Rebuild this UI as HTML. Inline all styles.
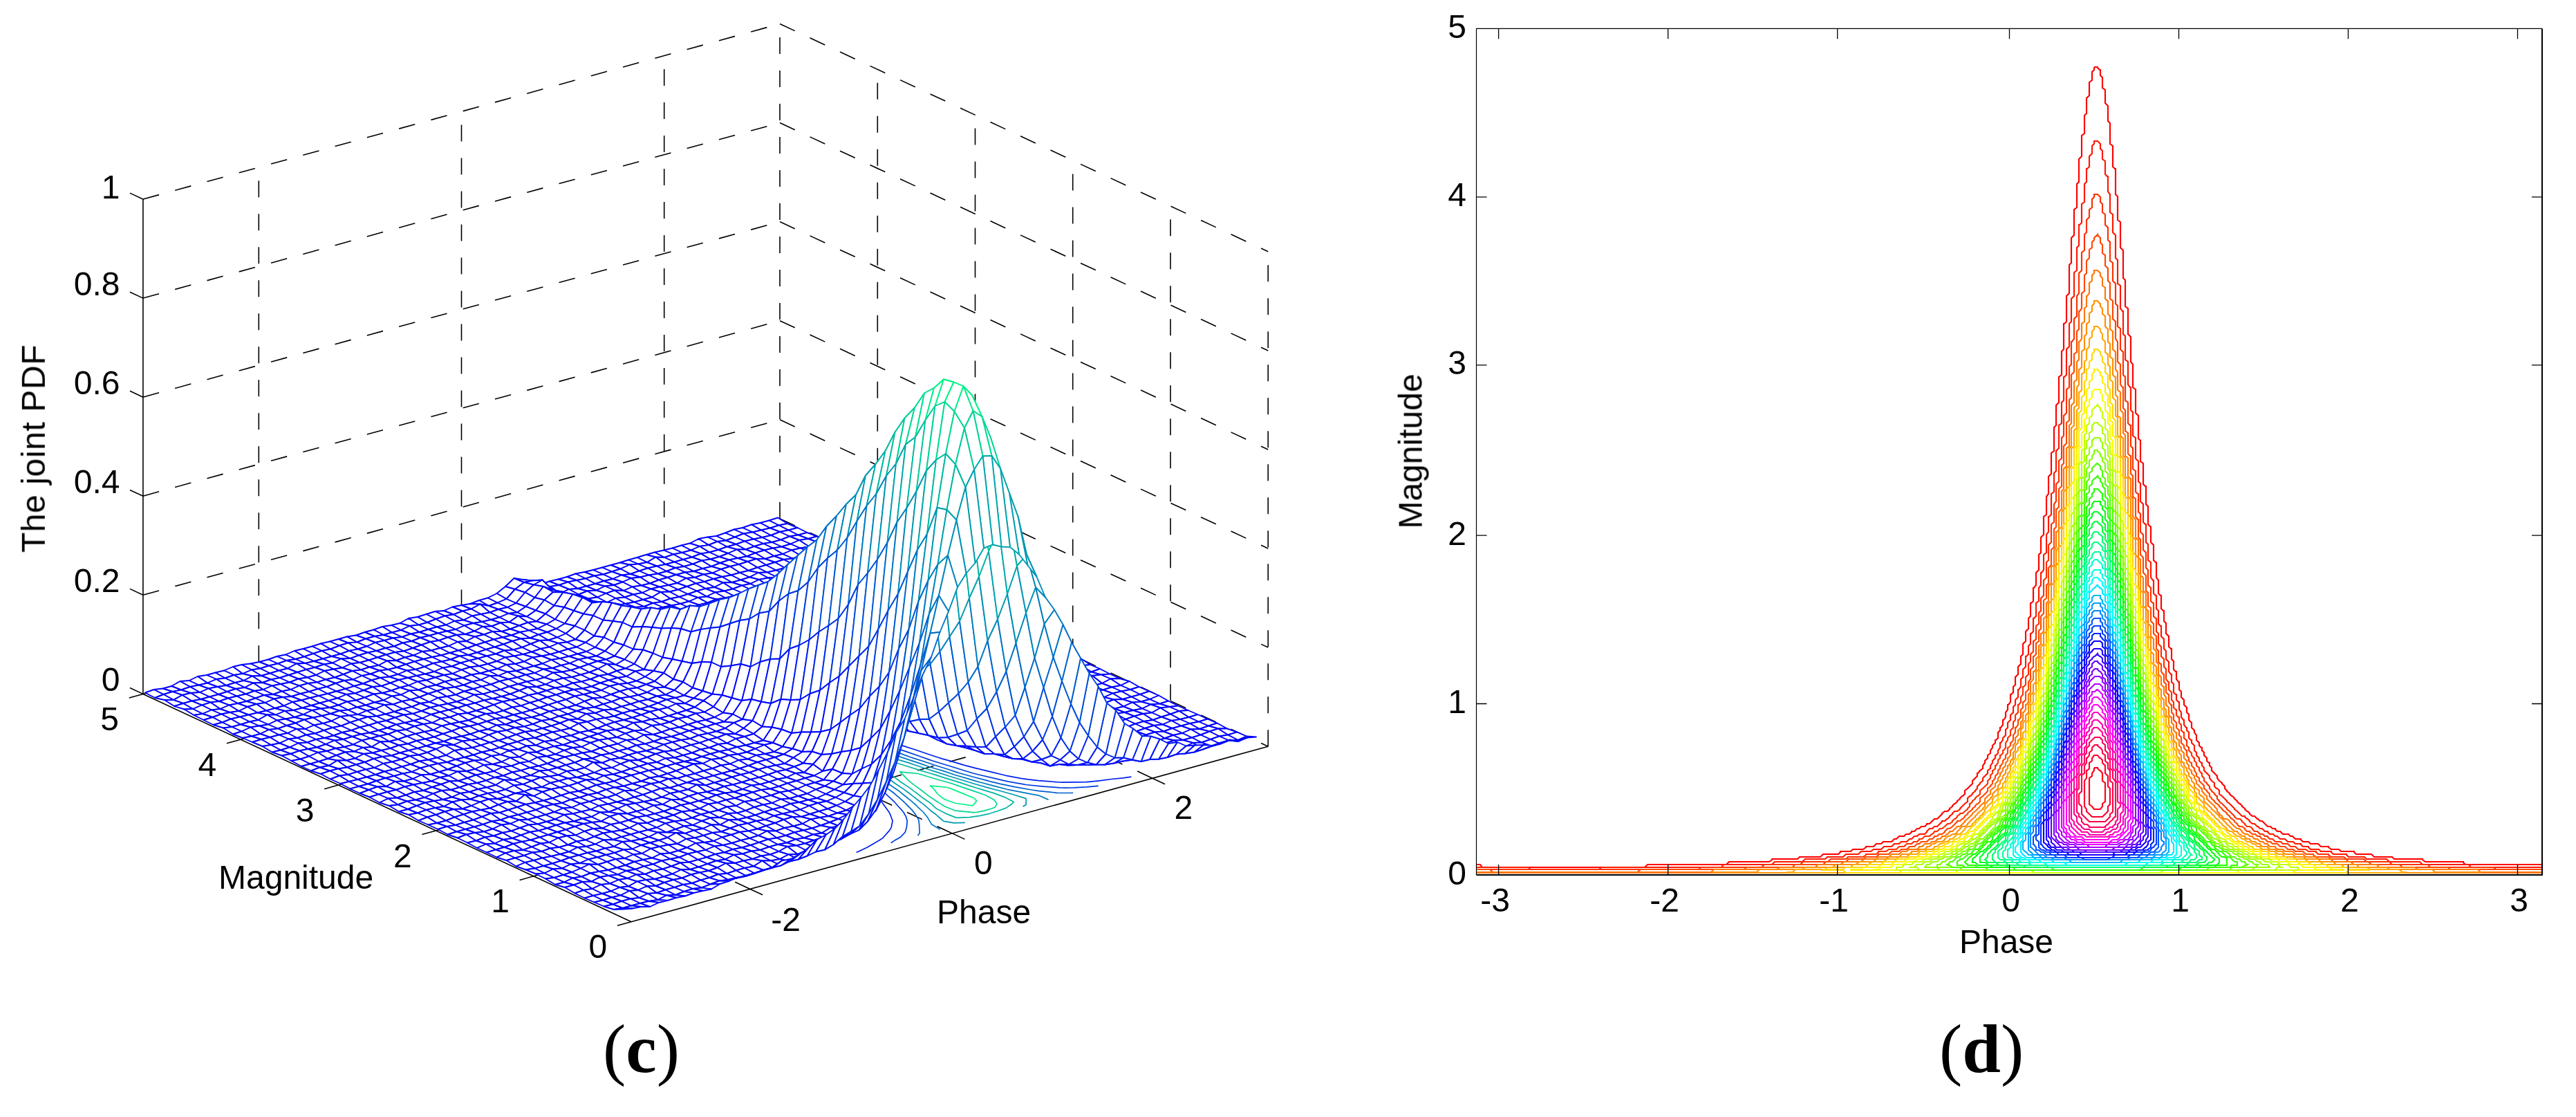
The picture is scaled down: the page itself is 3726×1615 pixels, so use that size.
<!DOCTYPE html>
<html><head><meta charset="utf-8"><title>Joint PDF</title><style>html,body{margin:0;padding:0;background:#fff}svg{display:block}</style></head><body>
<svg width="3726" height="1615" viewBox="0 0 3726 1615">
<rect width="3726" height="1615" fill="#fff"/>
<g fill="none" stroke="#000" stroke-width="1.6">
<g stroke-dasharray="24 24">
<path d="M206.9 860.3L1128 606.8"/>
<path d="M1128 606.8L1834.2 936.1"/>
<path d="M206.9 717.2L1128 463.7"/>
<path d="M1128 463.7L1834.2 793"/>
<path d="M206.9 574.2L1128 320.6"/>
<path d="M1128 320.6L1834.2 649.9"/>
<path d="M206.9 431.1L1128 177.6"/>
<path d="M1128 177.6L1834.2 506.9"/>
<path d="M206.9 288L1128 34.5"/>
<path d="M1128 34.5L1834.2 363.8"/>
<path d="M374.3 957.3L374.3 241.9"/>
<path d="M1085 1285.4L378.8 956.1"/>
<path d="M667.5 876.6L667.5 161.2"/>
<path d="M1377.3 1204.9L671.1 875.6"/>
<path d="M960.7 795.9L960.7 80.5"/>
<path d="M1666.9 1125.2L960.7 795.9"/>
<path d="M1128 749.9L1128 34.5"/>
<path d="M1693 1013.3L1693 297.9"/>
<path d="M771.9 1266.8L1693 1013.3"/>
<path d="M1551.7 947.5L1551.7 232.1"/>
<path d="M630.6 1201L1551.7 947.5"/>
<path d="M1410.5 881.6L1410.5 166.2"/>
<path d="M489.4 1135.1L1410.5 881.6"/>
<path d="M1269.3 815.7L1269.3 100.3"/>
<path d="M348.1 1069.3L1269.3 815.7"/>
<path d="M1834.2 1079.2L1834.2 363.8"/>
<path d="M206.9 1003.4L1128 749.9"/>
<path d="M1128 749.9L1834.2 1079.2"/>
</g>
<path d="M206.9 288L206.9 1003.4"/>
<path d="M206.9 1003.4L913.1 1332.7"/>
<path d="M913.1 1332.7L1834.2 1079.2"/>
<path d="M206.9 1003.4L187.9 994.5"/>
<path d="M206.9 860.3L187.9 851.4"/>
<path d="M206.9 717.2L187.9 708.4"/>
<path d="M206.9 574.2L187.9 565.3"/>
<path d="M206.9 431.1L187.9 422.2"/>
<path d="M206.9 288L187.9 279.1"/>
<path d="M913.1 1332.7L892.9 1338.3"/>
<path d="M771.9 1266.8L751.6 1272.4"/>
<path d="M630.6 1201L610.4 1206.6"/>
<path d="M489.4 1135.1L469.1 1140.7"/>
<path d="M348.1 1069.3L327.9 1074.8"/>
<path d="M206.9 1003.4L186.7 1009"/>
<path d="M1085 1285.4L1103.1 1293.8"/>
<path d="M1377.3 1204.9L1395.4 1213.4"/>
<path d="M1666.9 1125.2L1685 1133.7"/>
</g>
<g fill="none" stroke-width="1.7" stroke-linejoin="round">
<path d="M1636.3 1123.2L1624.4 1124.9L1607.5 1126.5L1592.1 1128.7L1575.2 1130.3L1571.1 1130.6L1556.4 1130.9L1536.6 1131.1L1531.9 1131L1512.6 1129.3L1502 1128.7L1487.1 1126.9L1476.4 1125.3L1455 1121.3L1453.8 1121L1433.7 1116.1L1413.3 1111.2L1412.9 1111.1L1394 1106.1L1375.9 1100.6L1362.2 1096.9L1357.1 1095.3L1340 1089.5L1323.2 1083.7L1305.4 1078.1L1293.6 1074.4L1288.2 1072.4L1272.1 1066.3L1255.8 1060.3L1239.4 1054.4L1223.6 1048.2L1205.7 1042.7L1204.7 1042.3L1190.6 1036.4L1174.7 1030.3L1159.1 1024.1L1143.3 1018L1127 1012L1111.7 1005.7L1094.9 999.9L1087.4 997.1L1079 993.8L1062.5 987.8L1047.1 981.6L1029.9 975.9L1014.8 969.6L998.4 963.6L983 957.4L980 956.4L958.1 953.7L948.8 951.3L954.5 954.7L964.1 962.6L975.8 969.8L986.4 977.4L999.6 984.2L1000.2 984.6L1010.9 991.6L1022.6 998.8L1034.8 1006L1047.7 1012.9L1060 1020L1072.2 1027.1L1085.8 1033.8L1087.2 1034.7L1096.6 1041.3L1108.8 1048.4L1121.7 1055.3L1132.7 1062.8L1145.6 1069.7L1158.5 1076.6L1163.3 1079.5L1169.5 1084.1L1181.3 1091.3L1192.8 1098.6L1204.7 1105.8L1215.9 1113.2L1217.6 1114.3L1225.9 1120.9L1236.9 1128.4L1248 1135.8L1256.3 1141.8L1258 1143.5L1266.8 1151.6L1275.3 1159.7L1276.1 1160.5L1281.8 1168.4L1286.2 1174.6L1287.5 1177.3L1290.9 1186.2L1291 1186.8L1289.5 1195L1288.4 1198L1285.1 1202.4L1279.2 1209L1276.9 1211.6L1271.8 1215L1262.8 1220.2L1253.6 1225.4L1243.7 1230.2L1238.6 1232.6" stroke="#0020ef"/>
<path d="M1588.7 1136.3L1588.2 1136.3L1571.4 1137.9L1553.4 1138.9L1540.6 1139.1L1532.9 1138.8L1509.3 1137.2L1509.2 1137.2L1483.2 1134.5L1481.9 1134.2L1458.9 1130.1L1448.8 1127.8L1438.4 1125.3L1417.5 1120.5L1407.5 1118L1398.5 1115.3L1380.8 1109.7L1362.8 1104.2L1348 1099.7L1344.9 1098.6L1328.3 1092.7L1311.3 1086.9L1294.4 1081.1L1276.6 1075.5L1274 1074.6L1260.3 1069.5L1244 1063.6L1227.4 1057.7L1212.1 1051.4L1195 1045.6L1179.4 1039.5L1175.4 1038.1L1162.2 1033.7L1145.4 1027.9L1128.6 1022L1112.2 1016.1L1095.7 1010.3L1095.2 1010.3L1073.6 1005.7L1062 1004L1066.7 1007.6L1076.9 1015.3L1088.1 1022.7L1097.4 1030L1098.1 1030.4L1110.5 1037.5L1121.5 1044.9L1133.8 1052L1145.3 1059.3L1157.5 1066.4L1165.1 1071L1169.5 1073.6L1181 1080.9L1193 1088.1L1204.7 1095.3L1216.3 1102.6L1225.8 1108.7L1227.6 1110L1238.5 1117.5L1249.8 1124.8L1260.1 1132.5L1269.1 1138.3L1271.2 1139.9L1281 1147.6L1289.7 1155.7L1293.3 1159L1297.6 1164L1305.3 1172.4L1307.3 1175L1310.7 1181.4L1312.2 1186.7L1311.8 1191.6L1311.4 1195.8L1309.4 1202.7L1308.7 1203.9L1302.4 1210.4L1293.3 1215.6L1288.8 1218.8" stroke="#003de1"/>
<path d="M1552.1 1146.3L1549.3 1146.5L1528.9 1146.3L1518.2 1145.2L1502.8 1143.6L1491.9 1142L1471.5 1138.4L1468.6 1137.9L1446.8 1133.4L1433.5 1130.2L1427.1 1128.4L1407.6 1123.3L1388.6 1118L1384.9 1116.9L1371.2 1112.3L1353.5 1106.8L1336.5 1101L1318.8 1095.4L1317.6 1095L1302.4 1089.4L1285.4 1083.6L1268.5 1077.8L1251.9 1071.9L1235.4 1066.1L1235.2 1066L1217.1 1060.5L1201.6 1054.3L1184.3 1048.6L1166.3 1043.1L1164.7 1042.5L1144.4 1038.6L1133 1037.1L1136.9 1040.7L1146.3 1048.6L1157.3 1056L1163.7 1060.9L1167.9 1063.6L1178.7 1071.1L1190.4 1078.3L1202.4 1085.5L1214.4 1092.7L1221 1097L1225.4 1100.1L1235.7 1107.7L1247.4 1115L1259.1 1122.2L1268.2 1128.5L1269.8 1129.8L1280.1 1137.4L1290.8 1145L1300.2 1152.8L1300.2 1152.8L1309.1 1160.9L1317.1 1169.1L1319.1 1171.1L1324.3 1177.6L1328.5 1184.9L1329 1186.8L1329.8 1194.9L1329.7 1197.1L1330.2 1204.5L1327.4 1208.2" stroke="#005dd0"/>
<path d="M1516.5 1156.1L1501.5 1149.8L1492.9 1148.4L1478.9 1145.6L1458.1 1141.6L1456.5 1141.2L1437 1136.1L1417.6 1131L1411.6 1129.4L1399.1 1125.6L1380.8 1120.2L1363.7 1114.4L1351.9 1111L1345.3 1109L1328.6 1103.1L1311.3 1097.4L1294.4 1091.6L1279.7 1086.7L1277.1 1085.9L1259.9 1080.1L1242.2 1074.5L1224.9 1068.8L1213.9 1065.5L1203.9 1064.1L1185.2 1061.5L1191.4 1067.6L1200.8 1075.5L1210.1 1082.5L1211.1 1083.1L1222.4 1090.5L1233.3 1097.9L1243.8 1105.5L1255.2 1112.9L1255.9 1113.3L1266.6 1120.2L1277.5 1127.7L1288 1135.2L1299 1142.7L1299.6 1143.1L1308.6 1150.5L1318.5 1158.3L1325.3 1164.5L1327 1166.4L1335.7 1174.5L1341.4 1181.5L1342.4 1183.1L1347.7 1192.1L1359.9 1199.3" stroke="#0079c2"/>
<path d="M1479.6 1166.3L1484.2 1163.2L1484.1 1154.6L1466.3 1149L1447.4 1143.8L1435.9 1140.7L1428 1138.6L1409.2 1133.3L1391.5 1127.7L1381.5 1124.7L1373.1 1122.3L1355.9 1116.6L1338 1111L1321.2 1105.2L1314.5 1102.9L1303.3 1099.6L1285.6 1094L1267.4 1088.5L1252.4 1083.4L1248.8 1083.2L1228.8 1081.9L1235.2 1086.9L1242.5 1095.4L1246.9 1099.7L1252 1103.3L1263.4 1110.6L1274.3 1118.1L1285.1 1125.6L1289.6 1129L1295.4 1133.2L1306.6 1140.6L1316.9 1148.3L1325.8 1155.3L1326.7 1156L1336.7 1163.7L1345.7 1171.7L1354.2 1178L1355.7 1179.5L1365 1187.4L1379.8 1189.9L1395.9 1189.3" stroke="#009ab2"/>
<path d="M1383.2 1182.4L1383.8 1182.4L1402.4 1181.6L1417.8 1179.4L1431.3 1176.3L1443.4 1172.5L1454.8 1168.4L1463.1 1162.8L1466.3 1159.5L1453.2 1152.6L1437.1 1146.6L1418.8 1141.1L1412.4 1139.2L1400.9 1135.6L1383.5 1129.9L1365.4 1124.4L1349.8 1119.4L1347.7 1118.8L1329.4 1113.4L1311.8 1107.7L1293.8 1102.2L1290.6 1101.2L1266.9 1099.6L1275.1 1107.4L1282.1 1115.9L1282.6 1116.4L1293.4 1123.3L1303.4 1131L1314.7 1138.4L1322.9 1144.6L1325 1146L1334.9 1153.8L1345.9 1161.2L1353.5 1168.3L1354.6 1169.3L1367.8 1176.1L1383.2 1182.4" stroke="#00b6a4"/>
<path d="M1412.6 1174.3L1423 1172.4L1435.4 1168.7L1439.3 1166.9L1442.1 1162.4L1438.3 1156.7L1425.7 1149.7L1408.8 1143.9L1391.8 1138.1L1384.2 1135.4L1374.7 1132.3L1355.9 1127L1337.8 1121.5L1327.7 1118.5L1315.2 1117.3L1301.6 1115.8L1305.9 1119.8L1313.7 1128.2L1321.7 1134.6L1323.8 1135.9L1334 1143.5L1343.8 1151.3L1355 1158.7L1360 1161.9L1366.5 1166L1382.1 1172.2L1382.1 1172.2L1407.8 1174.7L1412.6 1174.3" stroke="#00d794"/>
<path d="M1382.7 1161.5L1407 1164.9L1412.6 1158.1L1409.5 1154.2L1394.1 1147.9L1379 1141.6L1370.6 1138.5L1357.6 1137.1L1345.4 1136.2L1349.4 1139.3L1356.2 1147.9L1364 1154.3L1366.2 1155.6L1371 1157.5L1382.7 1161.5" stroke="#00f386"/>
</g>
<g fill="#fff" stroke-width="1.9" stroke-linejoin="round">
<g stroke="#0000ff">
<path d="M1126.5 759.5l12.5-2.5-14-8.5-12.5 4z"/>
<path d="M1114 763.5l12.5-4-14-7-13 3.5z"/>
<path d="M1101 766.5l13-3-14.5-7.5-12.5 2.5z"/>
<path d="M1088.5 769.5l12.5-3-14-8-13 4.5z"/>
<path d="M1075.5 771.5l13-2-14.5-6.5-12.5 2.5z"/>
<path d="M1063 776.5l12.5-5-14-6-12.5 5z"/>
<path d="M1050 781.5l13-5-14-6-13 4.5z"/>
<path d="M1037.5 783l12.5-1.5-14-6.5-12.5 1.5z"/>
<path d="M1025 788l12.5-5-14-6.5-13 2.5z"/>
<path d="M1012 790l13-2-14.5-9-12.5 6.5z"/>
<path d="M999.5 795.5l12.5-5.5-14-4.5-12.5 3z"/>
<path d="M986.5 799l13-3.5-14-7-13 4z"/>
<path d="M974 801.5l12.5-2.5-14-6.5-12.5 3z"/>
<path d="M961 806l13-4.5-14-6-13 3z"/>
<path d="M948.5 805.5l12.5 0.5-14-7.5-12.5 3.5z"/>
<path d="M936 813l12.5-7.5-14-3.5-13 4z"/>
<path d="M923 815.5l13-2.5-14.5-7-12.5 3.5z"/>
<path d="M910.5 816.5l12.5-1-14-6-12.5 4z"/>
<path d="M897.5 822.5l13-6-14-3-13 3.5z"/>
<path d="M885 826.5l12.5-4-14-5.5-12.5 3.5z"/>
<path d="M872.5 830.5l12.5-4-14-6-13 3.5z"/>
<path d="M859.5 832.5l13-2-14.5-6.5-12.5 3z"/>
<path d="M847 836.5l12.5-4-14-5.5-13 2.5z"/>
<path d="M834 839l13-2.5-14.5-7-12.5 4.5z"/>
<path d="M821.5 841.5l12.5-2.5-14-5-12.5 3.5z"/>
<path d="M808.5 846l13-4.5-14-4-13 3z"/>
<path d="M796 848l12.5-2-14-5.5-12.5 4.5z"/>
<path d="M783.5 851l12.5-3-14-3-13-4z"/>
</g>
<g stroke="#0008fb">
<path d="M770.5 839.5l13 11.5-14.5-10-12.5-3z"/>
<path d="M758 842l12.5-2.5-14-1.5-13-2z"/>
</g>
<g stroke="#0004fd">
<path d="M745 852l13-10-14.5-6-12.5 12z"/>
</g>
<g stroke="#0000ff">
<path d="M732.5 866l12.5-14-14-4-12.5 10z"/>
<path d="M719.5 871.5l13-5.5-14-8-13 6.5z"/>
<path d="M707 876l12.5-4.5-14-7-12.5 3.5z"/>
</g>
<g stroke="#0004fd">
<path d="M694.5 873.5l12.5 2.5-14-8-13 5z"/>
</g>
<g stroke="#0000ff">
<path d="M681.5 880.5l13-7-14.5-0.5-12.5 2z"/>
<path d="M669 883.5l12.5-3-14-5.5-13 2.5z"/>
<path d="M656 888.5l13-5-14.5-6-12.5 5.5z"/>
<path d="M643.5 890.5l12.5-2-14-5.5-12.5 1z"/>
<path d="M630.5 895l13-4.5-14-6.5-13 4z"/>
<path d="M618 900l12.5-5-14-7-12.5 4z"/>
<path d="M605.5 903.5l12.5-3.5-14-8-13 2z"/>
<path d="M592.5 905l13-1.5-14.5-9.5-12.5 7z"/>
<path d="M580 911l12.5-6-14-4-12.5 3z"/>
<path d="M567 914.5l13-3.5-14-7-13 2z"/>
<path d="M554.5 918l12.5-3.5-14-8.5-12.5 4.5z"/>
<path d="M542 920l12.5-2-14-7.5-13 3.5z"/>
<path d="M529 923.5l13-3.5-14.5-6-12.5 4.5z"/>
<path d="M516.5 928.5l12.5-5-14-5-13 2z"/>
<path d="M503.5 929.5l13-1-14.5-8-12.5 3.5z"/>
<path d="M491 933.5l12.5-4-14-5.5-12.5 3.5z"/>
<path d="M478 938.5l13-5-14-6-13 3z"/>
<path d="M465.5 941l12.5-2.5-14-8-12.5 4z"/>
<path d="M453 945l12.5-4-14-6.5-13 3.5z"/>
<path d="M440 949.5l13-4.5-14.5-7-12.5 3z"/>
<path d="M427.5 953l12.5-3.5-14-8.5-13 5.5z"/>
<path d="M414.5 955l13-2-14.5-6.5-12.5 2.5z"/>
<path d="M402 959.5l12.5-4.5-14-6-12.5 4.5z"/>
<path d="M389 962.5l13-3-14-6-13 3.5z"/>
<path d="M376.5 966.5l12.5-4-14-5.5-12.5 2.5z"/>
<path d="M364 968.5l12.5-2-14-7-13 1.5z"/>
<path d="M351 974l13-5.5-14.5-7.5-12.5 3z"/>
<path d="M338.5 976l12.5-2-14-10-13 5.5z"/>
<path d="M325.5 980.5l13-4.5-14.5-6.5-12.5 3z"/>
<path d="M313 982l12.5-1.5-14-8-12.5 3.5z"/>
<path d="M300 987.5l13-5.5-14-6-13 2z"/>
<path d="M287.5 990.5l12.5-3-14-9.5-12.5 6z"/>
<path d="M275 993l12.5-2.5-14-6.5-13 1z"/>
<path d="M262 997.5l13-4.5-14.5-8-12.5 7z"/>
<path d="M249.5 1000l12.5-2.5-14-5.5-12.5 3.5z"/>
<path d="M236.5 1004l13-4-14-4.5-13 1.5z"/>
<path d="M224 1009l12.5-5-14-7-12.5 4.5z"/>
<path d="M1140.5 766.5l13-3.5-14.5-6-12.5 2.5z"/>
<path d="M1128 769l12.5-2.5-14-7-12.5 4z"/>
<path d="M1115 774l13-5-14-5.5-13 3z"/>
<path d="M1102.5 777l12.5-3-14-7.5-12.5 3z"/>
<path d="M1090 779.5l12.5-2.5-14-7.5-13 2z"/>
<path d="M1077 782.5l13-3-14.5-8-12.5 5z"/>
<path d="M1064.5 787l12.5-4.5-14-6-13 5z"/>
<path d="M1051.5 790.5l13-3.5-14.5-5.5-12.5 1.5z"/>
<path d="M1039 795l12.5-4.5-14-7.5-12.5 5z"/>
<path d="M1026 798.5l13-3.5-14-7-13 2z"/>
<path d="M1013.5 800.5l12.5-2-14-8.5-12.5 5.5z"/>
<path d="M1001 805.5l12.5-5-14-5-13 3.5z"/>
<path d="M988 809l13-3.5-14.5-6.5-12.5 2.5z"/>
<path d="M975.5 812.5l12.5-3.5-14-7.5-13 4.5z"/>
<path d="M962.5 816l13-3.5-14.5-6.5-12.5-0.5z"/>
<path d="M950 818.5l12.5-2.5-14-10.5-12.5 7.5z"/>
<path d="M937 821.5l13-3-14-5.5-13 2.5z"/>
<path d="M924.5 825.5l12.5-4-14-6-12.5 1z"/>
<path d="M912 830l12.5-4.5-14-9-13 6z"/>
<path d="M899 831.5l13-1.5-14.5-7.5-12.5 4z"/>
<path d="M886.5 837l12.5-5.5-14-5-12.5 4z"/>
<path d="M873.5 840l13-3-14-6.5-13 2z"/>
<path d="M861 844l12.5-4-14-7.5-12.5 4z"/>
<path d="M848 847.5l13-3.5-14-7.5-13 2.5z"/>
<path d="M835.5 851l12.5-3.5-14-8.5-12.5 2.5z"/>
<path d="M823 852l12.5-1-14-9.5-13 4.5z"/>
<path d="M810 858l13-6-14.5-6-12.5 2z"/>
</g>
<g stroke="#0004fd">
<path d="M797.5 855.5l12.5 2.5-14-10-12.5 3z"/>
</g>
<g stroke="#000cf9">
<path d="M784.5 838.5l13 17-14-4.5-13-11.5z"/>
</g>
<g stroke="#0008fb">
<path d="M772 845.5l12.5-7-14 1-12.5 2.5z"/>
<path d="M759.5 856.5l12.5-11-14-3.5-13 10z"/>
</g>
<g stroke="#0000ff">
<path d="M746.5 872l13-15.5-14.5-4.5-12.5 14z"/>
<path d="M734 878l12.5-6-14-6-13 5.5z"/>
<path d="M721 881l13-3-14.5-6.5-12.5 4.5z"/>
<path d="M708.5 885.5l12.5-4.5-14-5-12.5-2.5z"/>
<path d="M695.5 888l13-2.5-14-12-13 7z"/>
<path d="M683 890.5l12.5-2.5-14-7.5-12.5 3z"/>
<path d="M670.5 896.5l12.5-6-14-7-13 5z"/>
<path d="M657.5 898l13-1.5-14.5-8-12.5 2z"/>
<path d="M645 903.5l12.5-5.5-14-7.5-13 4.5z"/>
<path d="M632 906.5l13-3-14.5-8.5-12.5 5z"/>
<path d="M619.5 910l12.5-3.5-14-6.5-12.5 3.5z"/>
<path d="M606.5 914l13-4-14-6.5-13 1.5z"/>
<path d="M594 916.5l12.5-2.5-14-9-12.5 6z"/>
<path d="M581.5 921l12.5-4.5-14-5.5-13 3.5z"/>
<path d="M568.5 922.5l13-1.5-14.5-6.5-12.5 3.5z"/>
<path d="M556 926l12.5-3.5-14-4.5-12.5 2z"/>
<path d="M543 929l13-3-14-6-13 3.5z"/>
<path d="M530.5 934.5l12.5-5.5-14-5.5-12.5 5z"/>
<path d="M517.5 938.5l13-4-14-6-13 1z"/>
<path d="M505 941l12.5-2.5-14-9-12.5 4z"/>
<path d="M492.5 945.5l12.5-4.5-14-7.5-13 5z"/>
<path d="M479.5 949l13-3.5-14.5-7-12.5 2.5z"/>
<path d="M467 952.5l12.5-3.5-14-8-12.5 4z"/>
<path d="M454 956l13-3.5-14-7.5-13 4.5z"/>
<path d="M441.5 959l12.5-3-14-6.5-12.5 3.5z"/>
<path d="M429 959.5l12.5-0.5-14-6-13 2z"/>
<path d="M416 966.5l13-7-14.5-4.5-12.5 4.5z"/>
<path d="M403.5 969.5l12.5-3-14-7-13 3z"/>
<path d="M390.5 973.5l13-4-14.5-7-12.5 4z"/>
<path d="M378 977l12.5-3.5-14-7-12.5 2z"/>
<path d="M365 977.5l13-0.5-14-8.5-13 5.5z"/>
<path d="M352.5 984l12.5-6.5-14-3.5-12.5 2z"/>
<path d="M340 987l12.5-3-14-8-13 4.5z"/>
<path d="M327 991l13-4-14.5-6.5-12.5 1.5z"/>
<path d="M314.5 993l12.5-2-14-9-13 5.5z"/>
<path d="M301.5 995.5l13-2.5-14.5-5.5-12.5 3z"/>
<path d="M289 1001l12.5-5.5-14-5-12.5 2.5z"/>
<path d="M276 1002l13-1-14-8-13 4.5z"/>
<path d="M263.5 1005l12.5-3-14-4.5-12.5 2.5z"/>
<path d="M251 1012l12.5-7-14-5-13 4z"/>
<path d="M238 1012l13 0-14.5-8-12.5 5z"/>
<path d="M1154.5 773.5l13-3.5-14-7-13 3.5z"/>
<path d="M1142 775.5l12.5-2-14-7-12.5 2.5z"/>
<path d="M1129.5 780.5l12.5-5-14-6.5-13 5z"/>
<path d="M1116.5 784l13-3.5-14.5-6.5-12.5 3z"/>
<path d="M1104 786l12.5-2-14-7-12.5 2.5z"/>
<path d="M1091 790l13-4-14-6.5-13 3z"/>
<path d="M1078.5 794.5l12.5-4.5-14-7.5-12.5 4.5z"/>
<path d="M1066 794.5l12.5 0-14-7.5-13 3.5z"/>
<path d="M1053 800l13-5.5-14.5-4-12.5 4.5z"/>
<path d="M1040.5 805l12.5-5-14-5-13 3.5z"/>
<path d="M1027.5 808.5l13-3.5-14.5-6.5-12.5 2z"/>
<path d="M1015 810.5l12.5-2-14-8-12.5 5z"/>
<path d="M1002 815.5l13-5-14-5-13 3.5z"/>
<path d="M989.5 819l12.5-3.5-14-6.5-12.5 3.5z"/>
<path d="M977 821l12.5-2-14-6.5-13 3.5z"/>
<path d="M964 826l13-5-14.5-5-12.5 2.5z"/>
<path d="M951.5 829.5l12.5-3.5-14-7.5-13 3z"/>
<path d="M938.5 831.5l13-2-14.5-8-12.5 4z"/>
<path d="M926 834.5l12.5-3-14-6-12.5 4.5z"/>
<path d="M913 836l13-1.5-14-4.5-13 1.5z"/>
<path d="M900.5 841.5l12.5-5.5-14-4.5-12.5 5.5z"/>
<path d="M888 846l12.5-4.5-14-4.5-13 3z"/>
<path d="M875 847.5l13-1.5-14.5-6-12.5 4z"/>
<path d="M862.5 853.5l12.5-6-14-3.5-13 3.5z"/>
<path d="M849.5 854.5l13-1-14.5-6-12.5 3.5z"/>
<path d="M837 859.5l12.5-5-14-3.5-12.5 1z"/>
<path d="M824 863.5l13-4-14-7.5-13 6z"/>
</g>
<g stroke="#0004fd">
<path d="M811.5 859l12.5 4.5-14-5.5-12.5-2.5z"/>
</g>
<g stroke="#0008fb">
<path d="M799 853l12.5 6-14-3.5-13-17z"/>
</g>
<g stroke="#000cf9">
<path d="M786 848l13 5-14.5-14.5-12.5 7z"/>
</g>
<g stroke="#0008fb">
<path d="M773.5 864l12.5-16-14-2.5-12.5 11z"/>
</g>
<g stroke="#0004fd">
<path d="M760.5 877l13-13-14-7.5-13 15.5z"/>
</g>
<g stroke="#0000ff">
<path d="M748 885.5l12.5-8.5-14-5-12.5 6z"/>
<path d="M735.5 887l12.5-1.5-14-7.5-13 3z"/>
<path d="M722.5 892.5l13-5.5-14.5-6-12.5 4.5z"/>
<path d="M710 896l12.5-3.5-14-7-13 2.5z"/>
<path d="M697 899l13-3-14.5-8-12.5 2.5z"/>
<path d="M684.5 901l12.5-2-14-8.5-12.5 6z"/>
<path d="M671.5 904.5l13-3.5-14-4.5-13 1.5z"/>
<path d="M659 910l12.5-5.5-14-6.5-12.5 5.5z"/>
<path d="M646.5 912.5l12.5-2.5-14-6.5-13 3z"/>
<path d="M633.5 915.5l13-3-14.5-6-12.5 3.5z"/>
<path d="M621 919l12.5-3.5-14-5.5-13 4z"/>
<path d="M608 922l13-3-14.5-5-12.5 2.5z"/>
<path d="M595.5 927l12.5-5-14-5.5-12.5 4.5z"/>
<path d="M582.5 929.5l13-2.5-14-6-13 1.5z"/>
<path d="M570 934.5l12.5-5-14-7-12.5 3.5z"/>
<path d="M557.5 937l12.5-2.5-14-8.5-13 3z"/>
<path d="M544.5 941l13-4-14.5-8-12.5 5.5z"/>
<path d="M532 943.5l12.5-2.5-14-6.5-13 4z"/>
<path d="M519 947.5l13-4-14.5-5-12.5 2.5z"/>
<path d="M506.5 952l12.5-4.5-14-6.5-12.5 4.5z"/>
<path d="M493.5 952.5l13-0.5-14-6.5-13 3.5z"/>
<path d="M481 958.5l12.5-6-14-3.5-12.5 3.5z"/>
<path d="M468.5 960.5l12.5-2-14-6-13 3.5z"/>
<path d="M455.5 965l13-4.5-14.5-4.5-12.5 3z"/>
<path d="M443 968l12.5-3-14-6-12.5 0.5z"/>
<path d="M430 972l13-4-14-8.5-13 7z"/>
<path d="M417.5 976l12.5-4-14-5.5-12.5 3z"/>
<path d="M404.5 980l13-4-14-6.5-13 4z"/>
<path d="M392 982.5l12.5-2.5-14-6.5-12.5 3.5z"/>
<path d="M379.5 987l12.5-4.5-14-5.5-13 0.5z"/>
<path d="M366.5 987.5l13-0.5-14.5-9.5-12.5 6.5z"/>
<path d="M354 994l12.5-6.5-14-3.5-12.5 3z"/>
<path d="M341 996l13-2-14-7-13 4z"/>
<path d="M328.5 1000l12.5-4-14-5-12.5 2z"/>
<path d="M316 1004l12.5-4-14-7-13 2.5z"/>
<path d="M303 1007.5l13-3.5-14.5-8.5-12.5 5.5z"/>
<path d="M290.5 1011l12.5-3.5-14-6.5-13 1z"/>
<path d="M277.5 1013.5l13-2.5-14.5-9-12.5 3z"/>
<path d="M265 1017l12.5-3.5-14-8.5-12.5 7z"/>
<path d="M252 1021l13-4-14-5-13 0z"/>
<path d="M1169 779l12.5-3.5-14-5.5-13 3.5z"/>
<path d="M1156 781l13-2-14.5-5.5-12.5 2z"/>
<path d="M1143.5 786.5l12.5-5.5-14-5.5-12.5 5z"/>
<path d="M1130.5 790.5l13-4-14-6-13 3.5z"/>
<path d="M1118 792.5l12.5-2-14-6.5-12.5 2z"/>
<path d="M1105.5 795.5l12.5-3-14-6.5-13 4z"/>
<path d="M1092.5 799.5l13-4-14.5-5.5-12.5 4.5z"/>
<path d="M1080 804.5l12.5-5-14-5-12.5 0z"/>
<path d="M1067 807l13-2.5-14-10-13 5.5z"/>
<path d="M1054.5 809.5l12.5-2.5-14-7-12.5 5z"/>
<path d="M1041.5 814l13-4.5-14-4.5-13 3.5z"/>
<path d="M1029 819l12.5-5-14-5.5-12.5 2z"/>
<path d="M1016.5 822l12.5-3-14-8.5-13 5z"/>
<path d="M1003.5 826l13-4-14.5-6.5-12.5 3.5z"/>
<path d="M991 827.5l12.5-1.5-14-7-12.5 2z"/>
<path d="M978 831l13-3.5-14-6.5-13 5z"/>
<path d="M965.5 835l12.5-4-14-5-12.5 3.5z"/>
<path d="M953 838.5l12.5-3.5-14-5.5-13 2z"/>
<path d="M940 843.5l13-5-14.5-7-12.5 3z"/>
<path d="M927.5 846.5l12.5-3-14-9-13 1.5z"/>
<path d="M914.5 848.5l13-2-14.5-10.5-12.5 5.5z"/>
<path d="M902 854l12.5-5.5-14-7-12.5 4.5z"/>
<path d="M889 853.5l13 0.5-14-8-13 1.5z"/>
<path d="M876.5 858l12.5-4.5-14-6-12.5 6z"/>
<path d="M864 863.5l12.5-5.5-14-4.5-13 1z"/>
<path d="M851 865.5l13-2-14.5-9-12.5 5z"/>
<path d="M838.5 869.5l12.5-4-14-6-13 4z"/>
</g>
<g stroke="#0004fd">
<path d="M825.5 863.5l13 6-14.5-6-12.5-4.5z"/>
</g>
<g stroke="#0008fb">
<path d="M813 855.5l12.5 8-14-4.5-12.5-6z"/>
</g>
<g stroke="#000cf9">
<path d="M800 856l13-0.5-14-2.5-13-5z"/>
</g>
<g stroke="#0008fb">
<path d="M787.5 867.5l12.5-11.5-14-8-12.5 16z"/>
</g>
<g stroke="#0004fd">
<path d="M775 882.5l12.5-15-14-3.5-13 13z"/>
</g>
<g stroke="#0000ff">
<path d="M762 891.5l13-9-14.5-5.5-12.5 8.5z"/>
</g>
<g stroke="#0004fd">
<path d="M749.5 890.5l12.5 1-14-6-12.5 1.5z"/>
</g>
<g stroke="#0000ff">
<path d="M736.5 899.5l13-9-14-3.5-13 5.5z"/>
<path d="M724 900.5l12.5-1-14-7-12.5 3.5z"/>
<path d="M711 905.5l13-5-14-4.5-13 3z"/>
<path d="M698.5 906l12.5-0.5-14-6.5-12.5 2z"/>
<path d="M686 912.5l12.5-6.5-14-5-13 3.5z"/>
<path d="M673 917l13-4.5-14.5-8-12.5 5.5z"/>
<path d="M660.5 918l12.5-1-14-7-12.5 2.5z"/>
<path d="M647.5 921.5l13-3.5-14-5.5-13 3z"/>
<path d="M635 926l12.5-4.5-14-6-12.5 3.5z"/>
<path d="M622.5 928l12.5-2-14-7-13 3z"/>
<path d="M609.5 932.5l13-4.5-14.5-6-12.5 5z"/>
<path d="M597 937l12.5-4.5-14-5.5-13 2.5z"/>
<path d="M584 941.5l13-4.5-14.5-7.5-12.5 5z"/>
<path d="M571.5 943l12.5-1.5-14-7-12.5 2.5z"/>
<path d="M558.5 946.5l13-3.5-14-6-13 4z"/>
<path d="M546 950.5l12.5-4-14-5.5-12.5 2.5z"/>
<path d="M533.5 954.5l12.5-4-14-7-13 4z"/>
<path d="M520.5 958l13-3.5-14.5-7-12.5 4.5z"/>
<path d="M508 959.5l12.5-1.5-14-6-13 0.5z"/>
<path d="M495 965.5l13-6-14.5-7-12.5 6z"/>
<path d="M482.5 967.5l12.5-2-14-7-12.5 2z"/>
<path d="M469.5 970l13-2.5-14-7-13 4.5z"/>
<path d="M457 976l12.5-6-14-5-12.5 3z"/>
<path d="M444.5 979.5l12.5-3.5-14-8-13 4z"/>
<path d="M431.5 981.5l13-2-14.5-7.5-12.5 4z"/>
<path d="M419 986.5l12.5-5-14-5.5-13 4z"/>
<path d="M406 989l13-2.5-14.5-6.5-12.5 2.5z"/>
<path d="M393.5 991.5l12.5-2.5-14-6.5-12.5 4.5z"/>
<path d="M380.5 997l13-5.5-14-4.5-13 0.5z"/>
<path d="M368 999l12.5-2-14-9.5-12.5 6.5z"/>
<path d="M355.5 1003.5l12.5-4.5-14-5-13 2z"/>
<path d="M342.5 1006.5l13-3-14.5-7.5-12.5 4z"/>
<path d="M330 1009.5l12.5-3-14-6.5-12.5 4z"/>
<path d="M317 1014l13-4.5-14-5.5-13 3.5z"/>
<path d="M304.5 1015.5l12.5-1.5-14-6.5-12.5 3.5z"/>
<path d="M292 1019.5l12.5-4-14-4.5-13 2.5z"/>
<path d="M279 1025l13-5.5-14.5-6-12.5 3.5z"/>
<path d="M266.5 1025.5l12.5-0.5-14-8-13 4z"/>
<path d="M1183 784l12.5-2-14-6.5-12.5 3.5z"/>
<path d="M1170.5 790.5l12.5-6.5-14-5-13 2z"/>
<path d="M1157.5 792.5l13-2-14.5-9.5-12.5 5.5z"/>
<path d="M1145 795.5l12.5-3-14-6-13 4z"/>
<path d="M1132 801l13-5.5-14.5-5-12.5 2z"/>
<path d="M1119.5 804l12.5-3-14-8.5-12.5 3z"/>
<path d="M1106.5 808l13-4-14-8.5-13 4z"/>
<path d="M1094 808l12.5 0-14-8.5-12.5 5z"/>
<path d="M1081.5 812l12.5-4-14-3.5-13 2.5z"/>
<path d="M1068.5 816l13-4-14.5-5-12.5 2.5z"/>
<path d="M1056 819l12.5-3-14-6.5-13 4.5z"/>
<path d="M1043 823l13-4-14.5-5-12.5 5z"/>
<path d="M1030.5 828.5l12.5-5.5-14-4-12.5 3z"/>
<path d="M1017.5 830.5l13-2-14-6.5-13 4z"/>
<path d="M1005 835l12.5-4.5-14-4.5-12.5 1.5z"/>
<path d="M992.5 836l12.5-1-14-7.5-13 3.5z"/>
<path d="M979.5 843l13-7-14.5-5-12.5 4z"/>
<path d="M967 846l12.5-3-14-8-12.5 3.5z"/>
<path d="M954 848.5l13-2.5-14-7.5-13 5z"/>
<path d="M941.5 851.5l12.5-3-14-5-12.5 3z"/>
<path d="M929 857l12.5-5.5-14-5-13 2z"/>
<path d="M916 859.5l13-2.5-14.5-8.5-12.5 5.5z"/>
<path d="M903.5 863.5l12.5-4-14-5.5-13-0.5z"/>
<path d="M890.5 865l13-1.5-14.5-10-12.5 4.5z"/>
<path d="M878 871l12.5-6-14-7-12.5 5.5z"/>
<path d="M865 872.5l13-1.5-14-7.5-13 2z"/>
<path d="M852.5 875l12.5-2.5-14-7-12.5 4z"/>
</g>
<g stroke="#0004fd">
<path d="M840 870.5l12.5 4.5-14-5.5-13-6z"/>
</g>
<g stroke="#000cf9">
<path d="M827 859.5l13 11-14.5-7-12.5-8z"/>
<path d="M814.5 856.5l12.5 3-14-4-13 0.5z"/>
</g>
<g stroke="#0008fb">
<path d="M801.5 875.5l13-19-14.5-0.5-12.5 11.5z"/>
</g>
<g stroke="#0004fd">
<path d="M789 887.5l12.5-12-14-8-12.5 15z"/>
</g>
<g stroke="#0000ff">
<path d="M776 898.5l13-11-14-5-13 9z"/>
<path d="M763.5 900l12.5-1.5-14-7-12.5-1z"/>
<path d="M751 904.5l12.5-4.5-14-9.5-13 9z"/>
<path d="M738 909.5l13-5-14.5-5-12.5 1z"/>
<path d="M725.5 913l12.5-3.5-14-9-13 5z"/>
<path d="M712.5 913l13 0-14.5-7.5-12.5 0.5z"/>
<path d="M700 917.5l12.5-4.5-14-7-12.5 6.5z"/>
<path d="M687 920.5l13-3-14-5-13 4.5z"/>
<path d="M674.5 927l12.5-6.5-14-3.5-12.5 1z"/>
<path d="M662 928l12.5-1-14-9-13 3.5z"/>
<path d="M649 934l13-6-14.5-6.5-12.5 4.5z"/>
<path d="M636.5 937l12.5-3-14-8-12.5 2z"/>
<path d="M623.5 940.5l13-3.5-14-9-13 4.5z"/>
<path d="M611 942l12.5-1.5-14-8-12.5 4.5z"/>
<path d="M598 947.5l13-5.5-14-5-13 4.5z"/>
<path d="M585.5 950.5l12.5-3-14-6-12.5 1.5z"/>
<path d="M573 955l12.5-4.5-14-7.5-13 3.5z"/>
<path d="M560 955.5l13-0.5-14.5-8.5-12.5 4z"/>
<path d="M547.5 962l12.5-6.5-14-5-12.5 4z"/>
<path d="M534.5 964.5l13-2.5-14-7.5-13 3.5z"/>
<path d="M522 968.5l12.5-4-14-6.5-12.5 1.5z"/>
<path d="M509.5 970l12.5-1.5-14-9-13 6z"/>
<path d="M496.5 975l13-5-14.5-4.5-12.5 2z"/>
<path d="M484 979.5l12.5-4.5-14-7.5-13 2.5z"/>
<path d="M471 982.5l13-3-14.5-9.5-12.5 6z"/>
<path d="M458.5 986.5l12.5-4-14-6.5-12.5 3.5z"/>
<path d="M445.5 988l13-1.5-14-7-13 2z"/>
<path d="M433 991.5l12.5-3.5-14-6.5-12.5 5z"/>
<path d="M420.5 997l12.5-5.5-14-5-13 2.5z"/>
<path d="M407.5 999.5l13-2.5-14.5-8-12.5 2.5z"/>
<path d="M395 1004l12.5-4.5-14-8-13 5.5z"/>
<path d="M382 1005l13-1-14.5-7-12.5 2z"/>
<path d="M369.5 1009.5l12.5-4.5-14-6-12.5 4.5z"/>
<path d="M356.5 1014l13-4.5-14-6-13 3z"/>
<path d="M344 1017l12.5-3-14-7.5-12.5 3z"/>
<path d="M331.5 1019.5l12.5-2.5-14-7.5-13 4.5z"/>
<path d="M318.5 1025l13-5.5-14.5-5.5-12.5 1.5z"/>
<path d="M306 1026.5l12.5-1.5-14-9.5-12.5 4z"/>
<path d="M293 1032l13-5.5-14-7-13 5.5z"/>
<path d="M280.5 1034l12.5-2-14-7-12.5 0.5z"/>
<path d="M1197 792.5l13-3.5-14.5-7-12.5 2z"/>
<path d="M1184.5 797l12.5-4.5-14-8.5-12.5 6.5z"/>
<path d="M1171.5 798.5l13-1.5-14-6.5-13 2z"/>
<path d="M1159 804l12.5-5.5-14-6-12.5 3z"/>
<path d="M1146.5 807.5l12.5-3.5-14-8.5-13 5.5z"/>
<path d="M1133.5 809l13-1.5-14.5-6.5-12.5 3z"/>
<path d="M1121 813l12.5-4-14-5-13 4z"/>
<path d="M1108 817l13-4-14.5-5-12.5 0z"/>
<path d="M1095.5 820.5l12.5-3.5-14-9-12.5 4z"/>
<path d="M1082.5 825l13-4.5-14-8.5-13 4z"/>
<path d="M1070 828l12.5-3-14-9-12.5 3z"/>
<path d="M1057.5 831.5l12.5-3.5-14-9-13 4z"/>
<path d="M1044.5 834l13-2.5-14.5-8.5-12.5 5.5z"/>
<path d="M1032 837l12.5-3-14-5.5-13 2z"/>
<path d="M1019 841l13-4-14.5-6.5-12.5 4.5z"/>
<path d="M1006.5 843.5l12.5-2.5-14-6-12.5 1z"/>
<path d="M993.5 848l13-4.5-14-7.5-13 7z"/>
<path d="M981 852.5l12.5-4.5-14-5-12.5 3z"/>
<path d="M968.5 855.5l12.5-3-14-6.5-13 2.5z"/>
<path d="M955.5 856l13-0.5-14.5-7-12.5 3z"/>
<path d="M943 863.5l12.5-7.5-14-4.5-12.5 5.5z"/>
<path d="M930 867l13-3.5-14-6.5-13 2.5z"/>
<path d="M917.5 870.5l12.5-3.5-14-7.5-12.5 4z"/>
<path d="M904.5 873l13-2.5-14-7-13 1.5z"/>
<path d="M892 875.5l12.5-2.5-14-8-12.5 6z"/>
<path d="M879.5 878l12.5-2.5-14-4.5-13 1.5z"/>
</g>
<g stroke="#0004fd">
<path d="M866.5 878.5l13-0.5-14.5-5.5-12.5 2.5z"/>
<path d="M854 875l12.5 3.5-14-3.5-12.5-4.5z"/>
</g>
<g stroke="#000cf9">
<path d="M841 862.5l13 12.5-14-4.5-13-11z"/>
</g>
<g stroke="#0010f7">
<path d="M828.5 859l12.5 3.5-14-3-12.5-3z"/>
</g>
<g stroke="#0008fb">
<path d="M816 878l12.5-19-14-2.5-13 19z"/>
</g>
<g stroke="#0004fd">
<path d="M803 895.5l13-17.5-14.5-2.5-12.5 12z"/>
</g>
<g stroke="#0000ff">
<path d="M790.5 902.5l12.5-7-14-8-13 11z"/>
<path d="M777.5 909l13-6.5-14.5-4-12.5 1.5z"/>
<path d="M765 911.5l12.5-2.5-14-9-12.5 4.5z"/>
<path d="M752 914l13-2.5-14-7-13 5z"/>
<path d="M739.5 918.5l12.5-4.5-14-4.5-12.5 3.5z"/>
<path d="M727 921.5l12.5-3-14-5.5-13 0z"/>
<path d="M714 924.5l13-3-14.5-8.5-12.5 4.5z"/>
<path d="M701.5 928.5l12.5-4-14-7-13 3z"/>
<path d="M688.5 932.5l13-4-14.5-8-12.5 6.5z"/>
<path d="M676 937l12.5-4.5-14-5.5-12.5 1z"/>
<path d="M663 940.5l13-3.5-14-9-13 6z"/>
<path d="M650.5 944l12.5-3.5-14-6.5-12.5 3z"/>
<path d="M638 947.5l12.5-3.5-14-7-13 3.5z"/>
<path d="M625 950l13-2.5-14.5-7-12.5 1.5z"/>
<path d="M612.5 953l12.5-3-14-8-13 5.5z"/>
<path d="M599.5 956.5l13-3.5-14.5-5.5-12.5 3z"/>
<path d="M587 960.5l12.5-4-14-6-12.5 4.5z"/>
<path d="M574 965l13-4.5-14-5.5-13 0.5z"/>
<path d="M561.5 968l12.5-3-14-9.5-12.5 6.5z"/>
<path d="M549 969.5l12.5-1.5-14-6-13 2.5z"/>
<path d="M536 974.5l13-5-14.5-5-12.5 4z"/>
<path d="M523.5 977l12.5-2.5-14-6-12.5 1.5z"/>
<path d="M510.5 982.5l13-5.5-14-7-13 5z"/>
<path d="M498 984l12.5-1.5-14-7.5-12.5 4.5z"/>
<path d="M485.5 988l12.5-4-14-4.5-13 3z"/>
<path d="M472.5 993l13-5-14.5-5.5-12.5 4z"/>
<path d="M460 996l12.5-3-14-6.5-13 1.5z"/>
<path d="M447 1000l13-4-14.5-8-12.5 3.5z"/>
<path d="M434.5 1003l12.5-3-14-8.5-12.5 5.5z"/>
<path d="M421.5 1007l13-4-14-6-13 2.5z"/>
<path d="M409 1008l12.5-1-14-7.5-12.5 4.5z"/>
<path d="M396.5 1010.5l12.5-2.5-14-4-13 1z"/>
<path d="M383.5 1016l13-5.5-14.5-5.5-12.5 4.5z"/>
<path d="M371 1018l12.5-2-14-6.5-13 4.5z"/>
<path d="M358 1022l13-4-14.5-4-12.5 3z"/>
<path d="M345.5 1028l12.5-6-14-5-12.5 2.5z"/>
<path d="M332.5 1030l13-2-14-8.5-13 5.5z"/>
<path d="M320 1032.5l12.5-2.5-14-5-12.5 1.5z"/>
<path d="M307.5 1037l12.5-4.5-14-6-13 5.5z"/>
<path d="M294.5 1041l13-4-14.5-5-12.5 2z"/>
<path d="M1211 799l13-4-14-6-13 3.5z"/>
<path d="M1198.5 800l12.5-1-14-6.5-12.5 4.5z"/>
<path d="M1186 805l12.5-5-14-3-13 1.5z"/>
<path d="M1173 809l13-4-14.5-6.5-12.5 5.5z"/>
<path d="M1160.5 812.5l12.5-3.5-14-5-12.5 3.5z"/>
<path d="M1147.5 816l13-3.5-14-5-13 1.5z"/>
<path d="M1135 821l12.5-5-14-7-12.5 4z"/>
<path d="M1122.5 824.5l12.5-3.5-14-8-13 4z"/>
<path d="M1109.5 827.5l13-3-14.5-7.5-12.5 3.5z"/>
<path d="M1097 828l12.5-0.5-14-7-13 4.5z"/>
<path d="M1084 834.5l13-6.5-14.5-3-12.5 3z"/>
<path d="M1071.5 838.5l12.5-4-14-6.5-12.5 3.5z"/>
<path d="M1058.5 842l13-3.5-14-7-13 2.5z"/>
<path d="M1046 842.5l12.5-0.5-14-8-12.5 3z"/>
<path d="M1033.5 849l12.5-6.5-14-5.5-13 4z"/>
<path d="M1020.5 851l13-2-14.5-8-12.5 2.5z"/>
<path d="M1008 854.5l12.5-3.5-14-7.5-13 4.5z"/>
<path d="M995 859l13-4.5-14.5-6.5-12.5 4.5z"/>
<path d="M982.5 863l12.5-4-14-6.5-12.5 3z"/>
<path d="M969.5 865.5l13-2.5-14-7.5-13 0.5z"/>
<path d="M957 870l12.5-4.5-14-9.5-12.5 7.5z"/>
<path d="M944.5 872l12.5-2-14-6.5-13 3.5z"/>
<path d="M931.5 877l13-5-14.5-5-12.5 3.5z"/>
<path d="M919 878l12.5-1-14-6.5-13 2.5z"/>
<path d="M906 884l13-6-14.5-5-12.5 2.5z"/>
<path d="M893.5 885.5l12.5-1.5-14-8.5-12.5 2.5z"/>
<path d="M880.5 886.5l13-1-14-7.5-13 0.5z"/>
</g>
<g stroke="#0004fd">
<path d="M868 884l12.5 2.5-14-8-12.5-3.5z"/>
</g>
<g stroke="#000cf9">
<path d="M855.5 869l12.5 15-14-9-13-12.5z"/>
</g>
<g stroke="#0010f7">
<path d="M842.5 864l13 5-14.5-6.5-12.5-3.5z"/>
</g>
<g stroke="#0008fb">
<path d="M830 883l12.5-19-14-5-12.5 19z"/>
</g>
<g stroke="#0004fd">
<path d="M817 901.5l13-18.5-14-5-13 17.5z"/>
</g>
<g stroke="#0000ff">
<path d="M804.5 909l12.5-7.5-14-6-12.5 7z"/>
<path d="M791.5 914l13-5-14-6.5-13 6.5z"/>
<path d="M779 917.5l12.5-3.5-14-5-12.5 2.5z"/>
<path d="M766.5 922.5l12.5-5-14-6-13 2.5z"/>
<path d="M753.5 923.5l13-1-14.5-8.5-12.5 4.5z"/>
<path d="M741 927l12.5-3.5-14-5-12.5 3z"/>
<path d="M728 931.5l13-4.5-14-5.5-13 3z"/>
<path d="M715.5 935.5l12.5-4-14-7-12.5 4z"/>
<path d="M703 939l12.5-3.5-14-7-13 4z"/>
<path d="M690 943.5l13-4.5-14.5-6.5-12.5 4.5z"/>
<path d="M677.5 947l12.5-3.5-14-6.5-13 3.5z"/>
<path d="M664.5 948.5l13-1.5-14.5-6.5-12.5 3.5z"/>
<path d="M652 953.5l12.5-5-14-4.5-12.5 3.5z"/>
<path d="M639 956.5l13-3-14-6-13 2.5z"/>
<path d="M626.5 959l12.5-2.5-14-6.5-12.5 3z"/>
<path d="M614 964l12.5-5-14-6-13 3.5z"/>
<path d="M601 968l13-4-14.5-7.5-12.5 4z"/>
<path d="M588.5 969.5l12.5-1.5-14-7.5-13 4.5z"/>
<path d="M575.5 975l13-5.5-14.5-4.5-12.5 3z"/>
<path d="M563 978.5l12.5-3.5-14-7-12.5 1.5z"/>
<path d="M550 980l13-1.5-14-9-13 5z"/>
<path d="M537.5 983.5l12.5-3.5-14-5.5-12.5 2.5z"/>
<path d="M525 988.5l12.5-5-14-6.5-13 5.5z"/>
<path d="M512 992l13-3.5-14.5-6-12.5 1.5z"/>
<path d="M499.5 996l12.5-4-14-8-12.5 4z"/>
<path d="M486.5 999.5l13-3.5-14-8-13 5z"/>
<path d="M474 1003l12.5-3.5-14-6.5-12.5 3z"/>
<path d="M461 1006l13-3-14-7-13 4z"/>
<path d="M448.5 1009l12.5-3-14-6-12.5 3z"/>
<path d="M436 1012.5l12.5-3.5-14-6-13 4z"/>
<path d="M423 1015l13-2.5-14.5-5.5-12.5 1z"/>
<path d="M410.5 1020.5l12.5-5.5-14-7-12.5 2.5z"/>
<path d="M397.5 1024l13-3.5-14-10-13 5.5z"/>
<path d="M385 1027.5l12.5-3.5-14-8-12.5 2z"/>
<path d="M372.5 1030.5l12.5-3-14-9.5-13 4z"/>
<path d="M359.5 1033.5l13-3-14.5-8.5-12.5 6z"/>
<path d="M347 1036.5l12.5-3-14-5.5-13 2z"/>
<path d="M334 1039.5l13-3-14.5-6.5-12.5 2.5z"/>
<path d="M321.5 1044.5l12.5-5-14-7-12.5 4.5z"/>
<path d="M308.5 1048l13-3.5-14-7.5-13 4z"/>
<path d="M1225.5 804l12.5-1.5-14-7.5-13 4z"/>
<path d="M1212.5 807l13-3-14.5-5-12.5 1z"/>
<path d="M1200 813.5l12.5-6.5-14-7-12.5 5z"/>
<path d="M1187 816l13-2.5-14-8.5-13 4z"/>
<path d="M1174.5 819l12.5-3-14-7-12.5 3.5z"/>
<path d="M1162 822l12.5-3-14-6.5-13 3.5z"/>
<path d="M1149 827.5l13-5.5-14.5-6-12.5 5z"/>
<path d="M1136.5 830.5l12.5-3-14-6.5-12.5 3.5z"/>
<path d="M1123.5 834.5l13-4-14-6-13 3z"/>
<path d="M1111 835.5l12.5-1-14-7-12.5 0.5z"/>
<path d="M1098 838l13-2.5-14-7.5-13 6.5z"/>
<path d="M1085.5 844l12.5-6-14-3.5-12.5 4z"/>
<path d="M1073 846.5l12.5-2.5-14-5.5-13 3.5z"/>
<path d="M1060 851.5l13-5-14.5-4.5-12.5 0.5z"/>
<path d="M1047.5 854.5l12.5-3-14-9-12.5 6.5z"/>
<path d="M1034.5 856.5l13-2-14-5.5-13 2z"/>
<path d="M1022 862.5l12.5-6-14-5.5-12.5 3.5z"/>
<path d="M1009.5 864l12.5-1.5-14-8-13 4.5z"/>
<path d="M996.5 869.5l13-5.5-14.5-5-12.5 4z"/>
<path d="M984 873l12.5-3.5-14-6.5-13 2.5z"/>
<path d="M971 875.5l13-2.5-14.5-7.5-12.5 4.5z"/>
<path d="M958.5 878l12.5-2.5-14-5.5-12.5 2z"/>
<path d="M945.5 882l13-4-14-6-13 5z"/>
<path d="M933 887l12.5-5-14-5-12.5 1z"/>
<path d="M920.5 889l12.5-2-14-9-13 6z"/>
<path d="M907.5 892l13-3-14.5-5-12.5 1.5z"/>
</g>
<g stroke="#0004fd">
<path d="M895 893l12.5-1-14-6.5-13 1z"/>
</g>
<g stroke="#0008fb">
<path d="M882 885l13 8-14.5-6.5-12.5-2.5z"/>
</g>
<g stroke="#0010f7">
<path d="M869.5 870.5l12.5 14.5-14-1-12.5-15z"/>
<path d="M856.5 871.5l13-1-14-1.5-13-5z"/>
</g>
<g stroke="#000cf9">
<path d="M844 887.5l12.5-16-14-7.5-12.5 19z"/>
</g>
<g stroke="#0004fd">
<path d="M831.5 905l12.5-17.5-14-4.5-13 18.5z"/>
</g>
<g stroke="#0000ff">
<path d="M818.5 916l13-11-14.5-3.5-12.5 7.5z"/>
<path d="M806 921.5l12.5-5.5-14-7-13 5z"/>
<path d="M793 925.5l13-4-14.5-7.5-12.5 3.5z"/>
<path d="M780.5 926l12.5-0.5-14-8-12.5 5z"/>
<path d="M767.5 931l13-5-14-3.5-13 1z"/>
<path d="M755 936l12.5-5-14-7.5-12.5 3.5z"/>
<path d="M742.5 939.5l12.5-3.5-14-9-13 4.5z"/>
<path d="M729.5 940.5l13-1-14.5-8-12.5 4z"/>
<path d="M717 945.5l12.5-5-14-5-12.5 3.5z"/>
<path d="M704 948.5l13-3-14-6.5-13 4.5z"/>
<path d="M691.5 952l12.5-3.5-14-5-12.5 3.5z"/>
<path d="M679 955l12.5-3-14-5-13 1.5z"/>
<path d="M666 958.5l13-3.5-14.5-6.5-12.5 5z"/>
<path d="M653.5 963.5l12.5-5-14-5-13 3z"/>
<path d="M640.5 965.5l13-2-14.5-7-12.5 2.5z"/>
<path d="M628 971l12.5-5.5-14-6.5-12.5 5z"/>
<path d="M615 974.5l13-3.5-14-7-13 4z"/>
<path d="M602.5 977l12.5-2.5-14-6.5-12.5 1.5z"/>
<path d="M590 980l12.5-3-14-7.5-13 5.5z"/>
<path d="M577 983l13-3-14.5-5-12.5 3.5z"/>
<path d="M564.5 987.5l12.5-4.5-14-4.5-13 1.5z"/>
<path d="M551.5 992l13-4.5-14.5-7.5-12.5 3.5z"/>
<path d="M539 993l12.5-1-14-8.5-12.5 5z"/>
<path d="M526 998l13-5-14-4.5-13 3.5z"/>
<path d="M513.5 1002.5l12.5-4.5-14-6-12.5 4z"/>
<path d="M501 1004l12.5-1.5-14-6.5-13 3.5z"/>
<path d="M488 1009.5l13-5.5-14.5-4.5-12.5 3.5z"/>
<path d="M475.5 1013l12.5-3.5-14-6.5-13 3z"/>
<path d="M462.5 1016.5l13-3.5-14.5-7-12.5 3z"/>
<path d="M450 1020l12.5-3.5-14-7.5-12.5 3.5z"/>
<path d="M437 1023.5l13-3.5-14-7.5-13 2.5z"/>
<path d="M424.5 1027l12.5-3.5-14-8.5-12.5 5.5z"/>
<path d="M412 1028l12.5-1-14-6.5-13 3.5z"/>
<path d="M399 1033.5l13-5.5-14.5-4-12.5 3.5z"/>
<path d="M386.5 1033.5l12.5 0-14-6-12.5 3z"/>
<path d="M373.5 1041l13-7.5-14-3-13 3z"/>
<path d="M361 1043.5l12.5-2.5-14-7.5-12.5 3z"/>
<path d="M348 1047.5l13-4-14-7-13 3z"/>
<path d="M335.5 1051l12.5-3.5-14-8-12.5 5z"/>
<path d="M323 1052.5l12.5-1.5-14-6.5-13 3.5z"/>
<path d="M1239.5 811l12.5-1.5-14-7-12.5 1.5z"/>
<path d="M1227 815.5l12.5-4.5-14-7-13 3z"/>
<path d="M1214 820l13-4.5-14.5-8.5-12.5 6.5z"/>
<path d="M1201.5 823l12.5-3-14-6.5-13 2.5z"/>
<path d="M1188.5 827l13-4-14.5-7-12.5 3z"/>
<path d="M1176 830.5l12.5-3.5-14-8-12.5 3z"/>
<path d="M1163 833.5l13-3-14-8.5-13 5.5z"/>
<path d="M1150.5 836l12.5-2.5-14-6-12.5 3z"/>
<path d="M1138 839.5l12.5-3.5-14-5.5-13 4z"/>
<path d="M1125 844l13-4.5-14.5-5-12.5 1z"/>
<path d="M1112.5 848l12.5-4-14-8.5-13 2.5z"/>
<path d="M1099.5 851.5l13-3.5-14.5-10-12.5 6z"/>
<path d="M1087 853l12.5-1.5-14-7.5-12.5 2.5z"/>
<path d="M1074 857.5l13-4.5-14-6.5-13 5z"/>
<path d="M1061.5 861.5l12.5-4-14-6-12.5 3z"/>
<path d="M1049 864.5l12.5-3-14-7-13 2z"/>
<path d="M1036 866.5l13-2-14.5-8-12.5 6z"/>
<path d="M1023.5 871.5l12.5-5-14-4-12.5 1.5z"/>
<path d="M1010.5 874.5l13-3-14-7.5-13 5.5z"/>
<path d="M998 879l12.5-4.5-14-5-12.5 3.5z"/>
<path d="M985.5 881.5l12.5-2.5-14-6-13 2.5z"/>
<path d="M972.5 883.5l13-2-14.5-6-12.5 2.5z"/>
<path d="M960 889.5l12.5-6-14-5.5-13 4z"/>
<path d="M947 891.5l13-2-14.5-7.5-12.5 5z"/>
<path d="M934.5 895l12.5-3.5-14-4.5-12.5 2z"/>
<path d="M921.5 899l13-4-14-6-13 3z"/>
</g>
<g stroke="#0004fd">
<path d="M909 899.5l12.5-0.5-14-7-12.5 1z"/>
</g>
<g stroke="#0008fb">
<path d="M896.5 890l12.5 9.5-14-6.5-13-8z"/>
</g>
<g stroke="#0010f7">
<path d="M883.5 876l13 14-14.5-5-12.5-14.5z"/>
</g>
<g stroke="#0014f5">
<path d="M871 870l12.5 6-14-5.5-13 1z"/>
</g>
<g stroke="#000cf9">
<path d="M858 890l13-20-14.5 1.5-12.5 16z"/>
</g>
<g stroke="#0004fd">
<path d="M845.5 911l12.5-21-14-2.5-12.5 17.5z"/>
</g>
<g stroke="#0000ff">
<path d="M832.5 924.5l13-13.5-14-6-13 11z"/>
<path d="M820 928.5l12.5-4-14-8.5-12.5 5.5z"/>
<path d="M807.5 930l12.5-1.5-14-7-13 4z"/>
<path d="M794.5 935.5l13-5.5-14.5-4.5-12.5 0.5z"/>
<path d="M782 938l12.5-2.5-14-9.5-13 5z"/>
<path d="M769 942.5l13-4.5-14.5-7-12.5 5z"/>
<path d="M756.5 946l12.5-3.5-14-6.5-12.5 3.5z"/>
<path d="M743.5 948.5l13-2.5-14-6.5-13 1z"/>
<path d="M731 950.5l12.5-2-14-8-12.5 5z"/>
<path d="M718.5 956l12.5-5.5-14-5-13 3z"/>
<path d="M705.5 960l13-4-14.5-7.5-12.5 3.5z"/>
<path d="M693 963l12.5-3-14-8-12.5 3z"/>
<path d="M680 964.5l13-1.5-14-8-13 3.5z"/>
<path d="M667.5 968.5l12.5-4-14-6-12.5 5z"/>
<path d="M654.5 974l13-5.5-14-5-13 2z"/>
<path d="M642 976l12.5-2-14-8.5-12.5 5.5z"/>
<path d="M629.5 979.5l12.5-3.5-14-5-13 3.5z"/>
<path d="M616.5 983.5l13-4-14.5-5-12.5 2.5z"/>
<path d="M604 985.5l12.5-2-14-6.5-12.5 3z"/>
<path d="M591 991l13-5.5-14-5.5-13 3z"/>
<path d="M578.5 994l12.5-3-14-8-12.5 4.5z"/>
<path d="M566 998.5l12.5-4.5-14-6.5-13 4.5z"/>
<path d="M553 1002l13-3.5-14.5-6.5-12.5 1z"/>
<path d="M540.5 1003.5l12.5-1.5-14-9-13 5z"/>
<path d="M527.5 1008.5l13-5-14.5-5.5-12.5 4.5z"/>
<path d="M515 1012.5l12.5-4-14-6-12.5 1.5z"/>
<path d="M502 1014.5l13-2-14-8.5-13 5.5z"/>
<path d="M489.5 1019.5l12.5-5-14-5-12.5 3.5z"/>
<path d="M477 1023l12.5-3.5-14-6.5-13 3.5z"/>
<path d="M464 1024.5l13-1.5-14.5-6.5-12.5 3.5z"/>
<path d="M451.5 1027l12.5-2.5-14-4.5-13 3.5z"/>
<path d="M438.5 1033l13-6-14.5-3.5-12.5 3.5z"/>
<path d="M426 1037l12.5-4-14-6-12.5 1z"/>
<path d="M413 1039.5l13-2.5-14-9-13 5.5z"/>
<path d="M400.5 1041.5l12.5-2-14-6-12.5 0z"/>
<path d="M388 1047.5l12.5-6-14-8-13 7.5z"/>
<path d="M375 1049.5l13-2-14.5-6.5-12.5 2.5z"/>
<path d="M362.5 1051.5l12.5-2-14-6-13 4z"/>
<path d="M349.5 1057.5l13-6-14.5-4-12.5 3.5z"/>
<path d="M337 1061.5l12.5-4-14-6.5-12.5 1.5z"/>
<path d="M1253.5 818.5l13-2-14.5-7-12.5 1.5z"/>
<path d="M1241 823l12.5-4.5-14-7.5-12.5 4.5z"/>
<path d="M1228 826.5l13-3.5-14-7.5-13 4.5z"/>
<path d="M1215.5 829.5l12.5-3-14-6.5-12.5 3z"/>
<path d="M1203 834l12.5-4.5-14-6.5-13 4z"/>
<path d="M1190 836l13-2-14.5-7-12.5 3.5z"/>
<path d="M1177.5 840l12.5-4-14-5.5-13 3z"/>
<path d="M1164.5 843.5l13-3.5-14.5-6.5-12.5 2.5z"/>
<path d="M1152 846.5l12.5-3-14-7.5-12.5 3.5z"/>
<path d="M1139 850l13-3.5-14-7-13 4.5z"/>
<path d="M1126.5 854.5l12.5-4.5-14-6-12.5 4z"/>
<path d="M1114 857l12.5-2.5-14-6.5-13 3.5z"/>
<path d="M1101 860l13-3-14.5-5.5-12.5 1.5z"/>
<path d="M1088.5 864.5l12.5-4.5-14-7-13 4.5z"/>
<path d="M1075.5 865.5l13-1-14.5-7-12.5 4z"/>
<path d="M1063 872.5l12.5-7-14-4-12.5 3z"/>
<path d="M1050 875l13-2.5-14-8-13 2z"/>
<path d="M1037.5 879.5l12.5-4.5-14-8.5-12.5 5z"/>
<path d="M1025 881.5l12.5-2-14-8-13 3z"/>
<path d="M1012 883.5l13-2-14.5-7-12.5 4.5z"/>
<path d="M999.5 886.5l12.5-3-14-4.5-12.5 2.5z"/>
<path d="M986.5 891.5l13-5-14-5-13 2z"/>
<path d="M974 895.5l12.5-4-14-8-12.5 6z"/>
<path d="M961 897l13-1.5-14-6-13 2z"/>
<path d="M948.5 903l12.5-6-14-5.5-12.5 3.5z"/>
<path d="M936 905l12.5-2-14-8-13 4z"/>
<path d="M923 906.5l13-1.5-14.5-6-12.5 0.5z"/>
</g>
<g stroke="#0008fb">
<path d="M910.5 894l12.5 12.5-14-7-12.5-9.5z"/>
</g>
<g stroke="#0014f5">
<path d="M897.5 874l13 20-14-4-13-14z"/>
<path d="M885 871.5l12.5 2.5-14 2-12.5-6z"/>
</g>
<g stroke="#000cf9">
<path d="M872.5 896.5l12.5-25-14-1.5-13 20z"/>
</g>
<g stroke="#0004fd">
<path d="M859.5 919.5l13-23-14.5-6.5-12.5 21z"/>
</g>
<g stroke="#0000ff">
<path d="M847 929l12.5-9.5-14-8.5-13 13.5z"/>
<path d="M834 935.5l13-6.5-14.5-4.5-12.5 4z"/>
<path d="M821.5 938.5l12.5-3-14-7-12.5 1.5z"/>
<path d="M808.5 942.5l13-4-14-8.5-13 5.5z"/>
<path d="M796 946l12.5-3.5-14-7-12.5 2.5z"/>
<path d="M783.5 948.5l12.5-2.5-14-8-13 4.5z"/>
<path d="M770.5 950.5l13-2-14.5-6-12.5 3.5z"/>
<path d="M758 956.5l12.5-6-14-4.5-13 2.5z"/>
<path d="M745 960l13-3.5-14.5-8-12.5 2z"/>
<path d="M732.5 961l12.5-1-14-9.5-12.5 5.5z"/>
<path d="M719.5 967l13-6-14-5-13 4z"/>
<path d="M707 970l12.5-3-14-7-12.5 3z"/>
<path d="M694.5 973.5l12.5-3.5-14-7-13 1.5z"/>
<path d="M681.5 975.5l13-2-14.5-9-12.5 4z"/>
<path d="M669 980l12.5-4.5-14-7-13 5.5z"/>
<path d="M656 982.5l13-2.5-14.5-6-12.5 2z"/>
<path d="M643.5 985.5l12.5-3-14-6.5-12.5 3.5z"/>
<path d="M630.5 990.5l13-5-14-6-13 4z"/>
<path d="M618 993l12.5-2.5-14-7-12.5 2z"/>
<path d="M605.5 997.5l12.5-4.5-14-7.5-13 5.5z"/>
<path d="M592.5 998.5l13-1-14.5-6.5-12.5 3z"/>
<path d="M580 1004.5l12.5-6-14-4.5-12.5 4.5z"/>
<path d="M567 1006.5l13-2-14-6-13 3.5z"/>
<path d="M554.5 1012.5l12.5-6-14-4.5-12.5 1.5z"/>
<path d="M541.5 1015.5l13-3-14-9-13 5z"/>
<path d="M529 1019.5l12.5-4-14-7-12.5 4z"/>
<path d="M516.5 1022.5l12.5-3-14-7-13 2z"/>
<path d="M503.5 1026.5l13-4-14.5-8-12.5 5z"/>
<path d="M491 1027.5l12.5-1-14-7-12.5 3.5z"/>
<path d="M478 1032l13-4.5-14-4.5-13 1.5z"/>
<path d="M465.5 1035l12.5-3-14-7.5-12.5 2.5z"/>
<path d="M453 1037.5l12.5-2.5-14-8-13 6z"/>
<path d="M440 1040.5l13-3-14.5-4.5-12.5 4z"/>
<path d="M427.5 1045.5l12.5-5-14-3.5-13 2.5z"/>
<path d="M414.5 1049l13-3.5-14.5-6-12.5 2z"/>
<path d="M402 1053.5l12.5-4.5-14-7.5-12.5 6z"/>
<path d="M389 1055l13-1.5-14-6-13 2z"/>
<path d="M376.5 1061l12.5-6-14-5.5-12.5 2z"/>
<path d="M364 1064.5l12.5-3.5-14-9.5-13 6z"/>
<path d="M351 1067l13-2.5-14.5-7-12.5 4z"/>
<path d="M1267.5 824l13-4-14-3.5-13 2z"/>
<path d="M1255 825.5l12.5-1.5-14-5.5-12.5 4.5z"/>
<path d="M1242.5 833.5l12.5-8-14-2.5-13 3.5z"/>
<path d="M1229.5 833.5l13 0-14.5-7-12.5 3z"/>
<path d="M1217 839.5l12.5-6-14-4-12.5 4.5z"/>
<path d="M1204 843.5l13-4-14-5.5-13 2z"/>
<path d="M1191.5 847l12.5-3.5-14-7.5-12.5 4z"/>
<path d="M1179 851l12.5-4-14-7-13 3.5z"/>
<path d="M1166 852l13-1-14.5-7.5-12.5 3z"/>
<path d="M1153.5 856.5l12.5-4.5-14-5.5-13 3.5z"/>
<path d="M1140.5 860l13-3.5-14.5-6.5-12.5 4.5z"/>
</g>
<g stroke="#0004fd">
<path d="M1128 860l12.5 0-14-5.5-12.5 2.5z"/>
</g>
<g stroke="#0000ff">
<path d="M1115 868l13-8-14-3-13 3z"/>
<path d="M1102.5 869.5l12.5-1.5-14-8-12.5 4.5z"/>
<path d="M1090 874.5l12.5-5-14-5-13 1z"/>
<path d="M1077 877l13-2.5-14.5-9-12.5 7z"/>
<path d="M1064.5 880.5l12.5-3.5-14-4.5-13 2.5z"/>
<path d="M1051.5 882l13-1.5-14.5-5.5-12.5 4.5z"/>
<path d="M1039 888l12.5-6-14-2.5-12.5 2z"/>
<path d="M1026 893l13-5-14-6.5-13 2z"/>
<path d="M1013.5 895.5l12.5-2.5-14-9.5-12.5 3z"/>
<path d="M1001 899l12.5-3.5-14-9-13 5z"/>
<path d="M988 901.5l13-2.5-14.5-7.5-12.5 4z"/>
<path d="M975.5 907l12.5-5.5-14-6-13 1.5z"/>
<path d="M962.5 910.5l13-3.5-14.5-10-12.5 6z"/>
<path d="M950 912l12.5-1.5-14-7.5-12.5 2z"/>
<path d="M937 913l13-1-14-7-13 1.5z"/>
</g>
<g stroke="#0008fb">
<path d="M924.5 899.5l12.5 13.5-14-6.5-12.5-12.5z"/>
</g>
<g stroke="#0014f5">
<path d="M912 880.5l12.5 19-14-5.5-13-20z"/>
</g>
<g stroke="#0018f3">
<path d="M899 875.5l13 5-14.5-6.5-12.5-2.5z"/>
</g>
<g stroke="#0010f7">
<path d="M886.5 898l12.5-22.5-14-4-12.5 25z"/>
</g>
<g stroke="#0004fd">
<path d="M873.5 921.5l13-23.5-14-1.5-13 23z"/>
</g>
<g stroke="#0000ff">
<path d="M861 936l12.5-14.5-14-2-12.5 9.5z"/>
<path d="M848 942l13-6-14-7-13 6.5z"/>
<path d="M835.5 945.5l12.5-3.5-14-6.5-12.5 3z"/>
<path d="M823 949l12.5-3.5-14-7-13 4z"/>
<path d="M810 952l13-3-14.5-6.5-12.5 3.5z"/>
<path d="M797.5 954l12.5-2-14-6-12.5 2.5z"/>
<path d="M784.5 959.5l13-5.5-14-5.5-13 2z"/>
<path d="M772 963l12.5-3.5-14-9-12.5 6z"/>
<path d="M759.5 966.5l12.5-3.5-14-6.5-13 3.5z"/>
<path d="M746.5 970l13-3.5-14.5-6.5-12.5 1z"/>
<path d="M734 971.5l12.5-1.5-14-9-13 6z"/>
<path d="M721 977l13-5.5-14.5-4.5-12.5 3z"/>
<path d="M708.5 977l12.5 0-14-7-12.5 3.5z"/>
<path d="M695.5 983l13-6-14-3.5-13 2z"/>
<path d="M683 985.5l12.5-2.5-14-7.5-12.5 4.5z"/>
<path d="M670.5 990.5l12.5-5-14-5.5-13 2.5z"/>
<path d="M657.5 993.5l13-3-14.5-8-12.5 3z"/>
<path d="M645 995l12.5-1.5-14-8-13 5z"/>
<path d="M632 999l13-4-14.5-4.5-12.5 2.5z"/>
<path d="M619.5 1003l12.5-4-14-6-12.5 4.5z"/>
<path d="M606.5 1008l13-5-14-5.5-13 1z"/>
<path d="M594 1011.5l12.5-3.5-14-9.5-12.5 6z"/>
<path d="M581.5 1014l12.5-2.5-14-7-13 2z"/>
<path d="M568.5 1018.5l13-4.5-14.5-7.5-12.5 6z"/>
<path d="M556 1019l12.5-0.5-14-6-13 3z"/>
<path d="M543 1025l13-6-14.5-3.5-12.5 4z"/>
<path d="M530.5 1027.5l12.5-2.5-14-5.5-12.5 3z"/>
<path d="M517.5 1033l13-5.5-14-5-13 4z"/>
<path d="M505 1034.5l12.5-1.5-14-6.5-12.5 1z"/>
<path d="M492.5 1036l12.5-1.5-14-7-13 4.5z"/>
<path d="M479.5 1042.5l13-6.5-14.5-4-12.5 3z"/>
<path d="M467 1046l12.5-3.5-14-7.5-12.5 2.5z"/>
<path d="M454 1048.5l13-2.5-14-8.5-13 3z"/>
<path d="M441.5 1054l12.5-5.5-14-8-12.5 5z"/>
<path d="M429 1054l12.5 0-14-8.5-13 3.5z"/>
<path d="M416 1060l13-6-14.5-5-12.5 4.5z"/>
<path d="M403.5 1062.5l12.5-2.5-14-6.5-13 1.5z"/>
<path d="M390.5 1066l13-3.5-14.5-7.5-12.5 6z"/>
<path d="M378 1069l12.5-3-14-5-12.5 3.5z"/>
<path d="M365 1073l13-4-14-4.5-13 2.5z"/>
<path d="M1282 833l12.5-5-14-8-13 4z"/>
<path d="M1269 836.5l13-3.5-14.5-9-12.5 1.5z"/>
<path d="M1256.5 839l12.5-2.5-14-11-12.5 8z"/>
<path d="M1243.5 842l13-3-14-5.5-13 0z"/>
<path d="M1231 846l12.5-4-14-8.5-12.5 6z"/>
<path d="M1218.5 848.5l12.5-2.5-14-6.5-13 4z"/>
<path d="M1205.5 852l13-3.5-14.5-5-12.5 3.5z"/>
<path d="M1193 857l12.5-5-14-5-12.5 4z"/>
<path d="M1180 858.5l13-1.5-14-6-13 1z"/>
<path d="M1167.5 862l12.5-3.5-14-6.5-12.5 4.5z"/>
<path d="M1154.5 868l13-6-14-5.5-13 3.5z"/>
<path d="M1142 869.5l12.5-1.5-14-8-12.5 0z"/>
<path d="M1129.5 875l12.5-5.5-14-9.5-13 8z"/>
<path d="M1116.5 875.5l13-0.5-14.5-7-12.5 1.5z"/>
<path d="M1104 882l12.5-6.5-14-6-12.5 5z"/>
<path d="M1091 884.5l13-2.5-14-7.5-13 2.5z"/>
<path d="M1078.5 885.5l12.5-1-14-7.5-12.5 3.5z"/>
<path d="M1066 892l12.5-6.5-14-5-13 1.5z"/>
<path d="M1053 894l13-2-14.5-10-12.5 6z"/>
<path d="M1040.5 897l12.5-3-14-6-13 5z"/>
<path d="M1027.5 901l13-4-14.5-4-12.5 2.5z"/>
<path d="M1015 904l12.5-3-14-5.5-12.5 3.5z"/>
<path d="M1002 908.5l13-4.5-14-5-13 2.5z"/>
<path d="M989.5 913.5l12.5-5-14-7-12.5 5.5z"/>
<path d="M977 915l12.5-1.5-14-6.5-13 3.5z"/>
<path d="M964 918.5l13-3.5-14.5-4.5-12.5 1.5z"/>
<path d="M951.5 920.5l12.5-2-14-6.5-13 1z"/>
</g>
<g stroke="#0008fb">
<path d="M938.5 905.5l13 15-14.5-7.5-12.5-13.5z"/>
</g>
<g stroke="#0014f5">
<path d="M926 883l12.5 22.5-14-6-12.5-19z"/>
</g>
<g stroke="#0018f3">
<path d="M913 877.5l13 5.5-14-2.5-13-5z"/>
</g>
<g stroke="#0010f7">
<path d="M900.5 900l12.5-22.5-14-2-12.5 22.5z"/>
</g>
<g stroke="#0004fd">
<path d="M888 928.5l12.5-28.5-14-2-13 23.5z"/>
</g>
<g stroke="#0000ff">
<path d="M875 941.5l13-13-14.5-7-12.5 14.5z"/>
<path d="M862.5 948.5l12.5-7-14-5.5-13 6z"/>
<path d="M849.5 951l13-2.5-14.5-6.5-12.5 3.5z"/>
<path d="M837 953.5l12.5-2.5-14-5.5-12.5 3.5z"/>
<path d="M824 959l13-5.5-14-4.5-13 3z"/>
<path d="M811.5 962l12.5-3-14-7-12.5 2z"/>
<path d="M799 966l12.5-4-14-8-13 5.5z"/>
<path d="M786 967.5l13-1.5-14.5-6.5-12.5 3.5z"/>
<path d="M773.5 973l12.5-5.5-14-4.5-12.5 3.5z"/>
<path d="M760.5 975.5l13-2.5-14-6.5-13 3.5z"/>
<path d="M748 979.5l12.5-4-14-5.5-12.5 1.5z"/>
<path d="M735.5 982l12.5-2.5-14-8-13 5.5z"/>
<path d="M722.5 985l13-3-14.5-5-12.5 0z"/>
<path d="M710 989.5l12.5-4.5-14-8-13 6z"/>
<path d="M697 992.5l13-3-14.5-6.5-12.5 2.5z"/>
<path d="M684.5 996l12.5-3.5-14-7-12.5 5z"/>
<path d="M671.5 999.5l13-3.5-14-5.5-13 3z"/>
<path d="M659 1004.5l12.5-5-14-6-12.5 1.5z"/>
<path d="M646.5 1007l12.5-2.5-14-9.5-13 4z"/>
<path d="M633.5 1009l13-2-14.5-8-12.5 4z"/>
<path d="M621 1015l12.5-6-14-6-13 5z"/>
<path d="M608 1017l13-2-14.5-7-12.5 3.5z"/>
<path d="M595.5 1022l12.5-5-14-5.5-12.5 2.5z"/>
<path d="M582.5 1025l13-3-14-8-13 4.5z"/>
<path d="M570 1029l12.5-4-14-6.5-12.5 0.5z"/>
<path d="M557.5 1032.5l12.5-3.5-14-10-13 6z"/>
<path d="M544.5 1035.5l13-3-14.5-7.5-12.5 2.5z"/>
<path d="M532 1036.5l12.5-1-14-8-13 5.5z"/>
<path d="M519 1040.5l13-4-14.5-3.5-12.5 1.5z"/>
<path d="M506.5 1044.5l12.5-4-14-6-12.5 1.5z"/>
<path d="M493.5 1049.5l13-5-14-8.5-13 6.5z"/>
<path d="M481 1052l12.5-2.5-14-7-12.5 3.5z"/>
<path d="M468.5 1056l12.5-4-14-6-13 2.5z"/>
<path d="M455.5 1060.5l13-4.5-14.5-7.5-12.5 5.5z"/>
<path d="M443 1062.5l12.5-2-14-6.5-12.5 0z"/>
<path d="M430 1067l13-4.5-14-8.5-13 6z"/>
<path d="M417.5 1068.5l12.5-1.5-14-7-12.5 2.5z"/>
<path d="M404.5 1074.5l13-6-14-6-13 3.5z"/>
<path d="M392 1077l12.5-2.5-14-8.5-12.5 3z"/>
<path d="M379.5 1079l12.5-2-14-8-13 4z"/>
<path d="M1296 838.5l12.5-5-14-5.5-12.5 5z"/>
<path d="M1283.5 842.5l12.5-4-14-5.5-13 3.5z"/>
<path d="M1270.5 846.5l13-4-14.5-6-12.5 2.5z"/>
<path d="M1258 848l12.5-1.5-14-7.5-13 3z"/>
<path d="M1245 853l13-5-14.5-6-12.5 4z"/>
<path d="M1232.5 857l12.5-4-14-7-12.5 2.5z"/>
<path d="M1219.5 858.5l13-1.5-14-8.5-13 3.5z"/>
<path d="M1207 864l12.5-5.5-14-6.5-12.5 5z"/>
<path d="M1194.5 864.5l12.5-0.5-14-7-13 1.5z"/>
<path d="M1181.5 871l13-6.5-14.5-6-12.5 3.5z"/>
<path d="M1169 874.5l12.5-3.5-14-9-13 6z"/>
<path d="M1156 876.5l13-2-14.5-6.5-12.5 1.5z"/>
<path d="M1143.5 880l12.5-3.5-14-7-12.5 5.5z"/>
<path d="M1130.5 885l13-5-14-5-13 0.5z"/>
<path d="M1118 887.5l12.5-2.5-14-9.5-12.5 6.5z"/>
<path d="M1105.5 889.5l12.5-2-14-5.5-13 2.5z"/>
<path d="M1092.5 892.5l13-3-14.5-5-12.5 1z"/>
<path d="M1080 899l12.5-6.5-14-7-12.5 6.5z"/>
<path d="M1067 902l13-3-14-7-13 2z"/>
<path d="M1054.5 905l12.5-3-14-8-12.5 3z"/>
<path d="M1041.5 909.5l13-4.5-14-8-13 4z"/>
<path d="M1029 910l12.5-0.5-14-8.5-12.5 3z"/>
<path d="M1016.5 915.5l12.5-5.5-14-6-13 4.5z"/>
<path d="M1003.5 919l13-3.5-14.5-7-12.5 5z"/>
<path d="M991 923.5l12.5-4.5-14-5.5-12.5 1.5z"/>
<path d="M978 926l13-2.5-14-8.5-13 3.5z"/>
</g>
<g stroke="#0004fd">
<path d="M965.5 923.5l12.5 2.5-14-7.5-12.5 2z"/>
</g>
<g stroke="#000cf9">
<path d="M953 908.5l12.5 15-14-3-13-15z"/>
</g>
<g stroke="#0018f3">
<path d="M940 882l13 26.5-14.5-3-12.5-22.5z"/>
<path d="M927.5 880.5l12.5 1.5-14 1-13-5.5z"/>
</g>
<g stroke="#0010f7">
<path d="M914.5 906.5l13-26-14.5-3-12.5 22.5z"/>
</g>
<g stroke="#0008fb">
<path d="M902 932.5l12.5-26-14-6.5-12.5 28.5z"/>
</g>
<g stroke="#0000ff">
<path d="M889 948.5l13-16-14-4-13 13z"/>
<path d="M876.5 953.5l12.5-5-14-7-12.5 7z"/>
<path d="M864 956l12.5-2.5-14-5-13 2.5z"/>
<path d="M851 960.5l13-4.5-14.5-5-12.5 2.5z"/>
<path d="M838.5 965l12.5-4.5-14-7-13 5.5z"/>
<path d="M825.5 969l13-4-14.5-6-12.5 3z"/>
<path d="M813 971.5l12.5-2.5-14-7-12.5 4z"/>
<path d="M800 972.5l13-1-14-5.5-13 1.5z"/>
<path d="M787.5 979.5l12.5-7-14-5-12.5 5.5z"/>
<path d="M775 983l12.5-3.5-14-6.5-13 2.5z"/>
<path d="M762 985.5l13-2.5-14.5-7.5-12.5 4z"/>
<path d="M749.5 989l12.5-3.5-14-6-12.5 2.5z"/>
<path d="M736.5 992.5l13-3.5-14-7-13 3z"/>
<path d="M724 997l12.5-4.5-14-7.5-12.5 4.5z"/>
<path d="M711 1000l13-3-14-7.5-13 3z"/>
<path d="M698.5 1003.5l12.5-3.5-14-7.5-12.5 3.5z"/>
<path d="M686 1004.5l12.5-1-14-7.5-13 3.5z"/>
<path d="M673 1010.5l13-6-14.5-5-12.5 5z"/>
<path d="M660.5 1014.5l12.5-4-14-6-12.5 2.5z"/>
<path d="M647.5 1017.5l13-3-14-7.5-13 2z"/>
<path d="M635 1020l12.5-2.5-14-8.5-12.5 6z"/>
<path d="M622.5 1023l12.5-3-14-5-13 2z"/>
<path d="M609.5 1028l13-5-14.5-6-12.5 5z"/>
<path d="M597 1032l12.5-4-14-6-13 3z"/>
<path d="M584 1033.5l13-1.5-14.5-7-12.5 4z"/>
<path d="M571.5 1037.5l12.5-4-14-4.5-12.5 3.5z"/>
<path d="M558.5 1042l13-4.5-14-5-13 3z"/>
<path d="M546 1044.5l12.5-2.5-14-6.5-12.5 1z"/>
<path d="M533.5 1048.5l12.5-4-14-8-13 4z"/>
<path d="M520.5 1051.5l13-3-14.5-8-12.5 4z"/>
<path d="M508 1056l12.5-4.5-14-7-13 5z"/>
<path d="M495 1059l13-3-14.5-6.5-12.5 2.5z"/>
<path d="M482.5 1063.5l12.5-4.5-14-7-12.5 4z"/>
<path d="M469.5 1067l13-3.5-14-7.5-13 4.5z"/>
<path d="M457 1069l12.5-2-14-6.5-12.5 2z"/>
<path d="M444.5 1073.5l12.5-4.5-14-6.5-13 4.5z"/>
<path d="M431.5 1074.5l13-1-14.5-6.5-12.5 1.5z"/>
<path d="M419 1080.5l12.5-6-14-6-13 6z"/>
<path d="M406 1084.5l13-4-14.5-6-12.5 2.5z"/>
<path d="M393.5 1087.5l12.5-3-14-7.5-12.5 2z"/>
<path d="M1310 846l13-3.5-14.5-9-12.5 5z"/>
<path d="M1297.5 849.5l12.5-3.5-14-7.5-12.5 4z"/>
<path d="M1284.5 852l13-2.5-14-7-13 4z"/>
<path d="M1272 854.5l12.5-2.5-14-5.5-12.5 1.5z"/>
<path d="M1259.5 856.5l12.5-2-14-6.5-13 5z"/>
<path d="M1246.5 862.5l13-6-14.5-3.5-12.5 4z"/>
<path d="M1234 866.5l12.5-4-14-5.5-13 1.5z"/>
<path d="M1221 870.5l13-4-14.5-8-12.5 5.5z"/>
<path d="M1208.5 873.5l12.5-3-14-6.5-12.5 0.5z"/>
<path d="M1195.5 877.5l13-4-14-9-13 6.5z"/>
<path d="M1183 881l12.5-3.5-14-6.5-12.5 3.5z"/>
<path d="M1170.5 884l12.5-3-14-6.5-13 2z"/>
<path d="M1157.5 885.5l13-1.5-14.5-7.5-12.5 3.5z"/>
<path d="M1145 890.5l12.5-5-14-5.5-13 5z"/>
<path d="M1132 894l13-3.5-14.5-5.5-12.5 2.5z"/>
<path d="M1119.5 894.5l12.5-0.5-14-6.5-12.5 2z"/>
<path d="M1106.5 901.5l13-7-14-5-13 3z"/>
<path d="M1094 905.5l12.5-4-14-9-12.5 6.5z"/>
<path d="M1081.5 909l12.5-3.5-14-6.5-13 3z"/>
<path d="M1068.5 912.5l13-3.5-14.5-7-12.5 3z"/>
<path d="M1056 913.5l12.5-1-14-7.5-13 4.5z"/>
<path d="M1043 919.5l13-6-14.5-4-12.5 0.5z"/>
<path d="M1030.5 921.5l12.5-2-14-9.5-12.5 5.5z"/>
<path d="M1017.5 925.5l13-4-14-6-13 3.5z"/>
<path d="M1005 928.5l12.5-3-14-6.5-12.5 4.5z"/>
<path d="M992.5 930.5l12.5-2-14-5-13 2.5z"/>
</g>
<g stroke="#0004fd">
<path d="M979.5 930.5l13 0-14.5-4.5-12.5-2.5z"/>
</g>
<g stroke="#000cf9">
<path d="M967 914.5l12.5 16-14-7-12.5-15z"/>
</g>
<g stroke="#0018f3">
<path d="M954 885.5l13 29-14-6-13-26.5z"/>
</g>
<g stroke="#001cf1">
<path d="M941.5 878.5l12.5 7-14-3.5-12.5-1.5z"/>
</g>
<g stroke="#0014f5">
<path d="M929 906l12.5-27.5-14 2-13 26z"/>
</g>
<g stroke="#0008fb">
<path d="M916 938.5l13-32.5-14.5 0.5-12.5 26z"/>
</g>
<g stroke="#0004fd">
<path d="M903.5 953.5l12.5-15-14-6-13 16z"/>
</g>
<g stroke="#0000ff">
<path d="M890.5 961l13-7.5-14.5-5-12.5 5z"/>
</g>
<g stroke="#0004fd">
<path d="M878 960l12.5 1-14-7.5-12.5 2.5z"/>
</g>
<g stroke="#0000ff">
<path d="M865 967l13-7-14-4-13 4.5z"/>
<path d="M852.5 972l12.5-5-14-6.5-12.5 4.5z"/>
<path d="M840 975.5l12.5-3.5-14-7-13 4z"/>
<path d="M827 979l13-3.5-14.5-6.5-12.5 2.5z"/>
<path d="M814.5 980.5l12.5-1.5-14-7.5-13 1z"/>
<path d="M801.5 984l13-3.5-14.5-8-12.5 7z"/>
<path d="M789 989.5l12.5-5.5-14-4.5-12.5 3.5z"/>
<path d="M776 993l13-3.5-14-6.5-13 2.5z"/>
<path d="M763.5 993.5l12.5-0.5-14-7.5-12.5 3.5z"/>
<path d="M751 998.5l12.5-5-14-4.5-13 3.5z"/>
<path d="M738 1003.5l13-5-14.5-6-12.5 4.5z"/>
<path d="M725.5 1007l12.5-3.5-14-6.5-13 3z"/>
<path d="M712.5 1010l13-3-14.5-7-12.5 3.5z"/>
<path d="M700 1012.5l12.5-2.5-14-6.5-12.5 1z"/>
<path d="M687 1016.5l13-4-14-8-13 6z"/>
<path d="M674.5 1019.5l12.5-3-14-6-12.5 4z"/>
<path d="M662 1023.5l12.5-4-14-5-13 3z"/>
<path d="M649 1026.5l13-3-14.5-6-12.5 2.5z"/>
<path d="M636.5 1029.5l12.5-3-14-6.5-12.5 3z"/>
<path d="M623.5 1033l13-3.5-14-6.5-13 5z"/>
<path d="M611 1038.5l12.5-5.5-14-5-12.5 4z"/>
<path d="M598 1042l13-3.5-14-6.5-13 1.5z"/>
<path d="M585.5 1045l12.5-3-14-8.5-12.5 4z"/>
<path d="M573 1047.5l12.5-2.5-14-7.5-13 4.5z"/>
<path d="M560 1052.5l13-5-14.5-5.5-12.5 2.5z"/>
<path d="M547.5 1056l12.5-3.5-14-8-12.5 4z"/>
<path d="M534.5 1059.5l13-3.5-14-7.5-13 3z"/>
<path d="M522 1061.5l12.5-2-14-8-12.5 4.5z"/>
<path d="M509.5 1065l12.5-3.5-14-5.5-13 3z"/>
<path d="M496.5 1069l13-4-14.5-6-12.5 4.5z"/>
<path d="M484 1070.5l12.5-1.5-14-5.5-13 3.5z"/>
<path d="M471 1076l13-5.5-14.5-3.5-12.5 2z"/>
<path d="M458.5 1080.5l12.5-4.5-14-7-12.5 4.5z"/>
<path d="M445.5 1083l13-2.5-14-7-13 1z"/>
<path d="M433 1085.5l12.5-2.5-14-8.5-12.5 6z"/>
<path d="M420.5 1090l12.5-4.5-14-5-13 4z"/>
<path d="M407.5 1092.5l13-2.5-14.5-5.5-12.5 3z"/>
<path d="M1324 853l13-5.5-14-5-13 3.5z"/>
<path d="M1311.5 856.5l12.5-3.5-14-7-12.5 3.5z"/>
<path d="M1299 858.5l12.5-2-14-7-13 2.5z"/>
<path d="M1286 863.5l13-5-14.5-6.5-12.5 2.5z"/>
<path d="M1273.5 866l12.5-2.5-14-9-12.5 2z"/>
<path d="M1260.5 868l13-2-14-9.5-13 6z"/>
<path d="M1248 870.5l12.5-2.5-14-5.5-12.5 4z"/>
<path d="M1235 877l13-6.5-14-4-13 4z"/>
<path d="M1222.5 880.5l12.5-3.5-14-6.5-12.5 3z"/>
<path d="M1210 882.5l12.5-2-14-7-13 4z"/>
<path d="M1197 887.5l13-5-14.5-5-12.5 3.5z"/>
<path d="M1184.5 891l12.5-3.5-14-6.5-12.5 3z"/>
<path d="M1171.5 894.5l13-3.5-14-7-13 1.5z"/>
<path d="M1159 896l12.5-1.5-14-9-12.5 5z"/>
<path d="M1146.5 901.5l12.5-5.5-14-5.5-13 3.5z"/>
<path d="M1133.5 901.5l13 0-14.5-7.5-12.5 0.5z"/>
<path d="M1121 905l12.5-3.5-14-7-13 7z"/>
<path d="M1108 910.5l13-5.5-14.5-3.5-12.5 4z"/>
<path d="M1095.5 914.5l12.5-4-14-5-12.5 3.5z"/>
<path d="M1082.5 915.5l13-1-14-5.5-13 3.5z"/>
<path d="M1070 921.5l12.5-6-14-3-12.5 1z"/>
<path d="M1057.5 923.5l12.5-2-14-8-13 6z"/>
<path d="M1044.5 929.5l13-6-14.5-4-12.5 2z"/>
<path d="M1032 933l12.5-3.5-14-8-13 4z"/>
<path d="M1019 935.5l13-2.5-14.5-7.5-12.5 3z"/>
<path d="M1006.5 936l12.5-0.5-14-7-12.5 2z"/>
</g>
<g stroke="#0004fd">
<path d="M993.5 936.5l13-0.5-14-5.5-13 0z"/>
</g>
<g stroke="#000cf9">
<path d="M981 915.5l12.5 21-14-6-12.5-16z"/>
</g>
<g stroke="#001cf1">
<path d="M968.5 888l12.5 27.5-14-1-13-29z"/>
</g>
<g stroke="#0020ef">
<path d="M955.5 881l13 7-14.5-2.5-12.5-7z"/>
</g>
<g stroke="#0014f5">
<path d="M943 907l12.5-26-14-2.5-12.5 27.5z"/>
</g>
<g stroke="#0008fb">
<path d="M930 939.5l13-32.5-14-1-13 32.5z"/>
</g>
<g stroke="#0004fd">
<path d="M917.5 960l12.5-20.5-14-1-12.5 15z"/>
</g>
<g stroke="#0000ff">
<path d="M904.5 966.5l13-6.5-14-6.5-13 7.5z"/>
<path d="M892 970l12.5-3.5-14-5.5-12.5-1z"/>
<path d="M879.5 975l12.5-5-14-10-13 7z"/>
<path d="M866.5 977l13-2-14.5-8-12.5 5z"/>
<path d="M854 982l12.5-5-14-5-12.5 3.5z"/>
<path d="M841 985.5l13-3.5-14-6.5-13 3.5z"/>
<path d="M828.5 987.5l12.5-2-14-6.5-12.5 1.5z"/>
<path d="M816 992.5l12.5-5-14-7-13 3.5z"/>
<path d="M803 994.5l13-2-14.5-8.5-12.5 5.5z"/>
<path d="M790.5 998.5l12.5-4-14-5-13 3.5z"/>
<path d="M777.5 1002.5l13-4-14.5-5.5-12.5 0.5z"/>
<path d="M765 1005l12.5-2.5-14-9-12.5 5z"/>
<path d="M752 1009.5l13-4.5-14-6.5-13 5z"/>
<path d="M739.5 1012l12.5-2.5-14-6-12.5 3.5z"/>
<path d="M727 1014.5l12.5-2.5-14-5-13 3z"/>
<path d="M714 1019l13-4.5-14.5-4.5-12.5 2.5z"/>
<path d="M701.5 1023.5l12.5-4.5-14-6.5-13 4z"/>
<path d="M688.5 1027.5l13-4-14.5-7-12.5 3z"/>
<path d="M676 1031l12.5-3.5-14-8-12.5 4z"/>
<path d="M663 1032.5l13-1.5-14-7.5-13 3z"/>
<path d="M650.5 1037l12.5-4.5-14-6-12.5 3z"/>
<path d="M638 1039l12.5-2-14-7.5-13 3.5z"/>
<path d="M625 1045l13-6-14.5-6-12.5 5.5z"/>
<path d="M612.5 1047l12.5-2-14-6.5-13 3.5z"/>
<path d="M599.5 1050l13-3-14.5-5-12.5 3z"/>
<path d="M587 1055l12.5-5-14-5-12.5 2.5z"/>
<path d="M574 1056.5l13-1.5-14-7.5-13 5z"/>
<path d="M561.5 1061.5l12.5-5-14-4-12.5 3.5z"/>
<path d="M549 1064l12.5-2.5-14-5.5-13 3.5z"/>
<path d="M536 1067.5l13-3.5-14.5-4.5-12.5 2z"/>
<path d="M523.5 1070.5l12.5-3-14-6-12.5 3.5z"/>
<path d="M510.5 1076.5l13-6-14-5.5-13 4z"/>
<path d="M498 1080l12.5-3.5-14-7.5-12.5 1.5z"/>
<path d="M485.5 1082l12.5-2-14-9.5-13 5.5z"/>
<path d="M472.5 1086l13-4-14.5-6-12.5 4.5z"/>
<path d="M460 1088l12.5-2-14-5.5-13 2.5z"/>
<path d="M447 1093.5l13-5.5-14.5-5-12.5 2.5z"/>
<path d="M434.5 1097.5l12.5-4-14-8-12.5 4.5z"/>
<path d="M421.5 1100l13-2.5-14-7.5-13 2.5z"/>
<path d="M1338.5 858l12.5-2-14-8.5-13 5.5z"/>
<path d="M1325.5 862.5l13-4.5-14.5-5-12.5 3.5z"/>
<path d="M1313 866l12.5-3.5-14-6-12.5 2z"/>
<path d="M1300 869l13-3-14-7.5-13 5z"/>
<path d="M1287.5 873.5l12.5-4.5-14-5.5-12.5 2.5z"/>
<path d="M1275 875.5l12.5-2-14-7.5-13 2z"/>
<path d="M1262 879.5l13-4-14.5-7.5-12.5 2.5z"/>
<path d="M1249.5 880l12.5-0.5-14-9-13 6.5z"/>
<path d="M1236.5 886.5l13-6.5-14.5-3-12.5 3.5z"/>
<path d="M1224 888l12.5-1.5-14-6-12.5 2z"/>
<path d="M1211 892.5l13-4.5-14-5.5-13 5z"/>
<path d="M1198.5 897l12.5-4.5-14-5-12.5 3.5z"/>
<path d="M1186 899l12.5-2-14-6-13 3.5z"/>
<path d="M1173 903.5l13-4.5-14.5-4.5-12.5 1.5z"/>
<path d="M1160.5 907l12.5-3.5-14-7.5-12.5 5.5z"/>
<path d="M1147.5 911l13-4-14-5.5-13 0z"/>
<path d="M1135 915.5l12.5-4.5-14-9.5-12.5 3.5z"/>
<path d="M1122.5 919l12.5-3.5-14-10.5-13 5.5z"/>
<path d="M1109.5 920.5l13-1.5-14.5-8.5-12.5 4z"/>
<path d="M1097 924.5l12.5-4-14-6-13 1z"/>
<path d="M1084 929.5l13-5-14.5-9-12.5 6z"/>
<path d="M1071.5 933l12.5-3.5-14-8-12.5 2z"/>
<path d="M1058.5 934l13-1-14-9.5-13 6z"/>
<path d="M1046 938.5l12.5-4.5-14-4.5-12.5 3.5z"/>
<path d="M1033.5 941l12.5-2.5-14-5.5-13 2.5z"/>
<path d="M1020.5 944.5l13-3.5-14.5-5.5-12.5 0.5z"/>
</g>
<g stroke="#0004fd">
<path d="M1008 939l12.5 5.5-14-8.5-13 0.5z"/>
</g>
<g stroke="#0010f7">
<path d="M995 917.5l13 21.5-14.5-2.5-12.5-21z"/>
</g>
<g stroke="#0020ef">
<path d="M982.5 884l12.5 33.5-14-2-12.5-27.5z"/>
</g>
<g stroke="#0024ed">
<path d="M969.5 877.5l13 6.5-14 4-13-7z"/>
</g>
<g stroke="#0018f3">
<path d="M957 908.5l12.5-31-14 3.5-12.5 26z"/>
</g>
<g stroke="#0008fb">
<path d="M944.5 944.5l12.5-36-14-1.5-13 32.5z"/>
</g>
<g stroke="#0000ff">
<path d="M931.5 968l13-23.5-14.5-5-12.5 20.5z"/>
<path d="M919 970.5l12.5-2.5-14-8-13 6.5z"/>
<path d="M906 978l13-7.5-14.5-4-12.5 3.5z"/>
<path d="M893.5 980l12.5-2-14-8-12.5 5z"/>
<path d="M880.5 983.5l13-3.5-14-5-13 2z"/>
<path d="M868 987.5l12.5-4-14-6.5-12.5 5z"/>
<path d="M855.5 992.5l12.5-5-14-5.5-13 3.5z"/>
<path d="M842.5 995.5l13-3-14.5-7-12.5 2z"/>
<path d="M830 997l12.5-1.5-14-8-12.5 5z"/>
<path d="M817 1000.5l13-3.5-14-4.5-13 2z"/>
<path d="M804.5 1004.5l12.5-4-14-6-12.5 4z"/>
<path d="M791.5 1008l13-3.5-14-6-13 4z"/>
<path d="M779 1012.5l12.5-4.5-14-5.5-12.5 2.5z"/>
<path d="M766.5 1016l12.5-3.5-14-7.5-13 4.5z"/>
<path d="M753.5 1020.5l13-4.5-14.5-6.5-12.5 2.5z"/>
<path d="M741 1022.5l12.5-2-14-8.5-12.5 2.5z"/>
<path d="M728 1027.5l13-5-14-8-13 4.5z"/>
<path d="M715.5 1031l12.5-3.5-14-8.5-12.5 4.5z"/>
<path d="M703 1032l12.5-1-14-7.5-13 4z"/>
<path d="M690 1036.5l13-4.5-14.5-4.5-12.5 3.5z"/>
<path d="M677.5 1041.5l12.5-5-14-5.5-13 1.5z"/>
<path d="M664.5 1044l13-2.5-14.5-9-12.5 4.5z"/>
<path d="M652 1046.5l12.5-2.5-14-7-12.5 2z"/>
<path d="M639 1049.5l13-3-14-7.5-13 6z"/>
<path d="M626.5 1055.5l12.5-6-14-4.5-12.5 2z"/>
<path d="M614 1058l12.5-2.5-14-8.5-13 3z"/>
<path d="M601 1061l13-3-14.5-8-12.5 5z"/>
<path d="M588.5 1064.5l12.5-3.5-14-6-13 1.5z"/>
<path d="M575.5 1069l13-4.5-14.5-8-12.5 5z"/>
<path d="M563 1072l12.5-3-14-7.5-12.5 2.5z"/>
<path d="M550 1072.5l13-0.5-14-8-13 3.5z"/>
<path d="M537.5 1080l12.5-7.5-14-5-12.5 3z"/>
<path d="M525 1081l12.5-1-14-9.5-13 6z"/>
<path d="M512 1086.5l13-5.5-14.5-4.5-12.5 3.5z"/>
<path d="M499.5 1087.5l12.5-1-14-6.5-12.5 2z"/>
<path d="M486.5 1092l13-4.5-14-5.5-13 4z"/>
<path d="M474 1097l12.5-5-14-6-12.5 2z"/>
<path d="M461 1101l13-4-14-9-13 5.5z"/>
<path d="M448.5 1104.5l12.5-3.5-14-7.5-12.5 4z"/>
<path d="M436 1108l12.5-3.5-14-7-13 2.5z"/>
<path d="M1352.5 865.5l12.5-5.5-14-4-12.5 2z"/>
<path d="M1340 869.5l12.5-4-14-7.5-13 4.5z"/>
<path d="M1327 871l13-1.5-14.5-7-12.5 3.5z"/>
<path d="M1314.5 876.5l12.5-5.5-14-5-13 3z"/>
<path d="M1301.5 876.5l13 0-14.5-7.5-12.5 4.5z"/>
<path d="M1289 882.5l12.5-6-14-3-12.5 2z"/>
<path d="M1276 885.5l13-3-14-7-13 4z"/>
<path d="M1263.5 888.5l12.5-3-14-6-12.5 0.5z"/>
<path d="M1251 893l12.5-4.5-14-8.5-13 6.5z"/>
<path d="M1238 895l13-2-14.5-6.5-12.5 1.5z"/>
<path d="M1225.5 898.5l12.5-3.5-14-7-13 4.5z"/>
<path d="M1212.5 903.5l13-5-14.5-6-12.5 4.5z"/>
<path d="M1200 906.5l12.5-3-14-6.5-12.5 2z"/>
<path d="M1187 909l13-2.5-14-7.5-13 4.5z"/>
<path d="M1174.5 911.5l12.5-2.5-14-5.5-12.5 3.5z"/>
<path d="M1162 917.5l12.5-6-14-4.5-13 4z"/>
<path d="M1149 921l13-3.5-14.5-6.5-12.5 4.5z"/>
<path d="M1136.5 923l12.5-2-14-5.5-12.5 3.5z"/>
<path d="M1123.5 927l13-4-14-4-13 1.5z"/>
<path d="M1111 931l12.5-4-14-6.5-12.5 4z"/>
<path d="M1098 934.5l13-3.5-14-6.5-13 5z"/>
<path d="M1085.5 938.5l12.5-4-14-5-12.5 3.5z"/>
<path d="M1073 943l12.5-4.5-14-5.5-13 1z"/>
<path d="M1060 945.5l13-2.5-14.5-9-12.5 4.5z"/>
<path d="M1047.5 948.5l12.5-3-14-7-12.5 2.5z"/>
<path d="M1034.5 950l13-1.5-14-7.5-13 3.5z"/>
</g>
<g stroke="#0004fd">
<path d="M1022 945.5l12.5 4.5-14-5.5-12.5-5.5z"/>
</g>
<g stroke="#0010f7">
<path d="M1009.5 919l12.5 26.5-14-6.5-13-21.5z"/>
</g>
<g stroke="#0020ef">
<path d="M996.5 887.5l13 31.5-14.5-1.5-12.5-33.5z"/>
</g>
<g stroke="#0024ed">
<path d="M984 881l12.5 6.5-14-3.5-13-6.5z"/>
</g>
<g stroke="#001cf1">
<path d="M971 908l13-27-14.5-3.5-12.5 31z"/>
</g>
<g stroke="#000cf9">
<path d="M958.5 950.5l12.5-42.5-14 0.5-12.5 36z"/>
</g>
<g stroke="#0004fd">
<path d="M945.5 970l13-19.5-14-6-13 23.5z"/>
</g>
<g stroke="#0000ff">
<path d="M933 978.5l12.5-8.5-14-2-12.5 2.5z"/>
<path d="M920.5 984.5l12.5-6-14-8-13 7.5z"/>
<path d="M907.5 988l13-3.5-14.5-6.5-12.5 2z"/>
<path d="M895 989l12.5-1-14-8-13 3.5z"/>
<path d="M882 992l13-3-14.5-5.5-12.5 4z"/>
<path d="M869.5 998l12.5-6-14-4.5-12.5 5z"/>
<path d="M856.5 1001l13-3-14-5.5-13 3z"/>
<path d="M844 1004l12.5-3-14-5.5-12.5 1.5z"/>
<path d="M831.5 1006.5l12.5-2.5-14-7-13 3.5z"/>
<path d="M818.5 1011.5l13-5-14.5-6-12.5 4z"/>
<path d="M806 1015l12.5-3.5-14-7-13 3.5z"/>
<path d="M793 1019l13-4-14.5-7-12.5 4.5z"/>
<path d="M780.5 1023l12.5-4-14-6.5-12.5 3.5z"/>
<path d="M767.5 1027l13-4-14-7-13 4.5z"/>
<path d="M755 1030.5l12.5-3.5-14-6.5-12.5 2z"/>
<path d="M742.5 1033.5l12.5-3-14-8-13 5z"/>
<path d="M729.5 1037.5l13-4-14.5-6-12.5 3.5z"/>
<path d="M717 1039l12.5-1.5-14-6.5-12.5 1z"/>
<path d="M704 1043l13-4-14-7-13 4.5z"/>
<path d="M691.5 1047l12.5-4-14-6.5-12.5 5z"/>
<path d="M679 1050l12.5-3-14-5.5-13 2.5z"/>
<path d="M666 1052l13-2-14.5-6-12.5 2.5z"/>
<path d="M653.5 1057l12.5-5-14-5.5-13 3z"/>
<path d="M640.5 1061l13-4-14.5-7.5-12.5 6z"/>
<path d="M628 1065.5l12.5-4.5-14-5.5-12.5 2.5z"/>
<path d="M615 1068.5l13-3-14-7.5-13 3z"/>
<path d="M602.5 1071l12.5-2.5-14-7.5-12.5 3.5z"/>
<path d="M590 1075.5l12.5-4.5-14-6.5-13 4.5z"/>
<path d="M577 1077.5l13-2-14.5-6.5-12.5 3z"/>
<path d="M564.5 1082l12.5-4.5-14-5.5-13 0.5z"/>
<path d="M551.5 1085l13-3-14.5-9.5-12.5 7.5z"/>
<path d="M539 1088.5l12.5-3.5-14-5-12.5 1z"/>
<path d="M526 1090l13-1.5-14-7.5-13 5.5z"/>
<path d="M513.5 1096.5l12.5-6.5-14-3.5-12.5 1z"/>
<path d="M501 1099.5l12.5-3-14-9-13 4.5z"/>
<path d="M488 1099.5l13 0-14.5-7.5-12.5 5z"/>
<path d="M475.5 1107l12.5-7.5-14-2.5-13 4z"/>
<path d="M462.5 1109.5l13-2.5-14.5-6-12.5 3.5z"/>
<path d="M450 1114.5l12.5-5-14-5-12.5 3.5z"/>
<path d="M1366.5 872.5l13-5-14.5-7.5-12.5 5.5z"/>
<path d="M1354 876l12.5-3.5-14-7-12.5 4z"/>
<path d="M1341 879.5l13-3.5-14-6.5-13 1.5z"/>
<path d="M1328.5 879.5l12.5 0-14-8.5-12.5 5.5z"/>
<path d="M1316 882l12.5-2.5-14-3-13 0z"/>
<path d="M1303 890l13-8-14.5-5.5-12.5 6z"/>
<path d="M1290.5 892l12.5-2-14-7.5-13 3z"/>
<path d="M1277.5 895.5l13-3.5-14.5-6.5-12.5 3z"/>
<path d="M1265 898l12.5-2.5-14-7-12.5 4.5z"/>
<path d="M1252 903.5l13-5.5-14-5-13 2z"/>
<path d="M1239.5 907l12.5-3.5-14-8.5-12.5 3.5z"/>
<path d="M1227 909l12.5-2-14-8.5-13 5z"/>
<path d="M1214 914l13-5-14.5-5.5-12.5 3z"/>
<path d="M1201.5 914l12.5 0-14-7.5-13 2.5z"/>
<path d="M1188.5 920l13-6-14.5-5-12.5 2.5z"/>
<path d="M1176 923.5l12.5-3.5-14-8.5-12.5 6z"/>
<path d="M1163 928l13-4.5-14-6-13 3.5z"/>
<path d="M1150.5 931.5l12.5-3.5-14-7-12.5 2z"/>
<path d="M1138 935l12.5-3.5-14-8.5-13 4z"/>
<path d="M1125 937l13-2-14.5-8-12.5 4z"/>
<path d="M1112.5 941l12.5-4-14-6-13 3.5z"/>
<path d="M1099.5 944.5l13-3.5-14.5-6.5-12.5 4z"/>
<path d="M1087 949.5l12.5-5-14-6-12.5 4.5z"/>
<path d="M1074 951.5l13-2-14-6.5-13 2.5z"/>
<path d="M1061.5 955.5l12.5-4-14-6-12.5 3z"/>
</g>
<g stroke="#0004fd">
<path d="M1049 954.5l12.5 1-14-7-13 1.5z"/>
</g>
<g stroke="#0008fb">
<path d="M1036 949l13 5.5-14.5-4.5-12.5-4.5z"/>
</g>
<g stroke="#0010f7">
<path d="M1023.5 925l12.5 24-14-3.5-12.5-26.5z"/>
</g>
<g stroke="#0024ed">
<path d="M1010.5 885l13 40-14-6-13-31.5z"/>
</g>
<g stroke="#0028eb">
<path d="M998 875.5l12.5 9.5-14 2.5-12.5-6.5z"/>
</g>
<g stroke="#001cf1">
<path d="M985 909l13-33.5-14 5.5-13 27z"/>
</g>
<g stroke="#000cf9">
<path d="M972.5 953l12.5-44-14-1-12.5 42.5z"/>
</g>
<g stroke="#0004fd">
<path d="M960 973l12.5-20-14-2.5-13 19.5z"/>
</g>
<g stroke="#0000ff">
<path d="M947 985l13-12-14.5-3-12.5 8.5z"/>
<path d="M934.5 989.5l12.5-4.5-14-6.5-12.5 6z"/>
<path d="M921.5 994.5l13-5-14-5-13 3.5z"/>
<path d="M909 996l12.5-1.5-14-6.5-12.5 1z"/>
<path d="M896.5 999.5l12.5-3.5-14-7-13 3z"/>
<path d="M883.5 1004l13-4.5-14.5-7.5-12.5 6z"/>
<path d="M871 1008.5l12.5-4.5-14-6-13 3z"/>
<path d="M858 1009.5l13-1-14.5-7.5-12.5 3z"/>
<path d="M845.5 1014l12.5-4.5-14-5.5-12.5 2.5z"/>
<path d="M832.5 1019.5l13-5.5-14-7.5-13 5z"/>
<path d="M820 1023l12.5-3.5-14-8-12.5 3.5z"/>
<path d="M807.5 1026l12.5-3-14-8-13 4z"/>
<path d="M794.5 1028.5l13-2.5-14.5-7-12.5 4z"/>
<path d="M782 1033.5l12.5-5-14-5.5-13 4z"/>
<path d="M769 1037l13-3.5-14.5-6.5-12.5 3.5z"/>
<path d="M756.5 1039l12.5-2-14-6.5-12.5 3z"/>
<path d="M743.5 1043l13-4-14-5.5-13 4z"/>
<path d="M731 1047.5l12.5-4.5-14-5.5-12.5 1.5z"/>
<path d="M718.5 1048.5l12.5-1-14-8.5-13 4z"/>
<path d="M705.5 1054.5l13-6-14.5-5.5-12.5 4z"/>
<path d="M693 1057l12.5-2.5-14-7.5-12.5 3z"/>
<path d="M680 1061.5l13-4.5-14-7-13 2z"/>
<path d="M667.5 1064.5l12.5-3-14-9.5-12.5 5z"/>
<path d="M654.5 1067l13-2.5-14-7.5-13 4z"/>
<path d="M642 1072l12.5-5-14-6-12.5 4.5z"/>
<path d="M629.5 1074.5l12.5-2.5-14-6.5-13 3z"/>
<path d="M616.5 1078.5l13-4-14.5-6-12.5 2.5z"/>
<path d="M604 1082l12.5-3.5-14-7.5-12.5 4.5z"/>
<path d="M591 1085l13-3-14-6.5-13 2z"/>
<path d="M578.5 1088.5l12.5-3.5-14-7.5-12.5 4.5z"/>
<path d="M566 1092.5l12.5-4-14-6.5-13 3z"/>
<path d="M553 1094l13-1.5-14.5-7.5-12.5 3.5z"/>
<path d="M540.5 1097l12.5-3-14-5.5-13 1.5z"/>
<path d="M527.5 1102l13-5-14.5-7-12.5 6.5z"/>
<path d="M515 1105.5l12.5-3.5-14-5.5-12.5 3z"/>
<path d="M502 1109.5l13-4-14-6-13 0z"/>
<path d="M489.5 1111.5l12.5-2-14-10-12.5 7.5z"/>
<path d="M477 1114.5l12.5-3-14-4.5-13 2.5z"/>
<path d="M464 1119l13-4.5-14.5-5-12.5 5z"/>
<path d="M1380.5 878.5l13-3-14-8-13 5z"/>
<path d="M1368 881.5l12.5-3-14-6-12.5 3.5z"/>
<path d="M1355.5 885.5l12.5-4-14-5.5-13 3.5z"/>
<path d="M1342.5 888l13-2.5-14.5-6-12.5 0z"/>
<path d="M1330 892.5l12.5-4.5-14-8.5-12.5 2.5z"/>
<path d="M1317 896l13-3.5-14-10.5-13 8z"/>
<path d="M1304.5 898l12.5-2-14-6-12.5 2z"/>
<path d="M1291.5 903.5l13-5.5-14-6-13 3.5z"/>
<path d="M1279 907l12.5-3.5-14-8-12.5 2.5z"/>
<path d="M1266.5 910l12.5-3-14-9-13 5.5z"/>
<path d="M1253.5 914l13-4-14.5-6.5-12.5 3.5z"/>
<path d="M1241 915l12.5-1-14-7-12.5 2z"/>
<path d="M1228 920l13-5-14-6-13 5z"/>
<path d="M1215.5 923.5l12.5-3.5-14-6-12.5 0z"/>
<path d="M1203 927.5l12.5-4-14-9.5-13 6z"/>
<path d="M1190 930l13-2.5-14.5-7.5-12.5 3.5z"/>
<path d="M1177.5 934l12.5-4-14-6.5-13 4.5z"/>
<path d="M1164.5 935.5l13-1.5-14.5-6-12.5 3.5z"/>
<path d="M1152 941l12.5-5.5-14-4-12.5 3.5z"/>
<path d="M1139 944l13-3-14-6-13 2z"/>
<path d="M1126.5 946l12.5-2-14-7-12.5 4z"/>
<path d="M1114 952.5l12.5-6.5-14-5-13 3.5z"/>
<path d="M1101 956l13-3.5-14.5-8-12.5 5z"/>
<path d="M1088.5 956.5l12.5-0.5-14-6.5-13 2z"/>
<path d="M1075.5 963l13-6.5-14.5-5-12.5 4z"/>
<path d="M1063 962l12.5 1-14-7.5-12.5-1z"/>
</g>
<g stroke="#0008fb">
<path d="M1050 952.5l13 9.5-14-7.5-13-5.5z"/>
</g>
<g stroke="#0014f5">
<path d="M1037.5 926.5l12.5 26-14-3.5-12.5-24z"/>
</g>
<g stroke="#0024ed">
<path d="M1025 889.5l12.5 37-14-1.5-13-40z"/>
</g>
<g stroke="#002de9">
<path d="M1012 877l13 12.5-14.5-4.5-12.5-9.5z"/>
</g>
<g stroke="#001cf1">
<path d="M999.5 913.5l12.5-36.5-14-1.5-13 33.5z"/>
</g>
<g stroke="#000cf9">
<path d="M986.5 956l13-42.5-14.5-4.5-12.5 44z"/>
</g>
<g stroke="#0004fd">
<path d="M974 982l12.5-26-14-3-12.5 20z"/>
</g>
<g stroke="#0000ff">
<path d="M961 993.5l13-11.5-14-9-13 12z"/>
<path d="M948.5 994.5l12.5-1-14-8.5-12.5 4.5z"/>
<path d="M936 1001l12.5-6.5-14-5-13 5z"/>
<path d="M923 1005l13-4-14.5-6.5-12.5 1.5z"/>
<path d="M910.5 1007.5l12.5-2.5-14-9-12.5 3.5z"/>
<path d="M897.5 1009.5l13-2-14-8-13 4.5z"/>
<path d="M885 1014.5l12.5-5-14-5.5-12.5 4.5z"/>
<path d="M872.5 1018l12.5-3.5-14-6-13 1z"/>
<path d="M859.5 1022.5l13-4.5-14.5-8.5-12.5 4.5z"/>
<path d="M847 1024l12.5-1.5-14-8.5-13 5.5z"/>
<path d="M834 1028l13-4-14.5-4.5-12.5 3.5z"/>
<path d="M821.5 1032.5l12.5-4.5-14-5-12.5 3z"/>
<path d="M808.5 1035.5l13-3-14-6.5-13 2.5z"/>
<path d="M796 1040l12.5-4.5-14-7-12.5 5z"/>
<path d="M783.5 1042l12.5-2-14-6.5-13 3.5z"/>
<path d="M770.5 1047l13-5-14.5-5-12.5 2z"/>
<path d="M758 1050.5l12.5-3.5-14-8-13 4z"/>
<path d="M745 1052l13-1.5-14.5-7.5-12.5 4.5z"/>
<path d="M732.5 1056l12.5-4-14-4.5-12.5 1z"/>
<path d="M719.5 1058l13-2-14-7.5-13 6z"/>
<path d="M707 1062.5l12.5-4.5-14-3.5-12.5 2.5z"/>
<path d="M694.5 1068l12.5-5.5-14-5.5-13 4.5z"/>
<path d="M681.5 1070l13-2-14.5-6.5-12.5 3z"/>
<path d="M669 1071.5l12.5-1.5-14-5.5-13 2.5z"/>
<path d="M656 1077l13-5.5-14.5-4.5-12.5 5z"/>
<path d="M643.5 1077.5l12.5-0.5-14-5-12.5 2.5z"/>
<path d="M630.5 1083l13-5.5-14-3-13 4z"/>
<path d="M618 1088l12.5-5-14-4.5-12.5 3.5z"/>
<path d="M605.5 1091.5l12.5-3.5-14-6-13 3z"/>
<path d="M592.5 1093l13-1.5-14.5-6.5-12.5 3.5z"/>
<path d="M580 1098l12.5-5-14-4.5-12.5 4z"/>
<path d="M567 1101.5l13-3.5-14-5.5-13 1.5z"/>
<path d="M554.5 1104l12.5-2.5-14-7.5-12.5 3z"/>
<path d="M541.5 1110l13-6-14-7-13 5z"/>
<path d="M529 1112.5l12.5-2.5-14-8-12.5 3.5z"/>
<path d="M516.5 1116l12.5-3.5-14-7-13 4z"/>
<path d="M503.5 1120l13-4-14.5-6.5-12.5 2z"/>
<path d="M491 1121.5l12.5-1.5-14-8.5-12.5 3z"/>
<path d="M478 1126.5l13-5-14-7-13 4.5z"/>
<path d="M1395 885.5l12.5-5.5-14-4.5-13 3z"/>
<path d="M1382 887.5l13-2-14.5-7-12.5 3z"/>
<path d="M1369.5 891.5l12.5-4-14-6-12.5 4z"/>
<path d="M1356.5 894.5l13-3-14-6-13 2.5z"/>
<path d="M1344 898l12.5-3.5-14-6.5-12.5 4.5z"/>
<path d="M1331.5 901l12.5-3-14-5.5-13 3.5z"/>
<path d="M1318.5 905l13-4-14.5-5-12.5 2z"/>
<path d="M1306 909l12.5-4-14-7-13 5.5z"/>
<path d="M1293 912.5l13-3.5-14.5-5.5-12.5 3.5z"/>
<path d="M1280.5 916l12.5-3.5-14-5.5-12.5 3z"/>
<path d="M1267.5 920l13-4-14-6-13 4z"/>
<path d="M1255 922.5l12.5-2.5-14-6-12.5 1z"/>
<path d="M1242.5 925l12.5-2.5-14-7.5-13 5z"/>
<path d="M1229.5 929.5l13-4.5-14.5-5-12.5 3.5z"/>
<path d="M1217 934.5l12.5-5-14-6-12.5 4z"/>
<path d="M1204 934.5l13 0-14-7-13 2.5z"/>
<path d="M1191.5 940l12.5-5.5-14-4.5-12.5 4z"/>
<path d="M1179 941.5l12.5-1.5-14-6-13 1.5z"/>
<path d="M1166 948.5l13-7-14.5-6-12.5 5.5z"/>
<path d="M1153.5 951.5l12.5-3-14-7.5-13 3z"/>
<path d="M1140.5 955.5l13-4-14.5-7.5-12.5 2z"/>
<path d="M1128 958.5l12.5-3-14-9.5-12.5 6.5z"/>
<path d="M1115 962l13-3.5-14-6-13 3.5z"/>
<path d="M1102.5 965l12.5-3-14-6-12.5 0.5z"/>
<path d="M1090 966l12.5-1-14-8.5-13 6.5z"/>
</g>
<g stroke="#0004fd">
<path d="M1077 967.5l13-1.5-14.5-3-12.5-1z"/>
</g>
<g stroke="#0008fb">
<path d="M1064.5 956.5l12.5 11-14-5.5-13-9.5z"/>
</g>
<g stroke="#0018f3">
<path d="M1051.5 925l13 31.5-14.5-4-12.5-26z"/>
</g>
<g stroke="#002de9">
<path d="M1039 883.5l12.5 41.5-14 1.5-12.5-37z"/>
</g>
<g stroke="#0031e7">
<path d="M1026 872.5l13 11-14 6-13-12.5z"/>
</g>
<g stroke="#0020ef">
<path d="M1013.5 910l12.5-37.5-14 4.5-12.5 36.5z"/>
</g>
<g stroke="#0010f7">
<path d="M1001 959l12.5-49-14 3.5-13 42.5z"/>
</g>
<g stroke="#0004fd">
<path d="M988 986l13-27-14.5-3-12.5 26z"/>
</g>
<g stroke="#0000ff">
<path d="M975.5 998l12.5-12-14-4-13 11.5z"/>
<path d="M962.5 1004.5l13-6.5-14.5-4.5-12.5 1z"/>
<path d="M950 1006.5l12.5-2-14-10-12.5 6.5z"/>
<path d="M937 1011.5l13-5-14-5.5-13 4z"/>
<path d="M924.5 1014l12.5-2.5-14-6.5-12.5 2.5z"/>
<path d="M912 1018l12.5-4-14-6.5-13 2z"/>
<path d="M899 1021.5l13-3.5-14.5-8.5-12.5 5z"/>
<path d="M886.5 1025.5l12.5-4-14-7-12.5 3.5z"/>
<path d="M873.5 1026.5l13-1-14-7.5-13 4.5z"/>
<path d="M861 1031l12.5-4.5-14-4-12.5 1.5z"/>
<path d="M848 1032l13-1-14-7-13 4z"/>
<path d="M835.5 1039.5l12.5-7.5-14-4-12.5 4.5z"/>
<path d="M823 1040.5l12.5-1-14-7-13 3z"/>
<path d="M810 1045.5l13-5-14.5-5-12.5 4.5z"/>
<path d="M797.5 1049.5l12.5-4-14-5.5-12.5 2z"/>
<path d="M784.5 1053l13-3.5-14-7.5-13 5z"/>
<path d="M772 1056.5l12.5-3.5-14-6-12.5 3.5z"/>
<path d="M759.5 1058l12.5-1.5-14-6-13 1.5z"/>
<path d="M746.5 1062l13-4-14.5-6-12.5 4z"/>
<path d="M734 1066.5l12.5-4.5-14-6-13 2z"/>
<path d="M721 1070.5l13-4-14.5-8.5-12.5 4.5z"/>
<path d="M708.5 1073.5l12.5-3-14-8-12.5 5.5z"/>
<path d="M695.5 1077.5l13-4-14-5.5-13 2z"/>
<path d="M683 1081l12.5-3.5-14-7.5-12.5 1.5z"/>
<path d="M670.5 1083l12.5-2-14-9.5-13 5.5z"/>
<path d="M657.5 1085l13-2-14.5-6-12.5 0.5z"/>
<path d="M645 1092l12.5-7-14-7.5-13 5.5z"/>
<path d="M632 1095.5l13-3.5-14.5-9-12.5 5z"/>
<path d="M619.5 1098.5l12.5-3-14-7.5-12.5 3.5z"/>
<path d="M606.5 1100.5l13-2-14-7-13 1.5z"/>
<path d="M594 1105l12.5-4.5-14-7.5-12.5 5z"/>
<path d="M581.5 1108.5l12.5-3.5-14-7-13 3.5z"/>
<path d="M568.5 1112.5l13-4-14.5-7-12.5 2.5z"/>
<path d="M556 1115.5l12.5-3-14-8.5-13 6z"/>
<path d="M543 1120l13-4.5-14.5-5.5-12.5 2.5z"/>
<path d="M530.5 1123.5l12.5-3.5-14-7.5-12.5 3.5z"/>
<path d="M517.5 1127l13-3.5-14-7.5-13 4z"/>
<path d="M505 1130l12.5-3-14-7-12.5 1.5z"/>
<path d="M492.5 1133l12.5-3-14-8.5-13 5z"/>
<path d="M1409 889.5l12.5-2-14-7.5-12.5 5.5z"/>
<path d="M1396.5 894l12.5-4.5-14-4-13 2z"/>
<path d="M1383.5 897l13-3-14.5-6.5-12.5 4z"/>
<path d="M1371 901.5l12.5-4.5-14-5.5-13 3z"/>
<path d="M1358 906.5l13-5-14.5-7-12.5 3.5z"/>
<path d="M1345.5 909l12.5-2.5-14-8.5-12.5 3z"/>
<path d="M1332.5 913l13-4-14-8-13 4z"/>
<path d="M1320 917l12.5-4-14-8-12.5 4z"/>
<path d="M1307.5 917.5l12.5-0.5-14-8-13 3.5z"/>
<path d="M1294.5 922.5l13-5-14.5-5-12.5 3.5z"/>
<path d="M1282 927.5l12.5-5-14-6.5-13 4z"/>
<path d="M1269 928l13-0.5-14.5-7.5-12.5 2.5z"/>
<path d="M1256.5 931.5l12.5-3.5-14-5.5-12.5 2.5z"/>
<path d="M1243.5 934.5l13-3-14-6.5-13 4.5z"/>
<path d="M1231 941.5l12.5-7-14-5-12.5 5z"/>
<path d="M1218.5 944l12.5-2.5-14-7-13 0z"/>
<path d="M1205.5 946l13-2-14.5-9.5-12.5 5.5z"/>
<path d="M1193 951.5l12.5-5.5-14-6-12.5 1.5z"/>
<path d="M1180 955l13-3.5-14-10-13 7z"/>
<path d="M1167.5 958.5l12.5-3.5-14-6.5-12.5 3z"/>
<path d="M1154.5 961.5l13-3-14-7-13 4z"/>
<path d="M1142 963l12.5-1.5-14-6-12.5 3z"/>
<path d="M1129.5 968l12.5-5-14-4.5-13 3.5z"/>
<path d="M1116.5 972.5l13-4.5-14.5-6-12.5 3z"/>
<path d="M1104 973l12.5-0.5-14-7.5-12.5 1z"/>
</g>
<g stroke="#0004fd">
<path d="M1091 973l13 0-14-7-13 1.5z"/>
</g>
<g stroke="#000cf9">
<path d="M1078.5 958l12.5 15-14-5.5-12.5-11z"/>
</g>
<g stroke="#0018f3">
<path d="M1066 929l12.5 29-14-1.5-13-31.5z"/>
</g>
<g stroke="#0031e7">
<path d="M1053 880l13 49-14.5-4-12.5-41.5z"/>
</g>
<g stroke="#0035e5">
<path d="M1040.5 867l12.5 13-14 3.5-13-11z"/>
</g>
<g stroke="#0024ed">
<path d="M1027.5 908l13-41-14.5 5.5-12.5 37.5z"/>
</g>
<g stroke="#0014f5">
<path d="M1015 957l12.5-49-14 2-12.5 49z"/>
</g>
<g stroke="#0004fd">
<path d="M1002 994.5l13-37.5-14 2-13 27z"/>
</g>
<g stroke="#0000ff">
<path d="M989.5 1005.5l12.5-11-14-8.5-12.5 12z"/>
<path d="M977 1009l12.5-3.5-14-7.5-13 6.5z"/>
<path d="M964 1011.5l13-2.5-14.5-4.5-12.5 2z"/>
<path d="M951.5 1016.5l12.5-5-14-5-13 5z"/>
<path d="M938.5 1021.5l13-5-14.5-5-12.5 2.5z"/>
<path d="M926 1025l12.5-3.5-14-7.5-12.5 4z"/>
<path d="M913 1027.5l13-2.5-14-7-13 3.5z"/>
<path d="M900.5 1031l12.5-3.5-14-6-12.5 4z"/>
<path d="M888 1035.5l12.5-4.5-14-5.5-13 1z"/>
<path d="M875 1038l13-2.5-14.5-9-12.5 4.5z"/>
<path d="M862.5 1040l12.5-2-14-7-13 1z"/>
<path d="M849.5 1043.5l13-3.5-14.5-8-12.5 7.5z"/>
<path d="M837 1046l12.5-2.5-14-4-12.5 1z"/>
<path d="M824 1053l13-7-14-5.5-13 5z"/>
<path d="M811.5 1056l12.5-3-14-7.5-12.5 4z"/>
<path d="M799 1058.5l12.5-2.5-14-6.5-13 3.5z"/>
<path d="M786 1062.5l13-4-14.5-5.5-12.5 3.5z"/>
<path d="M773.5 1067l12.5-4.5-14-6-12.5 1.5z"/>
<path d="M760.5 1068.5l13-1.5-14-9-13 4z"/>
<path d="M748 1072.5l12.5-4-14-6.5-12.5 4.5z"/>
<path d="M735 1076l13-3.5-14-6-13 4z"/>
<path d="M722.5 1081l12.5-5-14-5.5-12.5 3z"/>
<path d="M710 1084.5l12.5-3.5-14-7.5-13 4z"/>
<path d="M697 1087.5l13-3-14.5-7-12.5 3.5z"/>
<path d="M684.5 1091.5l12.5-4-14-6.5-12.5 2z"/>
<path d="M671.5 1095l13-3.5-14-8.5-13 2z"/>
<path d="M659 1098l12.5-3-14-10-12.5 7z"/>
<path d="M646.5 1102l12.5-4-14-6-13 3.5z"/>
<path d="M633.5 1104l13-2-14.5-6.5-12.5 3z"/>
<path d="M621 1107l12.5-3-14-5.5-13 2z"/>
<path d="M608 1110.5l13-3.5-14.5-6.5-12.5 4.5z"/>
<path d="M595.5 1116l12.5-5.5-14-5.5-12.5 3.5z"/>
<path d="M582.5 1118.5l13-2.5-14-7.5-13 4z"/>
<path d="M570 1122l12.5-3.5-14-6-12.5 3z"/>
<path d="M557.5 1125l12.5-3-14-6.5-13 4.5z"/>
<path d="M544.5 1129l13-4-14.5-5-12.5 3.5z"/>
<path d="M532 1133.5l12.5-4.5-14-5.5-13 3.5z"/>
<path d="M519 1137l13-3.5-14.5-6.5-12.5 3z"/>
<path d="M506.5 1140.5l12.5-3.5-14-7-12.5 3z"/>
<path d="M1423 898.5l13-3-14.5-8-12.5 2z"/>
<path d="M1410.5 901.5l12.5-3-14-9-12.5 4.5z"/>
<path d="M1397.5 906l13-4.5-14-7.5-13 3z"/>
<path d="M1385 908.5l12.5-2.5-14-9-12.5 4.5z"/>
<path d="M1372.5 912l12.5-3.5-14-7-13 5z"/>
<path d="M1359.5 915.5l13-3.5-14.5-5.5-12.5 2.5z"/>
<path d="M1347 920l12.5-4.5-14-6.5-13 4z"/>
<path d="M1334 923.5l13-3.5-14.5-7-12.5 4z"/>
<path d="M1321.5 927l12.5-3.5-14-6.5-12.5 0.5z"/>
<path d="M1308.5 928.5l13-1.5-14-9.5-13 5z"/>
<path d="M1296 933l12.5-4.5-14-6-12.5 5z"/>
<path d="M1283.5 937.5l12.5-4.5-14-5.5-13 0.5z"/>
<path d="M1270.5 940.5l13-3-14.5-9.5-12.5 3.5z"/>
<path d="M1258 942.5l12.5-2-14-9-13 3z"/>
<path d="M1245 946.5l13-4-14.5-8-12.5 7z"/>
<path d="M1232.5 950.5l12.5-4-14-5-12.5 2.5z"/>
<path d="M1219.5 953l13-2.5-14-6.5-13 2z"/>
<path d="M1207 957.5l12.5-4.5-14-7-12.5 5.5z"/>
<path d="M1194.5 962l12.5-4.5-14-6-13 3.5z"/>
<path d="M1181.5 965l13-3-14.5-7-12.5 3.5z"/>
<path d="M1169 966.5l12.5-1.5-14-6.5-13 3z"/>
<path d="M1156 969l13-2.5-14.5-5-12.5 1.5z"/>
<path d="M1143.5 974.5l12.5-5.5-14-6-12.5 5z"/>
<path d="M1130.5 975.5l13-1-14-6.5-13 4.5z"/>
<path d="M1118 981.5l12.5-6-14-3-12.5 0.5z"/>
<path d="M1105.5 982.5l12.5-1-14-8.5-13 0z"/>
</g>
<g stroke="#0008fb">
<path d="M1092.5 966.5l13 16-14.5-9.5-12.5-15z"/>
</g>
<g stroke="#001cf1">
<path d="M1080 926l12.5 40.5-14-8.5-12.5-29z"/>
</g>
<g stroke="#0035e5">
<path d="M1067 873l13 53-14 3-13-49z"/>
</g>
<g stroke="#0039e3">
<path d="M1054.5 864l12.5 9-14 7-12.5-13z"/>
</g>
<g stroke="#0028eb">
<path d="M1041.5 906.5l13-42.5-14 3-13 41z"/>
</g>
<g stroke="#0014f5">
<path d="M1029 957.5l12.5-51-14 1.5-12.5 49z"/>
</g>
<g stroke="#0004fd">
<path d="M1016.5 999l12.5-41.5-14-0.5-13 37.5z"/>
<path d="M1003.5 1009.5l13-10.5-14.5-4.5-12.5 11z"/>
</g>
<g stroke="#0000ff">
<path d="M991 1017l12.5-7.5-14-4-12.5 3.5z"/>
<path d="M978 1017.5l13-0.5-14-8-13 2.5z"/>
<path d="M965.5 1023l12.5-5.5-14-6-12.5 5z"/>
<path d="M953 1026l12.5-3-14-6.5-13 5z"/>
<path d="M940 1029l13-3-14.5-4.5-12.5 3.5z"/>
<path d="M927.5 1033.5l12.5-4.5-14-4-13 2.5z"/>
<path d="M914.5 1037.5l13-4-14.5-6-12.5 3.5z"/>
<path d="M902 1041l12.5-3.5-14-6.5-12.5 4.5z"/>
<path d="M889 1044l13-3-14-5.5-13 2.5z"/>
<path d="M876.5 1048l12.5-4-14-6-12.5 2z"/>
<path d="M864 1053l12.5-5-14-8-13 3.5z"/>
<path d="M851 1056.5l13-3.5-14.5-9.5-12.5 2.5z"/>
<path d="M838.5 1059l12.5-2.5-14-10.5-13 7z"/>
<path d="M825.5 1063.5l13-4.5-14.5-6-12.5 3z"/>
<path d="M813 1065.5l12.5-2-14-7.5-12.5 2.5z"/>
<path d="M800 1070.5l13-5-14-7-13 4z"/>
<path d="M787.5 1072l12.5-1.5-14-8-12.5 4.5z"/>
<path d="M775 1077.5l12.5-5.5-14-5-13 1.5z"/>
<path d="M762 1078.5l13-1-14.5-9-12.5 4z"/>
<path d="M749.5 1083.5l12.5-5-14-6-13 3.5z"/>
<path d="M736.5 1085l13-1.5-14.5-7.5-12.5 5z"/>
<path d="M724 1091l12.5-6-14-4-12.5 3.5z"/>
<path d="M711 1093l13-2-14-6.5-13 3z"/>
<path d="M698.5 1098.5l12.5-5.5-14-5.5-12.5 4z"/>
<path d="M686 1099.5l12.5-1-14-7-13 3.5z"/>
<path d="M673 1103l13-3.5-14.5-4.5-12.5 3z"/>
<path d="M660.5 1107.5l12.5-4.5-14-5-12.5 4z"/>
<path d="M647.5 1112.5l13-5-14-5.5-13 2z"/>
<path d="M635 1116l12.5-3.5-14-8.5-12.5 3z"/>
<path d="M622.5 1119.5l12.5-3.5-14-9-13 3.5z"/>
<path d="M609.5 1120.5l13-1-14.5-9-12.5 5.5z"/>
<path d="M597 1126l12.5-5.5-14-4.5-13 2.5z"/>
<path d="M584 1129.5l13-3.5-14.5-7.5-12.5 3.5z"/>
<path d="M571.5 1130l12.5-0.5-14-7.5-12.5 3z"/>
<path d="M558.5 1137l13-7-14-5-13 4z"/>
<path d="M546 1137.5l12.5-0.5-14-8-12.5 4.5z"/>
<path d="M533.5 1142l12.5-4.5-14-4-13 3.5z"/>
<path d="M520.5 1147l13-5-14.5-5-12.5 3.5z"/>
<path d="M1437 905.5l13-4-14-6-13 3z"/>
<path d="M1424.5 909l12.5-3.5-14-7-12.5 3z"/>
<path d="M1412 911.5l12.5-2.5-14-7.5-13 4.5z"/>
<path d="M1399 916l13-4.5-14.5-5.5-12.5 2.5z"/>
<path d="M1386.5 917.5l12.5-1.5-14-7.5-12.5 3.5z"/>
<path d="M1373.5 922l13-4.5-14-5.5-13 3.5z"/>
<path d="M1361 925.5l12.5-3.5-14-6.5-12.5 4.5z"/>
<path d="M1348 930l13-4.5-14-5.5-13 3.5z"/>
<path d="M1335.5 933.5l12.5-3.5-14-6.5-12.5 3.5z"/>
<path d="M1323 934l12.5-0.5-14-6.5-13 1.5z"/>
<path d="M1310 938.5l13-4.5-14.5-5.5-12.5 4.5z"/>
<path d="M1297.5 944l12.5-5.5-14-5.5-12.5 4.5z"/>
<path d="M1284.5 947.5l13-3.5-14-6.5-13 3z"/>
<path d="M1272 951l12.5-3.5-14-7-12.5 2z"/>
<path d="M1259.5 953.5l12.5-2.5-14-8.5-13 4z"/>
<path d="M1246.5 955l13-1.5-14.5-7-12.5 4z"/>
<path d="M1234 961l12.5-6-14-4.5-13 2.5z"/>
<path d="M1221 964.5l13-3.5-14.5-8-12.5 4.5z"/>
<path d="M1208.5 967l12.5-2.5-14-7-12.5 4.5z"/>
<path d="M1195.5 970l13-3-14-5-13 3z"/>
<path d="M1183 975.5l12.5-5.5-14-5-12.5 1.5z"/>
<path d="M1170.5 978l12.5-2.5-14-9-13 2.5z"/>
<path d="M1157.5 982l13-4-14.5-9-12.5 5.5z"/>
<path d="M1145 986l12.5-4-14-7.5-13 1z"/>
<path d="M1132 986.5l13-0.5-14.5-10.5-12.5 6z"/>
</g>
<g stroke="#0004fd">
<path d="M1119.5 982l12.5 4.5-14-5-12.5 1z"/>
</g>
<g stroke="#000cf9">
<path d="M1106.5 969.5l13 12.5-14 0.5-13-16z"/>
</g>
<g stroke="#0020ef">
<path d="M1094 925l12.5 44.5-14-3-12.5-40.5z"/>
</g>
<g stroke="#0039e3">
<path d="M1081.5 869.5l12.5 55.5-14 1-13-53z"/>
</g>
<g stroke="#0041df">
<path d="M1068.5 858.5l13 11-14.5 3.5-12.5-9z"/>
</g>
<g stroke="#002de9">
<path d="M1056 901.5l12.5-43-14 5.5-13 42.5z"/>
</g>
<g stroke="#0014f5">
<path d="M1043 964l13-62.5-14.5 5-12.5 51z"/>
</g>
<g stroke="#0008fb">
<path d="M1030.5 1003.5l12.5-39.5-14-6.5-12.5 41.5z"/>
</g>
<g stroke="#0004fd">
<path d="M1017.5 1013l13-9.5-14-4.5-13 10.5z"/>
</g>
<g stroke="#0000ff">
<path d="M1005 1022.5l12.5-9.5-14-3.5-12.5 7.5z"/>
<path d="M992.5 1027l12.5-4.5-14-5.5-13 0.5z"/>
<path d="M979.5 1031l13-4-14.5-9.5-12.5 5.5z"/>
<path d="M967 1035l12.5-4-14-8-12.5 3z"/>
<path d="M954 1038.5l13-3.5-14-9-13 3z"/>
<path d="M941.5 1040l12.5-1.5-14-9.5-12.5 4.5z"/>
<path d="M929 1043.5l12.5-3.5-14-6.5-13 4z"/>
<path d="M916 1045l13-1.5-14.5-6-12.5 3.5z"/>
<path d="M903.5 1051.5l12.5-6.5-14-4-13 3z"/>
<path d="M890.5 1055l13-3.5-14.5-7.5-12.5 4z"/>
<path d="M878 1056.5l12.5-1.5-14-7-12.5 5z"/>
<path d="M865 1061l13-4.5-14-3.5-13 3.5z"/>
<path d="M852.5 1065l12.5-4-14-4.5-12.5 2.5z"/>
<path d="M840 1069.5l12.5-4.5-14-6-13 4.5z"/>
<path d="M827 1072.5l13-3-14.5-6-12.5 2z"/>
<path d="M814.5 1077l12.5-4.5-14-7-13 5z"/>
<path d="M801.5 1079l13-2-14.5-6.5-12.5 1.5z"/>
<path d="M789 1082.5l12.5-3.5-14-7-12.5 5.5z"/>
<path d="M776 1087.5l13-5-14-5-13 1z"/>
<path d="M763.5 1088l12.5-0.5-14-9-12.5 5z"/>
<path d="M751 1094.5l12.5-6.5-14-4.5-13 1.5z"/>
<path d="M738 1095.5l13-1-14.5-9.5-12.5 6z"/>
<path d="M725.5 1101.5l12.5-6-14-4.5-13 2z"/>
<path d="M712.5 1105l13-3.5-14.5-8.5-12.5 5.5z"/>
<path d="M700 1106l12.5-1-14-6.5-12.5 1z"/>
<path d="M687 1112l13-6-14-6.5-13 3.5z"/>
<path d="M674.5 1115l12.5-3-14-9-12.5 4.5z"/>
<path d="M662 1115.5l12.5-0.5-14-7.5-13 5z"/>
<path d="M649 1121.5l13-6-14.5-3-12.5 3.5z"/>
<path d="M636.5 1124l12.5-2.5-14-5.5-12.5 3.5z"/>
<path d="M623.5 1129.5l13-5.5-14-4.5-13 1z"/>
<path d="M611 1132l12.5-2.5-14-9-12.5 5.5z"/>
<path d="M598 1134.5l13-2.5-14-6-13 3.5z"/>
<path d="M585.5 1137.5l12.5-3-14-5-12.5 0.5z"/>
<path d="M573 1142l12.5-4.5-14-7.5-13 7z"/>
<path d="M560 1145l13-3-14.5-5-12.5 0.5z"/>
<path d="M547.5 1148.5l12.5-3.5-14-7.5-12.5 4.5z"/>
<path d="M534.5 1152.5l13-4-14-6.5-13 5z"/>
<path d="M1451.5 911l12.5-4-14-5.5-13 4z"/>
<path d="M1438.5 914l13-3-14.5-5.5-12.5 3.5z"/>
<path d="M1426 919l12.5-5-14-5-12.5 2.5z"/>
<path d="M1413 920l13-1-14-7.5-13 4.5z"/>
<path d="M1400.5 925.5l12.5-5.5-14-4-12.5 1.5z"/>
<path d="M1388 929.5l12.5-4-14-8-13 4.5z"/>
<path d="M1375 931.5l13-2-14.5-7.5-12.5 3.5z"/>
<path d="M1362.5 936.5l12.5-5-14-6-13 4.5z"/>
<path d="M1349.5 937l13-0.5-14.5-6.5-12.5 3.5z"/>
<path d="M1337 943.5l12.5-6.5-14-3.5-12.5 0.5z"/>
<path d="M1324 945l13-1.5-14-9.5-13 4.5z"/>
<path d="M1311.5 949.5l12.5-4.5-14-6.5-12.5 5.5z"/>
<path d="M1299 953l12.5-3.5-14-5.5-13 3.5z"/>
<path d="M1286 956l13-3-14.5-5.5-12.5 3.5z"/>
<path d="M1273.5 961l12.5-5-14-5-12.5 2.5z"/>
<path d="M1260.5 964.5l13-3.5-14-7.5-13 1.5z"/>
<path d="M1248 967.5l12.5-3-14-9.5-12.5 6z"/>
<path d="M1235 970.5l13-3-14-6.5-13 3.5z"/>
<path d="M1222.5 972.5l12.5-2-14-6-12.5 2.5z"/>
<path d="M1210 977l12.5-4.5-14-5.5-13 3z"/>
<path d="M1197 979l13-2-14.5-7-12.5 5.5z"/>
<path d="M1184.5 984.5l12.5-5.5-14-3.5-12.5 2.5z"/>
<path d="M1171.5 989l13-4.5-14-6.5-13 4z"/>
<path d="M1159 991.5l12.5-2.5-14-7-12.5 4z"/>
<path d="M1146.5 992.5l12.5-1-14-5.5-13 0.5z"/>
</g>
<g stroke="#0004fd">
<path d="M1133.5 988.5l13 4-14.5-6-12.5-4.5z"/>
</g>
<g stroke="#000cf9">
<path d="M1121 970l12.5 18.5-14-6.5-13-12.5z"/>
</g>
<g stroke="#0024ed">
<path d="M1108 920.5l13 49.5-14.5-0.5-12.5-44.5z"/>
</g>
<g stroke="#003de1">
<path d="M1095.5 867.5l12.5 53-14 4.5-12.5-55.5z"/>
</g>
<g stroke="#0045dd">
<path d="M1082.5 851.5l13 16-14 2-13-11z"/>
</g>
<g stroke="#0035e5">
<path d="M1070 897l12.5-45.5-14 7-12.5 43z"/>
</g>
<g stroke="#0018f3">
<path d="M1057.5 962.5l12.5-65.5-14 4.5-13 62.5z"/>
</g>
<g stroke="#0008fb">
<path d="M1044.5 1005l13-42.5-14.5 1.5-12.5 39.5z"/>
</g>
<g stroke="#0004fd">
<path d="M1032 1022l12.5-17-14-1.5-13 9.5z"/>
</g>
<g stroke="#0000ff">
<path d="M1019 1029.5l13-7.5-14.5-9-12.5 9.5z"/>
<path d="M1006.5 1031.5l12.5-2-14-7-12.5 4.5z"/>
<path d="M993.5 1036.5l13-5-14-4.5-13 4z"/>
<path d="M981 1039l12.5-2.5-14-5.5-12.5 4z"/>
<path d="M968.5 1044l12.5-5-14-4-13 3.5z"/>
<path d="M955.5 1047.5l13-3.5-14.5-5.5-12.5 1.5z"/>
<path d="M943 1049l12.5-1.5-14-7.5-12.5 3.5z"/>
<path d="M930 1055.5l13-6.5-14-5.5-13 1.5z"/>
<path d="M917.5 1056.5l12.5-1-14-10.5-12.5 6.5z"/>
<path d="M904.5 1060.5l13-4-14-5-13 3.5z"/>
<path d="M892 1066l12.5-5.5-14-5.5-12.5 1.5z"/>
<path d="M879.5 1068l12.5-2-14-9.5-13 4.5z"/>
<path d="M866.5 1070l13-2-14.5-7-12.5 4z"/>
<path d="M854 1074l12.5-4-14-5-12.5 4.5z"/>
<path d="M841 1080l13-6-14-4.5-13 3z"/>
<path d="M828.5 1081l12.5-1-14-7.5-12.5 4.5z"/>
<path d="M816 1085l12.5-4-14-4-13 2z"/>
<path d="M803 1090.5l13-5.5-14.5-6-12.5 3.5z"/>
<path d="M790.5 1093.5l12.5-3-14-8-13 5z"/>
<path d="M777.5 1095l13-1.5-14.5-6-12.5 0.5z"/>
<path d="M765 1101l12.5-6-14-7-12.5 6.5z"/>
<path d="M752 1103l13-2-14-6.5-13 1z"/>
<path d="M739.5 1107.5l12.5-4.5-14-7.5-12.5 6z"/>
<path d="M727 1109l12.5-1.5-14-6-13 3.5z"/>
<path d="M714 1115l13-6-14.5-4-12.5 1z"/>
<path d="M701.5 1118l12.5-3-14-9-13 6z"/>
<path d="M688.5 1120.5l13-2.5-14.5-6-12.5 3z"/>
<path d="M676 1125l12.5-4.5-14-5.5-12.5 0.5z"/>
<path d="M663 1129l13-4-14-9.5-13 6z"/>
<path d="M650.5 1129.5l12.5-0.5-14-7.5-12.5 2.5z"/>
<path d="M638 1134l12.5-4.5-14-5.5-13 5.5z"/>
<path d="M625 1138l13-4-14.5-4.5-12.5 2.5z"/>
<path d="M612.5 1143l12.5-5-14-6-13 2.5z"/>
<path d="M599.5 1145l13-2-14.5-8.5-12.5 3z"/>
<path d="M587 1149.5l12.5-4.5-14-7.5-12.5 4.5z"/>
<path d="M574 1153.5l13-4-14-7.5-13 3z"/>
<path d="M561.5 1154.5l12.5-1-14-8.5-12.5 3.5z"/>
<path d="M549 1160.5l12.5-6-14-6-13 4z"/>
<path d="M1465.5 918.5l12.5-3.5-14-8-12.5 4z"/>
<path d="M1453 922l12.5-3.5-14-7.5-13 3z"/>
<path d="M1440 925.5l13-3.5-14.5-8-12.5 5z"/>
<path d="M1427.5 927.5l12.5-2-14-6.5-13 1z"/>
<path d="M1414.5 930l13-2.5-14.5-7.5-12.5 5.5z"/>
<path d="M1402 935.5l12.5-5.5-14-4.5-12.5 4z"/>
<path d="M1389 938.5l13-3-14-6-13 2z"/>
<path d="M1376.5 942.5l12.5-4-14-7-12.5 5z"/>
<path d="M1364 945.5l12.5-3-14-6-13 0.5z"/>
<path d="M1351 949.5l13-4-14.5-8.5-12.5 6.5z"/>
<path d="M1338.5 953l12.5-3.5-14-6-13 1.5z"/>
<path d="M1325.5 954l13-1-14.5-8-12.5 4.5z"/>
<path d="M1313 959.5l12.5-5.5-14-4.5-12.5 3.5z"/>
<path d="M1300 964l13-4.5-14-6.5-13 3z"/>
<path d="M1287.5 964.5l12.5-0.5-14-8-12.5 5z"/>
<path d="M1275 971l12.5-6.5-14-3.5-13 3.5z"/>
<path d="M1262 974.5l13-3.5-14.5-6.5-12.5 3z"/>
<path d="M1249.5 977.5l12.5-3-14-7-13 3z"/>
<path d="M1236.5 980.5l13-3-14.5-7-12.5 2z"/>
<path d="M1224 984.5l12.5-4-14-8-12.5 4.5z"/>
<path d="M1211 986l13-1.5-14-7.5-13 2z"/>
<path d="M1198.5 990l12.5-4-14-7-12.5 5.5z"/>
<path d="M1186 995.5l12.5-5.5-14-5.5-13 4.5z"/>
<path d="M1173 999l13-3.5-14.5-6.5-12.5 2.5z"/>
<path d="M1160.5 1000.5l12.5-1.5-14-7.5-12.5 1z"/>
</g>
<g stroke="#0004fd">
<path d="M1147.5 996l13 4.5-14-8-13-4z"/>
</g>
<g stroke="#0010f7">
<path d="M1135 971.5l12.5 24.5-14-7.5-12.5-18.5z"/>
</g>
<g stroke="#0028eb">
<path d="M1122.5 922.5l12.5 49-14-1.5-13-49.5z"/>
</g>
<g stroke="#0041df">
<path d="M1109.5 860l13 62.5-14.5-2-12.5-53z"/>
</g>
<g stroke="#0049db">
<path d="M1097 846l12.5 14-14 7.5-13-16z"/>
</g>
<g stroke="#0039e3">
<path d="M1084 895l13-49-14.5 5.5-12.5 45.5z"/>
</g>
<g stroke="#001cf1">
<path d="M1071.5 960l12.5-65-14 2-12.5 65.5z"/>
</g>
<g stroke="#0008fb">
<path d="M1058.5 1009l13-49-14 2.5-13 42.5z"/>
</g>
<g stroke="#0000ff">
<path d="M1046 1030.5l12.5-21.5-14-4-12.5 17z"/>
<path d="M1033.5 1037l12.5-6.5-14-8.5-13 7.5z"/>
<path d="M1020.5 1041l13-4-14.5-7.5-12.5 2z"/>
<path d="M1008 1043.5l12.5-2.5-14-9.5-13 5z"/>
<path d="M995 1047.5l13-4-14.5-7-12.5 2.5z"/>
<path d="M982.5 1051.5l12.5-4-14-8.5-12.5 5z"/>
<path d="M969.5 1054l13-2.5-14-7.5-13 3.5z"/>
<path d="M957 1058.5l12.5-4.5-14-6.5-12.5 1.5z"/>
<path d="M944.5 1062l12.5-3.5-14-9.5-13 6.5z"/>
<path d="M931.5 1062.5l13-0.5-14.5-6.5-12.5 1z"/>
<path d="M919 1069l12.5-6.5-14-6-13 4z"/>
<path d="M906 1070l13-1-14.5-8.5-12.5 5.5z"/>
<path d="M893.5 1075.5l12.5-5.5-14-4-12.5 2z"/>
<path d="M880.5 1078.5l13-3-14-7.5-13 2z"/>
<path d="M868 1081.5l12.5-3-14-8.5-12.5 4z"/>
<path d="M855.5 1086.5l12.5-5-14-7.5-13 6z"/>
<path d="M842.5 1088.5l13-2-14.5-6.5-12.5 1z"/>
<path d="M830 1091.5l12.5-3-14-7.5-12.5 4z"/>
<path d="M817 1094.5l13-3-14-6.5-13 5.5z"/>
<path d="M804.5 1099l12.5-4.5-14-4-12.5 3z"/>
<path d="M791.5 1104l13-5-14-5.5-13 1.5z"/>
<path d="M779 1107.5l12.5-3.5-14-9-12.5 6z"/>
<path d="M766.5 1110l12.5-2.5-14-6.5-13 2z"/>
<path d="M753.5 1114l13-4-14.5-7-12.5 4.5z"/>
<path d="M741 1116.5l12.5-2.5-14-6.5-12.5 1.5z"/>
<path d="M728 1121.5l13-5-14-7.5-13 6z"/>
<path d="M715.5 1124l12.5-2.5-14-6.5-12.5 3z"/>
<path d="M703 1128.5l12.5-4.5-14-6-13 2.5z"/>
<path d="M690 1132l13-3.5-14.5-8-12.5 4.5z"/>
<path d="M677.5 1134l12.5-2-14-7-13 4z"/>
<path d="M664.5 1138.5l13-4.5-14.5-5-12.5 0.5z"/>
<path d="M652 1142l12.5-3.5-14-9-12.5 4.5z"/>
<path d="M639 1143l13-1-14-8-13 4z"/>
<path d="M626.5 1147.5l12.5-4.5-14-5-12.5 5z"/>
<path d="M614 1153l12.5-5.5-14-4.5-13 2z"/>
<path d="M601 1156.5l13-3.5-14.5-8-12.5 4.5z"/>
<path d="M588.5 1158.5l12.5-2-14-7-13 4z"/>
<path d="M575.5 1163.5l13-5-14.5-5-12.5 1z"/>
<path d="M563 1165l12.5-1.5-14-9-12.5 6z"/>
<path d="M1479.5 925l13-3.5-14.5-6.5-12.5 3.5z"/>
<path d="M1467 926.5l12.5-1.5-14-6.5-12.5 3.5z"/>
<path d="M1454 931l13-4.5-14-4.5-13 3.5z"/>
<path d="M1441.5 934l12.5-3-14-5.5-12.5 2z"/>
<path d="M1428.5 938.5l13-4.5-14-6.5-13 2.5z"/>
<path d="M1416 938.5l12.5 0-14-8.5-12.5 5.5z"/>
<path d="M1403.5 942.5l12.5-4-14-3-13 3z"/>
<path d="M1390.5 949.5l13-7-14.5-4-12.5 4z"/>
<path d="M1378 952l12.5-2.5-14-7-12.5 3z"/>
<path d="M1365 956.5l13-4.5-14-6.5-13 4z"/>
<path d="M1352.5 958.5l12.5-2-14-7-12.5 3.5z"/>
<path d="M1340 962.5l12.5-4-14-5.5-13 1z"/>
<path d="M1327 967l13-4.5-14.5-8.5-12.5 5.5z"/>
<path d="M1314.5 970.5l12.5-3.5-14-7.5-13 4.5z"/>
<path d="M1301.5 974l13-3.5-14.5-6.5-12.5 0.5z"/>
<path d="M1289 977.5l12.5-3.5-14-9.5-12.5 6.5z"/>
<path d="M1276 981l13-3.5-14-6.5-13 3.5z"/>
<path d="M1263.5 984l12.5-3-14-6.5-12.5 3z"/>
<path d="M1251 987.5l12.5-3.5-14-6.5-13 3z"/>
<path d="M1238 989l13-1.5-14.5-7-12.5 4z"/>
<path d="M1225.5 994l12.5-5-14-4.5-13 1.5z"/>
<path d="M1212.5 998.5l13-4.5-14.5-8-12.5 4z"/>
<path d="M1200 1000.5l12.5-2-14-8.5-12.5 5.5z"/>
<path d="M1187 1005l13-4.5-14-5-13 3.5z"/>
<path d="M1174.5 1006.5l12.5-1.5-14-6-12.5 1.5z"/>
</g>
<g stroke="#0004fd">
<path d="M1162 1000.5l12.5 6-14-6-13-4.5z"/>
</g>
<g stroke="#0014f5">
<path d="M1149 971.5l13 29-14.5-4.5-12.5-24.5z"/>
</g>
<g stroke="#002de9">
<path d="M1136.5 916l12.5 55.5-14 0-12.5-49z"/>
</g>
<g stroke="#0049db">
<path d="M1123.5 855.5l13 60.5-14 6.5-13-62.5z"/>
</g>
<g stroke="#0051d7">
<path d="M1111 841l12.5 14.5-14 4.5-12.5-14z"/>
</g>
<g stroke="#003de1">
<path d="M1098 886.5l13-45.5-14 5-13 49z"/>
</g>
<g stroke="#001cf1">
<path d="M1085.5 964l12.5-77.5-14 8.5-12.5 65z"/>
</g>
<g stroke="#000cf9">
<path d="M1073 1013l12.5-49-14-4-13 49z"/>
</g>
<g stroke="#0004fd">
<path d="M1060 1032.5l13-19.5-14.5-4-12.5 21.5z"/>
</g>
<g stroke="#0000ff">
<path d="M1047.5 1043.5l12.5-11-14-2-12.5 6.5z"/>
<path d="M1034.5 1046.5l13-3-14-6.5-13 4z"/>
<path d="M1022 1050.5l12.5-4-14-5.5-12.5 2.5z"/>
<path d="M1009.5 1053.5l12.5-3-14-7-13 4z"/>
<path d="M996.5 1056.5l13-3-14.5-6-12.5 4z"/>
<path d="M984 1061l12.5-4.5-14-5-13 2.5z"/>
<path d="M971 1065l13-4-14.5-7-12.5 4.5z"/>
<path d="M958.5 1067l12.5-2-14-6.5-12.5 3.5z"/>
<path d="M945.5 1072l13-5-14-5-13 0.5z"/>
<path d="M933 1075.5l12.5-3.5-14-9.5-12.5 6.5z"/>
<path d="M920.5 1077.5l12.5-2-14-6.5-13 1z"/>
<path d="M907.5 1082.5l13-5-14.5-7.5-12.5 5.5z"/>
<path d="M895 1085.5l12.5-3-14-7-13 3z"/>
<path d="M882 1089.5l13-4-14.5-7-12.5 3z"/>
<path d="M869.5 1091.5l12.5-2-14-8-12.5 5z"/>
<path d="M856.5 1096.5l13-5-14-5-13 2z"/>
<path d="M844 1097.5l12.5-1-14-8-12.5 3z"/>
<path d="M831.5 1102.5l12.5-5-14-6-13 3z"/>
<path d="M818.5 1106l13-3.5-14.5-8-12.5 4.5z"/>
<path d="M806 1110l12.5-4-14-7-13 5z"/>
<path d="M793 1113.5l13-3.5-14.5-6-12.5 3.5z"/>
<path d="M780.5 1114.5l12.5-1-14-6-12.5 2.5z"/>
<path d="M767.5 1121l13-6.5-14-4.5-13 4z"/>
<path d="M755 1124l12.5-3-14-7-12.5 2.5z"/>
<path d="M742.5 1128l12.5-4-14-7.5-13 5z"/>
<path d="M729.5 1127.5l13 0.5-14.5-6.5-12.5 2.5z"/>
<path d="M717 1135l12.5-7.5-14-3.5-12.5 4.5z"/>
<path d="M704 1138.5l13-3.5-14-6.5-13 3.5z"/>
<path d="M691.5 1141l12.5-2.5-14-6.5-12.5 2z"/>
<path d="M679 1145l12.5-4-14-7-13 4.5z"/>
<path d="M666 1147l13-2-14.5-6.5-12.5 3.5z"/>
<path d="M653.5 1152.5l12.5-5.5-14-5-13 1z"/>
<path d="M640.5 1156l13-3.5-14.5-9.5-12.5 4.5z"/>
<path d="M628 1158l12.5-2-14-8.5-12.5 5.5z"/>
<path d="M615 1160.5l13-2.5-14-5-13 3.5z"/>
<path d="M602.5 1165l12.5-4.5-14-4-12.5 2z"/>
<path d="M590 1170l12.5-5-14-6.5-13 5z"/>
<path d="M577 1173.5l13-3.5-14.5-6.5-12.5 1.5z"/>
<path d="M1493.5 932l13-3.5-14-7-13 3.5z"/>
<path d="M1481 934.5l12.5-2.5-14-7-12.5 1.5z"/>
<path d="M1468.5 937.5l12.5-3-14-8-13 4.5z"/>
<path d="M1455.5 942.5l13-5-14.5-6.5-12.5 3z"/>
<path d="M1443 944.5l12.5-2-14-8.5-13 4.5z"/>
<path d="M1430 948.5l13-4-14.5-6-12.5 0z"/>
<path d="M1417.5 951.5l12.5-3-14-10-12.5 4z"/>
<path d="M1404.5 953l13-1.5-14-9-13 7z"/>
<path d="M1392 959l12.5-6-14-3.5-12.5 2.5z"/>
<path d="M1379.5 961.5l12.5-2.5-14-7-13 4.5z"/>
<path d="M1366.5 966l13-4.5-14.5-5-12.5 2z"/>
<path d="M1354 967.5l12.5-1.5-14-7.5-12.5 4z"/>
<path d="M1341 974l13-6.5-14-5-13 4.5z"/>
<path d="M1328.5 977.5l12.5-3.5-14-7-12.5 3.5z"/>
<path d="M1316 978l12.5-0.5-14-7-13 3.5z"/>
<path d="M1303 980.5l13-2.5-14.5-4-12.5 3.5z"/>
<path d="M1290.5 985.5l12.5-5-14-3-13 3.5z"/>
<path d="M1277.5 991.5l13-6-14.5-4.5-12.5 3z"/>
<path d="M1265 994.5l12.5-3-14-7.5-12.5 3.5z"/>
<path d="M1252 994.5l13 0-14-7-13 1.5z"/>
<path d="M1239.5 1000.5l12.5-6-14-5.5-12.5 5z"/>
<path d="M1227 1005l12.5-4.5-14-6.5-13 4.5z"/>
<path d="M1214 1007.5l13-2.5-14.5-6.5-12.5 2z"/>
<path d="M1201.5 1009.5l12.5-2-14-7-13 4.5z"/>
<path d="M1188.5 1013l13-3.5-14.5-4.5-12.5 1.5z"/>
</g>
<g stroke="#0008fb">
<path d="M1176 1005l12.5 8-14-6.5-12.5-6z"/>
</g>
<g stroke="#0014f5">
<path d="M1163 972l13 33-14-4.5-13-29z"/>
</g>
<g stroke="#0031e7">
<path d="M1150.5 911.5l12.5 60.5-14-0.5-12.5-55.5z"/>
</g>
<g stroke="#004dd9">
<path d="M1138 844.5l12.5 67-14 4.5-13-60.5z"/>
</g>
<g stroke="#0055d4">
<path d="M1125 830l13 14.5-14.5 11-12.5-14.5z"/>
</g>
<g stroke="#0041df">
<path d="M1112.5 884l12.5-54-14 11-13 45.5z"/>
</g>
<g stroke="#0024ed">
<path d="M1099.5 957l13-73-14.5 2.5-12.5 77.5z"/>
</g>
<g stroke="#000cf9">
<path d="M1087 1011l12.5-54-14 7-12.5 49z"/>
</g>
<g stroke="#0004fd">
<path d="M1074 1040l13-29-14 2-13 19.5z"/>
<path d="M1061.5 1045l12.5-5-14-7.5-12.5 11z"/>
</g>
<g stroke="#0000ff">
<path d="M1049 1053l12.5-8-14-1.5-13 3z"/>
<path d="M1036 1057.5l13-4.5-14.5-6.5-12.5 4z"/>
<path d="M1023.5 1060.5l12.5-3-14-7-12.5 3z"/>
<path d="M1010.5 1063l13-2.5-14-7-13 3z"/>
<path d="M998 1068l12.5-5-14-6.5-12.5 4.5z"/>
<path d="M985 1070l13-2-14-7-13 4z"/>
<path d="M972.5 1073l12.5-3-14-5-12.5 2z"/>
<path d="M960 1076.5l12.5-3.5-14-6-13 5z"/>
<path d="M947 1082l13-5.5-14.5-4.5-12.5 3.5z"/>
<path d="M934.5 1085.5l12.5-3.5-14-6.5-12.5 2z"/>
<path d="M921.5 1088l13-2.5-14-8-13 5z"/>
<path d="M909 1091.5l12.5-3.5-14-5.5-12.5 3z"/>
<path d="M896.5 1096l12.5-4.5-14-6-13 4z"/>
<path d="M883.5 1098l13-2-14.5-6.5-12.5 2z"/>
<path d="M871 1103l12.5-5-14-6.5-13 5z"/>
</g>
<g stroke="#0004fd">
<path d="M858 1102l13 1-14.5-6.5-12.5 1z"/>
</g>
<g stroke="#0000ff">
<path d="M845.5 1110l12.5-8-14-4.5-12.5 5z"/>
<path d="M832.5 1113.5l13-3.5-14-7.5-13 3.5z"/>
<path d="M820 1115l12.5-1.5-14-7.5-12.5 4z"/>
<path d="M807.5 1120.5l12.5-5.5-14-5-13 3.5z"/>
<path d="M794.5 1122.5l13-2-14.5-7-12.5 1z"/>
<path d="M782 1124l12.5-1.5-14-8-13 6.5z"/>
<path d="M769 1129l13-5-14.5-3-12.5 3z"/>
<path d="M756.5 1134l12.5-5-14-5-12.5 4z"/>
<path d="M743.5 1135.5l13-1.5-14-6-13-0.5z"/>
<path d="M731 1141.5l12.5-6-14-8-12.5 7.5z"/>
<path d="M718.5 1145l12.5-3.5-14-6.5-13 3.5z"/>
<path d="M705.5 1147l13-2-14.5-6.5-12.5 2.5z"/>
<path d="M693 1150.5l12.5-3.5-14-6-12.5 4z"/>
<path d="M680 1155.5l13-5-14-5.5-13 2z"/>
<path d="M667.5 1156.5l12.5-1-14-8.5-12.5 5.5z"/>
<path d="M654.5 1159.5l13-3-14-4-13 3.5z"/>
<path d="M642 1166l12.5-6.5-14-3.5-12.5 2z"/>
<path d="M629.5 1168l12.5-2-14-8-13 2.5z"/>
<path d="M616.5 1171l13-3-14.5-7.5-12.5 4.5z"/>
<path d="M604 1175.5l12.5-4.5-14-6-12.5 5z"/>
<path d="M591 1178l13-2.5-14-5.5-13 3.5z"/>
<path d="M1508 936l12.5-1-14-6.5-13 3.5z"/>
<path d="M1495 942l13-6-14.5-4-12.5 2.5z"/>
<path d="M1482.5 943.5l12.5-1.5-14-7.5-12.5 3z"/>
<path d="M1469.5 947l13-3.5-14-6-13 5z"/>
<path d="M1457 952.5l12.5-5.5-14-4.5-12.5 2z"/>
<path d="M1444.5 954l12.5-1.5-14-8-13 4z"/>
<path d="M1431.5 959l13-5-14.5-5.5-12.5 3z"/>
<path d="M1419 961l12.5-2-14-7.5-13 1.5z"/>
<path d="M1406 966l13-5-14.5-8-12.5 6z"/>
<path d="M1393.5 967.5l12.5-1.5-14-7-12.5 2.5z"/>
<path d="M1380.5 972.5l13-5-14-6-13 4.5z"/>
<path d="M1368 975l12.5-2.5-14-6.5-12.5 1.5z"/>
<path d="M1355.5 980.5l12.5-5.5-14-7.5-13 6.5z"/>
<path d="M1342.5 981l13-0.5-14.5-6.5-12.5 3.5z"/>
<path d="M1330 986.5l12.5-5.5-14-3.5-12.5 0.5z"/>
<path d="M1317 991l13-4.5-14-8.5-13 2.5z"/>
<path d="M1304.5 994l12.5-3-14-10.5-12.5 5z"/>
<path d="M1291.5 997.5l13-3.5-14-8.5-13 6z"/>
<path d="M1279 1000.5l12.5-3-14-6-12.5 3z"/>
<path d="M1266.5 1002l12.5-1.5-14-6-13 0z"/>
<path d="M1253.5 1007l13-5-14.5-7.5-12.5 6z"/>
<path d="M1241 1009.5l12.5-2.5-14-6.5-12.5 4.5z"/>
<path d="M1228 1014l13-4.5-14-4.5-13 2.5z"/>
<path d="M1215.5 1018l12.5-4-14-6.5-12.5 2z"/>
<path d="M1203 1018.5l12.5-0.5-14-8.5-13 3.5z"/>
</g>
<g stroke="#0008fb">
<path d="M1190 1009.5l13 9-14.5-5.5-12.5-8z"/>
</g>
<g stroke="#0018f3">
<path d="M1177.5 973l12.5 36.5-14-4.5-13-33z"/>
</g>
<g stroke="#0039e3">
<path d="M1164.5 903.5l13 69.5-14.5-1-12.5-60.5z"/>
</g>
<g stroke="#0055d4">
<path d="M1152 835l12.5 68.5-14 8-12.5-67z"/>
</g>
<g stroke="#005dd0">
<path d="M1139 816.5l13 18.5-14 9.5-13-14.5z"/>
</g>
<g stroke="#0049db">
<path d="M1126.5 869l12.5-52.5-14 13.5-12.5 54z"/>
</g>
<g stroke="#0028eb">
<path d="M1114 953l12.5-84-14 15-13 73z"/>
</g>
<g stroke="#0010f7">
<path d="M1101 1014.5l13-61.5-14.5 4-12.5 54z"/>
</g>
<g stroke="#0004fd">
<path d="M1088.5 1042l12.5-27.5-14-3.5-13 29z"/>
<path d="M1075.5 1053l13-11-14.5-2-12.5 5z"/>
</g>
<g stroke="#0000ff">
<path d="M1063 1061l12.5-8-14-8-12.5 8z"/>
<path d="M1050 1061.5l13-0.5-14-8-13 4.5z"/>
<path d="M1037.5 1066.5l12.5-5-14-4-12.5 3z"/>
<path d="M1025 1069.5l12.5-3-14-6-13 2.5z"/>
<path d="M1012 1074l13-4.5-14.5-6.5-12.5 5z"/>
<path d="M999.5 1077l12.5-3-14-6-13 2z"/>
<path d="M986.5 1081l13-4-14.5-7-12.5 3z"/>
<path d="M974 1085l12.5-4-14-8-12.5 3.5z"/>
<path d="M961 1086.5l13-1.5-14-8.5-13 5.5z"/>
<path d="M948.5 1090l12.5-3.5-14-4.5-12.5 3.5z"/>
<path d="M936 1095l12.5-5-14-4.5-13 2.5z"/>
<path d="M923 1099l13-4-14.5-7-12.5 3.5z"/>
<path d="M910.5 1099.5l12.5-0.5-14-7.5-12.5 4.5z"/>
<path d="M897.5 1104.5l13-5-14-3.5-13 2z"/>
<path d="M885 1110l12.5-5.5-14-6.5-12.5 5z"/>
<path d="M872.5 1111.5l12.5-1.5-14-7-13-1z"/>
<path d="M859.5 1117l13-5.5-14.5-9.5-12.5 8z"/>
<path d="M847 1120.5l12.5-3.5-14-7-13 3.5z"/>
<path d="M834 1124l13-3.5-14.5-7-12.5 1.5z"/>
<path d="M821.5 1125.5l12.5-1.5-14-9-12.5 5.5z"/>
<path d="M808.5 1129l13-3.5-14-5-13 2z"/>
<path d="M796 1132l12.5-3-14-6.5-12.5 1.5z"/>
<path d="M783.5 1138l12.5-6-14-8-13 5z"/>
<path d="M770.5 1140l13-2-14.5-9-12.5 5z"/>
<path d="M758 1144.5l12.5-4.5-14-6-13 1.5z"/>
<path d="M745 1147l13-2.5-14.5-9-12.5 6z"/>
<path d="M732.5 1152l12.5-5-14-5.5-12.5 3.5z"/>
<path d="M719.5 1155l13-3-14-7-13 2z"/>
<path d="M707 1155.5l12.5-0.5-14-8-12.5 3.5z"/>
<path d="M694.5 1159.5l12.5-4-14-5-13 5z"/>
<path d="M681.5 1165l13-5.5-14.5-4-12.5 1z"/>
<path d="M669 1169.5l12.5-4.5-14-8.5-13 3z"/>
<path d="M656 1170l13-0.5-14.5-10-12.5 6.5z"/>
<path d="M643.5 1173.5l12.5-3.5-14-4-12.5 2z"/>
<path d="M630.5 1178l13-4.5-14-5.5-13 3z"/>
<path d="M618 1181.5l12.5-3.5-14-7-12.5 4.5z"/>
<path d="M605.5 1186.5l12.5-5-14-6-13 2.5z"/>
<path d="M1522 942l12.5-3-14-4-12.5 1z"/>
<path d="M1509.5 948.5l12.5-6.5-14-6-13 6z"/>
<path d="M1496.5 952l13-3.5-14.5-6.5-12.5 1.5z"/>
<path d="M1484 954l12.5-2-14-8.5-13 3.5z"/>
<path d="M1471 958l13-4-14.5-7-12.5 5.5z"/>
<path d="M1458.5 962.5l12.5-4.5-14-5.5-12.5 1.5z"/>
<path d="M1445.5 964l13-1.5-14-8.5-13 5z"/>
<path d="M1433 968l12.5-4-14-5-12.5 2z"/>
<path d="M1420.5 972.5l12.5-4.5-14-7-13 5z"/>
<path d="M1407.5 974.5l13-2-14.5-6.5-12.5 1.5z"/>
<path d="M1395 978.5l12.5-4-14-7-13 5z"/>
<path d="M1382 982l13-3.5-14.5-6-12.5 2.5z"/>
<path d="M1369.5 987l12.5-5-14-7-12.5 5.5z"/>
<path d="M1356.5 988.5l13-1.5-14-6.5-13 0.5z"/>
<path d="M1344 994l12.5-5.5-14-7.5-12.5 5.5z"/>
<path d="M1331.5 997l12.5-3-14-7.5-13 4.5z"/>
<path d="M1318.5 999.5l13-2.5-14.5-6-12.5 3z"/>
<path d="M1306 1003l12.5-3.5-14-5.5-13 3.5z"/>
<path d="M1293 1007l13-4-14.5-5.5-12.5 3z"/>
<path d="M1280.5 1011l12.5-4-14-6.5-12.5 1.5z"/>
<path d="M1267.5 1012.5l13-1.5-14-9-13 5z"/>
<path d="M1255 1018.5l12.5-6-14-5.5-12.5 2.5z"/>
<path d="M1242.5 1020.5l12.5-2-14-9-13 4.5z"/>
<path d="M1229.5 1021.5l13-1-14.5-6.5-12.5 4z"/>
</g>
<g stroke="#0004fd">
<path d="M1217 1021l12.5 0.5-14-3.5-12.5 0.5z"/>
</g>
<g stroke="#0008fb">
<path d="M1204 1014l13 7-14-2.5-13-9z"/>
</g>
<g stroke="#001cf1">
<path d="M1191.5 970.5l12.5 43.5-14-4.5-12.5-36.5z"/>
</g>
<g stroke="#003de1">
<path d="M1178.5 892l13 78.5-14 2.5-13-69.5z"/>
</g>
<g stroke="#005dd0">
<path d="M1166 827l12.5 65-14 11.5-12.5-68.5z"/>
</g>
<g stroke="#0069ca">
<path d="M1153.5 803.5l12.5 23.5-14 8-13-18.5z"/>
</g>
<g stroke="#0051d7">
<path d="M1140.5 858.5l13-55-14.5 13-12.5 52.5z"/>
</g>
<g stroke="#002de9">
<path d="M1128 952.5l12.5-94-14 10.5-12.5 84z"/>
</g>
<g stroke="#0010f7">
<path d="M1115 1017l13-64.5-14 0.5-13 61.5z"/>
</g>
<g stroke="#0004fd">
<path d="M1102.5 1050.5l12.5-33.5-14-2.5-12.5 27.5z"/>
</g>
<g stroke="#0000ff">
<path d="M1090 1061l12.5-10.5-14-8.5-13 11z"/>
<path d="M1077 1065l13-4-14.5-8-12.5 8z"/>
<path d="M1064.5 1068l12.5-3-14-4-13 0.5z"/>
<path d="M1051.5 1074.5l13-6.5-14.5-6.5-12.5 5z"/>
<path d="M1039 1076l12.5-1.5-14-8-12.5 3z"/>
<path d="M1026 1081l13-5-14-6.5-13 4.5z"/>
<path d="M1013.5 1083.5l12.5-2.5-14-7-12.5 3z"/>
<path d="M1001 1088.5l12.5-5-14-6.5-13 4z"/>
<path d="M988 1092l13-3.5-14.5-7.5-12.5 4z"/>
<path d="M975.5 1095.5l12.5-3.5-14-7-13 1.5z"/>
<path d="M962.5 1096.5l13-1-14.5-9-12.5 3.5z"/>
<path d="M950 1102l12.5-5.5-14-6.5-12.5 5z"/>
<path d="M937 1104l13-2-14-7-13 4z"/>
<path d="M924.5 1108l12.5-4-14-5-12.5 0.5z"/>
<path d="M912 1111.5l12.5-3.5-14-8.5-13 5z"/>
<path d="M899 1116l13-4.5-14.5-7-12.5 5.5z"/>
<path d="M886.5 1119.5l12.5-3.5-14-6-12.5 1.5z"/>
<path d="M873.5 1121.5l13-2-14-8-13 5.5z"/>
<path d="M861 1127l12.5-5.5-14-4.5-12.5 3.5z"/>
<path d="M848 1127.5l13-0.5-14-6.5-13 3.5z"/>
<path d="M835.5 1132l12.5-4.5-14-3.5-12.5 1.5z"/>
<path d="M823 1136l12.5-4-14-6.5-13 3.5z"/>
<path d="M810 1138.5l13-2.5-14.5-7-12.5 3z"/>
<path d="M797.5 1141l12.5-2.5-14-6.5-12.5 6z"/>
<path d="M784.5 1145l13-4-14-3-13 2z"/>
<path d="M772 1151l12.5-6-14-5-12.5 4.5z"/>
</g>
<g stroke="#0004fd">
<path d="M759.5 1149l12.5 2-14-6.5-13 2.5z"/>
</g>
<g stroke="#0000ff">
<path d="M746.5 1158.5l13-9.5-14.5-2-12.5 5z"/>
<path d="M734 1159l12.5-0.5-14-6.5-13 3z"/>
<path d="M721 1163.5l13-4.5-14.5-4-12.5 0.5z"/>
<path d="M708.5 1168.5l12.5-5-14-8-12.5 4z"/>
<path d="M695.5 1171l13-2.5-14-9-13 5.5z"/>
<path d="M683 1173.5l12.5-2.5-14-6-12.5 4.5z"/>
<path d="M670.5 1177.5l12.5-4-14-4-13 0.5z"/>
<path d="M657.5 1181.5l13-4-14.5-7.5-12.5 3.5z"/>
<path d="M645 1186.5l12.5-5-14-8-13 4.5z"/>
<path d="M632 1190l13-3.5-14.5-8.5-12.5 3.5z"/>
<path d="M619.5 1192.5l12.5-2.5-14-8.5-12.5 5z"/>
<path d="M1536 950.5l13-5.5-14.5-6-12.5 3z"/>
<path d="M1523.5 955l12.5-4.5-14-8.5-12.5 6.5z"/>
<path d="M1510.5 954.5l13 0.5-14-6.5-13 3.5z"/>
<path d="M1498 962l12.5-7.5-14-2.5-12.5 2z"/>
<path d="M1485 963.5l13-1.5-14-8-13 4z"/>
<path d="M1472.5 969l12.5-5.5-14-5.5-12.5 4.5z"/>
<path d="M1460 971l12.5-2-14-6.5-13 1.5z"/>
<path d="M1447 974.5l13-3.5-14.5-7-12.5 4z"/>
<path d="M1434.5 978.5l12.5-4-14-6.5-12.5 4.5z"/>
<path d="M1421.5 982l13-3.5-14-6-13 2z"/>
<path d="M1409 986l12.5-4-14-7.5-12.5 4z"/>
<path d="M1396.5 989l12.5-3-14-7.5-13 3.5z"/>
<path d="M1383.5 993.5l13-4.5-14.5-7-12.5 5z"/>
<path d="M1371 995.5l12.5-2-14-6.5-13 1.5z"/>
<path d="M1358 998.5l13-3-14.5-7-12.5 5.5z"/>
<path d="M1345.5 1003l12.5-4.5-14-4.5-12.5 3z"/>
<path d="M1332.5 1005.5l13-2.5-14-6-13 2.5z"/>
<path d="M1320 1011l12.5-5.5-14-6-12.5 3.5z"/>
<path d="M1307.5 1013.5l12.5-2.5-14-8-13 4z"/>
<path d="M1294.5 1015l13-1.5-14.5-6.5-12.5 4z"/>
<path d="M1282 1019.5l12.5-4.5-14-4-13 1.5z"/>
<path d="M1269 1023.5l13-4-14.5-7-12.5 6z"/>
<path d="M1256.5 1025l12.5-1.5-14-5-12.5 2z"/>
<path d="M1243.5 1030l13-5-14-4.5-13 1z"/>
</g>
<g stroke="#0004fd">
<path d="M1231 1028.5l12.5 1.5-14-8.5-12.5-0.5z"/>
</g>
<g stroke="#000cf9">
<path d="M1218.5 1009l12.5 19.5-14-7.5-13-7z"/>
</g>
<g stroke="#0020ef">
<path d="M1205.5 971l13 38-14.5 5-12.5-43.5z"/>
</g>
<g stroke="#0045dd">
<path d="M1193 889l12.5 82-14-0.5-13-78.5z"/>
</g>
<g stroke="#0065cc">
<path d="M1180 807.5l13 81.5-14.5 3-12.5-65z"/>
</g>
<g stroke="#0071c6">
<path d="M1167.5 791l12.5 16.5-14 19.5-12.5-23.5z"/>
</g>
<g stroke="#0055d4">
<path d="M1154.5 854l13-63-14 12.5-13 55z"/>
</g>
<g stroke="#0035e5">
<path d="M1142 938l12.5-84-14 4.5-12.5 94z"/>
</g>
<g stroke="#0018f3">
<path d="M1129.5 1011l12.5-73-14 14.5-13 64.5z"/>
</g>
<g stroke="#0008fb">
<path d="M1116.5 1051.5l13-40.5-14.5 6-12.5 33.5z"/>
</g>
<g stroke="#0000ff">
<path d="M1104 1070.5l12.5-19-14-1-12.5 10.5z"/>
<path d="M1091 1074l13-3.5-14-9.5-13 4z"/>
<path d="M1078.5 1077.5l12.5-3.5-14-9-12.5 3z"/>
<path d="M1066 1080l12.5-2.5-14-9.5-13 6.5z"/>
<path d="M1053 1084l13-4-14.5-5.5-12.5 1.5z"/>
<path d="M1040.5 1086.5l12.5-2.5-14-8-13 5z"/>
<path d="M1027.5 1090l13-3.5-14.5-5.5-12.5 2.5z"/>
<path d="M1015 1094l12.5-4-14-6.5-12.5 5z"/>
<path d="M1002 1098.5l13-4.5-14-5.5-13 3.5z"/>
<path d="M989.5 1101l12.5-2.5-14-6.5-12.5 3.5z"/>
<path d="M977 1104l12.5-3-14-5.5-13 1z"/>
<path d="M964 1107.5l13-3.5-14.5-7.5-12.5 5.5z"/>
<path d="M951.5 1112l12.5-4.5-14-5.5-13 2z"/>
<path d="M938.5 1114l13-2-14.5-8-12.5 4z"/>
<path d="M926 1117.5l12.5-3.5-14-6-12.5 3.5z"/>
<path d="M913 1121l13-3.5-14-6-13 4.5z"/>
<path d="M900.5 1124.5l12.5-3.5-14-5-12.5 3.5z"/>
<path d="M888 1129.5l12.5-5-14-5-13 2z"/>
<path d="M875 1132.5l13-3-14.5-8-12.5 5.5z"/>
<path d="M862.5 1135l12.5-2.5-14-5.5-13 0.5z"/>
<path d="M849.5 1140l13-5-14.5-7.5-12.5 4.5z"/>
<path d="M837 1144l12.5-4-14-8-12.5 4z"/>
<path d="M824 1146l13-2-14-8-13 2.5z"/>
<path d="M811.5 1150l12.5-4-14-7.5-12.5 2.5z"/>
<path d="M799 1154l12.5-4-14-9-13 4z"/>
<path d="M786 1157.5l13-3.5-14.5-9-12.5 6z"/>
<path d="M773.5 1160.5l12.5-3-14-6.5-12.5-2z"/>
<path d="M760.5 1163l13-2.5-14-11.5-13 9.5z"/>
<path d="M748 1167l12.5-4-14-4.5-12.5 0.5z"/>
<path d="M735 1171l13-4-14-8-13 4.5z"/>
<path d="M722.5 1175l12.5-4-14-7.5-12.5 5z"/>
<path d="M710 1176l12.5-1-14-6.5-13 2.5z"/>
<path d="M697 1181l13-5-14.5-5-12.5 2.5z"/>
<path d="M684.5 1185.5l12.5-4.5-14-7.5-12.5 4z"/>
<path d="M671.5 1189l13-3.5-14-8-13 4z"/>
<path d="M659 1193l12.5-4-14-7.5-12.5 5z"/>
<path d="M646.5 1195l12.5-2-14-6.5-13 3.5z"/>
<path d="M633.5 1199l13-4-14.5-5-12.5 2.5z"/>
<path d="M1550 958l13-6-14-7-13 5.5z"/>
<path d="M1537.5 959l12.5-1-14-7.5-12.5 4.5z"/>
<path d="M1525 965l12.5-6-14-4-13-0.5z"/>
<path d="M1512 968l13-3-14.5-10.5-12.5 7.5z"/>
<path d="M1499.5 972l12.5-4-14-6-13 1.5z"/>
<path d="M1486.5 975.5l13-3.5-14.5-8.5-12.5 5.5z"/>
<path d="M1474 978l12.5-2.5-14-6.5-12.5 2z"/>
<path d="M1461 982.5l13-4.5-14-7-13 3.5z"/>
<path d="M1448.5 985l12.5-2.5-14-8-12.5 4z"/>
<path d="M1436 988l12.5-3-14-6.5-13 3.5z"/>
<path d="M1423 993l13-5-14.5-6-12.5 4z"/>
<path d="M1410.5 996l12.5-3-14-7-12.5 3z"/>
<path d="M1397.5 1000l13-4-14-7-13 4.5z"/>
<path d="M1385 1003.5l12.5-3.5-14-6.5-12.5 2z"/>
<path d="M1372 1005l13-1.5-14-8-13 3z"/>
<path d="M1359.5 1010.5l12.5-5.5-14-6.5-12.5 4.5z"/>
<path d="M1347 1012l12.5-1.5-14-7.5-13 2.5z"/>
<path d="M1334 1016.5l13-4.5-14.5-6.5-12.5 5.5z"/>
<path d="M1321.5 1018.5l12.5-2-14-5.5-12.5 2.5z"/>
<path d="M1308.5 1023.5l13-5-14-5-13 1.5z"/>
<path d="M1296 1028l12.5-4.5-14-8.5-12.5 4.5z"/>
<path d="M1283.5 1031l12.5-3-14-8.5-13 4z"/>
<path d="M1270.5 1034.5l13-3.5-14.5-7.5-12.5 1.5z"/>
<path d="M1258 1035l12.5-0.5-14-9.5-13 5z"/>
</g>
<g stroke="#0004fd">
<path d="M1245 1032l13 3-14.5-5-12.5-1.5z"/>
</g>
<g stroke="#0010f7">
<path d="M1232.5 1011l12.5 21-14-3.5-12.5-19.5z"/>
</g>
<g stroke="#0024ed">
<path d="M1219.5 961.5l13 49.5-14-2-13-38z"/>
</g>
<g stroke="#004dd9">
<path d="M1207 873l12.5 88.5-14 9.5-12.5-82z"/>
</g>
<g stroke="#006dc8">
<path d="M1194.5 795l12.5 78-14 16-13-81.5z"/>
</g>
<g stroke="#0075c4">
<path d="M1181.5 780.5l13 14.5-14.5 12.5-12.5-16.5z"/>
</g>
<g stroke="#005dd0">
<path d="M1169 841.5l12.5-61-14 10.5-13 63z"/>
</g>
<g stroke="#0039e3">
<path d="M1156 933l13-91.5-14.5 12.5-12.5 84z"/>
</g>
<g stroke="#0018f3">
<path d="M1143.5 1012l12.5-79-14 5-12.5 73z"/>
</g>
<g stroke="#0008fb">
<path d="M1130.5 1054.5l13-42.5-14-1-13 40.5z"/>
</g>
<g stroke="#0000ff">
<path d="M1118 1074l12.5-19.5-14-3-12.5 19z"/>
<path d="M1105.5 1077l12.5-3-14-3.5-13 3.5z"/>
<path d="M1092.5 1082.5l13-5.5-14.5-3-12.5 3.5z"/>
<path d="M1080 1087.5l12.5-5-14-5-12.5 2.5z"/>
<path d="M1067 1090.5l13-3-14-7.5-13 4z"/>
<path d="M1054.5 1092l12.5-1.5-14-6.5-12.5 2.5z"/>
<path d="M1041.5 1096.5l13-4.5-14-5.5-13 3.5z"/>
<path d="M1029 1098l12.5-1.5-14-6.5-12.5 4z"/>
<path d="M1016.5 1104l12.5-6-14-4-13 4.5z"/>
<path d="M1003.5 1104.5l13-0.5-14.5-5.5-12.5 2.5z"/>
<path d="M991 1109.5l12.5-5-14-3.5-12.5 3z"/>
<path d="M978 1114.5l13-5-14-5.5-13 3.5z"/>
<path d="M965.5 1118.5l12.5-4-14-7-12.5 4.5z"/>
<path d="M953 1122.5l12.5-4-14-6.5-13 2z"/>
<path d="M940 1124.5l13-2-14.5-8.5-12.5 3.5z"/>
<path d="M927.5 1129.5l12.5-5-14-7-13 3.5z"/>
<path d="M914.5 1133l13-3.5-14.5-8.5-12.5 3.5z"/>
<path d="M902 1136.5l12.5-3.5-14-8.5-12.5 5z"/>
<path d="M889 1138.5l13-2-14-7-13 3z"/>
<path d="M876.5 1141.5l12.5-3-14-6-12.5 2.5z"/>
<path d="M864 1146.5l12.5-5-14-6.5-13 5z"/>
<path d="M851 1149l13-2.5-14.5-6.5-12.5 4z"/>
<path d="M838.5 1153l12.5-4-14-5-13 2z"/>
<path d="M825.5 1156l13-3-14.5-7-12.5 4z"/>
<path d="M813 1161l12.5-5-14-6-12.5 4z"/>
<path d="M800 1163l13-2-14-7-13 3.5z"/>
<path d="M787.5 1166l12.5-3-14-5.5-12.5 3z"/>
<path d="M775 1171l12.5-5-14-5.5-13 2.5z"/>
<path d="M762 1174.5l13-3.5-14.5-8-12.5 4z"/>
<path d="M749.5 1178l12.5-3.5-14-7.5-13 4z"/>
<path d="M736.5 1181l13-3-14.5-7-12.5 4z"/>
<path d="M724 1185.5l12.5-4.5-14-6-12.5 1z"/>
<path d="M711 1187.5l13-2-14-9.5-13 5z"/>
<path d="M698.5 1192l12.5-4.5-14-6.5-12.5 4.5z"/>
<path d="M686 1195.5l12.5-3.5-14-6.5-13 3.5z"/>
<path d="M673 1199l13-3.5-14.5-6.5-12.5 4z"/>
<path d="M660.5 1202.5l12.5-3.5-14-6-12.5 2z"/>
<path d="M647.5 1206.5l13-4-14-7.5-13 4z"/>
<path d="M1564.5 962.5l12.5-1.5-14-9-13 6z"/>
<path d="M1551.5 965.5l13-3-14.5-4.5-12.5 1z"/>
<path d="M1539 968.5l12.5-3-14-6.5-12.5 6z"/>
<path d="M1526 975l13-6.5-14-3.5-13 3z"/>
<path d="M1513.5 978l12.5-3-14-7-12.5 4z"/>
<path d="M1501 979.5l12.5-1.5-14-6-13 3.5z"/>
<path d="M1488 985l13-5.5-14.5-4-12.5 2.5z"/>
<path d="M1475.5 988.5l12.5-3.5-14-7-13 4.5z"/>
<path d="M1462.5 992l13-3.5-14.5-6-12.5 2.5z"/>
<path d="M1450 992.5l12.5-0.5-14-7-12.5 3z"/>
<path d="M1437 999l13-6.5-14-4.5-13 5z"/>
<path d="M1424.5 1001.5l12.5-2.5-14-6-12.5 3z"/>
<path d="M1412 1005.5l12.5-4-14-5.5-13 4z"/>
<path d="M1399 1010l13-4.5-14.5-5.5-12.5 3.5z"/>
<path d="M1386.5 1013.5l12.5-3.5-14-6.5-13 1.5z"/>
<path d="M1373.5 1017l13-3.5-14.5-8.5-12.5 5.5z"/>
<path d="M1361 1017.5l12.5-0.5-14-6.5-12.5 1.5z"/>
<path d="M1348 1024l13-6.5-14-5.5-13 4.5z"/>
<path d="M1335.5 1027.5l12.5-3.5-14-7.5-12.5 2z"/>
<path d="M1323 1028l12.5-0.5-14-9-13 5z"/>
<path d="M1310 1033.5l13-5.5-14.5-4.5-12.5 4.5z"/>
<path d="M1297.5 1038l12.5-4.5-14-5.5-12.5 3z"/>
</g>
<g stroke="#0004fd">
<path d="M1284.5 1037l13 1-14-7-13 3.5z"/>
</g>
<g stroke="#0000ff">
<path d="M1272 1043l12.5-6-14-2.5-12.5 0.5z"/>
</g>
<g stroke="#0004fd">
<path d="M1259.5 1037l12.5 6-14-8-13-3z"/>
</g>
<g stroke="#0010f7">
<path d="M1246.5 1016l13 21-14.5-5-12.5-21z"/>
</g>
<g stroke="#0028eb">
<path d="M1234 956.5l12.5 59.5-14-5-13-49.5z"/>
</g>
<g stroke="#0051d7">
<path d="M1221 873l13 83.5-14.5 5-12.5-88.5z"/>
</g>
<g stroke="#0075c4">
<path d="M1208.5 787.5l12.5 85.5-14 0-12.5-78z"/>
</g>
<g stroke="#0082be">
<path d="M1195.5 761l13 26.5-14 7.5-13-14.5z"/>
</g>
<g stroke="#0069ca">
<path d="M1183 821l12.5-60-14 19.5-12.5 61z"/>
</g>
<g stroke="#0041df">
<path d="M1170.5 925l12.5-104-14 20.5-13 91.5z"/>
</g>
<g stroke="#001cf1">
<path d="M1157.5 1011.5l13-86.5-14.5 8-12.5 79z"/>
</g>
<g stroke="#0008fb">
<path d="M1145 1060l12.5-48.5-14 0.5-13 42.5z"/>
</g>
<g stroke="#0000ff">
<path d="M1132 1079.5l13-19.5-14.5-5.5-12.5 19.5z"/>
<path d="M1119.5 1087l12.5-7.5-14-5.5-12.5 3z"/>
<path d="M1106.5 1090l13-3-14-10-13 5.5z"/>
<path d="M1094 1092l12.5-2-14-7.5-12.5 5z"/>
<path d="M1081.5 1097.5l12.5-5.5-14-4.5-13 3z"/>
<path d="M1068.5 1099l13-1.5-14.5-7-12.5 1.5z"/>
<path d="M1056 1104.5l12.5-5.5-14-7-13 4.5z"/>
<path d="M1043 1106.5l13-2-14.5-8-12.5 1.5z"/>
<path d="M1030.5 1111l12.5-4.5-14-8.5-12.5 6z"/>
<path d="M1017.5 1114.5l13-3.5-14-7-13 0.5z"/>
<path d="M1005 1118.5l12.5-4-14-10-12.5 5z"/>
<path d="M992.5 1121.5l12.5-3-14-9-13 5z"/>
<path d="M979.5 1125.5l13-4-14.5-7-12.5 4z"/>
<path d="M967 1126l12.5-0.5-14-7-12.5 4z"/>
<path d="M954 1131l13-5-14-3.5-13 2z"/>
<path d="M941.5 1133l12.5-2-14-6.5-12.5 5z"/>
<path d="M928.5 1137.5l13-4.5-14-3.5-13 3.5z"/>
<path d="M916 1143l12.5-5.5-14-4.5-12.5 3.5z"/>
<path d="M903.5 1143l12.5 0-14-6.5-13 2z"/>
<path d="M890.5 1149l13-6-14.5-4.5-12.5 3z"/>
<path d="M878 1153l12.5-4-14-7.5-12.5 5z"/>
<path d="M865 1155l13-2-14-6.5-13 2.5z"/>
<path d="M852.5 1159l12.5-4-14-6-12.5 4z"/>
<path d="M840 1162l12.5-3-14-6-13 3z"/>
<path d="M827 1167.5l13-5.5-14.5-6-12.5 5z"/>
<path d="M814.5 1168.5l12.5-1-14-6.5-13 2z"/>
<path d="M801.5 1174l13-5.5-14.5-5.5-12.5 3z"/>
<path d="M789 1178l12.5-4-14-8-12.5 5z"/>
<path d="M776 1181.5l13-3.5-14-7-13 3.5z"/>
<path d="M763.5 1185l12.5-3.5-14-7-12.5 3.5z"/>
<path d="M751 1185.5l12.5-0.5-14-7-13 3z"/>
<path d="M738 1191l13-5.5-14.5-4.5-12.5 4.5z"/>
<path d="M725.5 1192.5l12.5-1.5-14-5.5-13 2z"/>
<path d="M712.5 1198.5l13-6-14.5-5-12.5 4.5z"/>
<path d="M700 1202.5l12.5-4-14-6.5-12.5 3.5z"/>
<path d="M687 1204l13-1.5-14-7-13 3.5z"/>
<path d="M674.5 1206.5l12.5-2.5-14-5-12.5 3.5z"/>
<path d="M662 1211.5l12.5-5-14-4-13 4z"/>
<path d="M1578.5 971.5l12.5-4.5-14-6-12.5 1.5z"/>
<path d="M1566 974l12.5-2.5-14-9-13 3z"/>
<path d="M1553 978.5l13-4.5-14.5-8.5-12.5 3z"/>
<path d="M1540.5 980.5l12.5-2-14-10-13 6.5z"/>
<path d="M1527.5 983.5l13-3-14.5-5.5-12.5 3z"/>
<path d="M1515 989l12.5-5.5-14-5.5-12.5 1.5z"/>
<path d="M1502 989.5l13-0.5-14-9.5-13 5.5z"/>
<path d="M1489.5 996l12.5-6.5-14-4.5-12.5 3.5z"/>
<path d="M1477 998l12.5-2-14-7.5-13 3.5z"/>
<path d="M1464 1001.5l13-3.5-14.5-6-12.5 0.5z"/>
<path d="M1451.5 1006.5l12.5-5-14-9-13 6.5z"/>
<path d="M1438.5 1009.5l13-3-14.5-7.5-12.5 2.5z"/>
<path d="M1426 1012l12.5-2.5-14-8-12.5 4z"/>
<path d="M1413 1016l13-4-14-6.5-13 4.5z"/>
<path d="M1400.5 1018.5l12.5-2.5-14-6-12.5 3.5z"/>
<path d="M1388 1022.5l12.5-4-14-5-13 3.5z"/>
<path d="M1375 1026l13-3.5-14.5-5.5-12.5 0.5z"/>
<path d="M1362.5 1030l12.5-4-14-8.5-13 6.5z"/>
<path d="M1349.5 1032.5l13-2.5-14.5-6-12.5 3.5z"/>
<path d="M1337 1036l12.5-3.5-14-5-12.5 0.5z"/>
<path d="M1324 1041l13-5-14-8-13 5.5z"/>
<path d="M1311.5 1043.5l12.5-2.5-14-7.5-12.5 4.5z"/>
<path d="M1299 1047.5l12.5-4-14-5.5-13-1z"/>
</g>
<g stroke="#0004fd">
<path d="M1286 1046l13 1.5-14.5-10.5-12.5 6z"/>
</g>
<g stroke="#0008fb">
<path d="M1273.5 1041l12.5 5-14-3-12.5-6z"/>
</g>
<g stroke="#0014f5">
<path d="M1260.5 1012l13 29-14-4-13-21z"/>
</g>
<g stroke="#0031e7">
<path d="M1248 952l12.5 60-14 4-12.5-59.5z"/>
</g>
<g stroke="#005dd0">
<path d="M1235 851.5l13 100.5-14 4.5-13-83.5z"/>
</g>
<g stroke="#0082be">
<path d="M1222.5 766.5l12.5 85-14 21.5-12.5-85.5z"/>
</g>
<g stroke="#008aba">
<path d="M1210 746l12.5 20.5-14 21-13-26.5z"/>
</g>
<g stroke="#0071c6">
<path d="M1197 807l13-61-14.5 15-12.5 60z"/>
</g>
<g stroke="#0045dd">
<path d="M1184.5 913.5l12.5-106.5-14 14-12.5 104z"/>
</g>
<g stroke="#0020ef">
<path d="M1171.5 1003l13-89.5-14 11.5-13 86.5z"/>
</g>
<g stroke="#000cf9">
<path d="M1159 1058.5l12.5-55.5-14 8.5-12.5 48.5z"/>
</g>
<g stroke="#0004fd">
<path d="M1146.5 1082.5l12.5-24-14 1.5-13 19.5z"/>
</g>
<g stroke="#0000ff">
<path d="M1133.5 1090.5l13-8-14.5-3-12.5 7.5z"/>
<path d="M1121 1095l12.5-4.5-14-3.5-13 3z"/>
<path d="M1108 1098.5l13-3.5-14.5-5-12.5 2z"/>
<path d="M1095.5 1102l12.5-3.5-14-6.5-12.5 5.5z"/>
<path d="M1082.5 1107l13-5-14-4.5-13 1.5z"/>
<path d="M1070 1111l12.5-4-14-8-12.5 5.5z"/>
<path d="M1057.5 1114.5l12.5-3.5-14-6.5-13 2z"/>
<path d="M1044.5 1118l13-3.5-14.5-8-12.5 4.5z"/>
<path d="M1032 1121.5l12.5-3.5-14-7-13 3.5z"/>
<path d="M1019 1125l13-3.5-14.5-7-12.5 4z"/>
<path d="M1006.5 1127.5l12.5-2.5-14-6.5-12.5 3z"/>
<path d="M993.5 1131.5l13-4-14-6-13 4z"/>
<path d="M981 1135.5l12.5-4-14-6-12.5 0.5z"/>
<path d="M968.5 1139l12.5-3.5-14-9.5-13 5z"/>
<path d="M955.5 1140l13-1-14.5-8-12.5 2z"/>
<path d="M943 1144.5l12.5-4.5-14-7-13 4.5z"/>
<path d="M930 1149l13-4.5-14.5-7-12.5 5.5z"/>
<path d="M917.5 1152.5l12.5-3.5-14-6-12.5 0z"/>
<path d="M904.5 1156.5l13-4-14-9.5-13 6z"/>
<path d="M892 1159.5l12.5-3-14-7.5-12.5 4z"/>
<path d="M879.5 1162.5l12.5-3-14-6.5-13 2z"/>
<path d="M866.5 1165l13-2.5-14.5-7.5-12.5 4z"/>
<path d="M854 1170.5l12.5-5.5-14-6-12.5 3z"/>
<path d="M841 1173.5l13-3-14-8.5-13 5.5z"/>
<path d="M828.5 1176.5l12.5-3-14-6-12.5 1z"/>
<path d="M816 1178l12.5-1.5-14-8-13 5.5z"/>
<path d="M803 1184.5l13-6.5-14.5-4-12.5 4z"/>
<path d="M790.5 1188l12.5-3.5-14-6.5-13 3.5z"/>
<path d="M777.5 1191.5l13-3.5-14.5-6.5-12.5 3.5z"/>
<path d="M765 1192.5l12.5-1-14-6.5-12.5 0.5z"/>
<path d="M752 1197l13-4.5-14-7-13 5.5z"/>
<path d="M739.5 1201.5l12.5-4.5-14-6-12.5 1.5z"/>
<path d="M727 1204l12.5-2.5-14-9-13 6z"/>
<path d="M714 1208.5l13-4.5-14.5-5.5-12.5 4z"/>
<path d="M701.5 1210.5l12.5-2-14-6-13 1.5z"/>
<path d="M688.5 1215.5l13-5-14.5-6.5-12.5 2.5z"/>
<path d="M676 1218.5l12.5-3-14-9-12.5 5z"/>
<path d="M1592.5 975.5l13-1-14.5-7.5-12.5 4.5z"/>
</g>
<g stroke="#0004fd">
<path d="M1580 977l12.5-1.5-14-4-12.5 2.5z"/>
</g>
<g stroke="#0000ff">
<path d="M1567 982.5l13-5.5-14-3-13 4.5z"/>
<path d="M1554.5 986.5l12.5-4-14-4-12.5 2z"/>
<path d="M1541.5 991.5l13-5-14-6-13 3z"/>
<path d="M1529 995.5l12.5-4-14-8-12.5 5.5z"/>
<path d="M1516.5 997.5l12.5-2-14-6.5-13 0.5z"/>
<path d="M1503.5 1001l13-3.5-14.5-8-12.5 6.5z"/>
<path d="M1491 1003.5l12.5-2.5-14-5-12.5 2z"/>
<path d="M1478 1009.5l13-6-14-5.5-13 3.5z"/>
<path d="M1465.5 1012l12.5-2.5-14-8-12.5 5z"/>
<path d="M1453 1016.5l12.5-4.5-14-5.5-13 3z"/>
<path d="M1440 1020l13-3.5-14.5-7-12.5 2.5z"/>
<path d="M1427.5 1020l12.5 0-14-8-13 4z"/>
<path d="M1414.5 1027l13-7-14.5-4-12.5 2.5z"/>
<path d="M1402 1030l12.5-3-14-8.5-12.5 4z"/>
<path d="M1389 1033l13-3-14-7.5-13 3.5z"/>
<path d="M1376.5 1035l12.5-2-14-7-12.5 4z"/>
<path d="M1364 1039.5l12.5-4.5-14-5-13 2.5z"/>
<path d="M1351 1043.5l13-4-14.5-7-12.5 3.5z"/>
<path d="M1338.5 1048l12.5-4.5-14-7.5-13 5z"/>
<path d="M1325.5 1050.5l13-2.5-14.5-7-12.5 2.5z"/>
<path d="M1313 1052.5l12.5-2-14-7-12.5 4z"/>
</g>
<g stroke="#0004fd">
<path d="M1300 1053l13-0.5-14-5-13-1.5z"/>
</g>
<g stroke="#0008fb">
<path d="M1287.5 1044l12.5 9-14-7-12.5-5z"/>
</g>
<g stroke="#0018f3">
<path d="M1275 1009l12.5 35-14-3-13-29z"/>
</g>
<g stroke="#0035e5">
<path d="M1262 940.5l13 68.5-14.5 3-12.5-60z"/>
</g>
<g stroke="#0065cc">
<path d="M1249.5 837l12.5 103.5-14 11.5-13-100.5z"/>
</g>
<g stroke="#008aba">
<path d="M1236.5 750.5l13 86.5-14.5 14.5-12.5-85z"/>
</g>
<g stroke="#0096b4">
<path d="M1224 729l12.5 21.5-14 16-12.5-20.5z"/>
</g>
<g stroke="#0079c2">
<path d="M1211 795.5l13-66.5-14 17-13 61z"/>
</g>
<g stroke="#004dd9">
<path d="M1198.5 904.5l12.5-109-14 11.5-12.5 106.5z"/>
</g>
<g stroke="#0028eb">
<path d="M1186 998l12.5-93.5-14 9-13 89.5z"/>
</g>
<g stroke="#0010f7">
<path d="M1173 1058.5l13-60.5-14.5 5-12.5 55.5z"/>
</g>
<g stroke="#0004fd">
<path d="M1160.5 1087l12.5-28.5-14 0-12.5 24z"/>
<path d="M1147.5 1095.5l13-8.5-14-4.5-13 8z"/>
</g>
<g stroke="#0000ff">
<path d="M1135 1104l12.5-8.5-14-5-12.5 4.5z"/>
<path d="M1122 1106.5l13-2.5-14-9-13 3.5z"/>
<path d="M1109.5 1109l12.5-2.5-14-8-12.5 3.5z"/>
<path d="M1097 1112.5l12.5-3.5-14-7-13 5z"/>
<path d="M1084 1117l13-4.5-14.5-5.5-12.5 4z"/>
<path d="M1071.5 1120l12.5-3-14-6-12.5 3.5z"/>
<path d="M1058.5 1123.5l13-3.5-14-5.5-13 3.5z"/>
<path d="M1046 1128l12.5-4.5-14-5.5-12.5 3.5z"/>
<path d="M1033.5 1131.5l12.5-3.5-14-6.5-13 3.5z"/>
<path d="M1020.5 1135.5l13-4-14.5-6.5-12.5 2.5z"/>
<path d="M1008 1134.5l12.5 1-14-8-13 4z"/>
<path d="M995 1141.5l13-7-14.5-3-12.5 4z"/>
<path d="M982.5 1144.5l12.5-3-14-6-12.5 3.5z"/>
<path d="M969.5 1147l13-2.5-14-5.5-13 1z"/>
<path d="M957 1152.5l12.5-5.5-14-7-12.5 4.5z"/>
<path d="M944.5 1156.5l12.5-4-14-8-13 4.5z"/>
<path d="M931.5 1159l13-2.5-14.5-7.5-12.5 3.5z"/>
<path d="M919 1161.5l12.5-2.5-14-6.5-13 4z"/>
<path d="M906 1163.5l13-2-14.5-5-12.5 3z"/>
<path d="M893.5 1169l12.5-5.5-14-4-12.5 3z"/>
<path d="M880.5 1174l13-5-14-6.5-13 2.5z"/>
<path d="M868 1174.5l12.5-0.5-14-9-12.5 5.5z"/>
<path d="M855.5 1181l12.5-6.5-14-4-13 3z"/>
<path d="M842.5 1183.5l13-2.5-14.5-7.5-12.5 3z"/>
<path d="M830 1187.5l12.5-4-14-7-12.5 1.5z"/>
<path d="M817 1189.5l13-2-14-9.5-13 6.5z"/>
<path d="M804.5 1193l12.5-3.5-14-5-12.5 3.5z"/>
<path d="M791.5 1197.5l13-4.5-14-5-13 3.5z"/>
<path d="M779 1201l12.5-3.5-14-6-12.5 1z"/>
<path d="M766.5 1203l12.5-2-14-8.5-13 4.5z"/>
<path d="M753.5 1207.5l13-4.5-14.5-6-12.5 4.5z"/>
<path d="M741 1212l12.5-4.5-14-6-12.5 2.5z"/>
<path d="M728 1214l13-2-14-8-13 4.5z"/>
<path d="M715.5 1219.5l12.5-5.5-14-5.5-12.5 2z"/>
<path d="M703 1220.5l12.5-1-14-9-13 5z"/>
<path d="M690 1226l13-5.5-14.5-5-12.5 3z"/>
<path d="M1606.5 981.5l13-0.5-14-6.5-13 1z"/>
<path d="M1594 988l12.5-6.5-14-6-12.5 1.5z"/>
<path d="M1581.5 991.5l12.5-3.5-14-11-13 5.5z"/>
<path d="M1568.5 995l13-3.5-14.5-9-12.5 4z"/>
<path d="M1556 998l12.5-3-14-8.5-13 5z"/>
<path d="M1543 1001.5l13-3.5-14.5-6.5-12.5 4z"/>
<path d="M1530.5 1003l12.5-1.5-14-6-12.5 2z"/>
<path d="M1517.5 1009l13-6-14-5.5-13 3.5z"/>
<path d="M1505 1009.5l12.5-0.5-14-8-12.5 2.5z"/>
<path d="M1492.5 1014.5l12.5-5-14-6-13 6z"/>
<path d="M1479.5 1019l13-4.5-14.5-5-12.5 2.5z"/>
<path d="M1467 1023l12.5-4-14-7-12.5 4.5z"/>
<path d="M1454 1026l13-3-14-6.5-13 3.5z"/>
<path d="M1441.5 1029.5l12.5-3.5-14-6-12.5 0z"/>
<path d="M1428.5 1031l13-1.5-14-9.5-13 7z"/>
<path d="M1416 1037l12.5-6-14-4-12.5 3z"/>
<path d="M1403.5 1038.5l12.5-1.5-14-7-13 3z"/>
<path d="M1390.5 1043.5l13-5-14.5-5.5-12.5 2z"/>
<path d="M1378 1043.5l12.5 0-14-8.5-12.5 4.5z"/>
<path d="M1365 1049l13-5.5-14-4-13 4z"/>
<path d="M1352.5 1054.5l12.5-5.5-14-5.5-12.5 4.5z"/>
<path d="M1340 1058l12.5-3.5-14-6.5-13 2.5z"/>
<path d="M1327 1058l13 0-14.5-7.5-12.5 2z"/>
</g>
<g stroke="#0004fd">
<path d="M1314.5 1057l12.5 1-14-5.5-13 0.5z"/>
</g>
<g stroke="#000cf9">
<path d="M1301.5 1041l13 16-14.5-4-12.5-9z"/>
</g>
<g stroke="#001cf1">
<path d="M1289 1005l12.5 36-14 3-12.5-35z"/>
</g>
<g stroke="#003de1">
<path d="M1276 930l13 75-14 4-13-68.5z"/>
</g>
<g stroke="#006dc8">
<path d="M1263.5 820l12.5 110-14 10.5-12.5-103.5z"/>
</g>
<g stroke="#0096b4">
<path d="M1251 727.5l12.5 92.5-14 17-13-86.5z"/>
</g>
<g stroke="#009eb0">
<path d="M1238 715.5l13 12-14.5 23-12.5-21.5z"/>
</g>
<g stroke="#0086bc">
<path d="M1225.5 777.5l12.5-62-14 13.5-13 66.5z"/>
</g>
<g stroke="#0055d4">
<path d="M1212.5 894.5l13-117-14.5 18-12.5 109z"/>
</g>
<g stroke="#0031e7">
<path d="M1200 987l12.5-92.5-14 10-12.5 93.5z"/>
</g>
<g stroke="#0010f7">
<path d="M1187 1058l13-71-14 11-13 60.5z"/>
</g>
<g stroke="#0008fb">
<path d="M1174.5 1086.5l12.5-28.5-14 0.5-12.5 28.5z"/>
</g>
<g stroke="#0000ff">
<path d="M1162 1103.5l12.5-17-14 0.5-13 8.5z"/>
<path d="M1149 1108.5l13-5-14.5-8-12.5 8.5z"/>
<path d="M1136.5 1113l12.5-4.5-14-4.5-13 2.5z"/>
<path d="M1123.5 1115.5l13-2.5-14.5-6.5-12.5 2.5z"/>
<path d="M1111 1120l12.5-4.5-14-6.5-12.5 3.5z"/>
<path d="M1098 1124l13-4-14-7.5-13 4.5z"/>
<path d="M1085.5 1127l12.5-3-14-7-12.5 3z"/>
<path d="M1073 1131l12.5-4-14-7-13 3.5z"/>
<path d="M1060 1134.5l13-3.5-14.5-7.5-12.5 4.5z"/>
<path d="M1047.5 1137l12.5-2.5-14-6.5-12.5 3.5z"/>
<path d="M1034.5 1142l13-5-14-5.5-13 4z"/>
<path d="M1022 1145l12.5-3-14-6.5-12.5-1z"/>
<path d="M1009.5 1147l12.5-2-14-10.5-13 7z"/>
<path d="M996.5 1151l13-4-14.5-5.5-12.5 3z"/>
<path d="M984 1156l12.5-5-14-6.5-13 2.5z"/>
<path d="M971 1156l13 0-14.5-9-12.5 5.5z"/>
<path d="M958.5 1163l12.5-7-14-3.5-12.5 4z"/>
<path d="M945.5 1164.5l13-1.5-14-6.5-13 2.5z"/>
<path d="M933 1170l12.5-5.5-14-5.5-12.5 2.5z"/>
<path d="M920.5 1173l12.5-3-14-8.5-13 2z"/>
<path d="M907.5 1176.5l13-3.5-14.5-9.5-12.5 5.5z"/>
<path d="M895 1176.5l12.5 0-14-7.5-13 5z"/>
<path d="M882 1180.5l13-4-14.5-2.5-12.5 0.5z"/>
<path d="M869.5 1187.5l12.5-7-14-6-12.5 6.5z"/>
<path d="M856.5 1189l13-1.5-14-6.5-13 2.5z"/>
<path d="M844 1191l12.5-2-14-5.5-12.5 4z"/>
<path d="M831.5 1195l12.5-4-14-3.5-13 2z"/>
<path d="M818.5 1199.5l13-4.5-14.5-5.5-12.5 3.5z"/>
<path d="M806 1203l12.5-3.5-14-6.5-13 4.5z"/>
<path d="M793 1207l13-4-14.5-5.5-12.5 3.5z"/>
<path d="M780.5 1210.5l12.5-3.5-14-6-12.5 2z"/>
<path d="M767.5 1214.5l13-4-14-7.5-13 4.5z"/>
<path d="M755 1217l12.5-2.5-14-7-12.5 4.5z"/>
<path d="M742.5 1220l12.5-3-14-5-13 2z"/>
<path d="M729.5 1225l13-5-14.5-6-12.5 5.5z"/>
<path d="M717 1228.5l12.5-3.5-14-5.5-12.5 1z"/>
<path d="M704 1232.5l13-4-14-8-13 5.5z"/>
<path d="M1621 991l12.5-6-14-4-13 0.5z"/>
<path d="M1608 993.5l13-2.5-14.5-9.5-12.5 6.5z"/>
<path d="M1595.5 997.5l12.5-4-14-5.5-12.5 3.5z"/>
<path d="M1582.5 1000l13-2.5-14-6-13 3.5z"/>
<path d="M1570 1004l12.5-4-14-5-12.5 3z"/>
<path d="M1557.5 1005.5l12.5-1.5-14-6-13 3.5z"/>
<path d="M1544.5 1011l13-5.5-14.5-4-12.5 1.5z"/>
<path d="M1532 1014.5l12.5-3.5-14-8-13 6z"/>
<path d="M1519 1018.5l13-4-14.5-5.5-12.5 0.5z"/>
<path d="M1506.5 1022l12.5-3.5-14-9-12.5 5z"/>
<path d="M1493.5 1024.5l13-2.5-14-7.5-13 4.5z"/>
<path d="M1481 1029l12.5-4.5-14-5.5-12.5 4z"/>
<path d="M1468.5 1030l12.5-1-14-6-13 3z"/>
<path d="M1455.5 1035l13-5-14.5-4-12.5 3.5z"/>
<path d="M1443 1036.5l12.5-1.5-14-5.5-13 1.5z"/>
<path d="M1430 1043.5l13-7-14.5-5.5-12.5 6z"/>
<path d="M1417.5 1047l12.5-3.5-14-6.5-12.5 1.5z"/>
<path d="M1404.5 1050l13-3-14-8.5-13 5z"/>
<path d="M1392 1054l12.5-4-14-6.5-12.5 0z"/>
<path d="M1379.5 1055l12.5-1-14-10.5-13 5.5z"/>
<path d="M1366.5 1060l13-5-14.5-6-12.5 5.5z"/>
<path d="M1354 1063.5l12.5-3.5-14-5.5-12.5 3.5z"/>
</g>
<g stroke="#0004fd">
<path d="M1341 1062l13 1.5-14-5.5-13 0z"/>
<path d="M1328.5 1060l12.5 2-14-4-12.5-1z"/>
</g>
<g stroke="#000cf9">
<path d="M1316 1043l12.5 17-14-3-13-16z"/>
</g>
<g stroke="#0020ef">
<path d="M1303 998.5l13 44.5-14.5-2-12.5-36z"/>
</g>
<g stroke="#0049db">
<path d="M1290.5 910l12.5 88.5-14 6.5-13-75z"/>
</g>
<g stroke="#0079c2">
<path d="M1277.5 803.5l13 106.5-14.5 20-12.5-110z"/>
</g>
<g stroke="#00a2ae">
<path d="M1265 713l12.5 90.5-14 16.5-12.5-92.5z"/>
</g>
<g stroke="#00aea8">
<path d="M1252 687.5l13 25.5-14 14.5-13-12z"/>
</g>
<g stroke="#0092b6">
<path d="M1239.5 753.5l12.5-66-14 28-12.5 62z"/>
</g>
<g stroke="#0061ce">
<path d="M1227 874l12.5-120.5-14 24-13 117z"/>
</g>
<g stroke="#0035e5">
<path d="M1214 977.5l13-103.5-14.5 20.5-12.5 92.5z"/>
</g>
<g stroke="#0014f5">
<path d="M1201.5 1054.5l12.5-77-14 9.5-13 71z"/>
</g>
<g stroke="#0008fb">
<path d="M1188.5 1091l13-36.5-14.5 3.5-12.5 28.5z"/>
</g>
<g stroke="#0004fd">
<path d="M1176 1105l12.5-14-14-4.5-12.5 17z"/>
</g>
<g stroke="#0000ff">
<path d="M1163 1117l13-12-14-1.5-13 5z"/>
<path d="M1150.5 1118l12.5-1-14-8.5-12.5 4.5z"/>
<path d="M1138 1124l12.5-6-14-5-13 2.5z"/>
<path d="M1125 1126.5l13-2.5-14.5-8.5-12.5 4.5z"/>
<path d="M1112.5 1130.5l12.5-4-14-6.5-13 4z"/>
<path d="M1099.5 1134l13-3.5-14.5-6.5-12.5 3z"/>
<path d="M1087 1135.5l12.5-1.5-14-7-12.5 4z"/>
<path d="M1074 1141l13-5.5-14-4.5-13 3.5z"/>
<path d="M1061.5 1145l12.5-4-14-6.5-12.5 2.5z"/>
<path d="M1049 1146.5l12.5-1.5-14-8-13 5z"/>
<path d="M1036 1149.5l13-3-14.5-4.5-12.5 3z"/>
<path d="M1023.5 1154.5l12.5-5-14-4.5-12.5 2z"/>
<path d="M1010.5 1158l13-3.5-14-7.5-13 4z"/>
<path d="M998 1161.5l12.5-3.5-14-7-12.5 5z"/>
<path d="M985 1164l13-2.5-14-5.5-13 0z"/>
<path d="M972.5 1168.5l12.5-4.5-14-8-12.5 7z"/>
<path d="M960 1173l12.5-4.5-14-5.5-13 1.5z"/>
<path d="M947 1176.5l13-3.5-14.5-8.5-12.5 5.5z"/>
<path d="M934.5 1179.5l12.5-3-14-6.5-12.5 3z"/>
<path d="M921.5 1181.5l13-2-14-6.5-13 3.5z"/>
<path d="M909 1186l12.5-4.5-14-5-12.5 0z"/>
<path d="M896.5 1189.5l12.5-3.5-14-9.5-13 4z"/>
<path d="M883.5 1192l13-2.5-14.5-9-12.5 7z"/>
<path d="M871 1197.5l12.5-5.5-14-4.5-13 1.5z"/>
<path d="M858 1198l13-0.5-14.5-8.5-12.5 2z"/>
<path d="M845.5 1202l12.5-4-14-7-12.5 4z"/>
<path d="M832.5 1207.5l13-5.5-14-7-13 4.5z"/>
<path d="M820 1208.5l12.5-1-14-8-12.5 3.5z"/>
<path d="M807.5 1211.5l12.5-3-14-5.5-13 4z"/>
<path d="M794.5 1218l13-6.5-14.5-4.5-12.5 3.5z"/>
<path d="M782 1219.5l12.5-1.5-14-7.5-13 4z"/>
<path d="M769 1224.5l13-5-14.5-5-12.5 2.5z"/>
<path d="M756.5 1229l12.5-4.5-14-7.5-12.5 3z"/>
<path d="M743.5 1230l13-1-14-9-13 5z"/>
<path d="M731 1233.5l12.5-3.5-14-5-12.5 3.5z"/>
<path d="M718.5 1239.5l12.5-6-14-5-13 4z"/>
<path d="M1635 997l12.5-4-14-8-12.5 6z"/>
<path d="M1622 999.5l13-2.5-14-6-13 2.5z"/>
<path d="M1609.5 1002.5l12.5-3-14-6-12.5 4z"/>
<path d="M1597 1008l12.5-5.5-14-5-13 2.5z"/>
<path d="M1584 1011.5l13-3.5-14.5-8-12.5 4z"/>
<path d="M1571.5 1014l12.5-2.5-14-7.5-12.5 1.5z"/>
<path d="M1558.5 1017l13-3-14-8.5-13 5.5z"/>
<path d="M1546 1020l12.5-3-14-6-12.5 3.5z"/>
<path d="M1533.5 1024.5l12.5-4.5-14-5.5-13 4z"/>
<path d="M1520.5 1029l13-4.5-14.5-6-12.5 3.5z"/>
<path d="M1508 1030.5l12.5-1.5-14-7-13 2.5z"/>
<path d="M1495 1036l13-5.5-14.5-6-12.5 4.5z"/>
<path d="M1482.5 1036l12.5 0-14-7-12.5 1z"/>
<path d="M1469.5 1043l13-7-14-6-13 5z"/>
<path d="M1457 1046.5l12.5-3.5-14-8-12.5 1.5z"/>
<path d="M1444.5 1048.5l12.5-2-14-10-13 7z"/>
<path d="M1431.5 1050l13-1.5-14.5-5-12.5 3.5z"/>
<path d="M1419 1055l12.5-5-14-3-13 3z"/>
<path d="M1406 1059l13-4-14.5-5-12.5 4z"/>
<path d="M1393.5 1064l12.5-5-14-5-12.5 1z"/>
<path d="M1380.5 1066.5l13-2.5-14-9-13 5z"/>
<path d="M1368 1071l12.5-4.5-14-6.5-12.5 3.5z"/>
</g>
<g stroke="#0004fd">
<path d="M1355.5 1069.5l12.5 1.5-14-7.5-13-1.5z"/>
</g>
<g stroke="#0008fb">
<path d="M1342.5 1063l13 6.5-14.5-7.5-12.5-2z"/>
</g>
<g stroke="#0010f7">
<path d="M1330 1040l12.5 23-14-3-12.5-17z"/>
</g>
<g stroke="#0028eb">
<path d="M1317 987l13 53-14 3-13-44.5z"/>
</g>
<g stroke="#0055d4">
<path d="M1304.5 893l12.5 94-14 11.5-12.5-88.5z"/>
</g>
<g stroke="#0086bc">
<path d="M1291.5 782.5l13 110.5-14 17-13-106.5z"/>
</g>
<g stroke="#00aea8">
<path d="M1279 687l12.5 95.5-14 21-12.5-90.5z"/>
</g>
<g stroke="#00b6a4">
<path d="M1266.5 671l12.5 16-14 26-13-25.5z"/>
</g>
<g stroke="#009eb0">
<path d="M1253.5 731.5l13-60.5-14.5 16.5-12.5 66z"/>
</g>
<g stroke="#006dc8">
<path d="M1241 845.5l12.5-114-14 22-12.5 120.5z"/>
</g>
<g stroke="#003de1">
<path d="M1228 963l13-117.5-14 28.5-13 103.5z"/>
</g>
<g stroke="#001cf1">
<path d="M1215.5 1044.5l12.5-81.5-14 14.5-12.5 77z"/>
</g>
<g stroke="#000cf9">
<path d="M1203 1090l12.5-45.5-14 10-13 36.5z"/>
</g>
<g stroke="#0004fd">
<path d="M1190 1115l13-25-14.5 1-12.5 14z"/>
</g>
<g stroke="#0000ff">
<path d="M1177.5 1121.5l12.5-6.5-14-10-13 12z"/>
<path d="M1164.5 1125l13-3.5-14.5-4.5-12.5 1z"/>
<path d="M1152 1129l12.5-4-14-7-12.5 6z"/>
<path d="M1139 1132.5l13-3.5-14-5-13 2.5z"/>
<path d="M1126.5 1137l12.5-4.5-14-6-12.5 4z"/>
<path d="M1114 1140.5l12.5-3.5-14-6.5-13 3.5z"/>
<path d="M1101 1142l13-1.5-14.5-6.5-12.5 1.5z"/>
<path d="M1088.5 1145.5l12.5-3.5-14-6.5-13 5.5z"/>
<path d="M1075.5 1149.5l13-4-14.5-4.5-12.5 4z"/>
<path d="M1063 1154l12.5-4.5-14-4.5-12.5 1.5z"/>
<path d="M1050 1156.5l13-2.5-14-7.5-13 3z"/>
<path d="M1037.5 1160.5l12.5-4-14-7-12.5 5z"/>
<path d="M1025 1162.5l12.5-2-14-6-13 3.5z"/>
<path d="M1012 1169l13-6.5-14.5-4.5-12.5 3.5z"/>
<path d="M999.5 1172l12.5-3-14-7.5-13 2.5z"/>
<path d="M986.5 1173.5l13-1.5-14.5-8-12.5 4.5z"/>
<path d="M974 1178.5l12.5-5-14-5-12.5 4.5z"/>
<path d="M961 1182.5l13-4-14-5.5-13 3.5z"/>
<path d="M948.5 1185.5l12.5-3-14-6-12.5 3z"/>
<path d="M936 1190l12.5-4.5-14-6-13 2z"/>
<path d="M923 1190.5l13-0.5-14.5-8.5-12.5 4.5z"/>
<path d="M910.5 1197l12.5-6.5-14-4.5-12.5 3.5z"/>
<path d="M897.5 1200.5l13-3.5-14-7.5-13 2.5z"/>
<path d="M885 1202.5l12.5-2-14-8.5-12.5 5.5z"/>
<path d="M872.5 1204.5l12.5-2-14-5-13 0.5z"/>
<path d="M859.5 1209.5l13-5-14.5-6.5-12.5 4z"/>
<path d="M847 1214.5l12.5-5-14-7.5-13 5.5z"/>
<path d="M834 1216.5l13-2-14.5-7-12.5 1z"/>
<path d="M821.5 1221.5l12.5-5-14-8-12.5 3z"/>
<path d="M808.5 1225l13-3.5-14-10-13 6.5z"/>
<path d="M796 1226.5l12.5-1.5-14-7-12.5 1.5z"/>
<path d="M783.5 1231l12.5-4.5-14-7-13 5z"/>
<path d="M770.5 1232.5l13-1.5-14.5-6.5-12.5 4.5z"/>
<path d="M758 1237l12.5-4.5-14-3.5-13 1z"/>
<path d="M745 1240.5l13-3.5-14.5-7-12.5 3.5z"/>
<path d="M732.5 1244l12.5-3.5-14-7-12.5 6z"/>
<path d="M1649 1004l13-4.5-14.5-6.5-12.5 4z"/>
<path d="M1636.5 1007.5l12.5-3.5-14-7-13 2.5z"/>
<path d="M1623.5 1011l13-3.5-14.5-8-12.5 3z"/>
<path d="M1611 1011.5l12.5-0.5-14-8.5-12.5 5.5z"/>
<path d="M1598 1016.5l13-5-14-3.5-13 3.5z"/>
<path d="M1585.5 1021.5l12.5-5-14-5-12.5 2.5z"/>
<path d="M1573 1023l12.5-1.5-14-7.5-13 3z"/>
<path d="M1560 1027.5l13-4.5-14.5-6-12.5 3z"/>
<path d="M1547.5 1031.5l12.5-4-14-7.5-12.5 4.5z"/>
<path d="M1534.5 1035.5l13-4-14-7-13 4.5z"/>
<path d="M1522 1039l12.5-3.5-14-6.5-12.5 1.5z"/>
<path d="M1509.5 1038.5l12.5 0.5-14-8.5-13 5.5z"/>
<path d="M1496.5 1046l13-7.5-14.5-2.5-12.5 0z"/>
<path d="M1484 1047.5l12.5-1.5-14-10-13 7z"/>
<path d="M1471 1051.5l13-4-14.5-4.5-12.5 3.5z"/>
<path d="M1458.5 1054.5l12.5-3-14-5-12.5 2z"/>
<path d="M1445.5 1060l13-5.5-14-6-13 1.5z"/>
<path d="M1433 1063.5l12.5-3.5-14-10-12.5 5z"/>
<path d="M1420.5 1067l12.5-3.5-14-8.5-13 4z"/>
<path d="M1407.5 1070l13-3-14.5-8-12.5 5z"/>
<path d="M1395 1073l12.5-3-14-6-13 2.5z"/>
<path d="M1382 1073.5l13-0.5-14.5-6.5-12.5 4.5z"/>
</g>
<g stroke="#0004fd">
<path d="M1369.5 1075.5l12.5-2-14-2.5-12.5-1.5z"/>
</g>
<g stroke="#0008fb">
<path d="M1356.5 1066.5l13 9-14-6-13-6.5z"/>
</g>
<g stroke="#0014f5">
<path d="M1344 1039.5l12.5 27-14-3.5-12.5-23z"/>
</g>
<g stroke="#0035e5">
<path d="M1331.5 971l12.5 68.5-14 0.5-13-53z"/>
</g>
<g stroke="#005dd0">
<path d="M1318.5 879.5l13 91.5-14.5 16-12.5-94z"/>
</g>
<g stroke="#0092b6">
<path d="M1306 760l12.5 119.5-14 13.5-13-110.5z"/>
</g>
<g stroke="#00baa2">
<path d="M1293 668.5l13 91.5-14.5 22.5-12.5-95.5z"/>
</g>
<g stroke="#00c29e">
<path d="M1280.5 652l12.5 16.5-14 18.5-12.5-16z"/>
</g>
<g stroke="#00aaaa">
<path d="M1267.5 714l13-62-14 19-13 60.5z"/>
</g>
<g stroke="#0079c2">
<path d="M1255 828.5l12.5-114.5-14 17.5-12.5 114z"/>
</g>
<g stroke="#0049db">
<path d="M1242.5 948.5l12.5-120-14 17-13 117.5z"/>
</g>
<g stroke="#0024ed">
<path d="M1229.5 1034l13-85.5-14.5 14.5-12.5 81.5z"/>
</g>
<g stroke="#0010f7">
<path d="M1217 1087l12.5-53-14 10.5-12.5 45.5z"/>
</g>
<g stroke="#0008fb">
<path d="M1204 1112l13-25-14 3-13 25z"/>
</g>
<g stroke="#0000ff">
<path d="M1191.5 1127.5l12.5-15.5-14 3-12.5 6.5z"/>
<path d="M1178.5 1131.5l13-4-14-6-13 3.5z"/>
<path d="M1166 1135l12.5-3.5-14-6.5-12.5 4z"/>
<path d="M1153.5 1140.5l12.5-5.5-14-6-13 3.5z"/>
<path d="M1140.5 1143.5l13-3-14.5-8-12.5 4.5z"/>
<path d="M1128 1145.5l12.5-2-14-6.5-12.5 3.5z"/>
<path d="M1115 1150l13-4.5-14-5-13 1.5z"/>
<path d="M1102.5 1153l12.5-3-14-8-12.5 3.5z"/>
<path d="M1090 1157l12.5-4-14-7.5-13 4z"/>
<path d="M1077 1159l13-2-14.5-7.5-12.5 4.5z"/>
<path d="M1064.5 1165l12.5-6-14-5-13 2.5z"/>
<path d="M1051.5 1166.5l13-1.5-14.5-8.5-12.5 4z"/>
<path d="M1039 1171.5l12.5-5-14-6-12.5 2z"/>
<path d="M1026 1174.5l13-3-14-9-13 6.5z"/>
<path d="M1013.5 1177.5l12.5-3-14-5.5-12.5 3z"/>
<path d="M1001 1182.5l12.5-5-14-5.5-13 1.5z"/>
<path d="M988 1186l13-3.5-14.5-9-12.5 5z"/>
<path d="M975.5 1187.5l12.5-1.5-14-7.5-13 4z"/>
<path d="M962.5 1190.5l13-3-14.5-5-12.5 3z"/>
<path d="M950 1196.5l12.5-6-14-5-12.5 4.5z"/>
<path d="M937 1200l13-3.5-14-6.5-13 0.5z"/>
<path d="M924.5 1203l12.5-3-14-9.5-12.5 6.5z"/>
<path d="M912 1206.5l12.5-3.5-14-6-13 3.5z"/>
<path d="M899 1210l13-3.5-14.5-6-12.5 2z"/>
<path d="M886.5 1214l12.5-4-14-7.5-12.5 2z"/>
<path d="M873.5 1214.5l13-0.5-14-9.5-13 5z"/>
<path d="M861 1220.5l12.5-6-14-5-12.5 5z"/>
<path d="M848 1224l13-3.5-14-6-13 2z"/>
<path d="M835.5 1225l12.5-1-14-7.5-12.5 5z"/>
<path d="M823 1231.5l12.5-6.5-14-3.5-13 3.5z"/>
<path d="M810 1235l13-3.5-14.5-6.5-12.5 1.5z"/>
<path d="M797.5 1238l12.5-3-14-8.5-12.5 4.5z"/>
<path d="M784.5 1240.5l13-2.5-14-7-13 1.5z"/>
<path d="M772 1244l12.5-3.5-14-8-12.5 4.5z"/>
<path d="M759.5 1247l12.5-3-14-7-13 3.5z"/>
<path d="M746.5 1252.5l13-5.5-14.5-6.5-12.5 3.5z"/>
<path d="M1663 1011l13-5.5-14-6-13 4.5z"/>
<path d="M1650.5 1014.5l12.5-3.5-14-7-12.5 3.5z"/>
<path d="M1638 1015.5l12.5-1-14-7-13 3.5z"/>
<path d="M1625 1021.5l13-6-14.5-4.5-12.5 0.5z"/>
<path d="M1612.5 1024.5l12.5-3-14-10-13 5z"/>
<path d="M1599.5 1027.5l13-3-14.5-8-12.5 5z"/>
<path d="M1587 1030.5l12.5-3-14-6-12.5 1.5z"/>
<path d="M1574 1034l13-3.5-14-7.5-13 4.5z"/>
<path d="M1561.5 1039l12.5-5-14-6.5-12.5 4z"/>
<path d="M1549 1040l12.5-1-14-7.5-13 4z"/>
<path d="M1536 1044.5l13-4.5-14.5-4.5-12.5 3.5z"/>
<path d="M1523.5 1049l12.5-4.5-14-5.5-12.5-0.5z"/>
<path d="M1510.5 1050.5l13-1.5-14-10.5-13 7.5z"/>
<path d="M1498 1055.5l12.5-5-14-4.5-12.5 1.5z"/>
<path d="M1485 1058l13-2.5-14-8-13 4z"/>
<path d="M1472.5 1062.5l12.5-4.5-14-6.5-12.5 3z"/>
<path d="M1460 1066l12.5-3.5-14-8-13 5.5z"/>
<path d="M1447 1069.5l13-3.5-14.5-6-12.5 3.5z"/>
<path d="M1434.5 1072.5l12.5-3-14-6-12.5 3.5z"/>
<path d="M1421.5 1075.5l13-3-14-5.5-13 3z"/>
</g>
<g stroke="#0004fd">
<path d="M1409 1076l12.5-0.5-14-5.5-12.5 3z"/>
</g>
<g stroke="#0000ff">
<path d="M1396.5 1081l12.5-5-14-3-13 0.5z"/>
</g>
<g stroke="#0004fd">
<path d="M1383.5 1078l13 3-14.5-7.5-12.5 2z"/>
</g>
<g stroke="#000cf9">
<path d="M1371 1066l12.5 12-14-2.5-13-9z"/>
</g>
<g stroke="#001cf1">
<path d="M1358 1029l13 37-14.5 0.5-12.5-27z"/>
</g>
<g stroke="#003de1">
<path d="M1345.5 960l12.5 69-14 10.5-12.5-68.5z"/>
</g>
<g stroke="#0069ca">
<path d="M1332.5 855.5l13 104.5-14 11-13-91.5z"/>
</g>
<g stroke="#009eb0">
<path d="M1320 736l12.5 119.5-14 24-12.5-119.5z"/>
</g>
<g stroke="#00c69c">
<path d="M1307.5 646.5l12.5 89.5-14 24-13-91.5z"/>
</g>
<g stroke="#00ce98">
<path d="M1294.5 625l13 21.5-14.5 22-12.5-16.5z"/>
</g>
<g stroke="#00b6a4">
<path d="M1282 688l12.5-63-14 27-13 62z"/>
</g>
<g stroke="#0086bc">
<path d="M1269 809l13-121-14.5 26-12.5 114.5z"/>
</g>
<g stroke="#0051d7">
<path d="M1256.5 934.5l12.5-125.5-14 19.5-12.5 120z"/>
</g>
<g stroke="#002de9">
<path d="M1243.5 1024.5l13-90-14 14-13 85.5z"/>
</g>
<g stroke="#0014f5">
<path d="M1231 1085l12.5-60.5-14 9.5-12.5 53z"/>
</g>
<g stroke="#0008fb">
<path d="M1218.5 1118l12.5-33-14 2-13 25z"/>
</g>
<g stroke="#0004fd">
<path d="M1205.5 1129.5l13-11.5-14.5-6-12.5 15.5z"/>
</g>
<g stroke="#0000ff">
<path d="M1193 1136.5l12.5-7-14-2-13 4z"/>
<path d="M1180 1141.5l13-5-14.5-5-12.5 3.5z"/>
<path d="M1167.5 1147.5l12.5-6-14-6.5-12.5 5.5z"/>
<path d="M1154.5 1151l13-3.5-14-7-13 3z"/>
<path d="M1142 1154.5l12.5-3.5-14-7.5-12.5 2z"/>
<path d="M1129.5 1155.5l12.5-1-14-9-13 4.5z"/>
<path d="M1116.5 1161l13-5.5-14.5-5.5-12.5 3z"/>
<path d="M1104 1163.5l12.5-2.5-14-8-12.5 4z"/>
<path d="M1091 1167l13-3.5-14-6.5-13 2z"/>
<path d="M1078.5 1172l12.5-5-14-8-12.5 6z"/>
<path d="M1066 1175.5l12.5-3.5-14-7-13 1.5z"/>
<path d="M1053 1176l13-0.5-14.5-9-12.5 5z"/>
<path d="M1040.5 1182l12.5-6-14-4.5-13 3z"/>
<path d="M1027.5 1182.5l13-0.5-14.5-7.5-12.5 3z"/>
<path d="M1015 1187l12.5-4.5-14-5-12.5 5z"/>
<path d="M1002 1193l13-6-14-4.5-13 3.5z"/>
<path d="M989.5 1194.5l12.5-1.5-14-7-12.5 1.5z"/>
<path d="M977 1199l12.5-4.5-14-7-13 3z"/>
<path d="M964 1203.5l13-4.5-14.5-8.5-12.5 6z"/>
<path d="M951.5 1203.5l12.5 0-14-7-13 3.5z"/>
<path d="M938.5 1210l13-6.5-14.5-3.5-12.5 3z"/>
<path d="M926 1213.5l12.5-3.5-14-7-12.5 3.5z"/>
<path d="M913 1216l13-2.5-14-7-13 3.5z"/>
<path d="M900.5 1217l12.5-1-14-6-12.5 4z"/>
<path d="M888 1224l12.5-7-14-3-13 0.5z"/>
<path d="M875 1226.5l13-2.5-14.5-9.5-12.5 6z"/>
<path d="M862.5 1230.5l12.5-4-14-6-13 3.5z"/>
<path d="M849.5 1233l13-2.5-14.5-6.5-12.5 1z"/>
<path d="M837 1236.5l12.5-3.5-14-8-12.5 6.5z"/>
<path d="M824 1240l13-3.5-14-5-13 3.5z"/>
<path d="M811.5 1244.5l12.5-4.5-14-5-12.5 3z"/>
<path d="M799 1248.5l12.5-4-14-6.5-13 2.5z"/>
<path d="M786 1252l13-3.5-14.5-8-12.5 3.5z"/>
<path d="M773.5 1255.5l12.5-3.5-14-8-12.5 3z"/>
<path d="M760.5 1257.5l13-2-14-8.5-13 5.5z"/>
<path d="M1677.5 1017.5l12.5-4-14-8-13 5.5z"/>
<path d="M1664.5 1018.5l13-1-14.5-6.5-12.5 3.5z"/>
<path d="M1652 1024.5l12.5-6-14-4-12.5 1z"/>
<path d="M1639 1027l13-2.5-14-9-13 6z"/>
<path d="M1626.5 1030l12.5-3-14-5.5-12.5 3z"/>
<path d="M1614 1032l12.5-2-14-5.5-13 3z"/>
<path d="M1601 1038.5l13-6.5-14.5-4.5-12.5 3z"/>
<path d="M1588.5 1039l12.5-0.5-14-8-13 3.5z"/>
<path d="M1575.5 1044l13-5-14.5-5-12.5 5z"/>
<path d="M1563 1049l12.5-5-14-5-12.5 1z"/>
<path d="M1550 1051l13-2-14-9-13 4.5z"/>
<path d="M1537.5 1054.5l12.5-3.5-14-6.5-12.5 4.5z"/>
<path d="M1525 1057.5l12.5-3-14-5.5-13 1.5z"/>
<path d="M1512 1062l13-4.5-14.5-7-12.5 5z"/>
<path d="M1499.5 1065l12.5-3-14-6.5-13 2.5z"/>
<path d="M1486.5 1069.5l13-4.5-14.5-7-12.5 4.5z"/>
<path d="M1474 1071.5l12.5-2-14-7-12.5 3.5z"/>
<path d="M1461 1074.5l13-3-14-5.5-13 3.5z"/>
<path d="M1448.5 1079l12.5-4.5-14-5-12.5 3z"/>
<path d="M1436 1082l12.5-3-14-6.5-13 3z"/>
<path d="M1423 1085l13-3-14.5-6.5-12.5 0.5z"/>
</g>
<g stroke="#0004fd">
<path d="M1410.5 1085l12.5 0-14-9-12.5 5z"/>
</g>
<g stroke="#0008fb">
<path d="M1397.5 1078.5l13 6.5-14-4-13-3z"/>
</g>
<g stroke="#0010f7">
<path d="M1385 1061.5l12.5 17-14-0.5-12.5-12z"/>
</g>
<g stroke="#0024ed">
<path d="M1372 1016l13 45.5-14 4.5-13-37z"/>
</g>
<g stroke="#0045dd">
<path d="M1359.5 942l12.5 74-14 13-12.5-69z"/>
</g>
<g stroke="#0071c6">
<path d="M1347 837l12.5 105-14 18-13-104.5z"/>
</g>
<g stroke="#00aaaa">
<path d="M1334 716.5l13 120.5-14.5 18.5-12.5-119.5z"/>
</g>
<g stroke="#00ce98">
<path d="M1321.5 628l12.5 88.5-14 19.5-12.5-89.5z"/>
</g>
<g stroke="#00db92">
<path d="M1308.5 604.5l13 23.5-14 18.5-13-21.5z"/>
</g>
<g stroke="#00bea0">
<path d="M1296 670.5l12.5-66-14 20.5-12.5 63z"/>
</g>
<g stroke="#0092b6">
<path d="M1283.5 784.5l12.5-114-14 17.5-13 121z"/>
</g>
<g stroke="#005dd0">
<path d="M1270.5 909.5l13-125-14.5 24.5-12.5 125.5z"/>
</g>
<g stroke="#0035e5">
<path d="M1258 1006.5l12.5-97-14 25-13 90z"/>
</g>
<g stroke="#0018f3">
<path d="M1245 1081l13-74.5-14.5 18-12.5 60.5z"/>
</g>
<g stroke="#0008fb">
<path d="M1232.5 1119l12.5-38-14 4-12.5 33z"/>
</g>
<g stroke="#0004fd">
<path d="M1219.5 1134.5l13-15.5-14-1-13 11.5z"/>
<path d="M1207 1141.5l12.5-7-14-5-12.5 7z"/>
</g>
<g stroke="#0000ff">
<path d="M1194.5 1148l12.5-6.5-14-5-13 5z"/>
<path d="M1181.5 1154l13-6-14.5-6.5-12.5 6z"/>
<path d="M1169 1156.5l12.5-2.5-14-6.5-13 3.5z"/>
<path d="M1156 1160l13-3.5-14.5-5.5-12.5 3.5z"/>
<path d="M1143.5 1162l12.5-2-14-5.5-12.5 1z"/>
<path d="M1130.5 1167l13-5-14-6.5-13 5.5z"/>
<path d="M1118 1170l12.5-3-14-6-12.5 2.5z"/>
<path d="M1105.5 1174l12.5-4-14-6.5-13 3.5z"/>
<path d="M1092.5 1178.5l13-4.5-14.5-7-12.5 5z"/>
<path d="M1080 1182l12.5-3.5-14-6.5-12.5 3.5z"/>
<path d="M1067 1185l13-3-14-6.5-13 0.5z"/>
<path d="M1054.5 1185.5l12.5-0.5-14-9-12.5 6z"/>
<path d="M1041.5 1192.5l13-7-14-3.5-13 0.5z"/>
<path d="M1029 1192.5l12.5 0-14-10-12.5 4.5z"/>
<path d="M1016.5 1198l12.5-5.5-14-5.5-13 6z"/>
<path d="M1003.5 1200.5l13-2.5-14.5-5-12.5 1.5z"/>
<path d="M991 1205l12.5-4.5-14-6-12.5 4.5z"/>
</g>
<g stroke="#0004fd">
<path d="M978 1204l13 1-14-6-13 4.5z"/>
</g>
<g stroke="#0000ff">
<path d="M965.5 1211l12.5-7-14-0.5-12.5 0z"/>
<path d="M953 1215l12.5-4-14-7.5-13 6.5z"/>
<path d="M940 1218.5l13-3.5-14.5-5-12.5 3.5z"/>
<path d="M927.5 1222l12.5-3.5-14-5-13 2.5z"/>
<path d="M914.5 1227.5l13-5.5-14.5-6-12.5 1z"/>
<path d="M902 1228.5l12.5-1-14-10.5-12.5 7z"/>
<path d="M889 1233l13-4.5-14-4.5-13 2.5z"/>
<path d="M876.5 1236l12.5-3-14-6.5-12.5 4z"/>
<path d="M864 1239.5l12.5-3.5-14-5.5-13 2.5z"/>
<path d="M851 1242.5l13-3-14.5-6.5-12.5 3.5z"/>
<path d="M838.5 1248l12.5-5.5-14-6-13 3.5z"/>
<path d="M825.5 1249.5l13-1.5-14.5-8-12.5 4.5z"/>
<path d="M813 1255.5l12.5-6-14-5-12.5 4z"/>
<path d="M800 1256.5l13-1-14-7-13 3.5z"/>
<path d="M787.5 1262.5l12.5-6-14-4.5-12.5 3.5z"/>
<path d="M775 1263.5l12.5-1-14-7-13 2z"/>
<path d="M1691.5 1022l12.5-1.5-14-7-12.5 4z"/>
<path d="M1678.5 1023.5l13-1.5-14-4.5-13 1z"/>
<path d="M1666 1030.5l12.5-7-14-5-12.5 6z"/>
<path d="M1653.5 1032l12.5-1.5-14-6-13 2.5z"/>
<path d="M1640.5 1035.5l13-3.5-14.5-5-12.5 3z"/>
<path d="M1628 1040l12.5-4.5-14-5.5-12.5 2z"/>
<path d="M1615 1045l13-5-14-8-13 6.5z"/>
<path d="M1602.5 1046.5l12.5-1.5-14-6.5-12.5 0.5z"/>
<path d="M1590 1051l12.5-4.5-14-7.5-13 5z"/>
<path d="M1577 1055.5l13-4.5-14.5-7-12.5 5z"/>
<path d="M1564.5 1058.5l12.5-3-14-6.5-13 2z"/>
<path d="M1551.5 1061.5l13-3-14.5-7.5-12.5 3.5z"/>
<path d="M1539 1066l12.5-4.5-14-7-12.5 3z"/>
<path d="M1526 1069.5l13-3.5-14-8.5-13 4.5z"/>
<path d="M1513.5 1070l12.5-0.5-14-7.5-12.5 3z"/>
<path d="M1501 1074.5l12.5-4.5-14-5-13 4.5z"/>
<path d="M1488 1079.5l13-5-14.5-5-12.5 2z"/>
<path d="M1475.5 1083.5l12.5-4-14-8-13 3z"/>
<path d="M1462.5 1086l13-2.5-14.5-9-12.5 4.5z"/>
<path d="M1450 1088l12.5-2-14-7-12.5 3z"/>
</g>
<g stroke="#0004fd">
<path d="M1437 1088l13 0-14-6-13 3z"/>
<path d="M1424.5 1090l12.5-2-14-3-12.5 0z"/>
</g>
<g stroke="#0008fb">
<path d="M1412 1080l12.5 10-14-5-13-6.5z"/>
</g>
<g stroke="#0014f5">
<path d="M1399 1056l13 24-14.5-1.5-12.5-17z"/>
</g>
<g stroke="#002de9">
<path d="M1386.5 1002.5l12.5 53.5-14 5.5-13-45.5z"/>
</g>
<g stroke="#0051d7">
<path d="M1373.5 920.5l13 82-14.5 13.5-12.5-74z"/>
</g>
<g stroke="#0086bc">
<path d="M1361 803l12.5 117.5-14 21.5-12.5-105z"/>
</g>
<g stroke="#00b6a4">
<path d="M1348 693l13 110-14 34-13-120.5z"/>
</g>
<g stroke="#00db92">
<path d="M1335.5 605l12.5 88-14 23.5-12.5-88.5z"/>
</g>
<g stroke="#00e38e">
<path d="M1323 589.5l12.5 15.5-14 23-13-23.5z"/>
</g>
<g stroke="#00ce98">
<path d="M1310 642.5l13-53-14.5 15-12.5 66z"/>
</g>
<g stroke="#00a2ae">
<path d="M1297.5 755l12.5-112.5-14 28-12.5 114z"/>
</g>
<g stroke="#006dc8">
<path d="M1284.5 883l13-128-14 29.5-13 125z"/>
</g>
<g stroke="#003de1">
<path d="M1272 992.5l12.5-109.5-14 26.5-12.5 97z"/>
</g>
<g stroke="#0020ef">
<path d="M1259.5 1067.5l12.5-75-14 14-13 74.5z"/>
</g>
<g stroke="#0010f7">
<path d="M1246.5 1111.5l13-44-14.5 13.5-12.5 38z"/>
</g>
<g stroke="#0008fb">
<path d="M1234 1133l12.5-21.5-14 7.5-13 15.5z"/>
</g>
<g stroke="#0004fd">
<path d="M1221 1146l13-13-14.5 1.5-12.5 7z"/>
</g>
<g stroke="#0000ff">
<path d="M1208.5 1153l12.5-7-14-4.5-12.5 6.5z"/>
<path d="M1195.5 1158.5l13-5.5-14-5-13 6z"/>
<path d="M1183 1161l12.5-2.5-14-4.5-12.5 2.5z"/>
<path d="M1170.5 1165l12.5-4-14-4.5-13 3.5z"/>
<path d="M1157.5 1170.5l13-5.5-14.5-5-12.5 2z"/>
<path d="M1145 1173.5l12.5-3-14-8.5-13 5z"/>
<path d="M1132 1176.5l13-3-14.5-6.5-12.5 3z"/>
<path d="M1119.5 1179.5l12.5-3-14-6.5-12.5 4z"/>
<path d="M1106.5 1185l13-5.5-14-5.5-13 4.5z"/>
<path d="M1094 1187l12.5-2-14-6.5-12.5 3.5z"/>
<path d="M1081.5 1190.5l12.5-3.5-14-5-13 3z"/>
<path d="M1068.5 1193l13-2.5-14.5-5.5-12.5 0.5z"/>
<path d="M1056 1197.5l12.5-4.5-14-7.5-13 7z"/>
<path d="M1043 1202.5l13-5-14.5-5-12.5 0z"/>
<path d="M1030.5 1204l12.5-1.5-14-10-12.5 5.5z"/>
<path d="M1017.5 1208l13-4-14-6-13 2.5z"/>
<path d="M1005 1211.5l12.5-3.5-14-7.5-12.5 4.5z"/>
<path d="M992.5 1213l12.5-1.5-14-6.5-13-1z"/>
<path d="M979.5 1220l13-7-14.5-9-12.5 7z"/>
<path d="M967 1221.5l12.5-1.5-14-9-12.5 4z"/>
<path d="M954 1224l13-2.5-14-6.5-13 3.5z"/>
<path d="M941.5 1227l12.5-3-14-5.5-12.5 3.5z"/>
<path d="M928.5 1234l13-7-14-5-13 5.5z"/>
<path d="M916 1235.5l12.5-1.5-14-6.5-12.5 1z"/>
<path d="M903.5 1241l12.5-5.5-14-7-13 4.5z"/>
<path d="M890.5 1242l13-1-14.5-8-12.5 3z"/>
<path d="M878 1246l12.5-4-14-6-12.5 3.5z"/>
<path d="M865 1250l13-4-14-6.5-13 3z"/>
</g>
<g stroke="#0004fd">
<path d="M852.5 1249.5l12.5 0.5-14-7.5-12.5 5.5z"/>
</g>
<g stroke="#0000ff">
<path d="M840 1255.5l12.5-6-14-1.5-13 1.5z"/>
<path d="M827 1261l13-5.5-14.5-6-12.5 6z"/>
<path d="M814.5 1265l12.5-4-14-5.5-13 1z"/>
<path d="M801.5 1269l13-4-14.5-8.5-12.5 6z"/>
<path d="M789 1270.5l12.5-1.5-14-6.5-12.5 1z"/>
<path d="M1705.5 1028l13-1-14.5-6.5-12.5 1.5z"/>
<path d="M1693 1032.5l12.5-4.5-14-6-13 1.5z"/>
<path d="M1680 1036.5l13-4-14.5-9-12.5 7z"/>
<path d="M1667.5 1041l12.5-4.5-14-6-12.5 1.5z"/>
<path d="M1654.5 1043l13-2-14-9-13 3.5z"/>
<path d="M1642 1046.5l12.5-3.5-14-7.5-12.5 4.5z"/>
<path d="M1629.5 1051.5l12.5-5-14-6.5-13 5z"/>
<path d="M1616.5 1055l13-3.5-14.5-6.5-12.5 1.5z"/>
<path d="M1604 1056.5l12.5-1.5-14-8.5-12.5 4.5z"/>
<path d="M1591 1059.5l13-3-14-5.5-13 4.5z"/>
<path d="M1578.5 1063l12.5-3.5-14-4-12.5 3z"/>
<path d="M1565.5 1068l13-5-14-4.5-13 3z"/>
<path d="M1553 1072.5l12.5-4.5-14-6.5-12.5 4.5z"/>
<path d="M1540.5 1076l12.5-3.5-14-6.5-13 3.5z"/>
<path d="M1527.5 1076.5l13-0.5-14.5-6.5-12.5 0.5z"/>
<path d="M1515 1081.5l12.5-5-14-6.5-12.5 4.5z"/>
<path d="M1502 1086.5l13-5-14-7-13 5z"/>
<path d="M1489.5 1088l12.5-1.5-14-7-12.5 4z"/>
<path d="M1477 1092.5l12.5-4.5-14-4.5-13 2.5z"/>
<path d="M1464 1094l13-1.5-14.5-6.5-12.5 2z"/>
</g>
<g stroke="#0004fd">
<path d="M1451.5 1093.5l12.5 0.5-14-6-13 0z"/>
<path d="M1438.5 1090l13 3.5-14.5-5.5-12.5 2z"/>
</g>
<g stroke="#000cf9">
<path d="M1426 1080l12.5 10-14 0-12.5-10z"/>
</g>
<g stroke="#0020ef">
<path d="M1413 1039l13 41-14 0-13-24z"/>
</g>
<g stroke="#0039e3">
<path d="M1400.5 986l12.5 53-14 17-12.5-53.5z"/>
</g>
<g stroke="#005dd0">
<path d="M1388 898l12.5 88-14 16.5-13-82z"/>
</g>
<g stroke="#0092b6">
<path d="M1375 782.5l13 115.5-14.5 22.5-12.5-117.5z"/>
</g>
<g stroke="#00c29e">
<path d="M1362.5 667.5l12.5 115-14 20.5-13-110z"/>
</g>
<g stroke="#00e78c">
<path d="M1349.5 586l13 81.5-14.5 25.5-12.5-88z"/>
</g>
<g stroke="#00ef88">
<path d="M1337 568.5l12.5 17.5-14 19-12.5-15.5z"/>
</g>
<g stroke="#00d794">
<path d="M1324 632l13-63.5-14 21-13 53z"/>
</g>
<g stroke="#00aaaa">
<path d="M1311.5 734.5l12.5-102.5-14 10.5-12.5 112.5z"/>
</g>
<g stroke="#0079c2">
<path d="M1299 858.5l12.5-124-14 20.5-13 128z"/>
</g>
<g stroke="#0049db">
<path d="M1286 972l13-113.5-14.5 24.5-12.5 109.5z"/>
</g>
<g stroke="#0028eb">
<path d="M1273.5 1053.5l12.5-81.5-14 20.5-12.5 75z"/>
</g>
<g stroke="#0014f5">
<path d="M1260.5 1105l13-51.5-14 14-13 44z"/>
</g>
<g stroke="#000cf9">
<path d="M1248 1132.5l12.5-27.5-14 6.5-12.5 21.5z"/>
</g>
<g stroke="#0004fd">
<path d="M1235 1150.5l13-18-14 0.5-13 13z"/>
<path d="M1222.5 1159l12.5-8.5-14-4.5-12.5 7z"/>
</g>
<g stroke="#0000ff">
<path d="M1210 1164.5l12.5-5.5-14-6-13 5.5z"/>
<path d="M1197 1169.5l13-5-14.5-6-12.5 2.5z"/>
<path d="M1184.5 1173l12.5-3.5-14-8.5-12.5 4z"/>
<path d="M1171.5 1177l13-4-14-8-13 5.5z"/>
<path d="M1159 1181l12.5-4-14-6.5-12.5 3z"/>
<path d="M1146.5 1181l12.5 0-14-7.5-13 3z"/>
<path d="M1133.5 1185l13-4-14.5-4.5-12.5 3z"/>
<path d="M1121 1190l12.5-5-14-5.5-13 5.5z"/>
<path d="M1108 1194l13-4-14.5-5-12.5 2z"/>
<path d="M1095.5 1198.5l12.5-4.5-14-7-12.5 3.5z"/>
<path d="M1082.5 1201.5l13-3-14-8-13 2.5z"/>
<path d="M1070 1203l12.5-1.5-14-8.5-12.5 4.5z"/>
<path d="M1057.5 1207l12.5-4-14-5.5-13 5z"/>
<path d="M1044.5 1210.5l13-3.5-14.5-4.5-12.5 1.5z"/>
<path d="M1032 1216l12.5-5.5-14-6.5-13 4z"/>
<path d="M1019 1218l13-2-14.5-8-12.5 3.5z"/>
<path d="M1006.5 1219l12.5-1-14-6.5-12.5 1.5z"/>
<path d="M993.5 1225.5l13-6.5-14-6-13 7z"/>
<path d="M981 1230l12.5-4.5-14-5.5-12.5 1.5z"/>
<path d="M968.5 1233.5l12.5-3.5-14-8.5-13 2.5z"/>
<path d="M955.5 1234.5l13-1-14.5-9.5-12.5 3z"/>
<path d="M943 1240.5l12.5-6-14-7.5-13 7z"/>
<path d="M930 1243l13-2.5-14.5-6.5-12.5 1.5z"/>
<path d="M917.5 1246l12.5-3-14-7.5-12.5 5.5z"/>
<path d="M904.5 1251l13-5-14-5-13 1z"/>
<path d="M892 1254.5l12.5-3.5-14-9-12.5 4z"/>
<path d="M879.5 1258l12.5-3.5-14-8.5-13 4z"/>
<path d="M866.5 1260l13-2-14.5-8-12.5-0.5z"/>
<path d="M854 1262.5l12.5-2.5-14-10.5-12.5 6z"/>
<path d="M841 1267.5l13-5-14-7-13 5.5z"/>
<path d="M828.5 1269.5l12.5-2-14-6.5-12.5 4z"/>
<path d="M816 1275.5l12.5-6-14-4.5-13 4z"/>
<path d="M803 1279l13-3.5-14.5-6.5-12.5 1.5z"/>
<path d="M1719.5 1037l13-4-14-6-13 1z"/>
<path d="M1707 1040l12.5-3-14-9-12.5 4.5z"/>
<path d="M1694.5 1042l12.5-2-14-7.5-13 4z"/>
<path d="M1681.5 1047.5l13-5.5-14.5-5.5-12.5 4.5z"/>
<path d="M1669 1049l12.5-1.5-14-6.5-13 2z"/>
<path d="M1656 1053l13-4-14.5-6-12.5 3.5z"/>
<path d="M1643.5 1057.5l12.5-4.5-14-6.5-12.5 5z"/>
<path d="M1630.5 1060l13-2.5-14-6-13 3.5z"/>
<path d="M1618 1065l12.5-5-14-5-12.5 1.5z"/>
<path d="M1605.5 1065l12.5 0-14-8.5-13 3z"/>
<path d="M1592.5 1072l13-7-14.5-5.5-12.5 3.5z"/>
<path d="M1580 1073.5l12.5-1.5-14-9-13 5z"/>
<path d="M1567 1079l13-5.5-14.5-5.5-12.5 4.5z"/>
<path d="M1554.5 1081l12.5-2-14-6.5-12.5 3.5z"/>
<path d="M1541.5 1083.5l13-2.5-14-5-13 0.5z"/>
<path d="M1529 1089.5l12.5-6-14-7-12.5 5z"/>
<path d="M1516.5 1092.5l12.5-3-14-8-13 5z"/>
<path d="M1503.5 1093l13-0.5-14.5-6-12.5 1.5z"/>
<path d="M1491 1099.5l12.5-6.5-14-5-12.5 4.5z"/>
</g>
<g stroke="#0004fd">
<path d="M1478 1097.5l13 2-14-7-13 1.5z"/>
<path d="M1465.5 1097l12.5 0.5-14-3.5-12.5-0.5z"/>
</g>
<g stroke="#0008fb">
<path d="M1453 1091l12.5 6-14-3.5-13-3.5z"/>
</g>
<g stroke="#0014f5">
<path d="M1440 1065l13 26-14.5-1-12.5-10z"/>
</g>
<g stroke="#0028eb">
<path d="M1427.5 1024l12.5 41-14 15-13-41z"/>
</g>
<g stroke="#0045dd">
<path d="M1414.5 963.5l13 60.5-14.5 15-12.5-53z"/>
</g>
<g stroke="#006dc8">
<path d="M1402 864.5l12.5 99-14 22.5-12.5-88z"/>
</g>
<g stroke="#00a2ae">
<path d="M1389 748.5l13 116-14 33.5-13-115.5z"/>
</g>
<g stroke="#00ce98">
<path d="M1376.5 642l12.5 106.5-14 34-12.5-115z"/>
</g>
<g stroke="#00f386">
<path d="M1364 568.5l12.5 73.5-14 25.5-13-81.5z"/>
</g>
<g stroke="#00f784">
<path d="M1351 561l13 7.5-14.5 17.5-12.5-17.5z"/>
</g>
<g stroke="#00e38e">
<path d="M1338.5 607.5l12.5-46.5-14 7.5-13 63.5z"/>
</g>
<g stroke="#00baa2">
<path d="M1325.5 710.5l13-103-14.5 24.5-12.5 102.5z"/>
</g>
<g stroke="#008aba">
<path d="M1313 826.5l12.5-116-14 24-12.5 124z"/>
</g>
<g stroke="#005dd0">
<path d="M1300 938l13-111.5-14 32-13 113.5z"/>
</g>
<g stroke="#0035e5">
<path d="M1287.5 1028l12.5-90-14 34-12.5 81.5z"/>
</g>
<g stroke="#001cf1">
<path d="M1275 1091l12.5-63-14 25.5-13 51.5z"/>
</g>
<g stroke="#000cf9">
<path d="M1262 1131.5l13-40.5-14.5 14-12.5 27.5z"/>
</g>
<g stroke="#0004fd">
<path d="M1249.5 1153l12.5-21.5-14 1-13 18z"/>
<path d="M1236.5 1164.5l13-11.5-14.5-2.5-12.5 8.5z"/>
</g>
<g stroke="#0000ff">
<path d="M1224 1171.5l12.5-7-14-5.5-12.5 5.5z"/>
<path d="M1211 1175.5l13-4-14-7-13 5z"/>
<path d="M1198.5 1180l12.5-4.5-14-6-12.5 3.5z"/>
<path d="M1186 1182l12.5-2-14-7-13 4z"/>
<path d="M1173 1184.5l13-2.5-14.5-5-12.5 4z"/>
<path d="M1160.5 1191l12.5-6.5-14-3.5-12.5 0z"/>
<path d="M1147.5 1194.5l13-3.5-14-10-13 4z"/>
<path d="M1135 1197l12.5-2.5-14-9.5-12.5 5z"/>
<path d="M1122 1201.5l13-4.5-14-7-13 4z"/>
<path d="M1109.5 1201.5l12.5 0-14-7.5-12.5 4.5z"/>
<path d="M1097 1208l12.5-6.5-14-3-13 3z"/>
<path d="M1084 1212l13-4-14.5-6.5-12.5 1.5z"/>
<path d="M1071.5 1215l12.5-3-14-9-12.5 4z"/>
<path d="M1058.5 1219l13-4-14-8-13 3.5z"/>
<path d="M1046 1222l12.5-3-14-8.5-12.5 5.5z"/>
<path d="M1033.5 1223.5l12.5-1.5-14-6-13 2z"/>
<path d="M1020.5 1229l13-5.5-14.5-5.5-12.5 1z"/>
<path d="M1008 1231.5l12.5-2.5-14-10-13 6.5z"/>
<path d="M995 1234.5l13-3-14.5-6-12.5 4.5z"/>
<path d="M982.5 1239.5l12.5-5-14-4.5-12.5 3.5z"/>
<path d="M969.5 1242l13-2.5-14-6-13 1z"/>
<path d="M957 1244.5l12.5-2.5-14-7.5-12.5 6z"/>
<path d="M944.5 1249.5l12.5-5-14-4-13 2.5z"/>
<path d="M931.5 1252.5l13-3-14.5-6.5-12.5 3z"/>
<path d="M919 1257l12.5-4.5-14-6.5-13 5z"/>
<path d="M906 1259l13-2-14.5-6-12.5 3.5z"/>
<path d="M893.5 1264.5l12.5-5.5-14-4.5-12.5 3.5z"/>
<path d="M880.5 1266l13-1.5-14-6.5-13 2z"/>
<path d="M868 1268l12.5-2-14-6-12.5 2.5z"/>
<path d="M855.5 1274.5l12.5-6.5-14-5.5-13 5z"/>
<path d="M842.5 1275l13-0.5-14.5-7-12.5 2z"/>
<path d="M830 1279.5l12.5-4.5-14-5.5-12.5 6z"/>
<path d="M817 1283l13-3.5-14-4-13 3.5z"/>
<path d="M1734 1043.5l12.5-4-14-6.5-13 4z"/>
<path d="M1721 1046l13-2.5-14.5-6.5-12.5 3z"/>
<path d="M1708.5 1049.5l12.5-3.5-14-6-12.5 2z"/>
<path d="M1695.5 1053l13-3.5-14-7.5-13 5.5z"/>
<path d="M1683 1057.5l12.5-4.5-14-5.5-12.5 1.5z"/>
<path d="M1670.5 1058.5l12.5-1-14-8.5-13 4z"/>
<path d="M1657.5 1062.5l13-4-14.5-5.5-12.5 4.5z"/>
<path d="M1645 1068l12.5-5.5-14-5-13 2.5z"/>
<path d="M1632 1068.5l13-0.5-14.5-8-12.5 5z"/>
<path d="M1619.5 1073l12.5-4.5-14-3.5-12.5 0z"/>
<path d="M1606.5 1078.5l13-5.5-14-8-13 7z"/>
<path d="M1594 1082l12.5-3.5-14-6.5-12.5 1.5z"/>
<path d="M1581.5 1085.5l12.5-3.5-14-8.5-13 5.5z"/>
<path d="M1568.5 1088.5l13-3-14.5-6.5-12.5 2z"/>
<path d="M1556 1092.5l12.5-4-14-7.5-13 2.5z"/>
<path d="M1543 1095l13-2.5-14.5-9-12.5 6z"/>
<path d="M1530.5 1096.5l12.5-1.5-14-5.5-12.5 3z"/>
<path d="M1517.5 1101l13-4.5-14-4-13 0.5z"/>
<path d="M1505 1103l12.5-2-14-8-12.5 6.5z"/>
</g>
<g stroke="#0004fd">
<path d="M1492.5 1101.5l12.5 1.5-14-3.5-13-2z"/>
</g>
<g stroke="#0008fb">
<path d="M1479.5 1097l13 4.5-14.5-4-12.5-0.5z"/>
</g>
<g stroke="#0010f7">
<path d="M1467 1079.5l12.5 17.5-14 0-12.5-6z"/>
</g>
<g stroke="#001cf1">
<path d="M1454 1051l13 28.5-14 11.5-13-26z"/>
</g>
<g stroke="#0035e5">
<path d="M1441.5 1000l12.5 51-14 14-12.5-41z"/>
</g>
<g stroke="#0055d4">
<path d="M1428.5 926l13 74-14 24-13-60.5z"/>
</g>
<g stroke="#007dc0">
<path d="M1416 833.5l12.5 92.5-14 37.5-12.5-99z"/>
</g>
<g stroke="#00aea8">
<path d="M1403.5 725l12.5 108.5-14 31-13-116z"/>
</g>
<g stroke="#00db92">
<path d="M1390.5 628.5l13 96.5-14.5 23.5-12.5-106.5z"/>
</g>
<g stroke="#00f784">
<path d="M1378 564l12.5 64.5-14 13.5-12.5-73.5z"/>
</g>
<g stroke="#00ff80">
<path d="M1365 548.5l13 15.5-14 4.5-13-7.5z"/>
</g>
<g stroke="#00ef88">
<path d="M1352.5 587l12.5-38.5-14 12.5-12.5 46.5z"/>
</g>
<g stroke="#00ca9a">
<path d="M1340 680.5l12.5-93.5-14 20.5-13 103z"/>
</g>
<g stroke="#009ab2">
<path d="M1327 795l13-114.5-14.5 30-12.5 116z"/>
</g>
<g stroke="#0069ca">
<path d="M1314.5 910l12.5-115-14 31.5-13 111.5z"/>
</g>
<g stroke="#0045dd">
<path d="M1301.5 998.5l13-88.5-14.5 28-12.5 90z"/>
</g>
<g stroke="#0028eb">
<path d="M1289 1070l12.5-71.5-14 29.5-12.5 63z"/>
</g>
<g stroke="#0014f5">
<path d="M1276 1118.5l13-48.5-14 21-13 40.5z"/>
</g>
<g stroke="#000cf9">
<path d="M1263.5 1149l12.5-30.5-14 13-12.5 21.5z"/>
</g>
<g stroke="#0004fd">
<path d="M1251 1164l12.5-15-14 4-13 11.5z"/>
<path d="M1238 1173l13-9-14.5 0.5-12.5 7z"/>
<path d="M1225.5 1177.5l12.5-4.5-14-1.5-13 4z"/>
</g>
<g stroke="#0000ff">
<path d="M1212.5 1184l13-6.5-14.5-2-12.5 4.5z"/>
<path d="M1200 1189l12.5-5-14-4-12.5 2z"/>
<path d="M1187 1193.5l13-4.5-14-7-13 2.5z"/>
<path d="M1174.5 1197.5l12.5-4-14-9-12.5 6.5z"/>
<path d="M1162 1200.5l12.5-3-14-6.5-13 3.5z"/>
<path d="M1149 1203.5l13-3-14.5-6-12.5 2.5z"/>
<path d="M1136.5 1208l12.5-4.5-14-6.5-13 4.5z"/>
<path d="M1123.5 1211.5l13-3.5-14.5-6.5-12.5 0z"/>
<path d="M1111 1213.5l12.5-2-14-10-12.5 6.5z"/>
<path d="M1098 1218l13-4.5-14-5.5-13 4z"/>
<path d="M1085.5 1222l12.5-4-14-6-12.5 3z"/>
<path d="M1073 1225.5l12.5-3.5-14-7-13 4z"/>
<path d="M1060 1228l13-2.5-14.5-6.5-12.5 3z"/>
<path d="M1047.5 1232.5l12.5-4.5-14-6-12.5 1.5z"/>
<path d="M1034.5 1235l13-2.5-14-9-13 5.5z"/>
<path d="M1022 1239.5l12.5-4.5-14-6-12.5 2.5z"/>
<path d="M1009.5 1243l12.5-3.5-14-8-13 3z"/>
<path d="M996.5 1246.5l13-3.5-14.5-8.5-12.5 5z"/>
<path d="M984 1247.5l12.5-1-14-7-13 2.5z"/>
<path d="M971 1252.5l13-5-14.5-5.5-12.5 2.5z"/>
<path d="M958.5 1256.5l12.5-4-14-8-12.5 5z"/>
<path d="M945.5 1259l13-2.5-14-7-13 3z"/>
<path d="M933 1264l12.5-5-14-6.5-12.5 4.5z"/>
<path d="M920.5 1264.5l12.5-0.5-14-7-13 2z"/>
<path d="M907.5 1270l13-5.5-14.5-5.5-12.5 5.5z"/>
<path d="M895 1272l12.5-2-14-5.5-13 1.5z"/>
<path d="M882 1277.5l13-5.5-14.5-6-12.5 2z"/>
<path d="M869.5 1279l12.5-1.5-14-9.5-12.5 6.5z"/>
<path d="M856.5 1285l13-6-14-4.5-13 0.5z"/>
<path d="M844 1287l12.5-2-14-10-12.5 4.5z"/>
<path d="M831.5 1291.5l12.5-4.5-14-7.5-13 3.5z"/>
<path d="M1748 1049.5l12.5-4-14-6-12.5 4z"/>
<path d="M1735 1054l13-4.5-14-6-13 2.5z"/>
<path d="M1722.5 1054.5l12.5-0.5-14-8-12.5 3.5z"/>
<path d="M1710 1060l12.5-5.5-14-5-13 3.5z"/>
<path d="M1697 1063l13-3-14.5-7-12.5 4.5z"/>
<path d="M1684.5 1067.5l12.5-4.5-14-5.5-12.5 1z"/>
<path d="M1671.5 1071.5l13-4-14-9-13 4z"/>
<path d="M1659 1075l12.5-3.5-14-9-12.5 5.5z"/>
<path d="M1646.5 1077l12.5-2-14-7-13 0.5z"/>
<path d="M1633.5 1080.5l13-3.5-14.5-8.5-12.5 4.5z"/>
<path d="M1621 1083l12.5-2.5-14-7.5-13 5.5z"/>
<path d="M1608 1087.5l13-4.5-14.5-4.5-12.5 3.5z"/>
<path d="M1595.5 1091l12.5-3.5-14-5.5-12.5 3.5z"/>
<path d="M1582.5 1096l13-5-14-5.5-13 3z"/>
<path d="M1570 1098l12.5-2-14-7.5-12.5 4z"/>
<path d="M1557.5 1100.5l12.5-2.5-14-5.5-13 2.5z"/>
<path d="M1544.5 1106.5l13-6-14.5-5.5-12.5 1.5z"/>
</g>
<g stroke="#0004fd">
<path d="M1532 1105l12.5 1.5-14-10-13 4.5z"/>
<path d="M1519 1107.5l13-2.5-14.5-4-12.5 2z"/>
</g>
<g stroke="#0008fb">
<path d="M1506.5 1098l12.5 9.5-14-4.5-12.5-1.5z"/>
</g>
<g stroke="#0010f7">
<path d="M1493.5 1086l13 12-14 3.5-13-4.5z"/>
</g>
<g stroke="#0018f3">
<path d="M1481 1065l12.5 21-14 11-12.5-17.5z"/>
</g>
<g stroke="#0028eb">
<path d="M1468.5 1034l12.5 31-14 14.5-13-28.5z"/>
</g>
<g stroke="#0045dd">
<path d="M1455.5 970.5l13 63.5-14.5 17-12.5-51z"/>
</g>
<g stroke="#0065cc">
<path d="M1443 895l12.5 75.5-14 29.5-13-74z"/>
</g>
<g stroke="#0092b6">
<path d="M1430 797l13 98-14.5 31-12.5-92.5z"/>
</g>
<g stroke="#00baa2">
<path d="M1417.5 701.5l12.5 95.5-14 36.5-12.5-108.5z"/>
</g>
<g stroke="#00e38e">
<path d="M1404.5 615l13 86.5-14 23.5-13-96.5z"/>
</g>
<g stroke="#00f784">
<path d="M1392 568l12.5 47-14 13.5-12.5-64.5z"/>
</g>
<g stroke="#00ff80">
<path d="M1379.5 552.5l12.5 15.5-14-4-13-15.5z"/>
</g>
<g stroke="#00f386">
<path d="M1366.5 581l13-28.5-14.5-4-12.5 38.5z"/>
</g>
<g stroke="#00d296">
<path d="M1354 665l12.5-84-14 6-12.5 93.5z"/>
</g>
<g stroke="#00a6ac">
<path d="M1341 772l13-107-14 15.5-13 114.5z"/>
</g>
<g stroke="#007dc0">
<path d="M1328.5 869.5l12.5-97.5-14 23-12.5 115z"/>
</g>
<g stroke="#0055d4">
<path d="M1315.5 965l13-95.5-14 40.5-13 88.5z"/>
</g>
<g stroke="#0039e3">
<path d="M1303 1043l12.5-78-14 33.5-12.5 71.5z"/>
</g>
<g stroke="#0020ef">
<path d="M1290.5 1097l12.5-54-14 27-13 48.5z"/>
</g>
<g stroke="#0014f5">
<path d="M1277.5 1137l13-40-14.5 21.5-12.5 30.5z"/>
</g>
<g stroke="#0008fb">
<path d="M1265 1164l12.5-27-14 12-12.5 15z"/>
</g>
<g stroke="#0004fd">
<path d="M1252 1177l13-13-14 0-13 9z"/>
<path d="M1239.5 1182.5l12.5-5.5-14-4-12.5 4.5z"/>
<path d="M1227 1189l12.5-6.5-14-5-13 6.5z"/>
</g>
<g stroke="#0000ff">
<path d="M1214 1194.5l13-5.5-14.5-5-12.5 5z"/>
<path d="M1201.5 1196.5l12.5-2-14-5.5-13 4.5z"/>
<path d="M1188.5 1204.5l13-8-14.5-3-12.5 4z"/>
<path d="M1176 1206.5l12.5-2-14-7-12.5 3z"/>
<path d="M1163 1211.5l13-5-14-6-13 3z"/>
<path d="M1150.5 1213.5l12.5-2-14-8-12.5 4.5z"/>
<path d="M1138 1218.5l12.5-5-14-5.5-13 3.5z"/>
<path d="M1125 1221l13-2.5-14.5-7-12.5 2z"/>
<path d="M1112.5 1224.5l12.5-3.5-14-7.5-13 4.5z"/>
<path d="M1099.5 1229l13-4.5-14.5-6.5-12.5 4z"/>
<path d="M1087 1230.5l12.5-1.5-14-7-12.5 3.5z"/>
<path d="M1074 1234.5l13-4-14-5-13 2.5z"/>
<path d="M1061.5 1236l12.5-1.5-14-6.5-12.5 4.5z"/>
<path d="M1049 1242.5l12.5-6.5-14-3.5-13 2.5z"/>
<path d="M1036 1244.5l13-2-14.5-7.5-12.5 4.5z"/>
<path d="M1023.5 1249l12.5-4.5-14-5-12.5 3.5z"/>
<path d="M1010.5 1253.5l13-4.5-14-6-13 3.5z"/>
<path d="M998 1257l12.5-3.5-14-7-12.5 1z"/>
<path d="M985 1257.5l13-0.5-14-9.5-13 5z"/>
<path d="M972.5 1263.5l12.5-6-14-5-12.5 4z"/>
<path d="M960 1267.5l12.5-4-14-7-13 2.5z"/>
<path d="M947 1271l13-3.5-14.5-8.5-12.5 5z"/>
<path d="M934.5 1272l12.5-1-14-7-12.5 0.5z"/>
<path d="M921.5 1274.5l13-2.5-14-7.5-13 5.5z"/>
<path d="M909 1281.5l12.5-7-14-4.5-12.5 2z"/>
<path d="M896.5 1283l12.5-1.5-14-9.5-13 5.5z"/>
<path d="M883.5 1288.5l13-5.5-14.5-5.5-12.5 1.5z"/>
<path d="M871 1292l12.5-3.5-14-9.5-13 6z"/>
<path d="M858 1295l13-3-14.5-7-12.5 2z"/>
<path d="M845.5 1298.5l12.5-3.5-14-8-12.5 4.5z"/>
<path d="M1762 1053.5l13 0-14.5-8-12.5 4z"/>
<path d="M1749.5 1057.5l12.5-4-14-4-13 4.5z"/>
<path d="M1736.5 1062.5l13-5-14.5-3.5-12.5 0.5z"/>
<path d="M1724 1066.5l12.5-4-14-8-12.5 5.5z"/>
<path d="M1711 1070l13-3.5-14-6.5-13 3z"/>
<path d="M1698.5 1070.5l12.5-0.5-14-7-12.5 4.5z"/>
<path d="M1686 1074.5l12.5-4-14-3-13 4z"/>
<path d="M1673 1081.5l13-7-14.5-3-12.5 3.5z"/>
<path d="M1660.5 1083l12.5-1.5-14-6.5-12.5 2z"/>
<path d="M1647.5 1087.5l13-4.5-14-6-13 3.5z"/>
<path d="M1635 1090.5l12.5-3-14-7-12.5 2.5z"/>
<path d="M1622 1095l13-4.5-14-7.5-13 4.5z"/>
<path d="M1609.5 1097.5l12.5-2.5-14-7.5-12.5 3.5z"/>
<path d="M1597 1102.5l12.5-5-14-6.5-13 5z"/>
<path d="M1584 1102.5l13 0-14.5-6.5-12.5 2z"/>
<path d="M1571.5 1106l12.5-3.5-14-4.5-12.5 2.5z"/>
</g>
<g stroke="#0004fd">
<path d="M1558.5 1106l13 0-14-5.5-13 6z"/>
<path d="M1546 1105l12.5 1-14 0.5-12.5-1.5z"/>
</g>
<g stroke="#0008fb">
<path d="M1533.5 1098.5l12.5 6.5-14 0-13 2.5z"/>
</g>
<g stroke="#000cf9">
<path d="M1520.5 1092.5l13 6-14.5 9-12.5-9.5z"/>
</g>
<g stroke="#0018f3">
<path d="M1508 1069.5l12.5 23-14 5.5-13-12z"/>
</g>
<g stroke="#0024ed">
<path d="M1495 1043l13 26.5-14.5 16.5-12.5-21z"/>
</g>
<g stroke="#003de1">
<path d="M1482.5 993.5l12.5 49.5-14 22-12.5-31z"/>
</g>
<g stroke="#0059d2">
<path d="M1469.5 929.5l13 64-14 40.5-13-63.5z"/>
</g>
<g stroke="#0079c2">
<path d="M1457 858.5l12.5 71-14 41-12.5-75.5z"/>
</g>
<g stroke="#00a2ae">
<path d="M1444.5 762.5l12.5 96-14 36.5-13-98z"/>
</g>
<g stroke="#00c69c">
<path d="M1431.5 682.5l13 80-14.5 34.5-12.5-95.5z"/>
</g>
<g stroke="#00e78c">
<path d="M1419 610l12.5 72.5-14 19-13-86.5z"/>
</g>
<g stroke="#00f784">
<path d="M1406 571.5l13 38.5-14.5 5-12.5-47z"/>
</g>
<g stroke="#00ff80">
<path d="M1393.5 558.5l12.5 13-14-3.5-12.5-15.5z"/>
</g>
<g stroke="#00f386">
<path d="M1380.5 595l13-36.5-14-6-13 28.5z"/>
</g>
<g stroke="#00db92">
<path d="M1368 656l12.5-61-14-14-12.5 84z"/>
</g>
<g stroke="#00baa2">
<path d="M1355.5 734l12.5-78-14 9-13 107z"/>
</g>
<g stroke="#008eb8">
<path d="M1342.5 839.5l13-105.5-14.5 38-12.5 97.5z"/>
</g>
<g stroke="#0069ca">
<path d="M1330 929.5l12.5-90-14 30-13 95.5z"/>
</g>
<g stroke="#0049db">
<path d="M1317 1006l13-76.5-14.5 35.5-12.5 78z"/>
</g>
<g stroke="#0031e7">
<path d="M1304.5 1070l12.5-64-14 37-12.5 54z"/>
</g>
<g stroke="#0020ef">
<path d="M1291.5 1113l13-43-14 27-13 40z"/>
</g>
<g stroke="#0010f7">
<path d="M1279 1147.5l12.5-34.5-14 24-12.5 27z"/>
</g>
<g stroke="#0008fb">
<path d="M1266.5 1172.5l12.5-25-14 16.5-13 13z"/>
<path d="M1253.5 1179.5l13-7-14.5 4.5-12.5 5.5z"/>
</g>
<g stroke="#0004fd">
<path d="M1241 1192l12.5-12.5-14 3-12.5 6.5z"/>
<path d="M1228 1197.5l13-5.5-14-3-13 5.5z"/>
<path d="M1215.5 1201.5l12.5-4-14-3-12.5 2z"/>
</g>
<g stroke="#0000ff">
<path d="M1203 1208l12.5-6.5-14-5-13 8z"/>
<path d="M1190 1210.5l13-2.5-14.5-3.5-12.5 2z"/>
<path d="M1177.5 1215l12.5-4.5-14-4-13 5z"/>
<path d="M1164.5 1219.5l13-4.5-14.5-3.5-12.5 2z"/>
<path d="M1152 1222.5l12.5-3-14-6-12.5 5z"/>
<path d="M1139 1224l13-1.5-14-4-13 2.5z"/>
<path d="M1126.5 1231l12.5-7-14-3-12.5 3.5z"/>
<path d="M1114 1235.5l12.5-4.5-14-6.5-13 4.5z"/>
<path d="M1101 1237.5l13-2-14.5-6.5-12.5 1.5z"/>
<path d="M1088.5 1242l12.5-4.5-14-7-13 4z"/>
<path d="M1075.5 1244.5l13-2.5-14.5-7.5-12.5 1.5z"/>
<path d="M1063 1248l12.5-3.5-14-8.5-12.5 6.5z"/>
</g>
<g stroke="#0004fd">
<path d="M1050 1248l13 0-14-5.5-13 2z"/>
</g>
<g stroke="#0000ff">
<path d="M1037.5 1254.5l12.5-6.5-14-3.5-12.5 4.5z"/>
<path d="M1025 1259l12.5-4.5-14-5.5-13 4.5z"/>
<path d="M1012 1261.5l13-2.5-14.5-5.5-12.5 3.5z"/>
<path d="M999.5 1264.5l12.5-3-14-4.5-13 0.5z"/>
<path d="M986.5 1269.5l13-5-14.5-7-12.5 6z"/>
<path d="M974 1272l12.5-2.5-14-6-12.5 4z"/>
<path d="M961 1276l13-4-14-4.5-13 3.5z"/>
<path d="M948.5 1281l12.5-5-14-5-12.5 1z"/>
<path d="M936 1281l12.5 0-14-9-13 2.5z"/>
<path d="M923 1287l13-6-14.5-6.5-12.5 7z"/>
<path d="M910.5 1288l12.5-1-14-5.5-12.5 1.5z"/>
<path d="M897.5 1294.5l13-6.5-14-5-13 5.5z"/>
<path d="M885 1297.5l12.5-3-14-6-12.5 3.5z"/>
<path d="M872 1301.5l13-4-14-5.5-13 3z"/>
<path d="M859.5 1304.5l12.5-3-14-6.5-12.5 3.5z"/>
<path d="M1776 1062.5l13-4-14-5-13 0z"/>
<path d="M1763.5 1064.5l12.5-2-14-9-12.5 4z"/>
<path d="M1751 1069l12.5-4.5-14-7-13 5z"/>
<path d="M1738 1073.5l13-4.5-14.5-6.5-12.5 4z"/>
<path d="M1725.5 1074l12.5-0.5-14-7-13 3.5z"/>
<path d="M1712.5 1080.5l13-6.5-14.5-4-12.5 0.5z"/>
<path d="M1700 1081l12.5-0.5-14-10-12.5 4z"/>
<path d="M1687 1087.5l13-6.5-14-6.5-13 7z"/>
<path d="M1674.5 1090.5l12.5-3-14-6-12.5 1.5z"/>
<path d="M1662 1093l12.5-2.5-14-7.5-13 4.5z"/>
<path d="M1649 1097l13-4-14.5-5.5-12.5 3z"/>
<path d="M1636.5 1098.5l12.5-1.5-14-6.5-13 4.5z"/>
</g>
<g stroke="#0004fd">
<path d="M1623.5 1100.5l13-2-14.5-3.5-12.5 2.5z"/>
<path d="M1611 1103.5l12.5-3-14-3-12.5 5z"/>
<path d="M1598 1105.5l13-2-14-1-13 0z"/>
<path d="M1585.5 1105.5l12.5 0-14-3-12.5 3.5z"/>
</g>
<g stroke="#0008fb">
<path d="M1573 1102.5l12.5 3-14 0.5-13 0z"/>
</g>
<g stroke="#000cf9">
<path d="M1560 1097l13 5.5-14.5 3.5-12.5-1z"/>
</g>
<g stroke="#0010f7">
<path d="M1547.5 1086l12.5 11-14 8-12.5-6.5z"/>
</g>
<g stroke="#001cf1">
<path d="M1534.5 1066.5l13 19.5-14 12.5-13-6z"/>
</g>
<g stroke="#0028eb">
<path d="M1522 1035.5l12.5 31-14 26-12.5-23z"/>
</g>
<g stroke="#003de1">
<path d="M1509.5 994l12.5 41.5-14 34-13-26.5z"/>
</g>
<g stroke="#0051d7">
<path d="M1496.5 951l13 43-14.5 49-12.5-49.5z"/>
</g>
<g stroke="#006dc8">
<path d="M1484 886l12.5 65-14 42.5-13-64z"/>
</g>
<g stroke="#008eb8">
<path d="M1471 818l13 68-14.5 43.5-12.5-71z"/>
</g>
<g stroke="#00aaaa">
<path d="M1458.5 748l12.5 70-14 40.5-12.5-96z"/>
</g>
<g stroke="#00c69c">
<path d="M1445.5 688l13 60-14 14.5-13-80z"/>
</g>
<g stroke="#00df90">
<path d="M1433 633l12.5 55-14-5.5-12.5-72.5z"/>
</g>
<g stroke="#00ef88">
<path d="M1420.5 602.5l12.5 30.5-14-23-13-38.5z"/>
</g>
<g stroke="#00f386">
<path d="M1407.5 594l13 8.5-14.5-31-12.5-13z"/>
</g>
<g stroke="#00eb8a">
<path d="M1395 619l12.5-25-14-35.5-13 36.5z"/>
</g>
<g stroke="#00d794">
<path d="M1382 671.5l13-52.5-14.5-24-12.5 61z"/>
</g>
<g stroke="#00baa2">
<path d="M1369.5 737l12.5-65.5-14-15.5-12.5 78z"/>
</g>
<g stroke="#009ab2">
<path d="M1356.5 816l13-79-14-3-13 105.5z"/>
</g>
<g stroke="#007dc0">
<path d="M1344 887.5l12.5-71.5-14 23.5-12.5 90z"/>
</g>
<g stroke="#0061ce">
<path d="M1331.5 961.5l12.5-74-14 42-13 76.5z"/>
</g>
<g stroke="#0049db">
<path d="M1318.5 1022l13-60.5-14.5 44.5-12.5 64z"/>
</g>
<g stroke="#0035e5">
<path d="M1306 1071.5l12.5-49.5-14 48-13 43z"/>
</g>
<g stroke="#0024ed">
<path d="M1293 1115l13-43.5-14.5 41.5-12.5 34.5z"/>
</g>
<g stroke="#0018f3">
<path d="M1280.5 1145l12.5-30-14 32.5-12.5 25z"/>
</g>
<g stroke="#0010f7">
<path d="M1267.5 1170l13-25-14 27.5-13 7z"/>
</g>
<g stroke="#0008fb">
<path d="M1255 1187.5l12.5-17.5-14 9.5-12.5 12.5z"/>
</g>
<g stroke="#0004fd">
<path d="M1242.5 1200l12.5-12.5-14 4.5-13 5.5z"/>
<path d="M1229.5 1206l13-6-14.5-2.5-12.5 4z"/>
</g>
<g stroke="#0000ff">
<path d="M1217 1213l12.5-7-14-4.5-12.5 6.5z"/>
<path d="M1204 1218l13-5-14-5-13 2.5z"/>
<path d="M1191.5 1223l12.5-5-14-7.5-12.5 4.5z"/>
<path d="M1178.5 1225l13-2-14-8-13 4.5z"/>
<path d="M1166 1229.5l12.5-4.5-14-5.5-12.5 3z"/>
<path d="M1153.5 1235l12.5-5.5-14-7-13 1.5z"/>
<path d="M1140.5 1235.5l13-0.5-14.5-11-12.5 7z"/>
<path d="M1128 1242l12.5-6.5-14-4.5-12.5 4.5z"/>
<path d="M1115 1244.5l13-2.5-14-6.5-13 2z"/>
</g>
<g stroke="#0004fd">
<path d="M1102.5 1244.5l12.5 0-14-7-12.5 4.5z"/>
</g>
<g stroke="#0000ff">
<path d="M1090 1252.5l12.5-8-14-2.5-13 2.5z"/>
<path d="M1077 1255l13-2.5-14.5-8-12.5 3.5z"/>
<path d="M1064.5 1258.5l12.5-3.5-14-7-13 0z"/>
<path d="M1051.5 1263l13-4.5-14.5-10.5-12.5 6.5z"/>
<path d="M1039 1264l12.5-1-14-8.5-12.5 4.5z"/>
<path d="M1026 1269l13-5-14-5-13 2.5z"/>
<path d="M1013.5 1272.5l12.5-3.5-14-7.5-12.5 3z"/>
<path d="M1001 1277l12.5-4.5-14-8-13 5z"/>
<path d="M988 1279l13-2-14.5-7.5-12.5 2.5z"/>
<path d="M975.5 1283l12.5-4-14-7-13 4z"/>
<path d="M962.5 1286.5l13-3.5-14.5-7-12.5 5z"/>
<path d="M950 1291l12.5-4.5-14-5.5-12.5 0z"/>
<path d="M937 1292l13-1-14-10-13 6z"/>
<path d="M924.5 1298l12.5-6-14-5-12.5 1z"/>
<path d="M912 1299.5l12.5-1.5-14-10-13 6.5z"/>
<path d="M899 1303l13-3.5-14.5-5-12.5 3z"/>
<path d="M886.5 1307.5l12.5-4.5-14-5.5-13 4z"/>
<path d="M873.5 1310.5l13-3-14.5-6-12.5 3z"/>
<path d="M1790.5 1070l12.5-5.5-14-6-13 4z"/>
<path d="M1777.5 1070.5l13-0.5-14.5-7.5-12.5 2z"/>
<path d="M1765 1075.5l12.5-5-14-6-12.5 4.5z"/>
<path d="M1752 1079l13-3.5-14-6.5-13 4.5z"/>
<path d="M1739.5 1083.5l12.5-4.5-14-5.5-12.5 0.5z"/>
<path d="M1727 1087.5l12.5-4-14-9.5-13 6.5z"/>
<path d="M1714 1089.5l13-2-14.5-7-12.5 0.5z"/>
<path d="M1701.5 1090.5l12.5-1-14-8.5-13 6.5z"/>
<path d="M1688.5 1095l13-4.5-14.5-3-12.5 3z"/>
<path d="M1676 1097.5l12.5-2.5-14-4.5-12.5 2.5z"/>
</g>
<g stroke="#0004fd">
<path d="M1663 1098l13-0.5-14-4.5-13 4z"/>
<path d="M1650.5 1101l12.5-3-14-1-12.5 1.5z"/>
<path d="M1638 1098.5l12.5 2.5-14-2.5-13 2z"/>
</g>
<g stroke="#0008fb">
<path d="M1625 1095.5l13 3-14.5 2-12.5 3z"/>
</g>
<g stroke="#000cf9">
<path d="M1612.5 1095.5l12.5 0-14 8-13 2z"/>
<path d="M1599.5 1090l13 5.5-14.5 10-12.5 0z"/>
</g>
<g stroke="#0014f5">
<path d="M1587 1080l12.5 10-14 15.5-12.5-3z"/>
</g>
<g stroke="#001cf1">
<path d="M1574 1063.5l13 16.5-14 22.5-13-5.5z"/>
</g>
<g stroke="#0024ed">
<path d="M1561.5 1044.5l12.5 19-14 33.5-12.5-11z"/>
</g>
<g stroke="#0035e5">
<path d="M1549 1017.5l12.5 27-14 41.5-13-19.5z"/>
</g>
<g stroke="#0041df">
<path d="M1536 984.5l13 33-14.5 49-12.5-31z"/>
</g>
<g stroke="#0051d7">
<path d="M1523.5 950l12.5 34.5-14 51-12.5-41.5z"/>
</g>
<g stroke="#0069ca">
<path d="M1510.5 902l13 48-14 44-13-43z"/>
</g>
<g stroke="#0082be">
<path d="M1498 849l12.5 53-14 49-12.5-65z"/>
</g>
<g stroke="#0096b4">
<path d="M1485 802l13 47-14 37-13-68z"/>
</g>
<g stroke="#00aea8">
<path d="M1472.5 747l12.5 55-14 16-12.5-70z"/>
</g>
<g stroke="#00bea0">
<path d="M1460 713l12.5 34-14 1-13-60z"/>
</g>
<g stroke="#00ce98">
<path d="M1447 677.5l13 35.5-14.5-25-12.5-55z"/>
</g>
<g stroke="#00d794">
<path d="M1434.5 659l12.5 18.5-14-44.5-12.5-30.5z"/>
</g>
<g stroke="#00db92">
<path d="M1421.5 659.5l13-0.5-14-56.5-13-8.5z"/>
</g>
<g stroke="#00d296">
<path d="M1409 679l12.5-19.5-14-65.5-12.5 25z"/>
</g>
<g stroke="#00ca9a">
<path d="M1396.5 704.5l12.5-25.5-14-60-13 52.5z"/>
</g>
<g stroke="#00b6a4">
<path d="M1383.5 752l13-47.5-14.5-33-12.5 65.5z"/>
</g>
<g stroke="#00a2ae">
<path d="M1371 803l12.5-51-14-15-13 79z"/>
</g>
<g stroke="#008aba">
<path d="M1358 861l13-58-14.5 13-12.5 71.5z"/>
</g>
<g stroke="#0075c4">
<path d="M1345.5 915.5l12.5-54.5-14 26.5-12.5 74z"/>
</g>
<g stroke="#0061ce">
<path d="M1332.5 969.5l13-54-14 46-13 60.5z"/>
</g>
<g stroke="#0049db">
<path d="M1320 1023.5l12.5-54-14 52.5-12.5 49.5z"/>
</g>
<g stroke="#0039e3">
<path d="M1307.5 1067l12.5-43.5-14 48-13 43.5z"/>
</g>
<g stroke="#002de9">
<path d="M1294.5 1102l13-35-14.5 48-12.5 30z"/>
</g>
<g stroke="#0020ef">
<path d="M1282 1130l12.5-28-14 43-13 25z"/>
</g>
<g stroke="#0018f3">
<path d="M1269 1156l13-26-14.5 40-12.5 17.5z"/>
</g>
<g stroke="#0010f7">
<path d="M1256.5 1176.5l12.5-20.5-14 31.5-12.5 12.5z"/>
</g>
<g stroke="#000cf9">
<path d="M1243.5 1194l13-17.5-14 23.5-13 6z"/>
</g>
<g stroke="#0008fb">
<path d="M1231 1202l12.5-8-14 12-12.5 7z"/>
<path d="M1218.5 1209.5l12.5-7.5-14 11-13 5z"/>
</g>
<g stroke="#0004fd">
<path d="M1205.5 1221l13-11.5-14.5 8.5-12.5 5z"/>
<path d="M1193 1228.5l12.5-7.5-14 2-13 2z"/>
<path d="M1180 1231.5l13-3-14.5-3.5-12.5 4.5z"/>
</g>
<g stroke="#0000ff">
<path d="M1167.5 1237.5l12.5-6-14-2-12.5 5.5z"/>
<path d="M1154.5 1242.5l13-5-14-2.5-13 0.5z"/>
<path d="M1142 1245.5l12.5-3-14-7-12.5 6.5z"/>
<path d="M1129.5 1251.5l12.5-6-14-3.5-13 2.5z"/>
<path d="M1116.5 1254.5l13-3-14.5-7-12.5 0z"/>
<path d="M1104 1258l12.5-3.5-14-10-12.5 8z"/>
<path d="M1091 1262.5l13-4.5-14-5.5-13 2.5z"/>
<path d="M1078.5 1266l12.5-3.5-14-7.5-12.5 3.5z"/>
<path d="M1065.5 1269.5l13-3.5-14-7.5-13 4.5z"/>
<path d="M1053 1272l12.5-2.5-14-6.5-12.5 1z"/>
<path d="M1040.5 1273.5l12.5-1.5-14-8-13 5z"/>
<path d="M1027.5 1278.5l13-5-14.5-4.5-12.5 3.5z"/>
<path d="M1015 1283.5l12.5-5-14-6-12.5 4.5z"/>
<path d="M1002 1285l13-1.5-14-6.5-13 2z"/>
<path d="M989.5 1289l12.5-4-14-6-12.5 4z"/>
<path d="M977 1294l12.5-5-14-6-13 3.5z"/>
<path d="M964 1294.5l13-0.5-14.5-7.5-12.5 4.5z"/>
<path d="M951.5 1301l12.5-6.5-14-3.5-13 1z"/>
<path d="M938.5 1303l13-2-14.5-9-12.5 6z"/>
<path d="M926 1306l12.5-3-14-5-12.5 1.5z"/>
<path d="M913 1309.5l13-3.5-14-6.5-13 3.5z"/>
<path d="M900.5 1313l12.5-3.5-14-6.5-12.5 4.5z"/>
<path d="M888 1315l12.5-2-14-5.5-13 3z"/>
</g>
<g stroke="#0004fd">
<path d="M1804.5 1066.5l12.5-1-14-1-12.5 5.5z"/>
<path d="M1791.5 1072l13-5.5-14 3.5-13 0.5z"/>
</g>
<g stroke="#0008fb">
<path d="M1779 1069.5l12.5 2.5-14-1.5-12.5 5z"/>
</g>
<g stroke="#0004fd">
<path d="M1766.5 1073.5l12.5-4-14 6-13 3.5z"/>
<path d="M1753.5 1078l13-4.5-14.5 5.5-12.5 4.5z"/>
</g>
<g stroke="#0008fb">
<path d="M1741 1077l12.5 1-14 5.5-12.5 4z"/>
<path d="M1728 1077.5l13-0.5-14 10.5-13 2z"/>
<path d="M1715.5 1078.5l12.5-1-14 12-12.5 1z"/>
</g>
<g stroke="#000cf9">
<path d="M1703 1073l12.5 5.5-14 12-13 4.5z"/>
</g>
<g stroke="#0010f7">
<path d="M1690 1075l13-2-14.5 22-12.5 2.5z"/>
</g>
<g stroke="#0014f5">
<path d="M1677.5 1068.5l12.5 6.5-14 22.5-13 0.5z"/>
<path d="M1664.5 1064.5l13 4-14.5 29.5-12.5 3z"/>
</g>
<g stroke="#0018f3">
<path d="M1652 1064l12.5 0.5-14 36.5-12.5-2.5z"/>
</g>
<g stroke="#001cf1">
<path d="M1639 1053.5l13 10.5-14 34.5-13-3z"/>
</g>
<g stroke="#0020ef">
<path d="M1626.5 1046l12.5 7.5-14 42-12.5 0z"/>
</g>
<g stroke="#002de9">
<path d="M1614 1027l12.5 19-14 49.5-13-5.5z"/>
</g>
<g stroke="#0031e7">
<path d="M1601 1016.5l13 10.5-14.5 63-12.5-10z"/>
</g>
<g stroke="#003de1">
<path d="M1588.5 992.5l12.5 24-14 63.5-13-16.5z"/>
</g>
<g stroke="#0045dd">
<path d="M1575.5 973.5l13 19-14.5 71-12.5-19z"/>
</g>
<g stroke="#0051d7">
<path d="M1563 951.5l12.5 22-14 71-12.5-27z"/>
</g>
<g stroke="#005dd0">
<path d="M1550 928.5l13 23-14 66-13-33z"/>
</g>
<g stroke="#0069ca">
<path d="M1537.5 903l12.5 25.5-14 56-12.5-34.5z"/>
</g>
<g stroke="#0075c4">
<path d="M1525 881.5l12.5 21.5-14 47-13-48z"/>
</g>
<g stroke="#007dc0">
<path d="M1512 863.5l13 18-14.5 20.5-12.5-53z"/>
</g>
<g stroke="#008aba">
<path d="M1499.5 834l12.5 29.5-14-14.5-13-47z"/>
</g>
<g stroke="#0092b6">
<path d="M1486.5 817.5l13 16.5-14.5-32-12.5-55z"/>
</g>
<g stroke="#009ab2">
<path d="M1474 801.5l12.5 16-14-70.5-12.5-34z"/>
</g>
<g stroke="#00a2ae">
<path d="M1461 791l13 10.5-14-88.5-13-35.5z"/>
<path d="M1448.5 790.5l12.5 0.5-14-113.5-12.5-18.5z"/>
</g>
<g stroke="#00a6ac">
<path d="M1436 787.5l12.5 3-14-131.5-13 0.5z"/>
<path d="M1423 792.5l13-5-14.5-128-12.5 19.5z"/>
</g>
<g stroke="#009eb0">
<path d="M1410.5 814l12.5-21.5-14-113.5-12.5 25.5z"/>
</g>
<g stroke="#009ab2">
<path d="M1397.5 829l13-15-14-109.5-13 47.5z"/>
</g>
<g stroke="#0092b6">
<path d="M1385 849l12.5-20-14-77-12.5 51z"/>
</g>
<g stroke="#0086bc">
<path d="M1372 884l13-35-14-46-13 58z"/>
</g>
<g stroke="#0079c2">
<path d="M1359.5 914l12.5-30-14-23-12.5 54.5z"/>
</g>
<g stroke="#006dc8">
<path d="M1347 950l12.5-36-14 1.5-13 54z"/>
</g>
<g stroke="#0061ce">
<path d="M1334 977l13-27-14.5 19.5-12.5 54z"/>
</g>
<g stroke="#0055d4">
<path d="M1321.5 1008l12.5-31-14 46.5-12.5 43.5z"/>
</g>
<g stroke="#0049db">
<path d="M1308.5 1039.5l13-31.5-14 59-13 35z"/>
</g>
<g stroke="#0045dd">
<path d="M1296 1059.5l12.5-20-14 62.5-12.5 28z"/>
</g>
<g stroke="#0039e3">
<path d="M1283.5 1088.5l12.5-29-14 70.5-13 26z"/>
</g>
<g stroke="#0031e7">
<path d="M1270.5 1114l13-25.5-14.5 67.5-12.5 20.5z"/>
</g>
<g stroke="#0028eb">
<path d="M1258 1136.5l12.5-22.5-14 62.5-13 17.5z"/>
</g>
<g stroke="#0020ef">
<path d="M1245 1153.5l13-17-14.5 57.5-12.5 8z"/>
</g>
<g stroke="#001cf1">
<path d="M1232.5 1168l12.5-14.5-14 48.5-12.5 7.5z"/>
</g>
<g stroke="#0018f3">
<path d="M1219.5 1185.5l13-17.5-14 41.5-13 11.5z"/>
</g>
<g stroke="#0014f5">
<path d="M1207 1198.5l12.5-13-14 35.5-12.5 7.5z"/>
</g>
<g stroke="#0010f7">
<path d="M1194.5 1207l12.5-8.5-14 30-13 3z"/>
<path d="M1181.5 1214l13-7-14.5 24.5-12.5 6z"/>
</g>
<g stroke="#000cf9">
<path d="M1169 1226l12.5-12-14 23.5-13 5z"/>
</g>
<g stroke="#0008fb">
<path d="M1156 1235.5l13-9.5-14.5 16.5-12.5 3z"/>
<path d="M1143.5 1242l12.5-6.5-14 10-12.5 6z"/>
<path d="M1130.5 1244.5l13-2.5-14 9.5-13 3z"/>
</g>
<g stroke="#0004fd">
<path d="M1118 1254.5l12.5-10-14 10-12.5 3.5z"/>
<path d="M1105.5 1258l12.5-3.5-14 3.5-13 4.5z"/>
<path d="M1092.5 1262.5l13-4.5-14.5 4.5-12.5 3.5z"/>
<path d="M1080 1266.5l12.5-4-14 3.5-13 3.5z"/>
<path d="M1067 1268.5l13-2-14.5 3-12.5 2.5z"/>
<path d="M1054.5 1274l12.5-5.5-14 3.5-12.5 1.5z"/>
<path d="M1041.5 1278l13-4-14-0.5-13 5z"/>
<path d="M1029 1285.5l12.5-7.5-14 0.5-12.5 5z"/>
<path d="M1016.5 1288l12.5-2.5-14-2-13 1.5z"/>
<path d="M1003.5 1291l13-3-14.5-3-12.5 4z"/>
<path d="M991 1295.5l12.5-4.5-14-2-12.5 5z"/>
<path d="M978 1298l13-2.5-14-1.5-13 0.5z"/>
<path d="M965.5 1302l12.5-4-14-3.5-12.5 6.5z"/>
<path d="M953 1305l12.5-3-14-1-13 2z"/>
</g>
<g stroke="#0000ff">
<path d="M940 1311l13-6-14.5-2-12.5 3z"/>
</g>
<g stroke="#0004fd">
<path d="M927.5 1311l12.5 0-14-5-13 3.5z"/>
<path d="M914.5 1313.5l13-2.5-14.5-1.5-12.5 3.5z"/>
<path d="M902 1314.5l12.5-1-14-0.5-12.5 2z"/>
</g></g>
<g font-family="'Liberation Sans',Arial,Helvetica,sans-serif" font-size="48" fill="#000" opacity=".999">
<text x="173.5" y="999.4" text-anchor="end">0</text>
<text x="173.5" y="856.3" text-anchor="end">0.2</text>
<text x="173.5" y="713.2" text-anchor="end">0.4</text>
<text x="173.5" y="570.2" text-anchor="end">0.6</text>
<text x="173.5" y="427.1" text-anchor="end">0.8</text>
<text x="173.5" y="287" text-anchor="end">1</text>
<text x="878.1" y="1385.2" text-anchor="end">0</text>
<text x="736.9" y="1319.3" text-anchor="end">1</text>
<text x="595.6" y="1253.5" text-anchor="end">2</text>
<text x="454.4" y="1187.6" text-anchor="end">3</text>
<text x="313.1" y="1121.8" text-anchor="end">4</text>
<text x="171.9" y="1055.9" text-anchor="end">5</text>
<text x="1136.5" y="1346.4" text-anchor="middle">-2</text>
<text x="1422.3" y="1263.9" text-anchor="middle">0</text>
<text x="1711.9" y="1184.2" text-anchor="middle">2</text>
<text x="316" y="1285.2" text-anchor="start">Magnitude</text>
<text x="1355" y="1334.7" text-anchor="start">Phase</text>
<text transform="translate(64.8,648.5) rotate(-90)" text-anchor="middle" letter-spacing="0.6">The joint PDF</text>
</g>
<clipPath id="cd"><rect x="2135.5" y="41.3" width="1541.5" height="1223.7"/></clipPath>
<g fill="none" stroke-width="2.15" clip-path="url(#cd)">
<path d="M2122 1262h1569M3691 1254h-7l-3-4h-115l-3-3v-1h-55l-4-3v-1h-41l-3-3h-26l-4-4h-22l-3-3v-1h-19l-3-3h-11l-4-3v-1h-11l-4-4h-11l-3-3h-8l-3-3v-1h-8l-4-4h-3l-3-3h-8l-4-4h-4l-3-3v-1h-4l-3-3h-4l-8-8h-3l-3-3h-1l-4-4h-3l-4-3v-1l-3-3h-1l-3-3v-1l-4-3v-1l-3-3h-1l-3-3v-1l-4-3v-1l-3-3h-1l-3-3v-1l-4-3v-1l-3-3v-3l-4-4v-1l-4-3l-3-4v-3l-8-8v-4l-3-3v-4h-1l-3-3v-4l-4-4v-4l-3-3v-4h-1l-3-3v-4l-4-4v-7l-3-4v-3l-4-4v-7l-4-4v-8l-3-3v-7l-4-4v-7l-4-4v-8l-3-3v-11h-1l-3-4v-11h-1l-3-3v-12l-3-3v-15h-1l-3-3v-15l-4-4v-15l-3-3v-15h-1l-3-3v-19h-1l-3-3v-19l-3-4v-22h-1l-3-3v-22l-4-4v-22l-4-4v-26l-3-3v-26h-1l-3-3v-30l-4-3v-30l-3-3v-33l-4-4v-34l-4-3v-33l-3-4v-36l-4-4v-37l-4-3v-38l-3-3v-40l-4-4v-37l-4-3v-34l-3-3v-37h-1l-3-3v-30l-4-3v-30l-3-3v-22l-4-4v-19l-4-3v-15l-3-3v-8h-1l-3-3v-1h-4l-1 1v3l-3 3v12l-4 3v19l-4 4v22l-3 3v26l-4 3v30l-4 4v33l-3 3v34l-4 3v37l-4 4v36l-3 3v41l-4 4v37l-3 3h-1v37l-3 3v34l-4 3v37l-4 4v29l-3 3v34l-4 3v30l-4 4v25l-3 4v26l-4 3v26l-4 4v22l-3 3v22l-4 4v18l-3 4h-1v19l-3 3h-1v19l-3 3v15l-4 4v14l-4 4v15l-3 3v11l-4 4v11l-4 4v11l-3 3v8l-3 3h-1v11l-3 4h-1v7l-3 4v7l-3 4h-1v7l-3 4h-1v4l-3 3v8l-3 3h-1v4l-4 4v3l-3 4v4l-4 3v4l-4 4v3l-3 4v4l-4 3l-3 4h-1v4l-7 7v4l-7 7l-4 3v5l-3 3h-1l-3 3v1l-4 3v1l-3 3h-1l-3 3v1l-4 3v1l-3 3h-4l-4 3v1l-7 7h-4l-7 7h-4v1l-3 3h-5l-3 3h-3l-4 4h-4v1l-3 3h-5l-3 3h-7l-4 4h-3l-4 4h-12l-3 3h-7l-4 4h-11v1l-4 3h-15l-3 3h-15v1l-3 3h-22l-4 4h-30l-3 3h-37v1l-4 3h-58l-4 4h-114l-4 4h-235l-3-4h-19" stroke="#ff0000"/>
<path d="M2122 1262h1569M3691 1254h-117l-3-4h-67l-4-4h-44l-4-4h-29l-3-3h-23l-3-3v-1h-19l-3-3v-1h-15l-3-3h-12l-3-3v-1h-8l-3-3v-1h-8l-3-3h-8l-4-4h-7l-4-4h-3l-3-3h-5l-3-3v-1h-4l-4-4h-3l-3-3h-1l-4-4h-3l-4-3v-1l-3-3h-1l-3-3v-1h-4l-7-7l-4-3v-1l-7-7l-4-3v-1l-7-7l-4-3v-5l-3-3h-1l-3-3v-5l-4-3l-3-4v-3l-8-8v-4l-3-3v-4h-1l-3-3v-4l-4-4v-4l-3-3v-7l-4-4v-4h-1l-3-3v-8l-3-3v-4h-1l-3-4v-7h-1l-3-4v-7l-3-4v-11h-1l-3-3v-8h-1l-3-3v-12l-3-3v-11h-1l-3-4v-14l-4-4v-12l-3-3v-14l-4-4v-15h-1l-3-3v-19l-3-3v-19h-1l-3-3v-19h-1l-3-4v-22l-4-3v-23l-3-3v-26h-1l-3-3v-26l-4-4v-26l-3-3v-29l-4-4v-30l-4-3v-34l-3-3v-33h-1l-3-4v-33l-4-3v-34l-3-3v-33h-1l-3-4v-33l-4-3v-34l-3-3v-33l-4-4v-26l-4-3v-26l-3-4v-22h-1l-3-3v-19l-4-3v-12l-3-3v-7l-4-4h-5v4l-3 3v11l-4 4v15l-3 3h-1v19l-3 3v26l-4 3v27l-3 3h-1v30l-3 3v33l-4 3v34l-4 4v33l-3 3v33l-4 4v37l-3 3h-1v34l-3 3v30l-4 3v33l-4 4v29l-3 3v27l-4 3v30l-3 3h-1v22l-3 4v26l-4 3v22l-3 4h-1v18l-3 4v19l-4 3v19l-3 3h-1v19l-3 3h-1v15l-3 3v12l-3 3h-1v15l-4 4v11l-3 3v11l-3 4h-1v11l-4 4v7l-3 3v8l-4 4v7l-4 4v7l-3 3v8l-4 4v3l-3 4h-1v7l-3 4v4l-3 3h-1v4l-4 4v3l-3 4v4l-4 3v4l-7 7v4l-4 3v1l-4 4v3l-3 3v1l-4 3v1l-3 3h-1l-3 3v5l-4 3l-7 7v1l-4 3h-4l-3 3v1l-4 3v1l-3 3h-1l-3 3h-4v1l-7 7h-4l-3 3h-4l-4 4v1l-3 3h-8l-3 3h-4l-4 4h-3l-4 4h-8l-3 3h-7l-4 4h-11l-4 4h-11l-4 3h-14l-4 4h-18l-4 4h-23l-3 3h-29l-4 4h-40l-4 4h-70l-3 4h-174l-3 3h-99l-3-3h-89" stroke="#ff1800"/>
<path d="M2122 1262h1569M3691 1257h-81l-3-3h-92l-3-4h-52l-4-4h-33l-4-4h-25l-4-3h-18l-4-3v-1h-15l-3-3v-1h-11l-4-3h-11l-4-4h-7l-4-4h-7l-3-3h-8l-4-4h-4l-3-3v-1h-4l-3-3h-4l-4-4h-4l-3-3v-1l-4-3h-4l-3-3v-1l-4-3v-1l-3-3h-4l-4-3v-1l-7-7l-4-3v-1l-7-7l-4-3v-1l-3-3v-4h-1l-3-3v-1l-4-3v-1l-3-3v-3l-4-4v-1l-4-3v-4l-3-3v-4h-1l-3-4v-4l-4-3v-4l-3-3v-4h-1l-3-4v-3l-4-4v-4l-3-3v-8h-1l-3-3v-8h-1l-3-3v-8l-3-3v-8h-1l-3-3v-8h-1l-3-3v-8l-3-3v-11l-4-4v-11h-1l-3-4v-15l-3-3v-11l-4-4v-14l-4-4v-15l-3-3v-19h-1l-3-3v-19h-1l-3-3v-19l-4-4v-22l-3-3v-22l-4-4v-22l-4-4v-26l-3-3v-26h-1l-3-3v-30l-4-3v-30l-3-3v-30h-1l-3-3v-30l-4-3v-34l-3-3v-33l-4-4v-30l-4-3v-30l-3-3v-29l-4-4v-26l-4-3v-27l-3-3v-18l-4-4v-15l-4-3v-12l-3-3v-7l-4-4h-5v4l-3 3v12l-4 3v11l-4 4v18l-3 3v23l-4 3v26l-4 4v29l-3 4v29l-4 4v29l-3 4h-1v33l-3 3v30l-4 3v34l-4 4v29l-3 3v30l-4 3v30l-4 4v25l-3 4v26l-4 3v26l-4 4v22l-3 3v22l-4 4v22l-4 4v18l-3 3v16l-4 3v19l-3 3h-1v15l-4 4v11l-3 3v15l-4 4v11l-3 3h-1v11l-3 4v7l-3 4h-1v11l-4 4v7l-3 3v8l-4 4v7l-4 4v3l-3 4v7l-3 4h-1v4l-3 3h-1v4l-3 3v4l-3 4h-1v4l-3 3h-1v4l-3 3v4l-4 4v4l-7 7l-4 3v5l-3 3h-1l-3 3v1l-4 3v1l-3 3h-1v4l-3 3v1l-4 3l-3 3h-4v1l-4 3v1l-3 3h-1l-3 3v1l-4 3h-3l-4 4l-4 3h-3l-4 4h-4v1l-3 3h-1l-3 3h-7l-4 4h-4v1l-3 3h-5l-3 3h-7l-4 4h-7l-4 4h-11l-4 3h-11v1l-3 3h-15v1l-4 3h-22l-3 3h-22l-4 4h-37v1l-3 3h-52l-4 4h-88l-3 3h-335" stroke="#ff3000"/>
<path d="M2122 1262h1569M3691 1257h-147l-3-3h-66l-4-4h-41l-3-3v-1h-30l-3-3v-1h-22l-4-3h-18l-4-3v-1h-11l-4-4h-11l-3-3h-8l-4-4h-7l-4-4h-7l-3-3h-4l-4-4h-4l-3-3v-1h-4l-3-3h-4l-4-3v-1h-4l-3-3v-1l-4-3h-4l-3-3v-1l-4-3v-1l-3-3h-1l-3-3v-1l-4-3v-1l-3-3h-1l-3-3v-1l-4-3v-1l-3-3h-1l-3-3v-1l-4-3v-1l-3-3v-3l-4-4v-1l-4-3v-4l-7-7v-4l-4-3v-4l-3-4v-3l-4-4v-4h-1l-3-3v-4l-3-4v-7h-1l-3-4v-3l-4-4v-8l-3-3v-7l-4-4v-7l-4-4v-8l-3-3v-11h-1l-3-4v-11h-1l-3-3v-12l-3-3v-11h-1l-3-4v-11h-1l-3-3v-16l-3-3v-18l-4-4v-14l-4-4v-19l-4-3v-19l-3-3v-22l-4-4v-22l-4-4v-22l-3-3v-26h-1l-3-4v-26l-4-3v-30l-3-3v-26h-1l-3-3v-30l-4-3v-30l-3-3v-30h-1l-3-4v-29l-4-4v-29l-3-4v-25l-4-4v-26l-4-3v-23l-3-3v-18l-4-4v-15l-4-3v-12l-3-3v-7l-4-4v-1l-5 5v3l-3 3v8l-4 3v12l-4 4v18l-3 3v23l-4 3v22l-3 4h-1v26l-3 3v30l-4 3v26l-4 4v33l-3 3v30l-4 3v30l-4 4v25l-3 3v30l-4 4v26l-3 3h-1v26l-3 3v26l-4 4v22l-4 4v22l-3 3v19l-4 3v19l-4 4v18l-3 3v15l-4 3v16l-3 3h-1v15l-4 4v14l-3 4v11l-4 4v11l-3 3h-1v8l-3 3v11l-3 4h-1v7l-3 4h-1v7l-3 4v7l-3 4h-1v4l-3 3h-1v8l-3 3v4l-4 4v3l-3 4h-1v4l-3 3v4l-4 4v3l-3 4h-1v4l-3 3v1l-4 3v4l-7 7l-4 3v5l-3 3h-1l-3 3v1l-4 3v1l-3 3h-1l-3 3v1l-4 3v1l-3 3h-1l-3 3h-4v1l-7 7l-4 3h-3l-4 4v1l-4 3h-4l-3 3h-4v1l-3 3h-4l-4 4h-8l-3 3h-3l-4 4h-7l-4 4h-8l-3 3h-11l-4 4h-15v1l-3 3h-15l-4 3h-22v1l-3 3h-30v1l-3 3h-41l-3 4h-67l-3 3h-151v1l-4 3h-209l-4-4h-33" stroke="#ff4800"/>
<path d="M2122 1262h1569M3691 1261h-103l-3-3v-1h-88l-4-3h-52l-3-4h-33l-4-3v-1h-26l-3-3v-1h-19l-3-3h-15l-4-4h-11l-4-4h-11l-3-3h-8l-3-3v-1h-8l-3-3v-1h-4l-3-3h-4l-4-4h-4l-3-3v-1h-4l-3-3h-4l-4-3v-1l-4-4h-3l-4-3l-7-7v-1l-4-3h-4l-3-3v-1l-4-3v-1l-3-3v-3l-4-4v-1l-4-3l-7-7v-4l-4-3v-1l-3-3v-4h-1l-3-3v-1l-4-3v-4l-3-4v-3l-4-4v-4h-1l-3-3v-4l-3-4v-3l-4-4v-7l-4-4v-4l-3-3v-8h-1l-3-3v-8h-1l-3-3v-8l-3-3v-8h-1l-3-3v-11l-4-4v-11l-3-4v-11h-1l-3-3v-11l-4-4v-15l-3-3v-15l-4-4v-14l-4-4v-15l-4-3v-19l-3-3v-22l-4-4v-19l-4-3v-23l-3-3v-26h-1l-3-3v-26l-4-4v-26l-3-3v-26h-1l-3-3v-27l-4-3v-30l-3-3v-29l-4-4v-26l-4-3v-26l-3-4v-25l-4-4v-26l-4-3v-19l-3-3v-19h-1l-3-3v-16l-4-3v-11l-3-3v-4l-4-4h-5v4l-3 3v8l-4 3v15l-3 4h-1v15l-3 3v19l-4 3v22l-3 4h-1v26l-3 3v26l-4 3v30l-4 4v26l-3 3v30l-4 3v26l-4 4v29l-3 3v26l-4 4v26l-3 3h-1v22l-3 4v22l-4 3v23l-3 3h-1v23l-3 3v19l-4 3v19l-3 3h-1v15l-3 3v15l-4 3v16l-3 3h-1v11l-3 4h-1v15l-3 3v11l-3 4h-1v7l-3 4h-1v11l-3 3v8l-4 4v7l-4 4v7l-3 3v4l-3 4h-1v7l-3 4h-1v4l-3 3v4l-4 4v3l-3 4h-1v4l-3 3v4l-4 4v4l-3 3h-1l-3 3v5l-4 3l-4 4v4l-3 3l-4 3v1l-7 7l-4 3v1l-7 7l-4 3v1l-7 7h-4l-7 7h-4v1l-3 3h-1l-3 3h-4v1l-3 3h-4v1l-4 3h-4l-3 3h-7l-4 4h-4v1l-3 3h-12l-3 3h-7l-4 4h-11l-4 4h-15l-3 3h-19v1l-3 3h-26v1l-4 3h-33l-3 4h-52l-4 3h-91l-4 4h-353" stroke="#ff7800"/>
<path d="M2478 1261l1 1h1109l1-1h-67l-3-3v-1h-63l-3-3h-41l-3-4h-30l-4-4h-18l-4-4h-18l-3-3h-12l-4-4h-11l-3-3v-1h-8l-3-3h-8l-3-3v-1h-8l-3-3v-1h-4l-3-3h-4l-4-3v-1h-4l-3-3v-1h-4l-3-3h-1l-3-3v-1h-4l-7-7l-4-3v-1l-7-7l-4-3v-1l-7-7l-4-3v-1l-7-7l-4-3v-5l-3-3h-1l-3-3v-5l-4-3l-3-3v-4l-4-4v-4h-1l-3-3v-4l-3-4v-3l-4-4v-4h-1l-3-3v-8l-3-3v-4h-1l-3-4v-7h-1l-3-4v-7l-3-4v-7h-1l-3-4v-11h-1l-3-3v-8l-3-3v-11l-4-4v-11h-1l-3-4v-15l-3-3v-11l-4-4v-14l-4-4v-19l-4-3v-19l-3-3v-18l-4-4v-19l-4-3v-23l-3-3v-22h-1l-3-4v-22l-4-3v-26l-3-4v-25l-4-4v-26l-4-3v-27l-3-3v-25l-4-4v-26l-4-3v-27l-3-3v-26h-1l-3-3v-23l-4-3v-19l-3-3v-18l-4-4v-15l-4-3v-8l-3-3v-4h-1l-3-4h-5v4l-3 3v8l-4 3v12l-3 3h-1v15l-3 3v19l-4 3v23l-3 3h-1v22l-3 4v26l-4 3v26l-4 4v26l-3 3v26l-4 3v30l-4 4v25l-3 4v22l-4 3v26l-3 4h-1v22l-3 3v23l-4 3v23l-3 3h-1v19l-3 3v19l-4 3v15l-4 4v14l-3 3v16l-4 3v15l-4 4v11l-3 3h-1v11l-3 4v11l-4 4v7l-4 4v7l-3 3v12l-3 3h-1v4l-4 4v7l-3 3v8l-4 4v3l-3 4h-1v4l-3 3v4l-4 4v3l-3 4h-1v4l-3 3v4l-8 8v3l-3 3v1l-4 3v1l-3 3h-1v4l-3 3v1l-4 3l-7 7v1l-4 3l-7 7v1l-4 3h-4l-3 3v1l-4 3v1l-3 3h-4l-4 3h-3l-4 4v1l-4 3h-7l-4 3h-3l-4 4h-4v1l-3 3h-8l-3 3h-8v1l-3 3h-11l-4 4h-15l-4 3h-14l-4 4h-22v1l-4 3h-29l-4 4h-41l-3 3h-62l-4 4h-63z" stroke="#ff8f00"/>
<path d="M2585 1261v1h893l1-1h-4l-4-3v-1h-44l-3-3h-34l-3-4h-26l-4-3v-1h-18l-4-3v-1h-15l-3-3h-12l-3-3v-1h-8l-3-3v-1h-8l-3-3h-8l-3-3v-1h-4l-4-4h-3l-4-3h-4l-3-3v-1h-4l-4-4h-3l-4-3l-4-4h-3l-4-3v-1l-3-3h-1l-3-3v-1l-4-3v-1l-3-3h-1l-3-3v-1l-4-3v-1l-3-3h-1l-3-3v-1l-4-3v-4l-7-7v-1l-4-3v-4l-3-3v-4h-1l-7-7v-4l-3-4v-3l-4-4v-7l-4-4v-4l-3-3v-4h-1l-3-4v-7h-1l-3-4v-7l-3-4v-7h-1l-3-4v-7h-1l-3-4v-11l-3-3v-8h-1l-3-3v-11l-4-4v-11l-3-4v-14l-4-4v-15h-1l-3-3v-16l-4-3v-15l-3-3v-18l-4-4v-19l-4-3v-23l-3-3v-18l-4-4v-26l-4-3v-23l-3-3v-26h-1l-3-3v-23l-4-3v-26l-3-3v-26l-4-4v-26l-4-3v-26l-3-3v-22l-4-4v-23l-4-3v-19l-3-3v-15h-1l-3-3v-15l-4-4v-7l-3-4v-3l-4-4h-5v4l-3 3v8l-4 3v11l-3 4h-1v15l-3 3v15l-4 3v23l-3 3h-1v23l-3 3v26l-4 3v23l-3 3h-1v26l-3 3v26l-4 4v26l-3 3h-1v26l-3 3v23l-4 3v22l-3 4h-1v22l-3 3v23l-4 3v19l-4 4v18l-3 3v19l-4 3v15l-4 4v15l-3 3v15l-4 3v12l-3 3h-1v11l-3 4h-1v11l-3 3v8l-4 4v11l-3 3h-1v8l-3 3v8l-3 3h-1v4l-4 4v7l-3 3v4l-3 4h-1v7l-3 4h-1v4l-3 3v4l-4 4v4l-3 3h-1l-3 3v5l-3 3h-1l-4 4v4l-3 3l-4 3v1l-4 4v3l-3 3v1l-4 3v1l-3 3h-1l-3 3v1l-4 3v1l-3 3h-4l-4 3v1l-7 7h-4l-7 7h-4v1l-3 3h-4l-4 3h-3l-4 4h-4v1l-3 3h-8l-3 3h-8v1l-3 3h-11l-4 4h-12l-3 3h-15v1l-3 3h-19v1l-3 3h-23l-3 4h-34l-3 3h-44v1l-3 3h-8z" stroke="#ffa700"/>
<path d="M2669 1261l1 1h724v-1l3-3h30v-1h-30l-3-3h-26l-3-4h-23l-3-3v-1h-15l-4-4h-11l-3-3h-12l-3-3v-1h-8l-3-3v-1h-8l-3-3h-8l-3-3v-1h-4l-4-4h-3l-4-3h-4l-3-3v-1l-4-3v-1h-4l-3-3l-4-3v-1l-4-4h-3l-4-3l-7-7v-1l-4-3l-7-7v-1l-4-3v-4l-7-7l-4-3v-5l-3-3v-3l-8-8v-4l-3-3v-4h-1l-3-4v-3l-4-4v-4l-3-3v-8h-1l-3-3v-4h-1l-3-4v-7l-3-4v-7h-1l-3-4v-7h-1l-3-4v-7l-3-4v-11h-1l-3-3v-11l-4-4v-11l-3-4v-11h-1l-3-3v-15h-1l-3-4v-11l-4-3v-19l-3-3v-15l-4-4v-19l-4-3v-19l-3-3v-22h-1l-3-4v-22l-4-3v-23l-3-3v-22h-1l-3-4v-26l-4-3v-22l-3-4v-25l-4-4v-23l-4-3v-26l-3-3v-22l-4-4v-19l-4-3v-19l-3-3v-18l-4-4v-11l-4-4v-7l-3-4v-3l-4-4h-5v4l-3 3v8l-4 3v8l-3 3h-1v15l-3 3v19l-4 3v19l-4 4v22l-3 3v23l-4 3v26l-4 4v22l-3 3v26l-4 3v23l-3 3h-1v26l-3 3v23l-4 3v22l-3 4h-1v22l-3 3v19l-4 3v19l-4 4v18l-3 3v16l-4 3v15l-4 4v14l-3 4v11l-4 3v15l-3 4h-1v11l-4 4v7l-3 3v12l-3 3h-1v8l-3 3h-1v8l-3 3v8l-3 3h-1v4l-4 4v7l-3 3v4l-3 4h-1v4l-3 3h-1v4l-3 3v5l-3 3h-1v4l-7 7v4l-7 7h-1v4l-3 3v1l-4 3l-7 7v1l-4 3l-7 7v1l-4 3l-7 7v1l-4 3h-4l-3 3v1l-4 3h-3l-4 4h-4l-3 3h-4v1l-4 3h-3l-4 4h-4l-3 3h-8v1l-3 3h-8v1l-3 3h-12l-3 3h-15v1l-3 3h-15l-4 4h-19l-3 4h-30l-3 3h-29l-1 1h30l3 3z" stroke="#ffd700"/>
<path d="M2750 1261l1 1h565l4-4h70v-1h-18l-4-3h-18l-4-4h-18l-4-3v-1h-15l-4-4h-11l-3-3h-8l-3-3v-1h-8l-3-3v-1h-8l-3-3h-4l-4-4h-3l-4-3v-1h-4l-3-3h-4l-7-7v-1h-4l-3-3h-1l-3-3v-1l-4-3v-1l-3-3h-1l-3-3v-1l-4-3v-1l-3-3h-1l-3-3v-1l-4-3v-1l-3-3h-1l-3-3v-5l-4-3l-3-3v-4l-4-4h-1l-3-3v-5l-3-3v-3l-4-4v-4h-1l-3-4v-4l-3-3v-4h-1l-3-3v-8h-1l-3-3v-4l-3-4v-7h-1l-3-4v-7h-1l-3-4v-7l-3-4v-11h-1l-3-3v-8h-1l-3-3v-12l-3-3v-11h-1l-3-4v-14l-4-4v-11l-4-4v-19l-3-3v-14l-4-4v-19l-4-3v-19l-3-3v-18l-4-4v-19l-4-3v-23l-3-3v-22h-1l-3-4v-26l-4-3v-22l-3-4v-22h-1l-3-3v-27l-4-3v-22l-3-3v-22l-4-4v-19l-4-3v-19l-3-3v-15h-1l-3-4v-11l-4-3v-8l-3-3v-4h-1l-3-4h-5v4l-3 3v8l-4 3v8l-4 4v15l-3 3v15l-4 3v19l-4 4v22l-3 3v22l-4 3v23l-4 4v25l-3 4v22l-4 3v23l-3 3h-1v26l-3 3v19l-4 3v23l-4 4v22l-3 3v19l-4 3v19l-3 3h-1v15l-3 3v15l-4 3v16l-3 3h-1v15l-3 3v12l-4 3v11l-3 4h-1v11l-4 4v7l-3 3v12l-3 3h-1v8l-3 3h-1v8l-3 3v4l-4 4v7l-4 4v3l-3 4v4l-3 3h-1v4l-4 4v4l-3 3v4l-4 4v3l-7 7v4l-11 11v4l-4 3v1l-3 3h-1l-3 3v1l-4 3v1l-3 3h-1l-3 3v1l-4 3h-3l-4 4l-4 3v1l-3 3h-4v1l-4 3h-4l-3 3v1l-4 3h-7v1l-4 3h-4l-3 3h-4v1l-3 3h-8v1l-3 3h-12l-3 3h-11l-4 4h-14l-4 4h-15l-4 4h-22l-3 3h-15v1h70l3 3z" stroke="#ffef00"/>
<path d="M2831 1261v1h405v-1l3-3h115l-1-1h-3l-4-3h-15l-3-4h-15l-4-4h-11l-4-4h-11l-3-3h-8l-3-3v-1h-8l-3-3v-1h-4l-3-3h-4l-4-3v-1h-4l-3-3v-1h-4l-3-3h-1l-3-3v-1h-4l-7-7l-4-3v-1h-4l-3-3v-1l-4-3l-7-7v-1l-4-3l-3-3v-4l-4-4l-4-3v-1l-3-3v-4h-1l-7-7v-4l-3-3v-4l-4-4v-3l-4-4v-4l-3-4v-3l-4-4v-4h-1l-3-3v-8l-3-3v-4h-1l-3-4v-7h-1l-3-4v-7l-3-4v-11h-1l-3-3v-8h-1l-3-3v-12l-3-3v-11h-1l-3-4v-11h-1l-3-3v-15l-4-4v-15l-3-3v-15h-1l-3-3v-16l-4-3v-19l-3-3v-18l-4-4v-22l-4-3v-19l-3-4v-22h-1l-3-3v-23l-4-3v-22l-3-4v-22h-1l-3-3v-26l-4-4v-19l-3-3v-22h-1l-3-3v-19l-4-3v-19l-3-3v-15l-4-4v-11l-4-3v-8l-3-4v-3l-1-1h-7l-4 4v8l-4 3v8l-4 4v14l-3 3v16l-4 3v19l-3 3h-1v22l-3 3v19l-4 4v22l-4 4v22l-3 3v26l-4 3v23l-3 3h-1v22l-3 4v18l-4 4v22l-4 4v18l-3 3v19l-4 3v19l-4 4v15l-3 3v15l-4 3v15l-3 4h-1v11l-3 3v12l-4 3v11l-3 4h-1v11l-4 4v7l-3 3v8l-4 4v7l-4 4v7l-3 3v8l-4 4v3l-3 4h-1v4l-3 3v4l-4 4v4l-3 3h-1v4l-3 3v4l-4 4v4l-3 3h-1l-3 3v1l-4 4v3l-7 7v1l-4 3l-7 7v1l-4 3l-7 7v1l-4 3l-3 3h-4v1l-4 3v1l-3 3h-4l-4 3v1l-3 3h-4v1l-4 3h-7l-4 3h-3l-4 4h-7l-4 4h-8l-3 3h-7l-4 4h-11l-4 4h-15l-3 4h-15l-4 3h-7v1h118l3 3z" stroke="#f7ff00"/>
<path d="M2941 1261l1 1h183l4-4h195v-4h-11l-3-4h-12l-4-4h-7l-4-4h-11l-3-3h-4l-4-4h-7l-4-4h-3l-4-3h-4l-3-3v-1h-4l-4-4h-3l-4-3l-4-4h-3l-4-3v-1l-3-3h-1l-3-3v-1l-4-3v-1l-3-3h-1l-3-3v-1l-4-3v-1l-3-3h-1l-3-3v-1l-4-3v-4l-7-7v-4h-1l-3-3v-1l-3-3v-4h-1l-3-3v-4l-4-4v-4l-3-3v-4h-1l-3-4v-3l-4-4v-4l-3-3v-8h-1l-3-3v-8h-1l-3-3v-8l-3-3v-8h-1l-3-3v-8h-1l-3-3v-12l-3-3v-11h-1l-3-4v-11h-1l-3-3v-12l-4-3v-15l-3-3v-15l-4-4v-19l-4-3v-15l-3-3v-18l-4-4v-19l-4-3v-23l-3-3v-18l-4-4v-22l-4-4v-22l-3-3v-22l-4-4v-22l-4-4v-22l-3-3v-19h-1l-3-3v-19l-4-3v-16l-3-3v-14l-4-4v-12l-4-3v-8l-3-3v-3l-4-4v-1l-8 8v8l-4 3v8l-3 3h-1v11l-3 3v19l-4 3v16l-3 3h-1v22l-3 4v18l-4 4v22l-4 4v22l-3 3v22l-4 4v22l-4 4v18l-3 3v23l-4 3v19l-4 4v18l-3 3v19l-4 3v15l-4 4v18l-3 4v11l-4 3v15l-3 4h-1v11l-3 3v12l-4 3v11l-3 4h-1v11l-4 4v7l-3 3v8l-4 4v7l-4 4v3l-3 4v7l-3 4h-1v4l-3 3h-1v4l-3 3v5l-3 3h-1v4l-4 4v3l-3 3v5l-3 3h-1l-4 4v4l-11 11v3l-3 3v1l-4 3v1l-3 3h-1l-3 3v1l-4 3v1l-3 3h-4l-4 3v1l-7 7h-4l-3 3h-4v1l-4 3v1l-3 3h-4l-4 3h-7v1l-4 3h-3l-4 4h-8l-3 3h-7l-4 4h-11l-4 4h-11l-3 4h-8v4h195l3 3z" stroke="#c7ff00"/>
<path d="M2776 1258h515l3-4h8h-4l-3-4h-8l-4-4h-7l-4-4h-7l-3-3h-8l-4-4h-3l-4-3v-1h-4l-3-3h-4l-4-4h-3l-4-3v-1l-3-3h-4l-4-3v-1l-7-7l-4-3v-1h-4l-3-3v-1l-4-3v-4l-7-7l-4-3v-1l-7-7v-3l-4-4v-1l-3-3v-3l-4-4v-4h-1l-3-3v-5l-3-3v-3l-4-4v-4h-1l-3-4v-4l-3-3v-7l-4-4v-4h-1l-3-3v-8l-3-3v-8h-1l-3-3v-11l-4-4v-8l-3-3v-11h-1l-3-4v-11h-1l-3-3v-12l-4-3v-15l-3-3v-15h-1l-3-4v-15l-4-3v-15l-3-3v-19h-1l-3-3v-19l-4-3v-19l-3-3v-23h-1l-3-3v-19l-4-3v-23l-3-3v-22h-1l-3-4v-22l-4-3v-19l-3-3v-19h-1l-3-3v-19l-4-3v-16l-3-3v-14l-4-4v-12l-4-3v-8l-3-3h-1l-3-3v-1h-4l-4 4v8l-4 3v8l-3 3h-1v11l-3 3v16l-4 3v19l-3 3h-1v19l-3 3v19l-4 3v22l-3 4h-1v22l-3 3v23l-4 3v19l-3 3h-1v23l-3 3v19l-4 3v19l-3 3h-1v19l-3 3v19l-4 3v15l-4 4v14l-3 4v15l-4 3v11l-3 4h-1v11l-3 3v12l-4 3v11l-3 4h-1v7l-3 4h-1v7l-3 4v7l-3 4h-1v7l-3 4h-1v7l-3 4v4l-3 3h-1v4l-4 4v4l-3 3v4l-4 4v3l-4 4v4l-7 7v4l-3 3h-1l-3 3v5l-3 3h-1l-7 7v1l-4 3l-7 7v1l-4 3l-7 7h-4v1l-3 3h-1l-3 3h-4v1l-7 7h-4l-3 3h-4v1l-4 3h-7v1l-4 3h-4l-3 3h-7l-4 4h-7l-4 4h-8l-3 4h-8h12l3 4z" stroke="#afff00"/>
<path d="M2805 1258h453l3-4h23h-1l-3-4h-8l-3-3v-1h-4l-4-4h-7l-3-3h-4l-4-3v-1h-4l-3-3v-1h-4l-3-3h-4l-4-3v-1h-4l-3-3v-1l-4-3l-4-4h-3l-4-3v-1l-3-3h-1l-3-3v-1l-4-3v-1l-3-3h-1l-3-3v-1l-4-3v-4l-11-11v-4l-7-7v-3l-4-4v-4l-3-3v-4l-4-4v-3l-4-4v-4l-3-4v-7h-1l-3-4v-3l-4-4v-8l-3-3v-7l-4-4v-7l-4-4v-11l-3-4v-7h-1l-3-4v-11h-1l-3-3v-12l-4-3v-15l-3-3v-15h-1l-3-4v-15l-4-3v-15l-3-3v-15l-4-4v-19l-4-3v-19l-3-3v-22h-1l-3-3v-19l-4-4v-18l-3-4v-22h-1l-3-3v-23l-4-3v-19l-3-3v-18l-4-4v-19l-4-3v-15l-3-3v-11l-4-4v-12l-4-3v-8l-3-3v-3l-1-1h-7l-4 4v8l-4 3v8l-3 3h-1v11l-3 3v16l-4 3v15l-4 4v18l-3 3v23l-4 3v19l-3 3h-1v22l-3 4v18l-4 4v22l-4 4v18l-3 3v19l-4 3v19l-4 4v18l-3 3v16l-4 3v15l-4 4v14l-3 4v15l-4 3v11l-3 4h-1v11l-3 3v12l-4 3v8l-3 3h-1v11l-3 4h-1v7l-3 4v4l-3 3h-1v8l-3 3h-1v8l-3 3v4l-4 4v4l-3 3h-1v4l-3 3v4l-4 4v4l-3 3h-1l-3 3v5l-3 3h-1l-4 4v4l-14 14l-4 3v1l-7 7l-4 3v1l-7 7l-4 3h-3l-4 4h-4v1l-3 3h-1l-3 3h-4v1l-3 3h-4v1l-4 3h-7l-4 3h-3l-4 4h-7l-4 4h-4l-3 4h-1h19l3 4z" stroke="#97ff00"/>
<path d="M2838 1258h387l3-4h34l4-4h-5l-3-3v-1h-4l-4-4h-3l-4-3h-4l-3-3v-1h-4l-4-4h-3l-4-3h-4l-3-3v-1l-4-3v-1h-4l-3-3l-4-3v-1l-7-7l-4-3v-1l-7-7l-4-3v-1l-7-7v-3l-4-4v-1l-3-3v-3l-4-4v-4h-1l-3-3v-1l-3-3v-4h-1l-3-3v-4l-4-4v-4l-3-3v-8h-1l-3-3v-4h-1l-3-4v-7l-3-4v-7h-1l-3-4v-7h-1l-3-4v-7l-3-4v-11h-1l-3-3v-11l-4-4v-11l-4-4v-11l-3-3v-11l-4-4v-15l-4-3v-16l-3-3v-18l-4-4v-19l-4-3v-15l-3-3v-22l-4-4v-19l-4-3v-19l-3-3v-22h-1l-3-4v-18l-4-4v-18l-3-4v-18h-1l-3-4v-18l-4-4v-15l-3-3v-11l-4-4v-11l-4-3v-5l-3-3v-3l-4-4v-1h-4l-1 1v4l-3 3v4l-4 3v8l-4 4v11l-3 3v15l-4 3v15l-3 4h-1v18l-3 4v18l-4 4v22l-4 4v18l-3 3v19l-4 3v23l-4 4v18l-3 3v19l-4 3v19l-4 4v14l-3 3v16l-4 3v15l-4 4v14l-3 4v11l-4 3v15l-3 4h-1v11l-3 3v8l-4 3v12l-3 3h-1v8l-3 3h-1v8l-3 3v8l-3 3h-1v4l-4 4v7l-3 3v5l-3 3h-1v4l-4 4v3l-3 3v5l-3 3h-1l-4 4v4l-3 3v4l-7 7h-1l-3 3v1l-4 4v3l-7 7v1l-4 3l-7 7h-4v1l-3 3h-1l-3 3v1l-4 3h-3l-4 4l-4 3h-3l-4 4h-4v1l-3 3h-4l-4 3h-3l-4 4h-4v1l-3 3h-4v4h33l3 4z" stroke="#80ff00"/>
<path d="M2875 1258h317l3-4h48l4-3h3l1-1h-1l-3-3v-1h-4l-4-4h-3l-4-3h-4l-3-3v-1l-4-3v-1h-4l-3-3l-4-3v-1h-4l-3-3v-1l-4-3l-7-7v-1l-4-3l-7-7v-1l-4-3l-11-11v-4l-7-7v-3l-4-4v-4l-7-7v-4h-1l-3-3v-8l-3-3v-4l-4-4v-4h-1l-3-3v-8l-3-3v-8h-1l-3-3v-8h-1l-3-3v-8l-3-3v-8h-1l-3-3v-11l-4-4v-11l-4-4v-11l-3-3v-15h-1l-3-4v-11l-4-3v-15l-3-4v-18l-4-4v-15l-4-3v-19l-3-3v-18l-4-4v-19l-4-3v-19l-3-3v-19h-1l-3-3v-23l-4-3v-19l-3-3v-15h-1l-3-3v-19l-4-3v-15l-3-4v-11h-1l-3-3v-8l-4-3v-8l-3-3v-4l-4-4h-1l-7 7v4l-4 3v8l-3 4h-1v11l-3 3v15l-4 4v15l-3 3h-1v19l-3 3v19l-4 3v19l-3 3h-1v19l-3 3v19l-4 3v19l-4 4v18l-3 3v19l-4 3v19l-4 4v14l-3 3v16l-4 3v15l-4 4v14l-3 4v11l-4 3v12l-3 3h-1v11l-3 4v11l-4 3v8l-4 4v7l-4 4v7l-3 3v8l-4 4v3l-3 4h-1v4l-3 3v8l-4 4v3l-4 4v4l-7 7v4l-3 3h-1v4l-3 3v1l-3 3h-1l-4 4v4l-14 14l-4 3v1l-7 7l-4 3h-3l-4 4v1l-4 3h-4l-3 3v1l-4 3h-3l-4 4h-4l-7 7h-4v1l-3 3h-1l1 1h3l4 3h48l3 4z" stroke="#50ff00"/>
<path d="M2915 1258h237l3-4h70l3-3h8v-5h-4l-7-7h-4l-7-7v-1h-4l-3-3h-1l-3-3v-1l-4-3v-1l-3-3h-4l-4-3v-1l-7-7l-4-3v-5l-3-3h-1l-7-7v-1l-3-3v-3l-8-8v-4l-3-3v-4h-1l-3-3v-4l-4-4v-4l-3-3v-4h-1l-3-3v-4l-4-4v-8l-3-3v-7l-4-4v-7l-4-4v-8l-3-3v-7l-4-4v-11h-1l-3-4v-7l-4-4v-15l-3-3v-11h-1l-3-4v-11l-4-3v-15l-3-4v-14l-4-4v-19l-4-3v-15l-3-3v-19h-1l-3-3v-19l-4-3v-19l-3-3v-19h-1l-3-4v-18l-4-4v-18l-3-4v-18h-1l-3-4v-15l-4-3v-15l-3-3v-11l-4-4v-11l-4-4v-4l-3-3v-4h-1l-3-3v-1l-4 4h-1l-3 4v4l-4 3v8l-3 3h-1v11l-3 4v15l-4 3v15l-4 4v14l-3 4v18l-4 4v18l-3 4h-1v18l-3 4v19l-4 3v19l-3 3h-1v19l-3 3v19l-4 3v15l-4 4v14l-3 4v15l-4 3v15l-4 4v14l-3 4v11l-4 3v12l-3 3h-1v8l-3 3v11l-4 4v7l-3 4h-1v7l-3 4h-1v7l-3 4v4l-3 3h-1v8l-4 4v3l-3 3v5l-3 3h-1v4l-4 4v3l-3 3v5l-3 3h-1l-4 4v4l-7 7v4l-3 3h-1l-3 3v1l-7 7h-1l-3 3v1l-4 3v1l-3 3h-1l-3 3v1l-4 3v1l-3 3h-4l-4 3v1l-3 3h-4v1l-4 3l-3 3h-4v1l-4 3v5h8l3 3h70l3 4z" stroke="#38ff00"/>
<path d="M2971 1258h125l4-4h103l3-3h15v-9l-3-3h-4l-4-3v-1l-7-7h-4l-7-7v-1l-4-3l-7-7v-1l-4-3l-7-7v-4h-1l-3-3v-1l-7-7v-3l-4-4v-4l-7-7v-4h-1l-3-3v-5l-3-3v-3l-4-4v-7l-4-4v-4l-3-4v-7h-1l-3-4v-7h-1l-3-4v-7l-3-4v-7h-1l-3-4v-7h-1l-3-4v-11l-4-3v-12l-3-3v-11h-1l-3-4v-15l-4-3v-11l-3-4v-14l-4-4v-19l-4-3v-15l-3-3v-19h-1l-3-3v-19l-4-3v-19l-3-3v-19h-1l-3-4v-15l-4-3v-19l-3-3v-18l-4-4v-15l-4-3v-15l-3-4v-11h-1l-3-3v-8l-4-3v-8l-7-7h-5v4l-3 3v4l-4 3v8l-4 4v11l-3 3v11l-4 4v15l-3 3h-1v15l-3 3v19l-4 3v19l-4 4v18l-3 3v19l-4 3v19l-4 4v15l-3 3v19l-4 3v15l-4 4v14l-3 4v15l-4 3v15l-4 4v11l-3 3v11l-4 4v11l-4 4v11l-3 3v8l-4 3v8l-3 3h-1v8l-3 3h-1v8l-3 3v4l-4 4v7l-4 4v4l-3 3v4l-4 4v3l-4 4v4l-7 7v4l-3 3h-1l-3 3v5l-3 3h-1l-7 7v1l-3 3h-1l-4 4v4l-3 3h-4l-7 7v1l-4 3l-7 7h-4v1l-3 3h-1l-3 3v1l-4 3v1l4 3v1h11l3 3h107l4 4z" stroke="#20ff00"/>
<path d="M2882 1254h299l3-3h22l4-4v-5l-3-3h-1l-3-3v-1l-4-3v-1l-3-3h-1l-3-3v-1l-4-3v-1l-3-3h-1l-3-3v-1l-4-3v-1l-3-3h-1l-7-7v-4l-11-11v-4l-3-3v-4h-1l-3-3v-4l-7-7v-8h-1l-3-3v-4l-4-4v-4l-3-3v-8h-1l-3-3v-8h-1l-3-3v-8l-3-3v-8h-1l-3-3v-8h-1l-3-3v-12l-4-3v-11l-3-4v-11h-1l-3-3v-12l-4-3v-15l-3-3v-15h-1l-3-4v-15l-4-3v-15l-3-3v-19h-1l-3-3v-16l-4-3v-19l-3-3v-18l-4-4v-19l-4-3v-15l-3-3v-19h-1l-3-3v-15l-4-4v-11l-3-3v-11l-4-4v-11l-4-4v-4l-3-3v-4h-9l-3 4v4l-4 3v8l-3 3h-1v11l-3 4v11l-4 3v15l-3 4h-1v15l-3 3v19l-4 3v15l-4 4v18l-3 3v19l-4 3v19l-4 4v15l-3 3v19l-4 3v15l-4 4v14l-3 4v15l-4 3v11l-3 4h-1v15l-3 3v11l-4 4v7l-3 4h-1v11l-3 3v8l-4 3v8l-4 4v7l-4 4v7l-3 3v5l-3 3h-1v4l-4 4v7l-3 3v4l-8 8v3l-3 3v5l-3 3h-1l-4 4v4l-11 11v3l-3 3v1l-7 7h-1l-3 3v1l-4 3v1l-3 3h-1l-3 3h-4v1l-7 7l-4 3v5h4l4 4h18l3 3z" stroke="#00ff10"/>
<path d="M2904 1254h255l3-3h30v-1l3-3h4l4-4v-1l-4-3l-7-7v-1l-4-3l-7-7v-1l-4-3l-3-3v-4l-4-4h-1l-3-3v-1l-7-7v-3l-4-4v-4l-7-7v-4h-1l-3-3v-5l-3-3v-3l-4-4v-4h-1l-3-3v-5l-3-3v-7l-4-4v-7l-4-4v-8l-3-3v-7l-4-4v-7l-4-4v-11l-4-4v-7l-3-4v-11h-1l-3-3v-15l-4-4v-11l-3-3v-15h-1l-3-4v-15l-4-3v-15l-3-3v-19h-1l-3-3v-16l-4-3v-19l-3-3v-14l-4-4v-19l-4-3v-19l-3-3v-15h-1l-3-4v-15l-4-3v-11l-3-4v-11h-1l-3-3v-8l-4-3v-8l-7-7h-5l-3 3v4l-4 4v7l-3 4h-1v11l-3 3v12l-4 3v15l-4 4v14l-3 4v15l-4 3v19l-4 4v18l-3 3v15l-4 3v19l-4 4v15l-3 3v19l-4 3v15l-4 4v14l-3 4v11l-4 3v15l-3 4h-1v11l-3 3v12l-4 3v8l-3 3h-1v11l-3 4v7l-4 4v7l-3 4h-1v7l-3 4h-1v4l-3 3v8l-4 4v3l-4 4v4l-3 3v4l-4 4v3l-4 4v4l-7 7v4l-3 3h-1l-3 3v5l-3 3h-1l-7 7v1l-3 3h-1l-7 7v1l-4 3l-7 7v1l-4 3v8h8l3 3v1h26l3 3z" stroke="#00ff28"/>
<path d="M2930 1254h203l3-3h41v-1l4-3h7l4-4v-4l-4-3v-5l-3-3h-1l-3-3v-1l-4-3v-1l-3-3h-1l-7-7v-4l-11-11v-4l-3-3v-4h-1l-7-7v-4l-3-3v-4l-4-4v-3l-4-4v-8l-3-3v-4h-1l-3-3v-8h-1l-3-4v-7l-3-4v-7h-1l-3-4v-7h-1l-3-4v-7l-4-4v-11l-3-3v-11l-4-4v-11l-4-4v-15l-3-3v-11h-1l-3-4v-15l-4-3v-15l-3-3v-19h-1l-3-3v-16l-4-3v-15l-3-3v-18l-4-4v-19l-4-3v-15l-3-4v-14l-4-4v-15l-4-3v-12l-3-3v-11h-1l-3-4v-7l-4-4v-7l-3-4h-1l-3-3v-1h-4l-4 4v4l-4 3v8l-4 4v11l-3 3v11l-4 4v15l-3 3h-1v15l-3 3v16l-4 3v15l-4 4v18l-3 3v19l-4 3v15l-4 4v15l-3 3v19l-4 3v15l-4 4v11l-3 3v15l-4 3v12l-3 3h-1v11l-3 4v11l-4 3v12l-3 3h-1v8l-3 3v8l-4 3v8l-3 3h-1v8l-4 4v3l-3 3v8l-4 4v4l-3 3h-1v4l-3 3v4l-4 4v4l-3 3h-1l-3 3v5l-3 3h-1l-4 4v4l-14 14v4l-7 7h-1l-3 3v1l-4 3v4l-4 4h1l3 4h12l3 3v1h37l3 3z" stroke="#00ff40"/>
<path d="M2963 1254h137l3-3h59l4-4h11l4-4h4v-4h-1l-3-3v-5l-4-3l-3-3v-4l-4-4h-1l-3-3v-1l-3-3v-4h-1l-7-7v-1l-3-3v-3l-4-4v-4h-1l-3-3v-5l-3-3v-3l-4-4v-4h-1l-3-3v-5l-3-3v-3l-4-4v-7l-4-4v-8l-3-3v-8h-1l-3-3v-8h-1l-3-3v-8l-4-3v-12l-3-3v-11h-1l-3-4v-11l-4-3v-12l-3-3v-15h-1l-3-3v-12l-4-3v-15l-3-3v-19h-1l-3-3v-16l-4-3v-15l-3-3v-18l-4-4v-15l-4-3v-19l-3-3v-15l-4-4v-11l-4-4v-15l-3-3v-7l-4-4v-8l-4-3v-8l-3-3h-1l-3-4h-5l-3 4v4l-4 3v8l-3 3h-1v11l-3 4v11l-4 3v12l-3 3h-1v15l-3 3v16l-4 3v19l-3 3h-1v15l-3 3v19l-4 3v15l-4 4v15l-3 3v15l-4 3v15l-3 4h-1v15l-3 3v11l-4 4v11l-4 4v11l-3 3v11l-4 4v11l-4 4v7l-3 3v8l-4 3v8l-4 4v4l-3 3h-1v8l-3 3v4l-4 4v3l-4 4v4l-3 3v4l-4 4v3l-4 4v4l-7 7v4l-3 3h-1l-3 3v5l-3 3h-1l-7 7v1l-3 3h-1v4l-4 4v7h1l3 4h15l4 4h55l3 3z" stroke="#00ff70"/>
<path d="M2919 1250l1 1h224v-1l3-3h19l3-4h5l3-3v-5l-3-3v-4h-1l-7-7v-4l-11-11v-4l-3-3v-4h-1l-7-7v-4l-3-3v-4l-4-4v-3l-4-4v-4l-3-3v-8h-1l-3-3v-4l-4-4v-8l-3-3v-7l-4-4v-7l-4-4v-8l-4-3v-11l-3-4v-7h-1l-3-4v-11l-4-3v-15l-3-4v-11h-1l-3-3v-15l-4-4v-15l-3-3v-15h-1l-3-3v-16l-4-3v-15l-3-3v-18l-4-4v-15l-4-3v-16l-3-3v-14l-4-4v-15l-4-4v-11l-3-3v-11l-4-4v-8l-4-3v-4l-7-7h-5l-3 3v4l-4 4v7l-3 4h-1v7l-3 4v11l-4 3v15l-3 4h-1v15l-3 3v15l-4 3v16l-3 3h-1v15l-3 3v19l-4 3v15l-4 4v15l-3 3v15l-4 3v15l-3 4h-1v11l-3 3v15l-4 4v11l-4 4v11l-3 3v8l-4 3v11l-3 4h-1v7l-3 4v7l-4 4v8l-3 3h-1v4l-4 4v7l-3 3v4l-4 4v4l-3 3h-1v4l-3 3v4l-4 4v4l-3 3h-1l-3 3v5l-3 3h-1l-4 4v4l-7 7v4l-3 3h-1l-3 3v9l3 3h5l3 4h15l3 3z" stroke="#00ff87"/>
<path d="M2937 1250l1 1h187l4-4h26l3-4h5l3-3v-1l3-3h1l-4-4v-4l-3-3v-4l-4-4v-3l-4-4v-1l-3-3v-3l-4-4v-4h-1l-3-3v-1l-3-3v-4h-1l-3-3v-4l-4-4v-8l-3-3v-3l-4-4v-4h-1l-3-3v-8l-3-3v-8h-1l-3-4v-7h-1l-3-4v-7l-4-4v-11l-3-3v-8h-1l-3-3v-12l-4-3v-11l-3-4v-14l-4-4v-11l-4-4v-15l-3-3v-15h-1l-3-3v-16l-4-3v-15l-3-3v-18l-4-4v-15l-4-3v-16l-3-3v-14l-4-4v-12l-4-3v-11l-3-4v-11h-1l-3-3v-8l-4-3v-4l-3-4v-3l-1-1h-7l-4 4v4l-4 3v4l-3 4h-1v11l-3 3v12l-4 3v12l-3 3h-1v15l-3 3v15l-4 3v16l-3 3h-1v15l-3 3v15l-4 3v19l-3 4h-1v15l-3 3v11l-4 4v15l-3 3h-1v15l-3 3v12l-4 3v11l-3 4h-1v11l-3 3v8l-4 3v12l-3 3h-1v8l-3 3v8l-4 3v4l-4 4v7l-4 4v4l-3 3v8l-3 3h-1v4l-4 4v3l-3 3v5l-3 3h-1l-4 4v4l-3 3v4l-7 7h-1v4l-3 3v4l-4 4v7l4 4h8l3 4h22l3 3z" stroke="#00ff9f"/>
<path d="M2960 1250v1h143l4-4h34l3-4h11l7-7h1v-4l-4-4v-7l-7-7v-4l-4-4v-3l-4-4v-4l-3-3v-4l-4-4v-3l-4-4v-4l-3-3v-4l-4-4v-7l-4-4v-4l-3-3v-7l-4-4v-8h-1l-3-3v-8l-4-3v-12l-3-3v-7l-4-4v-11l-4-4v-11l-3-3v-11l-4-4v-15l-4-3v-15l-3-4v-11h-1l-3-3v-15l-4-4v-19l-3-3v-14l-4-4v-15l-4-3v-16l-3-3v-14l-4-4v-12l-4-3v-11l-3-4v-11h-1l-3-3v-8l-4-3v-4l-3-4h-1l-3-3v-1h-4l-4 4v4l-4 3v8l-4 4v7l-3 3v12l-4 3v12l-3 3h-1v15l-3 3v15l-4 3v16l-3 3h-1v15l-3 3v15l-4 3v16l-3 3h-1v15l-3 3v15l-4 4v15l-3 3h-1v11l-3 4v11l-4 3v12l-3 3h-1v11l-3 4v7l-4 4v11l-4 4v7l-3 3v8l-4 3v5l-3 3h-1v8l-3 3h-1v4l-3 3v4l-4 4v4l-3 3h-1v4l-3 3v4l-4 4v4l-3 3h-1v4l-3 3v4l-4 4v4l-3 3h-1v11l1 1h4l3 3h8l3 4h33l4 3z" stroke="#00ffcf"/>
<path d="M2989 1250v1h85v-1l4-3h48l3-4h15l3-3h4l4-4v-12l-3-3v-4h-1l-3-3v-4l-4-4v-4l-3-3v-4h-1l-3-3v-4l-4-4v-4l-3-3v-4h-1l-3-3v-8h-1l-3-3v-5l-3-3v-7l-4-4v-7l-4-4v-8l-4-3v-11l-3-4v-7h-1l-3-4v-11l-4-3v-12l-3-3v-11h-1l-3-4v-15l-4-3v-11l-3-4v-14l-4-4v-15l-4-3v-16l-3-3v-14l-4-4v-15l-4-3v-16l-3-3v-11h-1l-3-3v-16l-4-3v-11l-3-3v-8h-1l-3-4v-7l-4-4v-4l-3-3v-4h-9l-3 4v4l-4 3v4l-4 4v11l-3 3v8l-4 3v15l-4 4v11l-3 3v15l-4 3v16l-3 3h-1v15l-3 3v15l-4 4v15l-3 3h-1v15l-3 3v12l-4 3v15l-4 4v11l-3 3v11l-4 4v11l-4 4v11l-3 3v8l-4 3v8l-3 3h-1v12l-3 3v4l-4 3v8l-4 4v7l-4 4v3l-3 3v5l-3 3h-1v4l-4 4v3l-3 3v5l-3 3h-1v4l-4 4v3l-3 3v16l4 4h4l3 3h11l3 4h49l3 3z" stroke="#00ffe7"/>
<path d="M2952 1247h159l3-4h19l3-3h8v-1l3-3h1v-19h-1l-3-3v-5l-3-3v-3l-4-4v-4h-1l-3-3v-5l-3-3v-7l-4-4v-3l-4-4v-8l-3-3v-4h-1l-3-3v-8h-1l-3-3v-8l-4-4v-11l-3-3v-8h-1l-3-3v-12l-4-3v-11l-3-4v-11h-1l-3-3v-12l-4-3v-15l-3-3v-11l-4-4v-15l-4-3v-15l-3-4v-14l-4-4v-15l-4-3v-16l-3-3v-11h-1l-3-3v-16l-4-3v-11l-3-3v-8h-1l-3-3v-8l-4-4v-4l-3-3h-1l-3-4h-5l-3 4v4l-4 3v8l-4 4v7l-3 3v8l-4 3v15l-4 4v11l-3 3v15l-4 3v16l-3 3h-1v15l-3 3v15l-4 4v11l-4 4v14l-3 4v15l-4 3v11l-3 4h-1v11l-3 3v12l-4 3v11l-3 4h-1v11l-3 3v8l-4 3v8l-4 4v7l-3 3v8l-4 3v8l-4 4v4l-3 3h-1v8l-3 3v4l-4 4v3l-4 4v4l-3 3v4l-4 4v7l-4 4v7h1l3 4h1l3 3v1h4l3 3h19l3 4z" stroke="#00ffff"/>
<path d="M2971 1247h122l3-4h26l3-3h8v-1l3-3h5l3-4v-12l-3-3v-7l-4-4v-3l-4-4v-4l-3-3v-8h-1l-3-3v-4l-4-4v-8l-3-3v-3l-4-4v-7l-4-4v-8l-4-3v-12l-3-3v-7l-4-4v-11l-4-4v-11l-3-3v-11l-4-4v-11l-4-4v-11l-3-3v-15h-1l-3-4v-15l-4-3v-11l-3-4v-14l-4-4v-15l-4-3v-16l-3-3v-11h-1l-3-3v-16l-4-3v-8l-3-3v-11h-1l-3-3v-8l-4-3v-5l-3-3h-1l-3-4h-1l-3 4h-1l-3 3v1l-4 3v8l-4 4v7l-3 3v12l-4 3v11l-4 4v11l-3 3v15l-4 3v12l-4 4v14l-3 4v15l-4 3v15l-4 4v14l-3 4v11l-4 3v15l-3 4h-1v11l-3 3v12l-4 3v8l-3 3h-1v11l-3 4v7l-4 4v8l-3 3h-1v8l-3 3v8l-4 3v8l-3 3h-1v4l-4 4v7l-3 3v4l-4 4v4l-3 3h-1v8l-3 3v15l3 4h1l4 4h11l3 3h22l4 4z" stroke="#00e7ff"/>
<path d="M2996 1247h71l3-4h41l3-3h11l4-4h4l3-4h1v-18l-4-4v-8l-3-3v-7l-4-4v-4h-1l-3-3v-8l-3-3v-4l-4-4v-7l-4-4v-8l-4-3v-11l-3-4v-7h-1l-3-4v-11l-4-3v-8l-3-3v-11l-4-4v-15l-4-3v-12l-3-3v-11h-1l-3-4v-15l-4-3v-15l-3-3v-15h-1l-3-4v-11l-4-3v-16l-3-3v-11h-1l-3-3v-16l-4-3v-8l-3-3v-11h-1l-3-3v-5l-4-3v-4l-3-3v-4h-9l-3 3v5l-4 3v4l-4 4v7l-3 3v12l-4 3v11l-4 4v11l-3 3v12l-4 3v15l-4 4v14l-3 4v15l-4 3v11l-3 4h-1v15l-3 3v11l-4 4v15l-3 3h-1v11l-3 4v11l-4 3v8l-4 4v11l-3 3v8l-4 3v8l-4 4v7l-3 3v8l-4 3v8l-4 4v3l-4 4v7l-3 3v5l-3 3h-1v8l-3 3h-1v11l4 4h1l3 4h4l4 4h11l3 3h37l3 4z" stroke="#00b7ff"/>
<path d="M2971 1243h125l4-3h14l4-4h8l3-4h1l3-3v-16l-3-3v-7l-4-4v-7l-4-4v-8l-3-3v-4h-1l-3-3v-8h-1l-3-3v-8l-4-3v-12l-3-3v-8h-1l-3-3v-8l-4-3v-12l-3-3v-11h-1l-3-4v-11l-4-3v-15l-3-4v-11h-1l-3-3v-15l-4-4v-11l-3-3v-15h-1l-3-4v-15l-4-3v-12l-3-3v-14l-4-4v-12l-4-3v-8l-3-3v-11h-1l-3-3v-5l-4-3v-4l-3-3v-4h-9l-3 3v5l-4 3v4l-4 4v7l-3 3v12l-4 3v11l-4 4v11l-3 3v12l-4 3v15l-4 4v14l-3 4v11l-4 3v15l-3 4h-1v11l-3 3v15l-4 4v11l-4 4v11l-3 3v11l-4 4v7l-3 4h-1v11l-3 3v8l-4 3v8l-4 4v7l-3 3v8l-4 3v8l-4 4v4l-3 3h-1v8l-3 3v23l3 3h1l3 4h8l4 4h14l4 3z" stroke="#009fff"/>
<path d="M2989 1243h89l3-3h22l4-4h8l3-4h4l4-4v-3l3-4h1v-4h-1l-3-3v-11l-4-4v-8l-3-3v-7l-4-4v-7l-4-4v-8l-4-3v-12l-3-3v-7l-4-4v-8l-4-3v-11l-3-4v-11h-1l-3-3v-12l-4-3v-11l-3-4v-14l-4-4v-11l-4-4v-15l-3-3v-11h-1l-3-4v-15l-4-3v-12l-3-3v-14l-4-4v-12l-4-3v-8l-3-3v-11h-1l-3-3v-5l-4-3v-4l-3-3v-4h-9l-3 3v5l-4 3v4l-4 4v7l-3 3v8l-4 3v12l-3 3h-1v15l-3 3v12l-4 3v15l-4 4v11l-3 3v15l-4 3v12l-3 3h-1v15l-3 3v12l-4 3v11l-3 4h-1v11l-3 3v12l-4 3v11l-3 4h-1v8l-3 3v8l-4 3v8l-3 3h-1v8l-3 3v8l-4 3v8l-3 3h-1v8l-3 3h-1v19h1l11 11h7l4 3v1h26l3 3z" stroke="#0087ff"/>
<path d="M3015 1243h34l3-3h40l4-4h11l4-4h4l7-7v-27l-3-3v-7l-4-4v-7l-4-4v-8l-4-3v-8l-3-3v-11h-1l-3-3v-8l-4-4v-11l-3-3v-11l-4-4v-11l-4-4v-11l-3-3v-11l-4-4v-15l-4-3v-12l-3-3v-15h-1l-3-3v-12l-4-3v-15l-3-3v-11l-4-4v-12l-4-3v-11l-3-3v-8h-1l-3-3v-5l-4-3v-4l-3-3v-4h-9l-3 3v5l-4 3v4l-4 4v7l-3 3v8l-4 3v12l-3 3h-1v11l-3 3v16l-4 3v11l-3 4h-1v15l-3 3v11l-4 4v15l-3 3h-1v11l-3 4v11l-4 3v12l-3 3h-1v11l-3 4v11l-4 3v12l-4 4v7l-3 3v8l-4 3v12l-3 3h-1v8l-3 3v8l-4 3v11l-4 4v11h1l3 4v4h4l3 3h4l4 4h11l4 4h36l4 3z" stroke="#0058ff"/>
<path d="M2989 1239v1h89v-1l3-3h15l4-4h7l4-3v-1l3-3h1l3-4h1v-22l-4-4v-7l-4-4v-11l-4-3v-8l-3-3v-11l-4-4v-8l-4-3v-12l-3-3v-11h-1l-3-4v-11l-4-3v-12l-3-3v-11h-1l-3-4v-11l-4-3v-15l-3-4v-11h-1l-3-3v-15l-4-4v-11l-3-3v-11l-4-4v-12l-4-3v-11l-3-3v-8h-1l-3-3v-5l-4-3v-4l-3-3v-4h-9l-3 3v5l-4 3v4l-4 4v7l-3 3v8l-4 3v12l-3 3h-1v11l-3 4v11l-4 3v15l-3 4h-1v11l-3 3v15l-4 4v11l-4 4v11l-3 3v15l-4 3v12l-3 3h-1v11l-3 4v7l-4 4v11l-4 4v7l-3 3v12l-4 3v8l-4 4v7l-3 3v15l-4 3v5l4 3v8l4 4h3l4 3h4l3 4h19l3 3z" stroke="#0040ff"/>
<path d="M3007 1239l1 1h48v-1l3-3h26l4-4h11l3-3h4v-1l4-3v-4l4-4v-18l-4-4v-11l-4-3v-12l-3-3v-7l-4-4v-12l-4-3v-8l-3-3v-11h-1l-3-4v-11l-4-3v-12l-3-3v-15h-1l-3-3v-12l-4-3v-11l-3-4v-14l-4-4v-11l-4-4v-11l-3-3v-15h-1l-3-4v-8l-4-3v-11l-3-3v-8h-1l-3-3v-8l-4-3v-1l-3-3v-4h-9l-3 3v5l-4 3v4l-4 4v7l-3 3v8l-4 3v12l-3 3h-1v11l-3 4v11l-4 3v12l-3 3h-1v15l-3 3v12l-4 3v11l-3 4h-1v15l-3 3v11l-4 4v11l-4 4v11l-3 3v12l-4 3v8l-3 3h-1v11l-3 3v8l-4 3v12l-4 4v29h1l3 4l4 3v1h4l3 3h8l3 4h26l3 3z" stroke="#0028ff"/>
<path d="M2993 1236h81l4-4h11l3-3h8v-1l3-3h1l3-4v-4l4-3v-16l-4-3v-15l-3-3v-11l-4-4v-8l-4-3v-11l-3-3v-12h-1l-3-3v-12l-4-3v-11l-3-4v-11h-1l-3-3v-15l-4-4v-11l-3-3v-11l-4-4v-15l-4-3v-12l-3-3v-11h-1l-3-4v-11l-4-3v-8l-3-3v-8h-1l-3-3v-8l-4-3v-5l-3-3h-9l-3 3v1l-4 3v8l-4 4v3l-3 3v12l-4 3v8l-4 4v11l-3 3v11l-4 4v15l-3 3h-1v11l-3 4v11l-4 3v15l-3 4h-1v11l-3 3v12l-4 3v11l-3 4h-1v11l-3 3v12l-4 3v12l-3 3h-1v8l-3 3v11l-4 3v31l4 3l3 4h1l3 3v1h4l3 3h15l4 4z" stroke="#0800ff"/>
<path d="M3011 1236h45l3-4h19l3-3h8v-1l3-3h4l8-8v-3l3-4v-15l-3-3v-15l-4-4v-11l-4-3v-12l-3-3v-11l-4-4v-11l-4-4v-11l-3-3v-11l-4-4v-11l-4-4v-11l-3-3v-15h-1l-3-4v-11l-4-3v-12l-3-3v-11h-1l-3-4v-11l-4-3v-8l-3-3v-8h-1l-3-3v-8l-4-3v-5l-3-3h-9l-3 3v1l-4 3v4l-4 4v7l-3 3v8l-4 4v11l-4 4v11l-3 3v11l-4 4v11l-4 4v14l-3 4v11l-4 3v12l-3 3h-1v11l-3 4v15l-4 3v11l-3 4h-1v11l-3 3v8l-4 3v12l-4 4v14l-3 3v27l3 3v4h1l3 4h4l4 4h7l3 3h23l3 4z" stroke="#2000ff"/>
<path d="M3000 1232h67l3-3h11l4-4h4l3-4h4v-4l4-3v-4l4-4v-11h-1l-3-3v-19l-4-3v-12l-3-3v-11l-4-4v-11l-4-4v-11l-3-3v-11l-4-4v-15l-4-3v-12l-3-3v-11h-1l-3-4v-15l-4-3v-11l-3-4v-11h-1l-3-3v-8l-4-3v-12l-3-3v-7l-4-4v-4l-4-3v-5l-3-3h-1l-3-3v-1l-4 4h-1l-3 3v1l-4 3v4l-4 4v7l-3 4v7l-4 4v11l-4 4v7l-3 3v15l-4 4v11l-4 4v11l-3 3v11l-4 4v15l-3 3h-1v11l-3 4v11l-4 3v12l-4 4v11l-3 3v11l-4 3v16l-3 3h-1v26h1l3 4v4l4 3l3 4h8l4 4h11l3 3z" stroke="#3800ff"/>
<path d="M3018 1232h27l3-3h22l4-4h8l3-4h4l7-7v-8l4-3v-12l-4-3v-19l-3-3v-11l-4-4v-15l-4-3v-12l-3-3v-11h-1l-3-4v-11l-4-3v-12l-3-3v-15h-1l-3-3v-12l-4-3v-11l-3-4v-11h-1l-3-3v-12l-4-3v-8l-3-3v-7l-4-4v-4l-4-3v-5l-3-3h-1l-3-3v-1h-4l-4 4v4l-4 3v4l-3 4h-1v7l-3 4v7l-4 4v7l-3 4h-1v11l-3 3v12l-4 3v11l-3 4h-1v15l-3 3v11l-4 4v11l-4 4v11l-3 3v15l-4 3v12l-4 4v11l-3 3v15l-4 3v30l15 15h7l4 3v1h22l3 3z" stroke="#6800ff"/>
<path d="M3007 1228l1 1h48v-1l3-3h15l4-4h4l3-3v-1l4-3l3-4h1v-7l3-4v-8l-3-3v-22l-4-4v-15l-4-3v-12l-3-3v-11h-1l-3-4v-15l-4-3v-11l-3-4v-11h-1l-3-3v-12l-4-3v-11l-3-4v-11h-1l-3-3v-12l-4-3v-8l-3-3v-7l-4-4v-4l-4-3v-4l-3-4h-1l-3-3v-1h-4l-4 4v4l-4 3v4l-3 4h-1v4l-3 3v8l-4 3v11l-3 4h-1v11l-3 3v12l-4 3v11l-3 4h-1v11l-3 3v12l-4 3v15l-4 4v11l-3 3v12l-4 3v15l-4 4v14l-3 3v31l3 3v4h1l3 3v1h4l3 3h4l4 4h11l3 3z" stroke="#8000ff"/>
<path d="M3004 1225h59l4-4h7l4-3v-1l3-3h4v-4l4-3v-8l4-4v-7l-4-4v-22l-4-3v-16l-3-3v-15h-1l-3-3v-12l-4-3v-11l-3-4v-14l-4-4v-11l-4-4v-11l-3-3v-11l-4-4v-8l-4-3v-11l-3-4v-3l-4-4v-8l-4-3v-4l-4-4h-7l-8 8v4l-3 3h-1v8l-3 3v8l-4 3v11l-3 4h-1v7l-3 4v11l-4 3v15l-3 4h-1v11l-3 3v12l-4 3v11l-3 4h-1v15l-3 3v15l-4 3v16l-3 3h-1v30h1l3 3v4l8 8h3l4 3h7l4 4z" stroke="#9700ff"/>
<path d="M3022 1225h23l3-4h15l4-3h3l4-4h4l3-4h1v-4l3-3v-8l4-3v-8l-4-3v-27l-3-3v-14l-4-4v-12l-4-3v-15l-3-3v-11l-4-4v-11l-4-4v-11l-3-3v-11l-4-4v-11l-4-4v-7l-3-4v-7h-1l-3-4v-4l-4-3v-4l-4-4h-7l-8 8v4l-3 3h-1v8l-3 3v8l-4 3v8l-3 3h-1v11l-3 4v11l-4 3v12l-3 3h-1v11l-3 4v15l-4 3v11l-3 4h-1v15l-3 3v19l-4 3v30l4 4v4l3 3h1l3 4l4 3v1h7l4 3h15l3 4z" stroke="#af00ff"/>
<path d="M3015 1221h34l3-3h11v-1l4-3h4l3-4l4-3v-1l3-3h1v-11l3-4v-12l-3-3v-22h-1l-3-3v-16l-4-3v-15l-3-3v-11l-4-4v-11l-4-4v-11l-3-3v-11l-4-4v-11l-4-4v-7l-3-4v-7h-1l-3-4v-4l-4-3v-4l-7-7h-1l-3 3h-4v4l-4 4v4l-3 3h-1v8l-3 3v8l-4 3v8l-3 3h-1v11l-3 4v11l-4 3v12l-3 3h-1v11l-3 4v15l-4 3v15l-4 4v15l-3 3v34l3 3v4h1l3 3v4h4l3 4h4l4 3v1h7l4 3z" stroke="#df00ff"/>
<path d="M3015 1217v1h37v-1l4-3h7l15-15v-11l4-4v-11h-1l-3-3v-23l-4-3v-15l-3-4v-14l-4-4v-11l-4-4v-15l-3-3v-7l-4-4v-11l-4-4v-7l-3-4v-7h-1l-3-4v-4l-4-3v-4l-7-7h-5l-3 3v4l-4 4v4l-3 3h-1v4l-3 3v8l-4 3v12l-3 3h-1v11l-3 4v11l-4 3v12l-3 3h-1v11l-3 4v15l-4 3v19l-4 4v36l4 4v4l4 3v1l3 3h4l4 4h7l4 3z" stroke="#f700ff"/>
<path d="M3015 1214h34l3-4h8l3-3h4v-1l3-3h1v-4l3-3v-12l4-3v-12l-4-3v-26l-3-3v-15l-4-4v-11l-4-4v-15l-3-3v-11h-1l-3-4v-7l-4-4v-7l-3-4v-7h-1l-3-4v-4l-4-3v-4l-7-7h-5l-3 3v4l-4 4v4l-3 3h-1v4l-3 3v8l-4 3v12l-3 3h-1v11l-3 4v11l-4 3v12l-3 3h-1v15l-3 3v19l-4 3v38l4 3v4l3 4h1l3 3v1l4 3h7l4 4z" stroke="#ff00ef"/>
<path d="M3018 1210h31l3-3h4v-1l3-3h4l4-4v-4l3-3h1v-11l3-4v-12l-3-3v-25l-4-4v-15l-4-4v-11l-3-3v-11l-4-4v-11l-4-4v-7l-3-4v-7h-1l-3-4v-7l-11-11h-5l-3 3v4l-4 4v4l-3 3h-1v4l-3 3v8l-4 3v12l-3 3h-1v11l-3 4v11l-4 3v15l-3 4h-1v19l-3 3v37l3 4v3l12 12h7l3 3z" stroke="#ff00bf"/>
<path d="M3022 1206v1h23v-1l3-3h4l4-4h4l3-3v-4l4-4v-11l4-4v-11h-1l-3-3v-27l-4-3v-15l-3-3v-11l-4-4v-11l-4-4v-7l-3-4v-7h-1l-3-4v-4l-4-3v-4l-7-7h-5l-3 3v4l-4 4v4l-3 3h-1v4l-3 3v8l-4 3v12l-3 3h-1v11l-3 4v15l-4 3v19l-4 4v36l4 4v4l4 3v1l3 3h1l3 4h8l3 3z" stroke="#ff00a7"/>
<path d="M3026 1203h15l4-4h4l3-3h4v-1l3-3h1v-4l3-3v-15l4-4v-4l-4-3v-27l-3-3v-15h-1l-3-3v-12l-4-3v-11l-3-4v-7h-1l-3-4v-4l-4-3v-4l-7-7h-5l-3 3v4l-4 4v4l-3 3h-1v8l-3 3v8l-4 3v11l-3 4h-1v11l-3 3v19l-4 3v34l4 4v7l3 4h1l3 3v1l4 3h7l4 4z" stroke="#ff008f"/>
<path d="M3022 1195v1h23v-1l3-3h1l3-4l4-3v-1l3-3h1v-52h-1l-3-4v-11l-4-3v-12l-3-3v-7l-4-4v-8l-4-3v-4l-4-4h-7l-8 8v4l-3 3h-1v8l-3 3v11l-4 4v11l-4 4v18l-3 3v31l3 3v4h1l3 3v4l4 4h4l3 3z" stroke="#ff0060"/>
<path d="M3022 1188h23l7-7v-4l4-3v-42l-4-3v-15l-3-3v-8h-1l-3-3v-8l-4-3v-4l-3-4h-1l-3-3v-1h-4l-4 4v4l-4 3v4l-3 4h-1v7l-3 4v11l-4 3v23l-4 4v14l4 4v11l11 11z" stroke="#ff0048"/>
<path d="M3026 1181h15l8-8v-7l3-3v-23l-3-3v-15l-4-4v-11l-4-4v-4l-3-3h-1l-3-4h-5l-3 4v4l-4 3v8l-3 3h-1v11l-3 4v37l3 4v3l8 8z" stroke="#ff0030"/>
<path d="M3029 1170h9l3-4v-4l4-3v-27l-4-3v-11l-3-4h-1l-3-3v-1h-4l-1 1v3l-3 4v4l-4 3v38l4 3l3 4z" stroke="#ff0018"/>
</g>
<g fill="none" stroke="#000">
<path d="M2135.5 1265V41.3H3677" stroke-width="1.2"/>
<path d="M2135.5 1265H3677V41.3" stroke-width="2"/>
<path d="M2167.6 1265v-15M2167.6 41.3v15M2412.7 1265v-15M2412.7 41.3v15M2657.7 1265v-15M2657.7 41.3v15M2906.5 1265v-15M2906.5 41.3v15M3151.5 1265v-15M3151.5 41.3v15M3396.5 1265v-15M3396.5 41.3v15M3641.5 1265v-15M3641.5 41.3v15M2135.5 284.8h15M3677 284.8h-15M2135.5 527.8h15M3677 527.8h-15M2135.5 774.1h15M3677 774.1h-15M2135.5 1017.5h15M3677 1017.5h-15" stroke-width="1.3"/>
</g>
<g font-family="'Liberation Sans',Arial,Helvetica,sans-serif" font-size="48" fill="#000" opacity=".999">
<text x="2162.6" y="1317.5" text-anchor="middle">-3</text>
<text x="2407.7" y="1317.5" text-anchor="middle">-2</text>
<text x="2652.7" y="1317.5" text-anchor="middle">-1</text>
<text x="2908.5" y="1317.5" text-anchor="middle">0</text>
<text x="3153.5" y="1317.5" text-anchor="middle">1</text>
<text x="3398.5" y="1317.5" text-anchor="middle">2</text>
<text x="3643.5" y="1317.5" text-anchor="middle">3</text>
<text x="2121" y="54.8" text-anchor="end">5</text>
<text x="2121" y="298.3" text-anchor="end">4</text>
<text x="2121" y="541.3" text-anchor="end">3</text>
<text x="2121" y="787.6" text-anchor="end">2</text>
<text x="2121" y="1031" text-anchor="end">1</text>
<text x="2121" y="1278.5" text-anchor="end">0</text>
<text x="2902" y="1378" text-anchor="middle">Phase</text>
<text transform="translate(2056.6,652.5) rotate(-90)" text-anchor="middle">Magnitude</text>
</g>
<g font-family="'Liberation Serif','Times New Roman',serif" font-size="100" fill="#000" opacity=".999">
<text x="872" y="1549.8">(<tspan font-weight="bold">c</tspan>)</text>
<text x="2805" y="1549.8">(<tspan font-weight="bold">d</tspan>)</text>
</g>
</svg>
</body></html>
